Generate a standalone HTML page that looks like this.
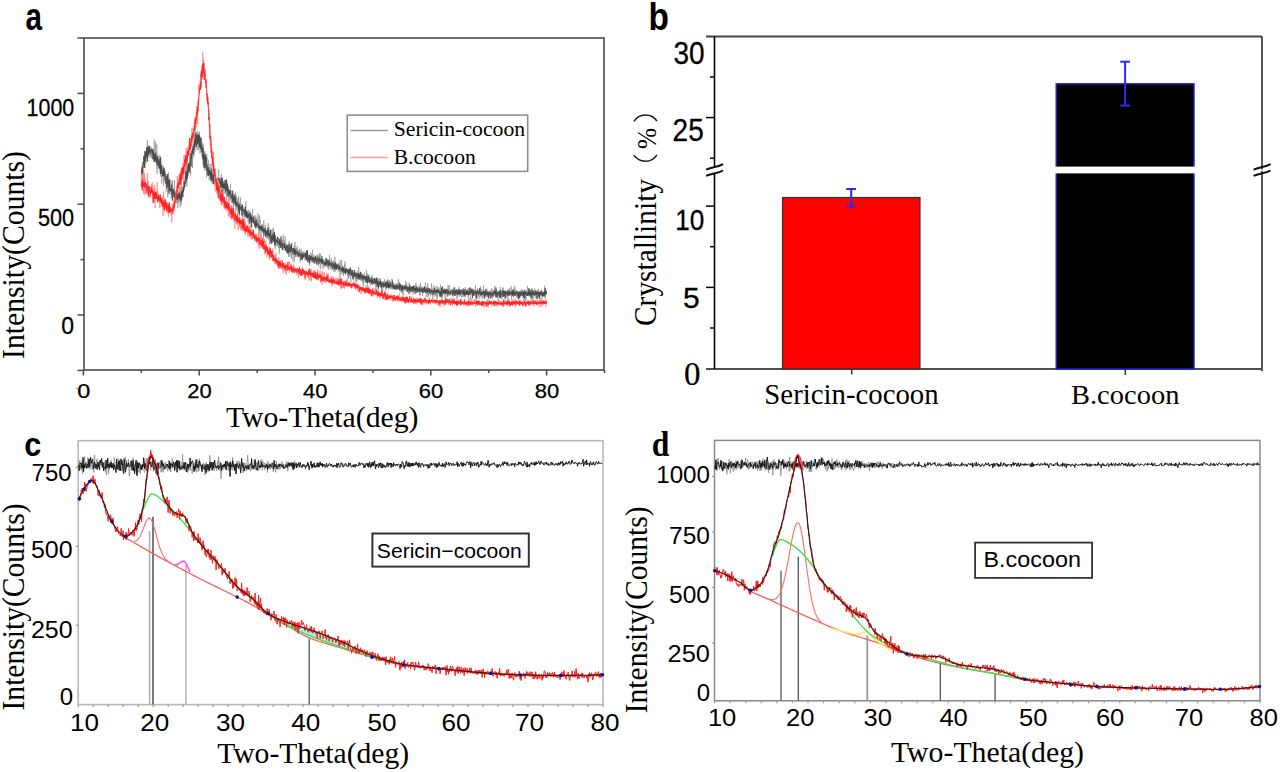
<!DOCTYPE html>
<html><head><meta charset="utf-8"><style>
html,body{margin:0;padding:0;background:#fff;}
svg{display:block;}
</style></head><body>
<svg width="1280" height="772" viewBox="0 0 1280 772">
<rect width="1280" height="772" fill="#fff"/>
<rect x="84" y="38" width="520" height="332" fill="none" stroke="#4a4a4a" stroke-width="1.6"/>
<line x1="77.5" y1="38" x2="84" y2="38" stroke="#4a4a4a" stroke-width="1.5" />
<line x1="77.5" y1="93.4" x2="84" y2="93.4" stroke="#4a4a4a" stroke-width="1.5" />
<line x1="80.5" y1="148.8" x2="84" y2="148.8" stroke="#4a4a4a" stroke-width="1.5" />
<line x1="77.5" y1="204.2" x2="84" y2="204.2" stroke="#4a4a4a" stroke-width="1.5" />
<line x1="80.5" y1="259.6" x2="84" y2="259.6" stroke="#4a4a4a" stroke-width="1.5" />
<line x1="77.5" y1="315" x2="84" y2="315" stroke="#4a4a4a" stroke-width="1.5" />
<line x1="77.5" y1="370.4" x2="84" y2="370.4" stroke="#4a4a4a" stroke-width="1.5" />
<line x1="83.4" y1="370" x2="83.4" y2="375.5" stroke="#4a4a4a" stroke-width="1.5" />
<line x1="141.3" y1="370" x2="141.3" y2="373" stroke="#4a4a4a" stroke-width="1.5" />
<line x1="199.2" y1="370" x2="199.2" y2="375.5" stroke="#4a4a4a" stroke-width="1.5" />
<line x1="257.1" y1="370" x2="257.1" y2="373" stroke="#4a4a4a" stroke-width="1.5" />
<line x1="315" y1="370" x2="315" y2="375.5" stroke="#4a4a4a" stroke-width="1.5" />
<line x1="372.9" y1="370" x2="372.9" y2="373" stroke="#4a4a4a" stroke-width="1.5" />
<line x1="430.8" y1="370" x2="430.8" y2="375.5" stroke="#4a4a4a" stroke-width="1.5" />
<line x1="488.7" y1="370" x2="488.7" y2="373" stroke="#4a4a4a" stroke-width="1.5" />
<line x1="546.6" y1="370" x2="546.6" y2="375.5" stroke="#4a4a4a" stroke-width="1.5" />
<line x1="604.5" y1="370" x2="604.5" y2="373" stroke="#4a4a4a" stroke-width="1.5" />
<text x="74.2" y="116.1" font-family='"Liberation Sans", sans-serif' font-size="24" font-weight="normal" fill="#000" text-anchor="end" textLength="47.6" lengthAdjust="spacingAndGlyphs" stroke="#000" stroke-width="0.3">1000</text>
<text x="74" y="226" font-family='"Liberation Sans", sans-serif' font-size="23" font-weight="normal" fill="#000" text-anchor="end" textLength="36.1" lengthAdjust="spacingAndGlyphs" stroke="#000" stroke-width="0.3">500</text>
<text x="74" y="333.8" font-family='"Liberation Sans", sans-serif' font-size="23" font-weight="normal" fill="#000" text-anchor="end" stroke="#000" stroke-width="0.3">0</text>
<text transform="translate(83.8,398) scale(1.2,1)" font-family='"Liberation Sans", sans-serif' font-size="19.5" text-anchor="middle" stroke="#000" stroke-width="0.25">0</text>
<text x="199.5" y="398" font-family='"Liberation Sans", sans-serif' font-size="19.5" font-weight="normal" fill="#000" text-anchor="middle" textLength="24.5" lengthAdjust="spacingAndGlyphs" stroke="#000" stroke-width="0.25">20</text>
<text x="315.3" y="398" font-family='"Liberation Sans", sans-serif' font-size="19.5" font-weight="normal" fill="#000" text-anchor="middle" textLength="24.5" lengthAdjust="spacingAndGlyphs" stroke="#000" stroke-width="0.25">40</text>
<text x="431.1" y="398" font-family='"Liberation Sans", sans-serif' font-size="19.5" font-weight="normal" fill="#000" text-anchor="middle" textLength="24.5" lengthAdjust="spacingAndGlyphs" stroke="#000" stroke-width="0.25">60</text>
<text x="546.9" y="398" font-family='"Liberation Sans", sans-serif' font-size="19.5" font-weight="normal" fill="#000" text-anchor="middle" textLength="24.5" lengthAdjust="spacingAndGlyphs" stroke="#000" stroke-width="0.25">80</text>
<text x="322.2" y="426.7" font-family='"Liberation Serif", serif' font-size="29" font-weight="normal" fill="#000" text-anchor="middle" textLength="192.5" lengthAdjust="spacingAndGlyphs" >Two-Theta(deg)</text>
<text x="24" y="255" font-family='"Liberation Serif", serif' font-size="31" font-weight="normal" fill="#000" text-anchor="middle" textLength="208" lengthAdjust="spacingAndGlyphs" transform="rotate(-90 24.0 255)">Intensity(Counts)</text>
<text transform="translate(25.6,29.8) scale(0.78,1)" font-family='"Liberation Sans", sans-serif' font-size="38" font-weight="bold">a</text>
<polyline fill="none" stroke="#9a9a9a" stroke-width="0.7" stroke-opacity="1" stroke-linejoin="round" points="141.3,172.1 141.4,176.6 141.5,173.7 141.6,170 141.8,173.8 141.9,167.5 142,172.9 142.1,169.5 142.2,183.7 142.3,169.2 142.5,167.2 142.6,167.3 142.7,162.4 142.8,164.6 142.9,167.7 143,164.7 143.2,165.6 143.3,161.4 143.4,164.5 143.5,158.5 143.6,163.4 143.7,168.2 143.8,163.2 144,167.5 144.1,162.4 144.2,159.4 144.3,166.6 144.4,156.4 144.5,163.1 144.7,161.6 144.8,156.9 144.9,158.6 145,168.1 145.1,163 145.2,153.1 145.4,152 145.5,160.4 145.6,159 145.7,152 145.8,158.1 145.9,153.2 146,163.8 146.2,161.8 146.3,158.7 146.4,151.2 146.5,154.7 146.6,157.6 146.7,156.2 146.9,153 147,153.4 147.1,156.3 147.2,158.7 147.3,140.3 147.4,161.2 147.6,152.8 147.7,148.7 147.8,149.9 147.9,151.2 148,149.7 148.1,148.6 148.2,149.7 148.4,157.1 148.5,156.8 148.6,145.9 148.7,149.6 148.8,149.2 148.9,145.1 149.1,147.6 149.2,153.1 149.3,150.8 149.4,151 149.5,155.9 149.6,151.2 149.8,145.9 149.9,153.4 150,146.2 150.1,148.5 150.2,157.9 150.3,155 150.4,155.1 150.6,148.5 150.7,155.5 150.8,151.9 150.9,150.9 151,147.1 151.1,150.6 151.3,154.2 151.4,155.7 151.5,151.2 151.6,156.7 151.7,156.6 151.8,154.4 152,158.5 152.1,154.4 152.2,155.9 152.3,157.9 152.4,155.7 152.5,149.7 152.6,156 152.8,155.1 152.9,149.1 153,153.1 153.1,154 153.2,155.1 153.3,158.5 153.5,160.9 153.6,148.5 153.7,159.6 153.8,161.8 153.9,157.1 154,155.6 154.2,153 154.3,139.6 154.4,160.2 154.5,158.4 154.6,156.1 154.7,152.8 154.8,153.7 155,158.2 155.1,154.3 155.2,151.7 155.3,157.5 155.4,162.4 155.5,141.8 155.7,148.2 155.8,156.8 155.9,156.4 156,158.8 156.1,159.9 156.2,155.9 156.4,156 156.5,161.4 156.6,158.4 156.7,167.3 156.8,144.2 156.9,156.9 157,173.6 157.2,166.7 157.3,157.6 157.4,157.6 157.5,161.3 157.6,160.2 157.7,164.4 157.9,154.6 158,161.6 158.1,160.2 158.2,168.8 158.3,160 158.4,161.5 158.6,161.4 158.7,164.9 158.8,167.5 158.9,156.5 159,157.1 159.1,161.1 159.2,164.8 159.4,164.6 159.5,165.4 159.6,163.1 159.7,162.6 159.8,164.4 159.9,155.1 160.1,160.9 160.2,171.4 160.3,165.8 160.4,160.8 160.5,167.2 160.6,176.5 160.8,161.3 160.9,165.8 161,169.9 161.1,172.2 161.2,167.9 161.3,165.7 161.4,165.8 161.6,169.3 161.7,183.6 161.8,171.8 161.9,174.4 162,166.6 162.1,164.6 162.3,171 162.4,175.3 162.5,177 162.6,176.1 162.7,168.7 162.8,170.7 163,169 163.1,171.8 163.2,165.8 163.3,172 163.4,169.6 163.5,185.6 163.6,172.7 163.8,169.6 163.9,169.3 164,178.6 164.1,176.3 164.2,182.1 164.3,170.7 164.5,178.3 164.6,174.3 164.7,176.1 164.8,177.4 164.9,176.4 165,172.9 165.2,174.5 165.3,173.8 165.4,180.5 165.5,171.3 165.6,178.9 165.7,179.7 165.8,180.7 166,178.4 166.1,179 166.2,191.8 166.3,181.2 166.4,183.5 166.5,182.1 166.7,181.8 166.8,183.2 166.9,188.7 167,174.2 167.1,181.7 167.2,178.8 167.4,177.2 167.5,185.3 167.6,177 167.7,186.5 167.8,197.6 167.9,181.8 168,180.5 168.2,191.8 168.3,186.9 168.4,187.3 168.5,172.3 168.6,179.1 168.7,184.1 168.9,185.1 169,177.6 169.1,189.9 169.2,188.7 169.3,183.6 169.4,186.4 169.6,190.4 169.7,190.3 169.8,187.8 169.9,190.3 170,183 170.1,190 170.2,183.7 170.4,189.4 170.5,187.8 170.6,190.1 170.7,191.2 170.8,179.5 170.9,186.4 171.1,195.1 171.2,193.5 171.3,198.7 171.4,190.8 171.5,196.8 171.6,190.5 171.8,191.4 171.9,181.8 172,195.4 172.1,193.7 172.2,196.2 172.3,190.7 172.5,180.5 172.6,193.2 172.7,192.8 172.8,194.6 172.9,189.2 173,188 173.1,189.5 173.3,191.5 173.4,188.6 173.5,191.6 173.6,192.5 173.7,193.5 173.8,189.9 174,193.5 174.1,191.7 174.2,195.3 174.3,191.1 174.4,180.2 174.5,192.6 174.7,196.2 174.8,190.9 174.9,200.4 175,194.9 175.1,194.1 175.2,196 175.3,195.9 175.5,191.4 175.6,194.1 175.7,196.9 175.8,195.5 175.9,202.4 176,198.8 176.2,203.5 176.3,196.8 176.4,189.3 176.5,197.2 176.6,197 176.7,196.5 176.9,202.7 177,197.6 177.1,200.3 177.2,199.6 177.3,202.9 177.4,191.7 177.5,198 177.7,195.3 177.8,195.3 177.9,208.3 178,199.5 178.1,198 178.2,194.1 178.4,195.5 178.5,202.5 178.6,199.3 178.7,194.3 178.8,195.8 178.9,196.6 179.1,195.2 179.2,194.4 179.3,200.2 179.4,195.7 179.5,199.5 179.6,198.2 179.7,197.2 179.9,195.9 180,198.4 180.1,192.6 180.2,207.3 180.3,198.1 180.4,187.1 180.6,194.9 180.7,196.3 180.8,192 180.9,188 181,194.1 181.1,197.8 181.3,204.7 181.4,194.3 181.5,198.3 181.6,201.5 181.7,194 181.8,195.8 181.9,190.5 182.1,199.2 182.2,187.4 182.3,195.8 182.4,192.7 182.5,191.9 182.6,193.2 182.8,197.6 182.9,193.8 183,192.1 183.1,191.4 183.2,193.2 183.3,196.5 183.5,190.1 183.6,189.8 183.7,188.5 183.8,180.5 183.9,186.1 184,187.5 184.1,188.5 184.3,180.8 184.4,182.6 184.5,186.4 184.6,181.6 184.7,187.3 184.8,182.5 185,176.6 185.1,180 185.2,179 185.3,182.2 185.4,171.4 185.5,177 185.7,164.7 185.8,183.6 185.9,181.5 186,176 186.1,179 186.2,179.6 186.3,183.3 186.5,170.1 186.6,169.7 186.7,160.2 186.8,186.4 186.9,166.7 187,176.4 187.2,173.9 187.3,168.2 187.4,174.7 187.5,174.6 187.6,175.5 187.7,172.7 187.9,173.9 188,169.6 188.1,167.9 188.2,167.5 188.3,167.3 188.4,170.9 188.5,166.7 188.7,171.5 188.8,172.2 188.9,168.9 189,169.7 189.1,165.9 189.2,165.4 189.4,169 189.5,162.2 189.6,162.7 189.7,155.7 189.8,157.2 189.9,165 190.1,156.9 190.2,160.8 190.3,161 190.4,156.7 190.5,167.5 190.6,175.4 190.7,156.1 190.9,157.2 191,155.2 191.1,155.2 191.2,153.6 191.3,154.3 191.4,157.1 191.6,155.9 191.7,151.1 191.8,158.5 191.9,155.1 192,152.5 192.1,165.3 192.3,150.9 192.4,147.5 192.5,166.9 192.6,168 192.7,146.2 192.8,149.8 192.9,151.1 193.1,144.8 193.2,157.7 193.3,142.6 193.4,146.1 193.5,147.9 193.6,143.6 193.8,144.9 193.9,149.3 194,155.9 194.1,143.2 194.2,153.7 194.3,139 194.5,146.8 194.6,139.8 194.7,135.3 194.8,151.5 194.9,151.8 195,130.9 195.1,141.9 195.3,133.2 195.4,142.4 195.5,145.2 195.6,140.2 195.7,138.9 195.8,145.3 196,139.9 196.1,132.1 196.2,147.8 196.3,143.5 196.4,137.6 196.5,140.3 196.7,138 196.8,142 196.9,136.1 197,145.4 197.1,150.1 197.2,134.5 197.3,130.6 197.5,135.2 197.6,144.8 197.7,137.6 197.8,145.1 197.9,140.9 198,143.7 198.2,132.4 198.3,138.3 198.4,135.4 198.5,147.3 198.6,149.9 198.7,142.7 198.9,137.5 199,135.2 199.1,146.6 199.2,132.9 199.3,141.7 199.4,131.4 199.5,136.6 199.7,134.7 199.8,144.4 199.9,145.2 200,153.6 200.1,150.8 200.2,137.6 200.4,146.6 200.5,145 200.6,137.5 200.7,147.5 200.8,147 200.9,144.7 201.1,151.6 201.2,149.6 201.3,152.6 201.4,137 201.5,150.8 201.6,147.9 201.7,143.1 201.9,142.1 202,157.3 202.1,151.4 202.2,148.4 202.3,143.3 202.4,154.1 202.6,155.5 202.7,156.1 202.8,154.5 202.9,155.2 203,164.8 203.1,151.3 203.3,152.7 203.4,152.2 203.5,143.9 203.6,156 203.7,152.4 203.8,158.6 203.9,160.2 204.1,155.7 204.2,151.2 204.3,161.8 204.4,159.4 204.5,163.2 204.6,156.7 204.8,151.3 204.9,171.2 205,161.6 205.1,159 205.2,161.6 205.3,160.5 205.5,169 205.6,164.4 205.7,161.7 205.8,167.6 205.9,162.1 206,153.7 206.1,162.7 206.3,167.5 206.4,162.2 206.5,177.7 206.6,163.1 206.7,174.1 206.8,154.3 207,163.2 207.1,174 207.2,167 207.3,168.3 207.4,163.9 207.5,169.7 207.7,169 207.8,175.5 207.9,170 208,172.9 208.1,174.3 208.2,166.1 208.3,159.7 208.5,174 208.6,171.1 208.7,169.8 208.8,173.9 208.9,172.4 209,172.1 209.2,180 209.3,175.1 209.4,164 209.5,166.2 209.6,166.7 209.7,170.6 209.9,167.2 210,174.1 210.1,174.3 210.2,180.5 210.3,177.6 210.4,171.8 210.5,174.5 210.7,176.1 210.8,178.4 210.9,176.9 211,163.8 211.1,173.7 211.2,170.8 211.4,173.7 211.5,180.4 211.6,177.2 211.7,182 211.8,176.9 211.9,177.3 212.1,178 212.2,184.2 212.3,176.2 212.4,175.6 212.5,179.5 212.6,180.7 212.7,173.7 212.9,181.5 213,175.7 213.1,181.9 213.2,178.3 213.3,174.3 213.4,182 213.6,177.1 213.7,176.6 213.8,178.6 213.9,176.4 214,180.6 214.1,182.8 214.3,183.4 214.4,184 214.5,178.1 214.6,182.9 214.7,180.2 214.8,182.6 214.9,173 215.1,176.8 215.2,182.2 215.3,174.9 215.4,181 215.5,180.2 215.6,172.1 215.8,177.6 215.9,187.1 216,181.6 216.1,183.9 216.2,182.1 216.3,180.5 216.5,182.1 216.6,181.4 216.7,181.7 216.8,184.4 216.9,183.2 217,186.1 217.1,176.9 217.3,181.6 217.4,178.4 217.5,182.9 217.6,179.1 217.7,184.9 217.8,184.2 218,178.8 218.1,183.9 218.2,181.4 218.3,183.3 218.4,183 218.5,190.5 218.7,169.3 218.8,177.6 218.9,184.4 219,183 219.1,182.9 219.2,189 219.3,182.4 219.5,185 219.6,181.7 219.7,185.9 219.8,188.7 219.9,184.5 220,181.1 220.2,180.2 220.3,177 220.4,182.4 220.5,186.5 220.6,177.4 220.7,184 220.9,183.6 221,193 221.1,188.6 221.2,186 221.3,178 221.4,179.5 221.5,187 221.7,174 221.8,183.1 221.9,187 222,183.4 222.1,181.8 222.2,183.4 222.4,192.2 222.5,177.6 222.6,185.3 222.7,190.5 222.8,183.7 222.9,181.5 223.1,185.1 223.2,188.3 223.3,195.9 223.4,188.2 223.5,189.6 223.6,188.3 223.7,184.1 223.9,185.4 224,182.1 224.1,187.4 224.2,182.5 224.3,183.5 224.4,181.5 224.6,189.3 224.7,185.1 224.8,194 224.9,187.4 225,187.3 225.1,185.2 225.3,185.8 225.4,193.4 225.5,183.4 225.6,191 225.7,186.3 225.8,189.9 225.9,181.3 226.1,185.2 226.2,193.5 226.3,183.3 226.4,202.2 226.5,202.3 226.6,184.2 226.8,185.2 226.9,186.7 227,185.1 227.1,196.4 227.2,189.3 227.3,184.7 227.5,193.7 227.6,191.5 227.7,187 227.8,190.3 227.9,194.9 228,191.3 228.1,189.1 228.3,190.5 228.4,191.2 228.5,186.3 228.6,192.6 228.7,201.2 228.8,191.8 229,197.8 229.1,190.8 229.2,189.6 229.3,191.8 229.4,194.6 229.5,192.5 229.7,189.8 229.8,197.7 229.9,199.1 230,193.5 230.1,197.2 230.2,196.2 230.4,197.1 230.5,184.1 230.6,198.2 230.7,194.6 230.8,199.8 230.9,193.2 231,194.4 231.2,202.5 231.3,196.6 231.4,198.3 231.5,196.5 231.6,199.6 231.7,196.1 231.9,199.5 232,202.8 232.1,198 232.2,194.9 232.3,193.2 232.4,193.8 232.6,200.2 232.7,196.5 232.8,201.4 232.9,197.1 233,201.5 233.1,199 233.2,197.9 233.4,201.8 233.5,213.1 233.6,200.1 233.7,203 233.8,203.2 233.9,196.4 234.1,198.5 234.2,198.2 234.3,199.1 234.4,195.7 234.5,204.1 234.6,205.1 234.8,202.2 234.9,194.8 235,200 235.1,196.1 235.2,205.5 235.3,204.8 235.4,201 235.6,191.8 235.7,199 235.8,204.6 235.9,210.9 236,199.4 236.1,201.7 236.3,199.9 236.4,204.7 236.5,195.5 236.6,198.8 236.7,208.9 236.8,205.1 237,198.2 237.1,200.2 237.2,204.9 237.3,203.2 237.4,202.7 237.5,205.5 237.6,203.5 237.8,212.6 237.9,204.8 238,201.5 238.1,205.6 238.2,201 238.3,200.9 238.5,198.1 238.6,205.3 238.7,196.2 238.8,200.8 238.9,204.3 239,207.7 239.2,203.9 239.3,205.1 239.4,207.2 239.5,202.7 239.6,204.4 239.7,208.6 239.8,204.8 240,205 240.1,205.8 240.2,207.4 240.3,205.8 240.4,203.1 240.5,197.5 240.7,208.1 240.8,204.3 240.9,205.1 241,207.8 241.1,208.5 241.2,209.4 241.4,215.1 241.5,203.8 241.6,205.8 241.7,211.7 241.8,214.6 241.9,211.1 242,210.1 242.2,208.2 242.3,211.1 242.4,207 242.5,208.1 242.6,205.4 242.7,209.6 242.9,209.1 243,210.7 243.1,215.6 243.2,213.6 243.3,209.3 243.4,208.9 243.6,217 243.7,211.4 243.8,213.7 243.9,208.5 244,206.7 244.1,214 244.2,209.5 244.4,212.8 244.5,212.2 244.6,216.6 244.7,215.2 244.8,210.8 244.9,208.8 245.1,213.4 245.2,215.6 245.3,215.4 245.4,213.2 245.5,214.7 245.6,217.3 245.8,201.3 245.9,209 246,217.7 246.1,211.7 246.2,212.1 246.3,211.3 246.4,216.2 246.6,216.5 246.7,214.5 246.8,215.3 246.9,212.1 247,212 247.1,214.8 247.3,217.9 247.4,212.7 247.5,216.9 247.6,214.5 247.7,214.1 247.8,218.1 248,213.3 248.1,209.8 248.2,221.7 248.3,218.6 248.4,217.6 248.5,218.3 248.6,212.8 248.8,212.8 248.9,224.5 249,210 249.1,220.2 249.2,216.7 249.3,212.6 249.5,216.4 249.6,212.6 249.7,217 249.8,221.7 249.9,218.1 250,220.5 250.2,216.1 250.3,216.3 250.4,219.8 250.5,213.1 250.6,218 250.7,211.5 250.8,220 251,223.1 251.1,217.7 251.2,215.4 251.3,216.7 251.4,218.2 251.5,222 251.7,217.2 251.8,220.9 251.9,221.7 252,215.3 252.1,215.8 252.2,222.1 252.4,219.3 252.5,218.6 252.6,209.1 252.7,218.7 252.8,218.5 252.9,223.1 253,221.4 253.2,223.1 253.3,216.8 253.4,217.2 253.5,222.4 253.6,216.2 253.7,216.2 253.9,223.6 254,219.4 254.1,216.8 254.2,223.4 254.3,226.6 254.4,225.5 254.6,222 254.7,219.9 254.8,226.5 254.9,215 255,225.1 255.1,217.1 255.2,223.6 255.4,228.8 255.5,228.9 255.6,225.9 255.7,221 255.8,223.6 255.9,216.8 256.1,222.9 256.2,223.2 256.3,221.9 256.4,225.2 256.5,219.6 256.6,228.3 256.8,219.6 256.9,226.1 257,220.5 257.1,226.9 257.2,223 257.3,224 257.4,226.2 257.6,225.2 257.7,228 257.8,213.1 257.9,227.2 258,226.4 258.1,223.7 258.3,224.9 258.4,222.2 258.5,227.2 258.6,228.5 258.7,235.2 258.8,229.9 259,216.8 259.1,227.4 259.2,230.5 259.3,231.2 259.4,226.1 259.5,222.4 259.6,214.9 259.8,225.4 259.9,221.1 260,222.6 260.1,220 260.2,232.1 260.3,229.1 260.5,228.9 260.6,226.4 260.7,230.9 260.8,228.5 260.9,226.4 261,235 261.2,230.5 261.3,230.8 261.4,225.9 261.5,228.5 261.6,229.3 261.7,229.4 261.8,225.6 262,230 262.1,224.2 262.2,228.5 262.3,228.5 262.4,230.5 262.5,231.4 262.7,227.2 262.8,231.6 262.9,230.2 263,232.5 263.1,224.8 263.2,230.1 263.4,229 263.5,239.3 263.6,236.8 263.7,232.6 263.8,220.3 263.9,236.3 264,228.6 264.2,233 264.3,228.6 264.4,228.5 264.5,231.9 264.6,232.4 264.7,231.4 264.9,229.6 265,230.9 265.1,232 265.2,230.3 265.3,232.8 265.4,224.9 265.6,232.1 265.7,231.5 265.8,234.4 265.9,232.5 266,231.7 266.1,235.9 266.2,233.5 266.4,230.7 266.5,234.9 266.6,230.8 266.7,230.1 266.8,239.1 266.9,233.3 267.1,237.3 267.2,230.9 267.3,236.7 267.4,233.1 267.5,237.9 267.6,231.7 267.8,233.9 267.9,236.5 268,232.5 268.1,235.1 268.2,223 268.3,237.5 268.4,239.8 268.6,236.3 268.7,236.3 268.8,226.3 268.9,235.2 269,233.3 269.1,230.9 269.3,234.4 269.4,244.3 269.5,239.5 269.6,237.4 269.7,235.1 269.8,232 270,238.2 270.1,233 270.2,235.9 270.3,234.7 270.4,235.1 270.5,237.6 270.6,229.4 270.8,233.9 270.9,236 271,242.6 271.1,234.7 271.2,236.9 271.3,230 271.5,239.5 271.6,238.3 271.7,243.3 271.8,234.5 271.9,241 272,237 272.2,239.9 272.3,229.3 272.4,236 272.5,236 272.6,241.2 272.7,237.7 272.8,242 273,236.3 273.1,240.4 273.2,235.8 273.3,227.5 273.4,237.2 273.5,241.1 273.7,238.7 273.8,237.7 273.9,239.2 274,231.9 274.1,242.6 274.2,237 274.4,237.9 274.5,239.7 274.6,245.6 274.7,244.5 274.8,237.4 274.9,240.4 275,245.9 275.2,249.1 275.3,238 275.4,239.4 275.5,239.4 275.6,245.3 275.7,241.9 275.9,239.8 276,242 276.1,242.6 276.2,241.7 276.3,244.1 276.4,244.3 276.6,241.6 276.7,243.3 276.8,240.8 276.9,246 277,238.1 277.1,239.2 277.2,243.7 277.4,245.4 277.5,240.1 277.6,243.1 277.7,242.4 277.8,243 277.9,240.3 278.1,246.5 278.2,242.7 278.3,243.7 278.4,237.2 278.5,243.2 278.6,248 278.8,242.3 278.9,243.5 279,242.1 279.1,243.7 279.2,244.7 279.3,253.6 279.4,244.4 279.6,242 279.7,245.4 279.8,240.8 279.9,248 280,243.1 280.1,244.6 280.3,244.2 280.4,246.3 280.5,243.7 280.6,245.9 280.7,243.5 280.8,244.8 281,239.4 281.1,243.3 281.2,240.6 281.3,244.5 281.4,243.9 281.5,243.1 281.6,245.4 281.8,248.6 281.9,243.1 282,246.4 282.1,245.6 282.2,242.1 282.3,239.9 282.5,244.5 282.6,247.1 282.7,240.7 282.8,247.6 282.9,240.6 283,250.3 283.2,234.7 283.3,241 283.4,246.7 283.5,245.5 283.6,243.9 283.7,245.7 283.8,244.8 284,247.3 284.1,245.7 284.2,245.8 284.3,247.9 284.4,239.9 284.5,246.4 284.7,248.3 284.8,249.4 284.9,245.6 285,248 285.1,236.1 285.2,250.3 285.4,243.6 285.5,249.9 285.6,250.7 285.7,245.5 285.8,245.4 285.9,245.6 286,247.2 286.2,245.8 286.3,247.9 286.4,243.4 286.5,252.4 286.6,246.4 286.7,247.2 286.9,246.1 287,249.4 287.1,253.9 287.2,244.8 287.3,253.3 287.4,245.9 287.6,249.2 287.7,252.8 287.8,246.7 287.9,248.9 288,246.6 288.1,249.7 288.3,246.7 288.4,249.1 288.5,243.7 288.6,257 288.7,249.9 288.8,246.3 288.9,249.7 289.1,241 289.2,246.2 289.3,245 289.4,247.9 289.5,244.2 289.6,245.9 289.8,249.4 289.9,254.5 290,256.4 290.1,256.7 290.2,243.6 290.3,251.5 290.5,254.7 290.6,250.4 290.7,247.1 290.8,251.3 290.9,250.9 291,247.3 291.1,250.5 291.3,244.2 291.4,258.6 291.5,250.1 291.6,245.5 291.7,251.7 291.8,251.2 292,248.9 292.1,251.1 292.2,252.8 292.3,250 292.4,248 292.5,252.1 292.7,255 292.8,248.3 292.9,261.4 293,251.4 293.1,248 293.2,252.1 293.3,253 293.5,254.1 293.6,253.3 293.7,252.5 293.8,253.3 293.9,251.8 294,252 294.2,245.7 294.3,253.5 294.4,262.2 294.5,259.3 294.6,253.5 294.7,250.9 294.9,255.8 295,242 295.1,253.2 295.2,248.1 295.3,256.7 295.4,257.3 295.5,249.7 295.7,253.7 295.8,254.6 295.9,252.3 296,251.9 296.1,248.9 296.2,250.4 296.4,247.8 296.5,253.8 296.6,256.1 296.7,256.4 296.8,247.9 296.9,255.9 297.1,257.2 297.2,254.1 297.3,245.8 297.4,252 297.5,251.6 297.6,253.6 297.7,252.6 297.9,254.3 298,253.1 298.1,253.4 298.2,257.2 298.3,255.7 298.4,250.4 298.6,254.5 298.7,256.8 298.8,254.4 298.9,254.7 299,251.6 299.1,256.2 299.3,256.1 299.4,248.7 299.5,252.1 299.6,249.6 299.7,254.3 299.8,255 299.9,256.1 300.1,254.7 300.2,262.3 300.3,254.6 300.4,259.9 300.5,255.4 300.6,251 300.8,260.6 300.9,250.6 301,252.4 301.1,256.6 301.2,248.6 301.3,253.7 301.5,255.6 301.6,252.2 301.7,255.6 301.8,254.2 301.9,256.7 302,259.3 302.1,256.2 302.3,256.7 302.4,255.2 302.5,255.4 302.6,252.1 302.7,256.4 302.8,253.8 303,256.2 303.1,254.9 303.2,256.1 303.3,254.6 303.4,254.9 303.5,251.3 303.7,254 303.8,257.5 303.9,258.3 304,251.1 304.1,252.9 304.2,254.6 304.3,253.4 304.5,255.8 304.6,256.8 304.7,255.9 304.8,257 304.9,260.2 305,260.8 305.2,260.5 305.3,255.1 305.4,256.5 305.5,254.5 305.6,258.6 305.7,253.8 305.9,258 306,254.9 306.1,256.5 306.2,254.7 306.3,260.5 306.4,253.5 306.5,256.4 306.7,255.6 306.8,259.5 306.9,258.4 307,257.5 307.1,258.3 307.2,261.3 307.4,260 307.5,256.5 307.6,258.4 307.7,256.6 307.8,255.5 307.9,254.2 308.1,259.7 308.2,260.2 308.3,257.7 308.4,257 308.5,258.7 308.6,255 308.7,257.4 308.9,255.6 309,260 309.1,255.1 309.2,255.6 309.3,264 309.4,258 309.6,255.1 309.7,265.7 309.8,258.4 309.9,261.4 310,254.7 310.1,255.6 310.3,256.7 310.4,258.4 310.5,257.5 310.6,256.5 310.7,254.8 310.8,256.7 310.9,252.6 311.1,260.2 311.2,257.8 311.3,254.5 311.4,254.9 311.5,258.7 311.6,259.9 311.8,262.6 311.9,255.9 312,259.3 312.1,261.8 312.2,260.2 312.3,253.7 312.5,250 312.6,260.4 312.7,260.9 312.8,256.7 312.9,257.1 313,258 313.1,258.3 313.3,260.2 313.4,257.5 313.5,256.7 313.6,258.5 313.7,260.7 313.8,257.1 314,254.7 314.1,264 314.2,262.9 314.3,258.6 314.4,257.5 314.5,263.6 314.7,257 314.8,257.9 314.9,261.8 315,258.3 315.1,259.3 315.2,261.5 315.3,260.2 315.5,259.8 315.6,262.6 315.7,256.9 315.8,261.3 315.9,263.4 316,263.7 316.2,260.1 316.3,261.2 316.4,261.8 316.5,255.5 316.6,255 316.7,255.6 316.9,263.5 317,255.8 317.1,260.1 317.2,262.2 317.3,260.6 317.4,255.9 317.5,259.5 317.7,255.4 317.8,264.9 317.9,260.2 318,256.9 318.1,259.1 318.2,262.7 318.4,255.4 318.5,266.2 318.6,263 318.7,258.7 318.8,264.5 318.9,261.6 319.1,255.8 319.2,260.9 319.3,253.1 319.4,262 319.5,257.3 319.6,259.6 319.7,262.2 319.9,260.8 320,260.7 320.1,258.8 320.2,264.5 320.3,267.2 320.4,268.8 320.6,261.3 320.7,253.7 320.8,266.3 320.9,261.6 321,264 321.1,261.2 321.3,260.2 321.4,261.2 321.5,259.8 321.6,260 321.7,262.6 321.8,260.2 321.9,260.1 322.1,262.2 322.2,263.1 322.3,259.3 322.4,259.1 322.5,259.8 322.6,264.4 322.8,262.4 322.9,262.7 323,258.9 323.1,269.1 323.2,264.2 323.3,261.4 323.5,266 323.6,262.7 323.7,262.6 323.8,263.3 323.9,260.7 324,261.1 324.1,263.2 324.3,262.3 324.4,266.5 324.5,265.3 324.6,263.6 324.7,266.2 324.8,260.2 325,262.9 325.1,264.3 325.2,265.2 325.3,262.3 325.4,258.4 325.5,265.3 325.7,265.9 325.8,262.3 325.9,266.2 326,263.3 326.1,257.7 326.2,258.9 326.3,263.1 326.5,264 326.6,263.2 326.7,261.8 326.8,260.6 326.9,262.4 327,262.9 327.2,266.7 327.3,264 327.4,268.1 327.5,263.6 327.6,264.9 327.7,267.2 327.9,263.3 328,263.4 328.1,264.9 328.2,266.4 328.3,265.3 328.4,264.6 328.5,269.9 328.7,262.4 328.8,264.9 328.9,268.9 329,259.8 329.1,262.9 329.2,260.5 329.4,264.2 329.5,264.2 329.6,254.9 329.7,265.1 329.8,262.8 329.9,260.4 330.1,266.5 330.2,266.4 330.3,265.8 330.4,267.5 330.5,263.8 330.6,267.9 330.7,264.2 330.9,265.6 331,261.7 331.1,264.5 331.2,266.8 331.3,270.4 331.4,258.4 331.6,267.3 331.7,260.6 331.8,266.2 331.9,267.4 332,263.3 332.1,267.4 332.3,264.6 332.4,267.3 332.5,267.3 332.6,268.4 332.7,264.4 332.8,268.3 332.9,266.6 333.1,268.4 333.2,270.2 333.3,260.8 333.4,262.4 333.5,267.9 333.6,260.7 333.8,271.6 333.9,265.7 334,267.9 334.1,264.6 334.2,264.4 334.3,269.8 334.5,261.3 334.6,270.8 334.7,267.9 334.8,262.3 334.9,272 335,257 335.1,265.4 335.3,266 335.4,264.5 335.5,268.1 335.6,267.3 335.7,269.5 335.8,265.1 336,266.8 336.1,267.5 336.2,263.7 336.3,267.2 336.4,264.1 336.5,269.6 336.7,263.1 336.8,266.1 336.9,264.7 337,264.8 337.1,267.3 337.2,269.9 337.3,268.9 337.5,268.3 337.6,266.9 337.7,265.7 337.8,266.9 337.9,268.1 338,264.8 338.2,265.9 338.3,265.8 338.4,269.8 338.5,270.3 338.6,270.6 338.7,271.1 338.9,262.5 339,268.9 339.1,270 339.2,271.9 339.3,268 339.4,266.1 339.5,268.7 339.7,269.9 339.8,267.6 339.9,266 340,277.4 340.1,269.3 340.2,260.3 340.4,268 340.5,269.1 340.6,275 340.7,268.5 340.8,265.4 340.9,265.7 341.1,273.4 341.2,272.2 341.3,269.4 341.4,268.8 341.5,266.8 341.6,259.8 341.7,264.3 341.9,271 342,268.6 342.1,270.3 342.2,269.2 342.3,266.1 342.4,265.5 342.6,266.2 342.7,271.9 342.8,267 342.9,268.2 343,275 343.1,270.6 343.3,266.6 343.4,270.7 343.5,269 343.6,275.8 343.7,270 343.8,270.3 343.9,271.5 344.1,270.8 344.2,267.4 344.3,268.9 344.4,271.6 344.5,270.9 344.6,264.4 344.8,270.7 344.9,269.1 345,261.3 345.1,267.5 345.2,267.2 345.3,268.8 345.5,271.7 345.6,272.8 345.7,268.9 345.8,272.7 345.9,271.9 346,268 346.2,269.9 346.3,272.9 346.4,272.4 346.5,268 346.6,272.4 346.7,270.7 346.8,272.8 347,271.7 347.1,271.6 347.2,271.2 347.3,271.5 347.4,276 347.5,273.5 347.7,270.4 347.8,277.4 347.9,275.1 348,270.3 348.1,269.9 348.2,272.6 348.4,270.6 348.5,278.8 348.6,274.7 348.7,268.8 348.8,272.1 348.9,273.2 349,271.5 349.2,268.9 349.3,272.7 349.4,274.2 349.5,277.4 349.6,272.3 349.7,271.2 349.9,269.9 350,270.5 350.1,271.2 350.2,274.7 350.3,274.3 350.4,272.3 350.6,273 350.7,270.1 350.8,281.7 350.9,269.1 351,272.8 351.1,275.4 351.2,275.3 351.4,272.7 351.5,273.1 351.6,272.4 351.7,273.4 351.8,272.4 351.9,270.1 352.1,270.7 352.2,270.4 352.3,274.5 352.4,275.5 352.5,270 352.6,275 352.8,275.1 352.9,271.9 353,274.8 353.1,277.4 353.2,271.6 353.3,273.7 353.4,273.3 353.6,280.6 353.7,276.4 353.8,275.1 353.9,272.4 354,276.5 354.1,273.5 354.3,274.7 354.4,276.3 354.5,275.2 354.6,275.3 354.7,273.2 354.8,272.5 355,273.7 355.1,274.6 355.2,278.5 355.3,274.6 355.4,273.2 355.5,273.1 355.6,273 355.8,281.8 355.9,275.5 356,273.7 356.1,274.6 356.2,278 356.3,272.5 356.5,275.5 356.6,282.7 356.7,276.8 356.8,274 356.9,278.2 357,272.8 357.2,273 357.3,270.9 357.4,275.3 357.5,274.7 357.6,274.9 357.7,275.2 357.8,274.5 358,274.9 358.1,280.5 358.2,278.6 358.3,277.4 358.4,277.2 358.5,274.5 358.7,267.1 358.8,276.1 358.9,274.8 359,275.6 359.1,276.5 359.2,272.6 359.4,273.2 359.5,277.7 359.6,278.4 359.7,277.3 359.8,276.7 359.9,276.3 360,275.3 360.2,277.1 360.3,276.6 360.4,280.6 360.5,273.7 360.6,271.7 360.7,274.8 360.9,277.9 361,275.6 361.1,276.6 361.2,277.9 361.3,276.5 361.4,272.9 361.6,275.1 361.7,281 361.8,277 361.9,275.2 362,277.9 362.1,274.8 362.2,276.2 362.4,282.1 362.5,275.6 362.6,281.2 362.7,277.6 362.8,282.9 362.9,283.5 363.1,280.6 363.2,275.8 363.3,276.7 363.4,286.3 363.5,274.5 363.6,277.3 363.8,276.4 363.9,275.8 364,278.9 364.1,275.7 364.2,279.3 364.3,278.9 364.4,275.3 364.6,272.6 364.7,276.4 364.8,276.6 364.9,279.3 365,281.3 365.1,283 365.3,278.3 365.4,276.7 365.5,279.4 365.6,277.8 365.7,278.4 365.8,277.6 366,277.6 366.1,278.8 366.2,277.9 366.3,279.5 366.4,280 366.5,270.4 366.6,275 366.8,280.5 366.9,275.9 367,276.5 367.1,283.9 367.2,287.5 367.3,279.4 367.5,273.6 367.6,278.8 367.7,280.7 367.8,278.5 367.9,280.8 368,282.4 368.2,276.6 368.3,278.9 368.4,279 368.5,276.7 368.6,281.4 368.7,279.3 368.8,281.5 369,274.4 369.1,278.5 369.2,282.1 369.3,281.7 369.4,278.4 369.5,278.9 369.7,277.9 369.8,278.7 369.9,282.3 370,280.5 370.1,279.5 370.2,283.4 370.4,285.6 370.5,282.6 370.6,278.1 370.7,282.7 370.8,279.3 370.9,280 371,278.6 371.2,281.9 371.3,280.8 371.4,278.5 371.5,282.4 371.6,277.1 371.7,281.6 371.9,280.5 372,279.6 372.1,274.8 372.2,280 372.3,279.7 372.4,281.7 372.6,282.4 372.7,279.4 372.8,279.7 372.9,282.5 373,282.9 373.1,278.9 373.2,283.1 373.4,282.7 373.5,282.5 373.6,284.5 373.7,278.1 373.8,280.9 373.9,281.8 374.1,283 374.2,283.5 374.3,281.5 374.4,281.3 374.5,280.2 374.6,281.7 374.8,281.3 374.9,281.5 375,280.1 375.1,280.3 375.2,285.1 375.3,281.8 375.4,283.1 375.6,278.3 375.7,280.9 375.8,280.8 375.9,290.6 376,278.5 376.1,282.9 376.3,283.7 376.4,287.2 376.5,284.4 376.6,282.8 376.7,277.8 376.8,283.6 377,281.1 377.1,279.9 377.2,282.7 377.3,283.8 377.4,282.5 377.5,279.6 377.6,282.1 377.8,281.5 377.9,284.3 378,282.2 378.1,282 378.2,278.7 378.3,286.1 378.5,282.3 378.6,288.1 378.7,279.5 378.8,285.3 378.9,282.9 379,281 379.2,281.6 379.3,284.3 379.4,287 379.5,282.9 379.6,284.6 379.7,283.7 379.8,282 380,277.9 380.1,283 380.2,282.6 380.3,278.5 380.4,281.9 380.5,282.5 380.7,281.8 380.8,287.2 380.9,284.9 381,281.6 381.1,286.1 381.2,282.1 381.4,282 381.5,292.1 381.6,282.4 381.7,284.8 381.8,283.3 381.9,287.2 382,285.7 382.2,282.3 382.3,281.6 382.4,287.8 382.5,286.2 382.6,292.4 382.7,283.7 382.9,285.7 383,285.2 383.1,285.8 383.2,281.1 383.3,286.8 383.4,287.9 383.6,287.1 383.7,286.2 383.8,282.1 383.9,281.5 384,282.7 384.1,286.6 384.2,283.6 384.4,280.8 384.5,282 384.6,279.1 384.7,287 384.8,286.6 384.9,284.4 385.1,285.8 385.2,287.2 385.3,284.7 385.4,281.5 385.5,285.9 385.6,290.5 385.8,288.4 385.9,285.6 386,289.5 386.1,288.7 386.2,288 386.3,285.4 386.4,282.9 386.6,285.7 386.7,284.4 386.8,284.6 386.9,282.4 387,284.7 387.1,286.5 387.3,284.5 387.4,284.3 387.5,283.4 387.6,284.9 387.7,279.3 387.8,282.6 388,286.4 388.1,280.3 388.2,283.9 388.3,288.7 388.4,282.2 388.5,289.4 388.6,284.7 388.8,286.6 388.9,284.1 389,287.9 389.1,281.9 389.2,285.3 389.3,285 389.5,279.8 389.6,285 389.7,280.2 389.8,286 389.9,284.8 390,287.5 390.2,286.7 390.3,289.1 390.4,282.7 390.5,284.2 390.6,284.8 390.7,282.4 390.8,288.1 391,286.1 391.1,285 391.2,286.3 391.3,289.2 391.4,286.3 391.5,284.3 391.7,281.8 391.8,284.5 391.9,287.8 392,278.2 392.1,287.5 392.2,286.3 392.4,286.1 392.5,287 392.6,285.9 392.7,287.8 392.8,285.5 392.9,289.4 393,287.6 393.2,289.2 393.3,286.7 393.4,285.8 393.5,285.5 393.6,286.1 393.7,283.3 393.9,287.7 394,286.8 394.1,283 394.2,284.5 394.3,286.4 394.4,288.3 394.6,285.8 394.7,289.6 394.8,289.8 394.9,290 395,287.6 395.1,286.3 395.2,286.2 395.4,285.6 395.5,285.9 395.6,288.1 395.7,287.8 395.8,284.2 395.9,289.2 396.1,283.3 396.2,283.4 396.3,283.4 396.4,289.2 396.5,283.8 396.6,288.1 396.8,287.6 396.9,288.2 397,285.6 397.1,285.6 397.2,287.2 397.3,285.4 397.4,286.8 397.6,283.1 397.7,288.9 397.8,288.9 397.9,288 398,283.9 398.1,284.4 398.3,284.7 398.4,279.1 398.5,285.6 398.6,287.6 398.7,287.8 398.8,288.8 399,284.2 399.1,283.6 399.2,285.6 399.3,286.5 399.4,285.2 399.5,285.4 399.6,281.6 399.8,285.6 399.9,283.9 400,288.9 400.1,284.1 400.2,291.9 400.3,285.3 400.5,289.6 400.6,285.9 400.7,285.8 400.8,287.9 400.9,287.8 401,290.9 401.2,289.6 401.3,288 401.4,286.6 401.5,289 401.6,284.8 401.7,288.7 401.8,289.2 402,289.6 402.1,293.7 402.2,287.5 402.3,289.1 402.4,291.3 402.5,287.1 402.7,288.3 402.8,286.7 402.9,285.3 403,287.4 403.1,289.5 403.2,295.7 403.4,288.4 403.5,287.2 403.6,289.4 403.7,289 403.8,286 403.9,286.3 404.1,290.7 404.2,289.3 404.3,285.2 404.4,289.6 404.5,287.3 404.6,286.9 404.7,287.5 404.9,291 405,286.4 405.1,284.5 405.2,286.3 405.3,287.4 405.4,289.2 405.6,287.3 405.7,285.8 405.8,280.9 405.9,284.7 406,288.4 406.1,285.9 406.3,285.4 406.4,289 406.5,291.8 406.6,285.1 406.7,282.9 406.8,289.9 406.9,286.8 407.1,287.3 407.2,287.6 407.3,292.1 407.4,290.9 407.5,286.1 407.6,291.6 407.8,288 407.9,287.6 408,286.9 408.1,288.5 408.2,289.1 408.3,289 408.5,288.3 408.6,288.4 408.7,287.4 408.8,291.4 408.9,289.5 409,285.7 409.1,282.7 409.3,288.2 409.4,291.4 409.5,285.7 409.6,289.4 409.7,290.8 409.8,284.6 410,289.7 410.1,285.9 410.2,287.4 410.3,289.8 410.4,290.1 410.5,285.8 410.7,290.2 410.8,288 410.9,288 411,286.4 411.1,288.8 411.2,291.4 411.3,290.1 411.5,288.3 411.6,287.9 411.7,287.6 411.8,289 411.9,288.6 412,289.5 412.2,289.9 412.3,287.4 412.4,289.9 412.5,289.7 412.6,289.6 412.7,291.7 412.9,287.6 413,290.4 413.1,294.6 413.2,287.7 413.3,288.5 413.4,290.1 413.5,288.3 413.7,291.2 413.8,287 413.9,285.3 414,289.1 414.1,288 414.2,289 414.4,290.5 414.5,291 414.6,293.7 414.7,288.9 414.8,289.2 414.9,287.6 415.1,287.5 415.2,288.7 415.3,286.5 415.4,285.4 415.5,294.2 415.6,294.2 415.7,287.5 415.9,282.9 416,288.3 416.1,287 416.2,286.3 416.3,285.6 416.4,286.7 416.6,290.3 416.7,289.6 416.8,293.1 416.9,291.5 417,291.2 417.1,287.9 417.3,291.9 417.4,288 417.5,288.9 417.6,288.9 417.7,289.7 417.8,290.8 417.9,285.7 418.1,286.1 418.2,292.5 418.3,290.3 418.4,288.6 418.5,288 418.6,290.9 418.8,287 418.9,289.8 419,288.2 419.1,290.9 419.2,288.6 419.3,291.1 419.5,295.2 419.6,290.4 419.7,287.8 419.8,284.9 419.9,286.6 420,292.1 420.1,288.6 420.3,287.7 420.4,292.3 420.5,282.9 420.6,295.3 420.7,288.5 420.8,292.2 421,289.2 421.1,291.3 421.2,291.7 421.3,287 421.4,291.7 421.5,288.7 421.7,289.8 421.8,292.1 421.9,290.1 422,286.6 422.1,290.4 422.2,292 422.3,287.4 422.5,289.6 422.6,287.9 422.7,295.9 422.8,288.8 422.9,293.3 423,292.9 423.2,287.6 423.3,292.8 423.4,288.6 423.5,290.8 423.6,287.6 423.7,290.4 423.9,291.7 424,288.7 424.1,292.6 424.2,292 424.3,290.3 424.4,286.1 424.5,290.5 424.7,290.8 424.8,291.9 424.9,290.4 425,292.2 425.1,291.8 425.2,291.6 425.4,282.6 425.5,290.6 425.6,289.7 425.7,291.6 425.8,288.1 425.9,290.4 426.1,293 426.2,291.2 426.3,292.3 426.4,296.7 426.5,291.6 426.6,292.3 426.7,292.3 426.9,289.6 427,289.8 427.1,291.4 427.2,290 427.3,290.7 427.4,290.5 427.6,291 427.7,294.9 427.8,283.4 427.9,290 428,297 428.1,290 428.3,291 428.4,290.3 428.5,296.4 428.6,291.3 428.7,288 428.8,288.7 428.9,289.3 429.1,289.9 429.2,291.9 429.3,288.8 429.4,293.6 429.5,290.5 429.6,290.4 429.8,290 429.9,291.9 430,291.4 430.1,288.6 430.2,290.5 430.3,296.4 430.5,291.7 430.6,289.4 430.7,289.6 430.8,289.6 430.9,290.7 431,290.9 431.1,289.6 431.3,289.3 431.4,294.5 431.5,294.5 431.6,283.3 431.7,294.3 431.8,291.8 432,287.5 432.1,293.7 432.2,290.4 432.3,294.8 432.4,291.2 432.5,297.3 432.7,294 432.8,291.3 432.9,290.2 433,290.9 433.1,291.1 433.2,290.2 433.3,292.9 433.5,293.7 433.6,290.8 433.7,292.3 433.8,290.9 433.9,285.3 434,292.8 434.2,294.2 434.3,296.8 434.4,289 434.5,291.5 434.6,294.6 434.7,289.5 434.9,294.2 435,291.3 435.1,292.3 435.2,290.6 435.3,293.6 435.4,295.5 435.5,293.7 435.7,295 435.8,286.9 435.9,288.7 436,291 436.1,292.9 436.2,290.6 436.4,290.9 436.5,290.4 436.6,297.6 436.7,291 436.8,289.5 436.9,286.1 437.1,285.9 437.2,290.9 437.3,298.9 437.4,293 437.5,289.7 437.6,296.5 437.7,290 437.9,294.1 438,288.8 438.1,291.7 438.2,289.3 438.3,288.1 438.4,288.2 438.6,291.3 438.7,292.9 438.8,292.3 438.9,290.4 439,287.3 439.1,291 439.3,291.1 439.4,295.9 439.5,291.2 439.6,292.9 439.7,296.3 439.8,293.1 439.9,289.7 440.1,290.6 440.2,292 440.3,290.9 440.4,293.2 440.5,284.6 440.6,297.2 440.8,293 440.9,289.6 441,296.9 441.1,292.5 441.2,292.2 441.3,290.6 441.5,291 441.6,290.7 441.7,290.1 441.8,289.2 441.9,299.5 442,290.8 442.1,293.9 442.3,295.9 442.4,289.4 442.5,292.8 442.6,289.8 442.7,291.4 442.8,290.6 443,289.8 443.1,292.2 443.2,293 443.3,290.2 443.4,294.3 443.5,292.3 443.7,290.8 443.8,291.4 443.9,289 444,292.5 444.1,290.1 444.2,291.3 444.3,291.6 444.5,293 444.6,288.7 444.7,290.2 444.8,294.2 444.9,295.3 445,290.6 445.2,298.5 445.3,293.4 445.4,293 445.5,292.2 445.6,292.4 445.7,294.3 445.9,290.2 446,292.7 446.1,290.6 446.2,291.8 446.3,291.3 446.4,289.7 446.5,293.9 446.7,289.8 446.8,291.9 446.9,293.1 447,291.6 447.1,290.3 447.2,297.1 447.4,291.9 447.5,291.1 447.6,291.6 447.7,294.2 447.8,292.8 447.9,288.2 448.1,284.9 448.2,295.1 448.3,295.4 448.4,293.8 448.5,293.1 448.6,291.2 448.7,287.2 448.9,292.4 449,293.8 449.1,294.4 449.2,292.4 449.3,285.1 449.4,292.5 449.6,291.5 449.7,295.8 449.8,289.3 449.9,291.8 450,289.9 450.1,290.4 450.3,292.3 450.4,290 450.5,291.1 450.6,293.7 450.7,291.9 450.8,291 450.9,291.4 451.1,290.2 451.2,293.6 451.3,293.6 451.4,288.9 451.5,294.7 451.6,294.4 451.8,293 451.9,292 452,290.8 452.1,292.9 452.2,294.6 452.3,293.6 452.5,293 452.6,291.6 452.7,293.7 452.8,294.7 452.9,292.3 453,290 453.1,293.2 453.3,292.8 453.4,293.5 453.5,292.5 453.6,292.2 453.7,292.7 453.8,290.1 454,290.3 454.1,290.5 454.2,291 454.3,292.9 454.4,290.7 454.5,290.3 454.7,295.3 454.8,287.1 454.9,290.3 455,291.6 455.1,291.3 455.2,293.3 455.3,291.1 455.5,291.2 455.6,295.3 455.7,293.4 455.8,294.9 455.9,293.4 456,290.3 456.2,290.4 456.3,288.8 456.4,293.8 456.5,290 456.6,291.5 456.7,293.9 456.9,299 457,291.5 457.1,294.2 457.2,293.1 457.3,292.9 457.4,293.5 457.5,296.6 457.7,291.6 457.8,291.2 457.9,290 458,292.2 458.1,290.2 458.2,293.2 458.4,293.7 458.5,294.5 458.6,288.3 458.7,293.7 458.8,292.4 458.9,291.9 459.1,293.9 459.2,296.8 459.3,286.8 459.4,292.1 459.5,290.4 459.6,291.7 459.7,295 459.9,294.9 460,291.5 460.1,290.6 460.2,294.7 460.3,291.2 460.4,293.3 460.6,295.7 460.7,293.8 460.8,290 460.9,291.6 461,290.1 461.1,289.3 461.3,289.5 461.4,292.9 461.5,293.7 461.6,297.9 461.7,293.2 461.8,289.8 462,297.2 462.1,293.2 462.2,292.1 462.3,294.4 462.4,292.7 462.5,293 462.6,294.1 462.8,293.6 462.9,291.2 463,291.2 463.1,289.6 463.2,297.1 463.3,293.5 463.5,293.1 463.6,290.9 463.7,290.2 463.8,293.6 463.9,294.5 464,293.8 464.2,294.1 464.3,293.3 464.4,290.8 464.5,294.7 464.6,292.2 464.7,295.3 464.8,297.1 465,294.2 465.1,291 465.2,293.3 465.3,287 465.4,297.1 465.5,292.4 465.7,294 465.8,294.3 465.9,291.6 466,291.5 466.1,290.9 466.2,295 466.4,292.5 466.5,289.8 466.6,291.8 466.7,293 466.8,292.5 466.9,294 467,289.9 467.2,289.4 467.3,293.2 467.4,291.5 467.5,292.2 467.6,292.5 467.7,294.2 467.9,295 468,293.6 468.1,292.5 468.2,292.7 468.3,298.5 468.4,296 468.6,294.7 468.7,287.8 468.8,293.8 468.9,292.2 469,293.8 469.1,294.7 469.2,294.5 469.4,292.6 469.5,290.4 469.6,290.7 469.7,288.3 469.8,291.6 469.9,292.6 470.1,290.5 470.2,289.2 470.3,291.2 470.4,292.3 470.5,291.6 470.6,299.7 470.8,287.7 470.9,292.9 471,292.5 471.1,294.7 471.2,291.6 471.3,294.7 471.4,291.8 471.6,294 471.7,292.3 471.8,289.8 471.9,292.1 472,292.5 472.1,295.2 472.3,289.7 472.4,291.9 472.5,295 472.6,291.6 472.7,293 472.8,294.6 473,290.6 473.1,288.8 473.2,294.2 473.3,293.3 473.4,290.7 473.5,292.1 473.6,295.6 473.8,292 473.9,291 474,294.4 474.1,289.9 474.2,290.1 474.3,289.2 474.5,291.9 474.6,291.7 474.7,291.7 474.8,293.4 474.9,294.8 475,289.2 475.2,296.1 475.3,292.7 475.4,289 475.5,285.4 475.6,294.2 475.7,291.6 475.8,294.2 476,292.1 476.1,294.4 476.2,299.4 476.3,299.9 476.4,290 476.5,298.7 476.7,293.8 476.8,293.1 476.9,294.3 477,291.4 477.1,292.1 477.2,291.7 477.4,288 477.5,295.4 477.6,290.3 477.7,291.7 477.8,298.7 477.9,292.6 478,292.4 478.2,290.3 478.3,294.2 478.4,293.5 478.5,293.6 478.6,296.7 478.7,295.2 478.9,293.7 479,293.1 479.1,288.8 479.2,293 479.3,293.9 479.4,293.3 479.6,293.6 479.7,298.7 479.8,293.3 479.9,289.9 480,295 480.1,290.4 480.2,293.4 480.4,294.1 480.5,294 480.6,286.4 480.7,292.1 480.8,293.8 480.9,290 481.1,297 481.2,290.6 481.3,293 481.4,290.7 481.5,291.7 481.6,293.2 481.8,293 481.9,293.4 482,289.5 482.1,291.3 482.2,299 482.3,294.9 482.4,292.9 482.6,290.5 482.7,295.5 482.8,293.8 482.9,294.2 483,293.1 483.1,292.5 483.3,295.2 483.4,291.9 483.5,294 483.6,285.5 483.7,294.5 483.8,294.4 484,292.7 484.1,295.5 484.2,294.6 484.3,292.9 484.4,293.6 484.5,290.6 484.6,296.3 484.8,298.4 484.9,293.8 485,296.6 485.1,292.3 485.2,290.9 485.3,292.7 485.5,291.9 485.6,291.3 485.7,292.2 485.8,295.2 485.9,296.1 486,293.7 486.2,290.2 486.3,293.7 486.4,291.3 486.5,292.8 486.6,297.5 486.7,288.5 486.8,294 487,293 487.1,293.3 487.2,291.4 487.3,294 487.4,293.7 487.5,290.7 487.7,294 487.8,291.3 487.9,293.4 488,295.6 488.1,290.5 488.2,293.7 488.4,293.2 488.5,299 488.6,293.2 488.7,292.1 488.8,295.5 488.9,294.9 489,292.2 489.2,291.3 489.3,291.8 489.4,293.7 489.5,294.3 489.6,294.9 489.7,295.3 489.9,294.4 490,296.1 490.1,291.3 490.2,295.8 490.3,290.1 490.4,289.9 490.6,292.5 490.7,291.2 490.8,293.7 490.9,293.9 491,291.1 491.1,297.3 491.2,295.2 491.4,293.6 491.5,291.5 491.6,297.8 491.7,292.5 491.8,288.2 491.9,291.5 492.1,290.3 492.2,298.9 492.3,295.7 492.4,293 492.5,295.5 492.6,290.1 492.8,293 492.9,291.2 493,292.9 493.1,291.2 493.2,291.6 493.3,293.4 493.4,291.5 493.6,295.9 493.7,293.2 493.8,290.2 493.9,294.9 494,293.8 494.1,296.1 494.3,291.6 494.4,290.3 494.5,293.2 494.6,292.9 494.7,285.7 494.8,294.1 495,293.7 495.1,287.8 495.2,294.7 495.3,291.4 495.4,295.2 495.5,293 495.6,293.5 495.8,295.4 495.9,292.4 496,287 496.1,294.6 496.2,293 496.3,293.8 496.5,291.2 496.6,298.1 496.7,294.4 496.8,296.7 496.9,295.9 497,294.2 497.2,292.1 497.3,296.1 497.4,293.9 497.5,294 497.6,295.3 497.7,291.3 497.8,294.2 498,293.9 498.1,300.9 498.2,292.2 498.3,290.8 498.4,295 498.5,292 498.7,294 498.8,293.7 498.9,293.6 499,294.9 499.1,293.5 499.2,291.3 499.4,297.8 499.5,294.4 499.6,295.8 499.7,293.3 499.8,297.3 499.9,296.1 500,293.5 500.2,293.4 500.3,287.2 500.4,297.2 500.5,292.9 500.6,292.2 500.7,292.9 500.9,292.7 501,296.3 501.1,297 501.2,290 501.3,297.5 501.4,294.3 501.6,292.4 501.7,297.1 501.8,291.1 501.9,299.3 502,297.5 502.1,292.6 502.2,294.8 502.4,294.2 502.5,293.6 502.6,287.6 502.7,293.8 502.8,296.2 502.9,293.9 503.1,293 503.2,287.6 503.3,292.1 503.4,296.1 503.5,291 503.6,295.2 503.8,295.4 503.9,290.1 504,295.6 504.1,292.3 504.2,291.2 504.3,292.9 504.4,293.1 504.6,294.2 504.7,291.8 504.8,292.1 504.9,293.2 505,295.9 505.1,293.2 505.3,292.8 505.4,295.9 505.5,294.8 505.6,295.7 505.7,293.9 505.8,291.5 506,295.2 506.1,291.5 506.2,290.5 506.3,293.7 506.4,297.7 506.5,293.7 506.6,292.7 506.8,291.9 506.9,290.6 507,295.6 507.1,293.9 507.2,293.9 507.3,291.7 507.5,290.1 507.6,292.9 507.7,293.4 507.8,301 507.9,296.8 508,289.7 508.2,292.8 508.3,293.2 508.4,293.6 508.5,295.6 508.6,293.3 508.7,296.1 508.8,292.2 509,293.8 509.1,295.7 509.2,290.7 509.3,288.1 509.4,293.5 509.5,292.5 509.7,293.8 509.8,291.1 509.9,294.8 510,291.3 510.1,292.6 510.2,294.2 510.4,292.1 510.5,294.4 510.6,291.6 510.7,293.6 510.8,296.1 510.9,294.2 511,293.4 511.2,285.9 511.3,292.7 511.4,289 511.5,299.7 511.6,295.9 511.7,293.3 511.9,292.9 512,294.6 512.1,295.3 512.2,294.4 512.3,293.5 512.4,292.1 512.6,292.6 512.7,291.1 512.8,294.6 512.9,294.6 513,293.5 513.1,292.8 513.2,297 513.4,293.5 513.5,297.7 513.6,288.8 513.7,294.5 513.8,293.3 513.9,291.7 514.1,292.3 514.2,287.6 514.3,296.1 514.4,293.3 514.5,294.1 514.6,294.4 514.8,285.9 514.9,293.5 515,292.8 515.1,296.1 515.2,289.4 515.3,293.9 515.4,295.4 515.6,292.8 515.7,292.3 515.8,295.5 515.9,296.3 516,295.6 516.1,296.3 516.3,289.9 516.4,295.3 516.5,292.9 516.6,291.6 516.7,293.8 516.8,297.6 517,296.3 517.1,292.8 517.2,296.9 517.3,295 517.4,291.4 517.5,292.1 517.6,292.7 517.8,292.8 517.9,291.2 518,293.3 518.1,292.2 518.2,299.5 518.3,292.8 518.5,294.1 518.6,294.5 518.7,295.8 518.8,293.2 518.9,290.9 519,293.3 519.2,292.5 519.3,296.9 519.4,297.8 519.5,292.4 519.6,295.2 519.7,299 519.9,292.9 520,297 520.1,295.3 520.2,291 520.3,291.6 520.4,294.3 520.5,290.3 520.7,294.5 520.8,293.2 520.9,294.5 521,294.9 521.1,289.9 521.2,293.3 521.4,291.8 521.5,292.6 521.6,290.9 521.7,295.2 521.8,294.9 521.9,290.8 522.1,294.1 522.2,295.2 522.3,289.3 522.4,294.4 522.5,293.5 522.6,292.2 522.7,293.5 522.9,296.1 523,296 523.1,290.9 523.2,293.9 523.3,294.2 523.4,295 523.6,292.9 523.7,291 523.8,292.6 523.9,293.3 524,296.4 524.1,293.3 524.3,290.9 524.4,294.7 524.5,292.7 524.6,292.7 524.7,294.5 524.8,291.1 524.9,289.5 525.1,296.9 525.2,301.1 525.3,293.8 525.4,294.9 525.5,293.7 525.6,290.8 525.8,293.8 525.9,291.5 526,292.4 526.1,294.8 526.2,299.9 526.3,290.5 526.5,293 526.6,292.7 526.7,291.1 526.8,295.7 526.9,291.9 527,295.1 527.1,294.8 527.3,292.7 527.4,285.9 527.5,291.7 527.6,293.3 527.7,296 527.8,290.3 528,294.1 528.1,293.6 528.2,293.6 528.3,293.5 528.4,292.2 528.5,292.2 528.7,289.7 528.8,294.2 528.9,292.5 529,290.9 529.1,294.4 529.2,292.1 529.3,294.7 529.5,289.1 529.6,295 529.7,296.2 529.8,289 529.9,292.4 530,293.6 530.2,294.2 530.3,294.2 530.4,291.4 530.5,298.8 530.6,291 530.7,293.8 530.9,297.2 531,292.7 531.1,297.2 531.2,296.2 531.3,293.4 531.4,292.8 531.5,292 531.7,293.2 531.8,292.6 531.9,293.4 532,288.3 532.1,295.1 532.2,294.3 532.4,289 532.5,292.9 532.6,293.7 532.7,294.7 532.8,291.9 532.9,295.9 533.1,293.6 533.2,291.3 533.3,299.4 533.4,294.9 533.5,291.9 533.6,290.1 533.7,294 533.9,296.2 534,292.5 534.1,292.7 534.2,294 534.3,292.8 534.4,293.2 534.6,288.6 534.7,291.2 534.8,290 534.9,295.9 535,294.6 535.1,291.9 535.3,293.6 535.4,293.1 535.5,294.8 535.6,294 535.7,292.6 535.8,298.4 535.9,294.3 536.1,292.8 536.2,292.2 536.3,294.7 536.4,292.9 536.5,293.8 536.6,292.9 536.8,294.3 536.9,291.3 537,293.2 537.1,294.1 537.2,292.1 537.3,298.9 537.5,292.5 537.6,290.6 537.7,289.8 537.8,289.5 537.9,294.3 538,295.4 538.1,297.5 538.3,297 538.4,294.5 538.5,288.9 538.6,292.1 538.7,290.4 538.8,291.2 539,294.9 539.1,294.4 539.2,294.6 539.3,298.4 539.4,291.9 539.5,297.5 539.7,293.6 539.8,296.3 539.9,292.7 540,291.5 540.1,292 540.2,293.2 540.3,296.6 540.5,293 540.6,296.4 540.7,293.9 540.8,292.2 540.9,295.2 541,293.5 541.2,289.4 541.3,294.3 541.4,292.4 541.5,293.3 541.6,295.9 541.7,290.6 541.9,294.7 542,292.7 542.1,293.8 542.2,293.6 542.3,298.6 542.4,291.3 542.5,294.4 542.7,292.4 542.8,294.8 542.9,295.3 543,295.6 543.1,291.1 543.2,294.8 543.4,296.3 543.5,294.4 543.6,293.7 543.7,295.8 543.8,292.5 543.9,293.3 544.1,293.5 544.2,292.6 544.3,297 544.4,293.6 544.5,291.3 544.6,291.3 544.7,285.7 544.9,297 545,293.6 545.1,294.1 545.2,293.4 545.3,296.7 545.4,298.6 545.6,290.7 545.7,292.6 545.8,291.7 545.9,294.2 546,294 546.1,290.9 546.3,292.3 546.4,294.2 546.5,294.9 546.6,290.1"/>
<polyline fill="none" stroke="#484848" stroke-width="0.8" stroke-opacity="1" stroke-linejoin="round" points="141.3,171.5 141.5,172.5 141.6,170.1 141.8,168.9 142,171.4 142.2,166 142.3,167.6 142.5,168.9 142.7,175.2 142.9,166.7 143,163.4 143.2,163.8 143.4,163.7 143.6,162.1 143.7,162.8 143.9,156 144.1,160.1 144.3,156.9 144.4,167.7 144.6,156.9 144.8,155.8 144.9,151.1 145.1,162.2 145.3,159.3 145.5,157.6 145.6,153.6 145.8,156.2 146,155.8 146.2,157.8 146.3,150.6 146.5,152.2 146.7,147.3 146.9,155.5 147,151.3 147.2,152.5 147.4,157.9 147.6,161.6 147.7,156.7 147.9,146.5 148.1,153.7 148.2,149 148.4,148.5 148.6,154.8 148.8,148.8 148.9,147.5 149.1,151.3 149.3,146.7 149.5,149.3 149.6,152.3 149.8,150.3 150,153.1 150.2,151.5 150.3,151.2 150.5,150.2 150.7,149.8 150.9,149.8 151,150.6 151.2,149.9 151.4,151.1 151.5,151.1 151.7,148.9 151.9,148.9 152.1,154.3 152.2,152.9 152.4,149 152.6,150.4 152.8,153.6 152.9,151.8 153.1,159.4 153.3,151.6 153.5,151.2 153.6,158.9 153.8,156.1 154,154.1 154.2,155.7 154.3,161.9 154.5,155 154.7,160.8 154.8,154.2 155,154 155.2,160.2 155.4,154.5 155.5,155 155.7,152.7 155.9,156.8 156.1,160.8 156.2,160.4 156.4,159.1 156.6,164.1 156.8,156.9 156.9,158.8 157.1,161.7 157.3,156 157.5,162 157.6,162.1 157.8,158 158,161.8 158.1,165.9 158.3,162 158.5,161 158.7,164.9 158.8,161.7 159,162.7 159.2,168.5 159.4,166.7 159.5,166.1 159.7,159.2 159.9,168.4 160.1,166.4 160.2,169.2 160.4,173.1 160.6,157.2 160.8,166 160.9,174 161.1,167.2 161.3,165.3 161.4,169.3 161.6,166.6 161.8,169.5 162,172.8 162.1,173.7 162.3,171.7 162.5,170.6 162.7,176.3 162.8,172.1 163,175.8 163.2,170.9 163.4,173.2 163.5,175.3 163.7,167.7 163.9,167.7 164.1,175.9 164.2,171.6 164.4,168.9 164.6,174.7 164.7,174.5 164.9,173.8 165.1,179.4 165.3,179.7 165.4,178.7 165.6,177.9 165.8,183.7 166,179.7 166.1,175.8 166.3,178.7 166.5,178.4 166.7,183.4 166.8,187.7 167,183.8 167.2,180.7 167.4,184.3 167.5,176.8 167.7,174.3 167.9,180.4 168,180.5 168.2,187.2 168.4,183.2 168.6,180.3 168.7,183.7 168.9,189.6 169.1,193.6 169.3,187.2 169.4,179.5 169.6,186 169.8,190.6 170,189.3 170.1,190.7 170.3,188.8 170.5,190.7 170.7,188.6 170.8,190.5 171,190.9 171.2,191.6 171.4,189.7 171.5,188.6 171.7,184.7 171.9,193.6 172,194.1 172.2,190.4 172.4,200.7 172.6,190.5 172.7,191.4 172.9,191.4 173.1,189.9 173.3,189 173.4,193.7 173.6,192.5 173.8,194.2 174,197.2 174.1,193.8 174.3,191.5 174.5,203.5 174.7,195 174.8,197.3 175,196.3 175.2,199 175.3,196.7 175.5,198.8 175.7,192.4 175.9,194.9 176,193.8 176.2,198.9 176.4,197 176.6,196.9 176.7,195.5 176.9,198.1 177.1,197.2 177.3,200.2 177.4,188.5 177.6,197.3 177.8,196 178,194.3 178.1,197 178.3,197.6 178.5,197.2 178.6,198.6 178.8,195.4 179,191.8 179.2,196.7 179.3,193.1 179.5,198.8 179.7,197.4 179.9,195.9 180,198.4 180.2,199.6 180.4,201.6 180.6,197.3 180.7,195.4 180.9,194.9 181.1,196.1 181.3,192.4 181.4,200.1 181.6,191.7 181.8,195.4 181.9,193.1 182.1,190.3 182.3,196.8 182.5,191.9 182.6,190.7 182.8,190.6 183,192.3 183.2,186.7 183.3,191.9 183.5,187.3 183.7,187.6 183.9,189.8 184,189.7 184.2,181.5 184.4,185.7 184.6,185.8 184.7,187.2 184.9,182.5 185.1,182.6 185.2,183.5 185.4,179.8 185.6,176.6 185.8,171.8 185.9,176.9 186.1,175 186.3,180.2 186.5,181.4 186.6,179.8 186.8,171 187,171.9 187.2,176.6 187.3,172.2 187.5,178.8 187.7,169.1 187.9,175.8 188,164.4 188.2,170.9 188.4,171.6 188.5,162.9 188.7,164.9 188.9,167.5 189.1,163.4 189.2,167.7 189.4,166.6 189.6,169.6 189.8,172.5 189.9,167.5 190.1,162.2 190.3,160.6 190.5,152.9 190.6,159.5 190.8,157.3 191,166.7 191.2,154.8 191.3,158.8 191.5,158.4 191.7,153.8 191.8,154.2 192,150.6 192.2,152.7 192.4,154 192.5,152.8 192.7,148.8 192.9,148.3 193.1,153.6 193.2,150.4 193.4,147.4 193.6,148.5 193.8,149.8 193.9,144.8 194.1,148.7 194.3,144.1 194.5,140.3 194.6,143.4 194.8,144.8 195,138.8 195.1,140.5 195.3,144.5 195.5,141.7 195.7,133.3 195.8,142.5 196,139.3 196.2,147.1 196.4,139.2 196.5,138 196.7,134.6 196.9,141.2 197.1,138.4 197.2,135.7 197.4,135.1 197.6,141.3 197.8,144.2 197.9,135.1 198.1,141.5 198.3,139.9 198.4,142.4 198.6,134.8 198.8,137.8 199,138.8 199.1,136.9 199.3,147 199.5,135.6 199.7,142.1 199.8,139.8 200,137.6 200.2,147.7 200.4,145.1 200.5,148.2 200.7,148.6 200.9,138.7 201.1,143.8 201.2,148.7 201.4,148 201.6,145.7 201.7,146.4 201.9,151.8 202.1,150.5 202.3,147.3 202.4,152.4 202.6,153.3 202.8,158.3 203,148.4 203.1,155.3 203.3,159.8 203.5,154 203.7,153.8 203.8,167.4 204,155 204.2,158 204.4,158 204.5,158.2 204.7,155.1 204.9,168.2 205,160 205.2,154.8 205.4,166.2 205.6,164.5 205.7,164.5 205.9,157.6 206.1,165.1 206.3,157.3 206.4,166.3 206.6,166.2 206.8,164.9 207,166.6 207.1,170.9 207.3,166.4 207.5,168.5 207.7,168.1 207.8,170.1 208,175.6 208.2,167.3 208.3,171.9 208.5,175.9 208.7,171.1 208.9,171.4 209,174.3 209.2,169.6 209.4,174.7 209.6,171.2 209.7,170.3 209.9,172.8 210.1,174.9 210.3,171.2 210.4,177.3 210.6,178.7 210.8,174.4 211,176.8 211.1,171.7 211.3,181.1 211.5,177.5 211.6,174.7 211.8,168.6 212,173.7 212.2,176.7 212.3,176.8 212.5,179.1 212.7,177 212.9,180.9 213,176.4 213.2,173.2 213.4,183.8 213.6,181.3 213.7,171.1 213.9,180.4 214.1,182.7 214.3,182.3 214.4,184.1 214.6,177.7 214.8,179.9 214.9,178.6 215.1,179.8 215.3,180.6 215.5,183.1 215.6,177.9 215.8,178.5 216,180.9 216.2,181.9 216.3,182 216.5,183.7 216.7,183.4 216.9,179.9 217,181.9 217.2,185.7 217.4,181.7 217.6,179.4 217.7,184.9 217.9,182.4 218.1,181 218.2,182.2 218.4,180.8 218.6,178.5 218.8,183 218.9,181 219.1,182 219.3,181.8 219.5,178.6 219.6,181.4 219.8,180.9 220,181.1 220.2,181.5 220.3,183.9 220.5,181.5 220.7,183.8 220.9,187.3 221,184.3 221.2,180.3 221.4,178.4 221.5,185.5 221.7,183 221.9,187.6 222.1,181.2 222.2,178.3 222.4,183.6 222.6,188 222.8,180.9 222.9,186.8 223.1,184.2 223.3,185.6 223.5,186.3 223.6,185.8 223.8,188.2 224,183.7 224.2,188.7 224.3,186.9 224.5,183.8 224.7,185.6 224.8,187.6 225,181.2 225.2,179.8 225.4,184.8 225.5,191 225.7,187.1 225.9,189.8 226.1,191.1 226.2,187.7 226.4,185.1 226.6,179.7 226.8,183.7 226.9,184.4 227.1,189.5 227.3,183.7 227.5,190.9 227.6,186.1 227.8,190.1 228,196.6 228.1,190 228.3,191.6 228.5,192.6 228.7,191.6 228.8,189.7 229,193.2 229.2,192.4 229.4,195.5 229.5,191.9 229.7,193 229.9,190.3 230.1,193.9 230.2,194.6 230.4,194.8 230.6,193.9 230.8,190.7 230.9,196.9 231.1,198.3 231.3,196 231.5,196.4 231.6,196.5 231.8,195.6 232,197.1 232.1,196.1 232.3,193.4 232.5,199.4 232.7,190.5 232.8,198.4 233,203.5 233.2,199.1 233.4,201.6 233.5,197.3 233.7,198.4 233.9,200.9 234.1,194.3 234.2,197.6 234.4,201.3 234.6,203 234.8,196.9 234.9,201.4 235.1,198.1 235.3,204.3 235.4,198.3 235.6,202.2 235.8,202.1 236,205.1 236.1,203.6 236.3,206.1 236.5,203.1 236.7,205.5 236.8,202.5 237,202.8 237.2,201.8 237.4,205.9 237.5,205.6 237.7,205 237.9,204.8 238.1,206.9 238.2,207.6 238.4,206.4 238.6,207.5 238.7,210.1 238.9,203.8 239.1,213.9 239.3,205.1 239.4,215.4 239.6,206.3 239.8,206 240,207 240.1,209.4 240.3,208.4 240.5,207.1 240.7,210.4 240.8,210.3 241,208.4 241.2,208.8 241.4,208.5 241.5,206.5 241.7,206.8 241.9,210.9 242,211.6 242.2,215.9 242.4,204.7 242.6,207.3 242.7,209.4 242.9,209.4 243.1,211.2 243.3,210.7 243.4,209.3 243.6,210.8 243.8,209.8 244,211.1 244.1,209 244.3,213 244.5,214.4 244.7,213.4 244.8,212.6 245,210.4 245.2,210.6 245.3,216.3 245.5,206.9 245.7,214.8 245.9,212.7 246,213 246.2,211.8 246.4,217.5 246.6,210.8 246.7,216.5 246.9,215.6 247.1,212.2 247.3,212.2 247.4,218.3 247.6,216.7 247.8,215.8 248,213.9 248.1,217.7 248.3,216 248.5,215.7 248.6,216.4 248.8,216.1 249,213.4 249.2,213.7 249.3,215.2 249.5,216.9 249.7,218.6 249.9,223.5 250,213.4 250.2,214.5 250.4,215.3 250.6,220.2 250.7,215.7 250.9,219.5 251.1,216 251.3,217.7 251.4,215.7 251.6,227.4 251.8,218.8 251.9,221 252.1,221.8 252.3,220.6 252.5,219.2 252.6,219 252.8,218.3 253,218.3 253.2,216.9 253.3,219.2 253.5,218.2 253.7,223 253.9,220.9 254,220.2 254.2,223.2 254.4,221.8 254.6,222.2 254.7,221.8 254.9,225.3 255.1,222 255.2,223.7 255.4,227.3 255.6,227 255.8,221.7 255.9,221.8 256.1,219.4 256.3,221.4 256.5,226.6 256.6,224.8 256.8,222.5 257,225 257.2,223.2 257.3,224.7 257.5,225.1 257.7,224 257.9,224.7 258,225.9 258.2,225.2 258.4,225.4 258.5,226.9 258.7,225.9 258.9,227.6 259.1,228.4 259.2,225.7 259.4,229.3 259.6,227 259.8,227.7 259.9,229.1 260.1,228 260.3,226.5 260.5,226.4 260.6,229.1 260.8,229.8 261,226.3 261.2,228.3 261.3,226.6 261.5,226.3 261.7,228.9 261.8,231 262,225.7 262.2,231 262.4,228 262.5,229.7 262.7,229.6 262.9,230.9 263.1,231.6 263.2,231.6 263.4,228.2 263.6,231.3 263.8,234 263.9,229.4 264.1,229.2 264.3,230.2 264.5,229.8 264.6,231.3 264.8,231.5 265,227.9 265.1,233.6 265.3,235.1 265.5,231.2 265.7,236.8 265.8,232.9 266,235 266.2,230.7 266.4,233.3 266.5,233.9 266.7,230.4 266.9,235 267.1,234.8 267.2,233.1 267.4,235.2 267.6,234.2 267.8,232.1 267.9,227.8 268.1,236.5 268.3,230.1 268.4,233.5 268.6,235.4 268.8,235.5 269,235.8 269.1,234.2 269.3,236 269.5,233.2 269.7,236.1 269.8,236 270,233 270.2,239 270.4,229.8 270.5,235.5 270.7,234.3 270.9,236.7 271.1,243.6 271.2,238.9 271.4,241.7 271.6,236 271.7,238.2 271.9,243.4 272.1,239.1 272.3,236.8 272.4,238.3 272.6,239.8 272.8,239.3 273,233.5 273.1,239.6 273.3,238.2 273.5,234.6 273.7,241.3 273.8,240.4 274,238.1 274.2,240 274.4,241.3 274.5,231.8 274.7,244 274.9,239.1 275,245.4 275.2,235.4 275.4,241.7 275.6,238.1 275.7,240.9 275.9,240.4 276.1,241.2 276.3,240.3 276.4,239.7 276.6,241.7 276.8,241.7 277,240.5 277.1,242.4 277.3,240.1 277.5,236.8 277.7,242.8 277.8,242 278,242.7 278.2,242.4 278.3,242.4 278.5,241.4 278.7,243 278.9,244.3 279,242.9 279.2,242.6 279.4,238.9 279.6,244.8 279.7,245.3 279.9,243.4 280.1,242.4 280.3,245.7 280.4,247.9 280.6,244.6 280.8,244 281,236.6 281.1,244.8 281.3,244 281.5,244.8 281.6,243.8 281.8,242.6 282,243.9 282.2,248.6 282.3,244.1 282.5,250 282.7,243.6 282.9,245.3 283,245.9 283.2,245.8 283.4,245.4 283.6,245.8 283.7,246.4 283.9,247.1 284.1,247.1 284.3,243.1 284.4,247.8 284.6,243.9 284.8,244.4 284.9,247.7 285.1,246.1 285.3,249.3 285.5,246.4 285.6,250.4 285.8,248.5 286,250.2 286.2,251.4 286.3,250 286.5,247.6 286.7,246.5 286.9,245.3 287,248.6 287.2,248.7 287.4,247.8 287.6,245.2 287.7,252.9 287.9,248.7 288.1,248.4 288.3,253.5 288.4,249.8 288.6,250.3 288.8,249.5 288.9,244.4 289.1,248.2 289.3,248.2 289.5,249.2 289.6,251.8 289.8,249 290,249.2 290.2,246.1 290.3,246.7 290.5,252.3 290.7,250.5 290.9,250.4 291,250.6 291.2,246.6 291.4,248.1 291.6,243.4 291.7,250.1 291.9,249.4 292.1,250 292.2,250.6 292.4,251.9 292.6,251.2 292.8,251.6 292.9,252.6 293.1,248 293.3,251.1 293.5,251.5 293.6,249.3 293.8,248.8 294,253.8 294.2,254.6 294.3,248.5 294.5,250.1 294.7,253.3 294.9,252.5 295,253.8 295.2,250.6 295.4,254.6 295.5,251.3 295.7,249.7 295.9,254 296.1,253.4 296.2,251.5 296.4,252.6 296.6,253.7 296.8,253.5 296.9,253.5 297.1,253 297.3,251.7 297.5,251.8 297.6,251.1 297.8,254.8 298,253 298.2,253.8 298.3,253.2 298.5,256 298.7,253.9 298.8,256.7 299,252.4 299.2,254.2 299.4,254.9 299.5,254.4 299.7,254.9 299.9,255.4 300.1,253.4 300.2,254.7 300.4,254.1 300.6,255.1 300.8,255.4 300.9,257.3 301.1,259.5 301.3,256.1 301.5,256 301.6,255.6 301.8,257.5 302,253.7 302.1,257.4 302.3,259.7 302.5,254 302.7,253.3 302.8,257.2 303,254.7 303.2,256.8 303.4,257.1 303.5,257.3 303.7,254.9 303.9,256.6 304.1,257 304.2,256.3 304.4,255.8 304.6,255 304.8,256.1 304.9,255.4 305.1,253.7 305.3,254.5 305.4,252.7 305.6,256.5 305.8,253.9 306,258.6 306.1,255.8 306.3,259.8 306.5,259.8 306.7,250.3 306.8,255.6 307,252.4 307.2,257 307.4,258.3 307.5,250.5 307.7,259 307.9,262.3 308.1,259.8 308.2,257.6 308.4,258.3 308.6,258.5 308.7,259.1 308.9,257.5 309.1,260.2 309.3,257.3 309.4,263.1 309.6,255.2 309.8,260.6 310,257.7 310.1,261 310.3,256.6 310.5,259.2 310.7,259.8 310.8,257.3 311,256.2 311.2,257.8 311.4,258.9 311.5,259.2 311.7,259.9 311.9,259.1 312,257 312.2,260 312.4,257.8 312.6,258.9 312.7,259.9 312.9,258.8 313.1,262.3 313.3,259.2 313.4,257.7 313.6,259.7 313.8,259.7 314,259.4 314.1,259.1 314.3,258.1 314.5,262.4 314.7,261.5 314.8,260.4 315,257.4 315.2,258.4 315.3,256.3 315.5,259.5 315.7,259 315.9,258.3 316,260.1 316.2,259.9 316.4,262 316.6,264.4 316.7,261.7 316.9,260.6 317.1,258.2 317.3,260.1 317.4,257.8 317.6,259 317.8,261.5 318,260.1 318.1,258.7 318.3,260.3 318.5,260.5 318.6,262.6 318.8,263.4 319,263.6 319.2,263.4 319.3,261.8 319.5,257.6 319.7,259.7 319.9,261.4 320,259.5 320.2,260.6 320.4,261.3 320.6,259.5 320.7,259.9 320.9,261.6 321.1,259.9 321.3,261.2 321.4,259.8 321.6,260.4 321.8,263.4 321.9,256.2 322.1,262.4 322.3,263.6 322.5,258.8 322.6,263.1 322.8,260.4 323,260 323.2,261.6 323.3,262 323.5,262.5 323.7,262.6 323.9,262.3 324,264.6 324.2,264.7 324.4,262.2 324.6,263.4 324.7,262.7 324.9,262.7 325.1,262.5 325.2,262.6 325.4,265.4 325.6,265.9 325.8,261.9 325.9,263.5 326.1,258.5 326.3,261.6 326.5,263.5 326.6,264 326.8,264.6 327,263.2 327.2,263.6 327.3,261 327.5,263.3 327.7,259.5 327.9,260.4 328,264.9 328.2,263.2 328.4,265.9 328.5,261.8 328.7,264.5 328.9,263.8 329.1,264.2 329.2,260.2 329.4,261.8 329.6,264.7 329.8,265.5 329.9,263.8 330.1,264.5 330.3,263 330.5,263.9 330.6,263.7 330.8,264.7 331,264.9 331.2,265.3 331.3,266.3 331.5,264.2 331.7,263.9 331.8,263.8 332,262 332.2,264.2 332.4,265.1 332.5,266.4 332.7,268.6 332.9,268 333.1,266.5 333.2,263.4 333.4,267.1 333.6,267 333.8,264.3 333.9,263.6 334.1,265.2 334.3,265.1 334.5,268.6 334.6,265.2 334.8,268.6 335,265.1 335.1,265.6 335.3,262.4 335.5,264.6 335.7,266.8 335.8,267.8 336,269.8 336.2,265 336.4,266.5 336.5,269 336.7,266.8 336.9,264.3 337.1,267.7 337.2,268.3 337.4,267.4 337.6,266.7 337.8,266.7 337.9,265.9 338.1,264.5 338.3,267 338.4,267.2 338.6,268.8 338.8,268.2 339,269.9 339.1,265.7 339.3,267.3 339.5,268.8 339.7,266.6 339.8,266.5 340,268.1 340.2,268.3 340.4,268.1 340.5,268.9 340.7,268.5 340.9,269.4 341.1,269.1 341.2,268.3 341.4,270.4 341.6,269.5 341.7,268.7 341.9,270.5 342.1,269.8 342.3,271.7 342.4,269.5 342.6,270.5 342.8,267 343,270 343.1,267.8 343.3,273 343.5,268.2 343.7,269.8 343.8,271 344,270.3 344.2,269.1 344.4,269.4 344.5,272.5 344.7,268.6 344.9,270.5 345.1,273 345.2,270 345.4,274.5 345.6,270.8 345.7,272.5 345.9,270.7 346.1,270 346.3,268.6 346.4,271.6 346.6,271.8 346.8,271.1 347,270.2 347.1,272.3 347.3,270.6 347.5,269 347.7,270 347.8,273.1 348,271.2 348.2,272 348.4,271.2 348.5,274.3 348.7,271.1 348.9,269.5 349,271.6 349.2,272.8 349.4,274.9 349.6,272.7 349.7,269 349.9,272.7 350.1,273 350.3,267.4 350.4,272.9 350.6,272.6 350.8,273.8 351,272.3 351.1,273.7 351.3,274.7 351.5,273.8 351.7,276 351.8,274.4 352,270.1 352.2,272.4 352.3,275.1 352.5,273.3 352.7,274.3 352.9,279.2 353,275.5 353.2,275.5 353.4,277.5 353.6,275.9 353.7,273.7 353.9,272.7 354.1,273.9 354.3,270 354.4,273.8 354.6,275.3 354.8,276.4 355,275.2 355.1,273.6 355.3,275.7 355.5,272.8 355.6,273.1 355.8,277 356,276.2 356.2,276.4 356.3,275.2 356.5,273 356.7,273.5 356.9,275.8 357,276.4 357.2,279.1 357.4,274.8 357.6,276.6 357.7,275.3 357.9,275.5 358.1,273.6 358.3,275.8 358.4,273.3 358.6,278.7 358.8,274.7 358.9,275.3 359.1,277.3 359.3,276.1 359.5,273.9 359.6,275.6 359.8,279.7 360,276.1 360.2,278.5 360.3,277.1 360.5,272.2 360.7,275 360.9,273.1 361,276.9 361.2,277.3 361.4,278 361.6,276.4 361.7,275.5 361.9,276.4 362.1,277.6 362.2,279.5 362.4,274.7 362.6,278.4 362.8,277.2 362.9,279.8 363.1,278.8 363.3,275.8 363.5,275.8 363.6,276.6 363.8,278 364,276 364.2,278.4 364.3,276.4 364.5,278.8 364.7,276.7 364.9,276 365,278.2 365.2,279.7 365.4,281.5 365.5,278.5 365.7,279.9 365.9,275.9 366.1,280.1 366.2,275.9 366.4,277.7 366.6,281.2 366.8,279.2 366.9,282.6 367.1,278.1 367.3,280.4 367.5,283 367.6,279.5 367.8,278.3 368,275.9 368.2,280.8 368.3,281 368.5,275.9 368.7,279 368.8,276.9 369,278.7 369.2,283 369.4,279.8 369.5,279.4 369.7,280.9 369.9,280.1 370.1,280.4 370.2,281.9 370.4,281.2 370.6,280.3 370.8,282 370.9,280.7 371.1,280.6 371.3,277.4 371.5,281.8 371.6,283.5 371.8,279.3 372,283.3 372.1,284.5 372.3,280 372.5,279.5 372.7,281.4 372.8,279.1 373,280.6 373.2,283.6 373.4,281.5 373.5,282 373.7,282.7 373.9,282.2 374.1,282.2 374.2,282 374.4,278.1 374.6,281.9 374.8,281.1 374.9,282.9 375.1,281.8 375.3,281.5 375.4,284 375.6,282.8 375.8,282.6 376,278.9 376.1,282.7 376.3,281.4 376.5,282.5 376.7,283.5 376.8,277.7 377,280.1 377.2,286.7 377.4,286.3 377.5,283.8 377.7,281.2 377.9,283.7 378.1,284.6 378.2,282.7 378.4,288.8 378.6,282.2 378.7,281.9 378.9,282.1 379.1,283.1 379.3,281.7 379.4,281.8 379.6,285 379.8,284.8 380,283.1 380.1,282.1 380.3,283.2 380.5,280.5 380.7,286.2 380.8,284.3 381,281.7 381.2,283.4 381.4,288.3 381.5,283.2 381.7,284.6 381.9,284.5 382,285 382.2,285.4 382.4,285.4 382.6,283.6 382.7,282.8 382.9,283.6 383.1,283.6 383.3,287 383.4,283.8 383.6,283.3 383.8,286.8 384,286.2 384.1,285.6 384.3,286.4 384.5,285.7 384.7,283.1 384.8,283.7 385,284.1 385.2,286 385.3,286.2 385.5,282.2 385.7,284 385.9,285.9 386,285.1 386.2,285.3 386.4,287.9 386.6,285.2 386.7,285.6 386.9,280.8 387.1,284.7 387.3,283.1 387.4,287.3 387.6,285 387.8,283.9 388,285.4 388.1,283.4 388.3,287.8 388.5,282.6 388.6,284.7 388.8,284.8 389,287.9 389.2,284.5 389.3,285.5 389.5,287.2 389.7,283.9 389.9,285.1 390,285.1 390.2,285.2 390.4,282.3 390.6,286.7 390.7,286.8 390.9,286.1 391.1,285.9 391.3,284.8 391.4,285.6 391.6,286.3 391.8,285.2 391.9,284.8 392.1,285.8 392.3,286 392.5,284.6 392.6,280.6 392.8,285.6 393,287.3 393.2,285.4 393.3,288.7 393.5,285.2 393.7,288.3 393.9,286.3 394,287.4 394.2,284.9 394.4,285.6 394.6,285.9 394.7,286.8 394.9,288.7 395.1,289.1 395.2,286.7 395.4,286.7 395.6,285.6 395.8,288.7 395.9,287.4 396.1,289.6 396.3,286.3 396.5,287.7 396.6,285.3 396.8,285.5 397,287.2 397.2,285.8 397.3,287.6 397.5,287.2 397.7,288.3 397.9,289.5 398,286.8 398.2,285.3 398.4,287.3 398.5,287.8 398.7,286.7 398.9,287.9 399.1,289.4 399.2,285.7 399.4,286.1 399.6,283.7 399.8,290.1 399.9,285.9 400.1,288.2 400.3,286.6 400.5,284.4 400.6,284.8 400.8,286.6 401,286.3 401.2,287.9 401.3,286.7 401.5,287.6 401.7,291.4 401.8,287.2 402,289.3 402.2,284.9 402.4,287 402.5,288.1 402.7,289.9 402.9,287.7 403.1,287.9 403.2,286.7 403.4,286.5 403.6,286.7 403.8,288.7 403.9,287.5 404.1,289.2 404.3,286.4 404.5,287.8 404.6,288.6 404.8,289.1 405,288.4 405.2,285.5 405.3,288.1 405.5,287.7 405.7,287.9 405.8,289.5 406,288.1 406.2,286.5 406.4,288.7 406.5,289.1 406.7,289.3 406.9,286.4 407.1,289.1 407.2,288.3 407.4,289.1 407.6,291.7 407.8,288.1 407.9,287.9 408.1,287.7 408.3,287.1 408.5,288.4 408.6,289.3 408.8,287.6 409,288.9 409.1,293.9 409.3,289.1 409.5,285.7 409.7,288.6 409.8,289.8 410,289 410.2,290.4 410.4,288.6 410.5,288 410.7,287.2 410.9,286.6 411.1,292.2 411.2,290.2 411.4,288.1 411.6,288 411.8,287.2 411.9,288 412.1,289.1 412.3,289.4 412.4,290.8 412.6,286.3 412.8,289.2 413,288.7 413.1,291.4 413.3,289.4 413.5,285.9 413.7,288.7 413.8,287.4 414,286.2 414.2,288.7 414.4,289.7 414.5,290.1 414.7,287.9 414.9,288.6 415.1,291.6 415.2,289.4 415.4,288.5 415.6,290 415.7,288.1 415.9,288.5 416.1,292.9 416.3,288.9 416.4,286.9 416.6,287.2 416.8,289.5 417,287.9 417.1,287.7 417.3,289.3 417.5,288.7 417.7,291.3 417.8,289.4 418,289.4 418.2,289 418.4,291.7 418.5,289.8 418.7,290.4 418.9,290 419,288.7 419.2,291.7 419.4,288.8 419.6,290.4 419.7,287.4 419.9,290.7 420.1,289.9 420.3,290.5 420.4,291.5 420.6,289.8 420.8,288.7 421,288.8 421.1,290.9 421.3,289.3 421.5,291.3 421.7,290.7 421.8,290.9 422,290.6 422.2,288.6 422.3,291.2 422.5,292.5 422.7,290.9 422.9,289.9 423,289.2 423.2,287.9 423.4,290 423.6,291.8 423.7,292.3 423.9,289.3 424.1,290.4 424.3,291.5 424.4,291 424.6,286.7 424.8,291.8 425,290.2 425.1,291.4 425.3,289.2 425.5,289.2 425.6,291.2 425.8,292.7 426,289.4 426.2,290.5 426.3,291 426.5,289.5 426.7,291.6 426.9,287.4 427,292.9 427.2,292.8 427.4,290.5 427.6,289.6 427.7,289.9 427.9,290.7 428.1,291.5 428.3,291.1 428.4,290.8 428.6,291.4 428.8,290.4 428.9,287.9 429.1,291.2 429.3,293.2 429.5,291.9 429.6,291.6 429.8,289.1 430,291.5 430.2,290.6 430.3,290.3 430.5,290.2 430.7,292.8 430.9,293.4 431,292.5 431.2,291.3 431.4,291.2 431.6,290.5 431.7,291.3 431.9,291.2 432.1,289.7 432.2,291.1 432.4,291.5 432.6,291.7 432.8,290.9 432.9,292.9 433.1,294.9 433.3,290.8 433.5,292.7 433.6,293 433.8,292.5 434,291.1 434.2,291.7 434.3,288.1 434.5,290.8 434.7,290.7 434.9,291.9 435,292.9 435.2,290.3 435.4,293.1 435.5,291.3 435.7,291.2 435.9,290.6 436.1,293.3 436.2,289.7 436.4,290.5 436.6,290.7 436.8,292.1 436.9,291.7 437.1,290.6 437.3,290.8 437.5,290.6 437.6,289.9 437.8,292.8 438,291.2 438.2,289.5 438.3,292.3 438.5,290.6 438.7,289.9 438.8,292.2 439,291.8 439.2,291.2 439.4,293.8 439.5,291.9 439.7,291 439.9,292.2 440.1,296.7 440.2,292.5 440.4,291.8 440.6,295.2 440.8,292.6 440.9,292.7 441.1,291 441.3,291.4 441.5,293.1 441.6,287.6 441.8,296.7 442,293.7 442.1,293.6 442.3,291.7 442.5,286.5 442.7,287.6 442.8,290.4 443,290.5 443.2,291.5 443.4,293.3 443.5,292.5 443.7,290.1 443.9,292.8 444.1,291.5 444.2,290.4 444.4,293.4 444.6,291.9 444.8,291.1 444.9,289.1 445.1,293.5 445.3,290.2 445.4,292.6 445.6,290.6 445.8,293.1 446,293.1 446.1,288.8 446.3,291.3 446.5,290.5 446.7,292.7 446.8,291.7 447,289.4 447.2,289.8 447.4,292 447.5,293.2 447.7,295.2 447.9,291.5 448.1,291.4 448.2,293.4 448.4,291.8 448.6,290.7 448.7,293.4 448.9,293.6 449.1,293.4 449.3,292.5 449.4,291.8 449.6,293.1 449.8,292.9 450,292.6 450.1,292.3 450.3,294.9 450.5,291.5 450.7,291.5 450.8,291.3 451,292 451.2,291.2 451.4,291.3 451.5,291.3 451.7,291 451.9,291.8 452,292.3 452.2,293.3 452.4,289.6 452.6,291 452.7,292.3 452.9,296.4 453.1,291.8 453.3,294 453.4,292.6 453.6,292.7 453.8,292.9 454,287.5 454.1,292.2 454.3,292.7 454.5,291.5 454.7,292.5 454.8,291.3 455,296 455.2,292.2 455.3,291.6 455.5,293.4 455.7,290 455.9,291.9 456,291.8 456.2,292.3 456.4,291.5 456.6,291.8 456.7,292.2 456.9,294.6 457.1,289.6 457.3,294 457.4,290.6 457.6,292.4 457.8,292.6 458,294.6 458.1,292.4 458.3,292.9 458.5,290.2 458.6,289.7 458.8,291.3 459,294 459.2,293.9 459.3,291.7 459.5,290.5 459.7,294.3 459.9,290.8 460,293.3 460.2,294 460.4,295 460.6,292.6 460.7,292.1 460.9,289.5 461.1,292.4 461.3,291.5 461.4,292.6 461.6,292.6 461.8,292 462,292.8 462.1,291.1 462.3,292.4 462.5,292.6 462.6,293.7 462.8,292 463,290.5 463.2,292.9 463.3,288.5 463.5,295.1 463.7,294.6 463.9,293 464,291.9 464.2,292.5 464.4,295.4 464.6,295.9 464.7,289.4 464.9,292.8 465.1,294 465.3,293.4 465.4,293.7 465.6,292.6 465.8,294.4 465.9,294.8 466.1,291.8 466.3,291.1 466.5,294.2 466.6,292.2 466.8,292.2 467,290.9 467.2,295.1 467.3,293.2 467.5,289.7 467.7,293.5 467.9,293 468,291.5 468.2,292.6 468.4,292.9 468.6,295.2 468.7,295.3 468.9,292.7 469.1,294.5 469.2,291.7 469.4,293.7 469.6,293.1 469.8,294.2 469.9,287.5 470.1,293.3 470.3,293 470.5,292.2 470.6,292.2 470.8,290.3 471,293.1 471.2,291.7 471.3,291.7 471.5,291.7 471.7,289.6 471.9,291.9 472,288.8 472.2,292.2 472.4,292.6 472.5,298.2 472.7,291.4 472.9,289.9 473.1,293.8 473.2,295.3 473.4,291.4 473.6,293.3 473.8,295.6 473.9,294.2 474.1,292.1 474.3,292.7 474.5,292.9 474.6,293.5 474.8,291.7 475,291.6 475.2,290.9 475.3,292.8 475.5,291.4 475.7,291.2 475.8,291.7 476,293.6 476.2,298.2 476.4,292.5 476.5,294.5 476.7,293.3 476.9,290.8 477.1,292.7 477.2,291.4 477.4,292.7 477.6,290.9 477.8,294.1 477.9,290.9 478.1,292 478.3,292.2 478.5,294.1 478.6,293.2 478.8,292.3 479,291.7 479.1,294.4 479.3,293.7 479.5,292.9 479.7,292.7 479.8,287.9 480,292.8 480.2,292.6 480.4,295.3 480.5,294 480.7,292.6 480.9,294.9 481.1,292 481.2,295.3 481.4,293.3 481.6,293.9 481.8,292.2 481.9,292.2 482.1,293.1 482.3,294.6 482.4,291.8 482.6,292.9 482.8,293.4 483,293.6 483.1,292.6 483.3,294.4 483.5,292.8 483.7,291 483.8,293.6 484,291.7 484.2,298.4 484.4,294.6 484.5,297.5 484.7,295.1 484.9,291.8 485.1,294.8 485.2,296 485.4,292.6 485.6,289.2 485.7,293 485.9,292.5 486.1,294.7 486.3,292.2 486.4,293.7 486.6,293.3 486.8,292.1 487,295.2 487.1,292.9 487.3,291.6 487.5,294.4 487.7,293.6 487.8,294 488,296.7 488.2,293.5 488.4,297.8 488.5,295.1 488.7,292 488.9,293.7 489,293 489.2,294.7 489.4,293.6 489.6,293.9 489.7,293.1 489.9,292.6 490.1,294 490.3,298.5 490.4,292.3 490.6,292 490.8,294.3 491,294.5 491.1,294.2 491.3,294.5 491.5,293.1 491.7,293 491.8,294.1 492,295.5 492.2,293 492.3,295.1 492.5,293.5 492.7,294 492.9,296.8 493,293.4 493.2,292.3 493.4,292.7 493.6,293.9 493.7,293.2 493.9,291.5 494.1,293.5 494.3,292.6 494.4,293.6 494.6,290.8 494.8,292.7 495,291.2 495.1,293.7 495.3,293.4 495.5,293.5 495.6,291.8 495.8,297.3 496,288.7 496.2,291.4 496.3,293.6 496.5,292.6 496.7,295.1 496.9,294.2 497,292.6 497.2,297.2 497.4,293 497.6,293.4 497.7,293.9 497.9,294.5 498.1,295.3 498.3,294.3 498.4,292.6 498.6,293.5 498.8,293.4 498.9,292.1 499.1,293.8 499.3,290.9 499.5,293.8 499.6,294.5 499.8,297.2 500,293 500.2,293.6 500.3,290 500.5,298.1 500.7,294.1 500.9,294.1 501,294.2 501.2,294.8 501.4,293.6 501.6,293.6 501.7,294.2 501.9,293.4 502.1,293.4 502.2,291.1 502.4,290.8 502.6,293.4 502.8,292.7 502.9,296.6 503.1,292.7 503.3,290.8 503.5,291.8 503.6,294.1 503.8,296.9 504,294.6 504.2,294.5 504.3,294.4 504.5,295.3 504.7,291.5 504.9,292.4 505,290.8 505.2,298.7 505.4,293.1 505.5,291.3 505.7,291.6 505.9,292.9 506.1,292.2 506.2,293.8 506.4,292.1 506.6,292.5 506.8,294.4 506.9,294 507.1,293.5 507.3,293.2 507.5,291.5 507.6,293.8 507.8,295.7 508,295.3 508.2,293.4 508.3,292.1 508.5,292.1 508.7,294.4 508.8,293.8 509,290.2 509.2,294.6 509.4,295.3 509.5,293.1 509.7,292.6 509.9,294.4 510.1,292.7 510.2,293.6 510.4,291.5 510.6,293 510.8,293.2 510.9,292.4 511.1,293.9 511.3,294 511.5,292.4 511.6,291.8 511.8,291.9 512,294.9 512.1,293.3 512.3,295.6 512.5,293.7 512.7,289.8 512.8,295.7 513,292.2 513.2,294.4 513.4,290.1 513.5,294.6 513.7,292.9 513.9,294.6 514.1,291.8 514.2,295 514.4,292.3 514.6,295.4 514.8,293.5 514.9,293.9 515.1,295.6 515.3,292.5 515.4,292.1 515.6,291.7 515.8,294 516,292.9 516.1,293.9 516.3,294 516.5,292.4 516.7,292.5 516.8,292.1 517,291.3 517.2,292.2 517.4,292.5 517.5,294.5 517.7,294.8 517.9,296.3 518.1,295.1 518.2,292.6 518.4,298.8 518.6,294.8 518.8,293.3 518.9,293.9 519.1,291.6 519.3,297.9 519.4,294.6 519.6,292.4 519.8,293.5 520,294.4 520.1,293.3 520.3,294 520.5,292.8 520.7,296.2 520.8,292.5 521,294.5 521.2,292.8 521.4,291.6 521.5,293.4 521.7,293.5 521.9,293.3 522.1,295.7 522.2,295 522.4,295.3 522.6,292.1 522.7,293.4 522.9,292.9 523.1,293.7 523.3,298 523.4,293.1 523.6,292 523.8,295.5 524,294.3 524.1,293.1 524.3,290.5 524.5,298.6 524.7,298.8 524.8,291.5 525,294.1 525.2,294.6 525.4,293.1 525.5,292 525.7,294 525.9,294.1 526,292.8 526.2,293.7 526.4,292.4 526.6,293.5 526.7,294.8 526.9,295.8 527.1,295.1 527.3,295.5 527.4,294 527.6,292.6 527.8,295.8 528,294.7 528.1,295.2 528.3,293.8 528.5,295.1 528.7,291.1 528.8,288.2 529,294.6 529.2,291 529.3,291.9 529.5,294.3 529.7,291.3 529.9,296.2 530,296.4 530.2,292.8 530.4,294.9 530.6,292.4 530.7,294.6 530.9,294.2 531.1,289.6 531.3,291.7 531.4,293.2 531.6,295.3 531.8,294.2 532,298.7 532.1,296 532.3,292.4 532.5,292.2 532.6,291.9 532.8,294.1 533,293.2 533.2,290.7 533.3,291.9 533.5,294.9 533.7,292.1 533.9,293.3 534,293.5 534.2,294.7 534.4,293.7 534.6,292.6 534.7,294.8 534.9,293.4 535.1,295.5 535.3,293.1 535.4,291.1 535.6,292.9 535.8,293.7 535.9,290.4 536.1,293.1 536.3,292.6 536.5,294.6 536.6,293.6 536.8,292.7 537,298.7 537.2,293.3 537.3,293.6 537.5,291.9 537.7,293.3 537.9,294 538,293.5 538.2,291.9 538.4,291.8 538.6,295.3 538.7,292.9 538.9,292.4 539.1,296.4 539.2,293.2 539.4,298.6 539.6,294.7 539.8,292.1 539.9,294.2 540.1,292.3 540.3,293.2 540.5,293.2 540.6,292.8 540.8,293.6 541,295.1 541.2,291.2 541.3,290.7 541.5,293.4 541.7,292.8 541.9,294.4 542,294.8 542.2,294 542.4,295.7 542.5,293 542.7,292.7 542.9,292.8 543.1,296.3 543.2,294.3 543.4,295.9 543.6,295 543.8,293.4 543.9,292.1 544.1,292.1 544.3,296.2 544.5,291.6 544.6,292.4 544.8,292.6 545,294.6 545.2,288 545.3,294.1 545.5,291.5 545.7,293.6 545.8,293.9 546,291.6 546.2,292.5 546.4,293.5 546.5,293.2"/>
<polyline fill="none" stroke="#ff8080" stroke-width="0.7" stroke-opacity="1" stroke-linejoin="round" points="141.3,174.1 141.4,186.2 141.5,185.3 141.6,185.1 141.8,188.3 141.9,183.9 142,182.9 142.1,185 142.2,173.9 142.3,176.7 142.5,179.4 142.6,178.3 142.7,181.2 142.8,186.5 142.9,177.5 143,177.2 143.2,180.1 143.3,185 143.4,179.7 143.5,181.8 143.6,194 143.7,169.4 143.8,180.8 144,186.9 144.1,177 144.2,187.2 144.3,180.9 144.4,186.7 144.5,173.2 144.7,184.8 144.8,194.4 144.9,180.1 145,185.3 145.1,179.9 145.2,184.9 145.4,178.2 145.5,194.3 145.6,183.7 145.7,190.7 145.8,184.2 145.9,182.9 146,184.1 146.2,187.3 146.3,183.5 146.4,184.1 146.5,185.8 146.6,190.5 146.7,185.5 146.9,186 147,194.6 147.1,191.3 147.2,188.7 147.3,188.3 147.4,173.2 147.6,189.9 147.7,185.1 147.8,181.3 147.9,184.6 148,186.3 148.1,190.1 148.2,190.8 148.4,180.8 148.5,192.6 148.6,193.6 148.7,188.7 148.8,188.3 148.9,194.4 149.1,187 149.2,190 149.3,192.1 149.4,190.4 149.5,191.9 149.6,193.4 149.8,197.4 149.9,193.7 150,197.9 150.1,189.8 150.2,186 150.3,191 150.4,189.5 150.6,190.9 150.7,190.5 150.8,190.4 150.9,187.3 151,191.7 151.1,193.7 151.3,189.4 151.4,191.4 151.5,191.9 151.6,190.6 151.7,183.8 151.8,192.2 152,190.9 152.1,187.2 152.2,190.6 152.3,182.3 152.4,192.5 152.5,203 152.6,200.1 152.8,197.7 152.9,188.7 153,186.9 153.1,197.9 153.2,192 153.3,191.6 153.5,202.7 153.6,199.3 153.7,193.5 153.8,195.3 153.9,195.3 154,202.7 154.2,186.4 154.3,184.7 154.4,188.5 154.5,193.6 154.6,192.1 154.7,195.9 154.8,195.6 155,188.6 155.1,208 155.2,197.8 155.3,192.5 155.4,192.3 155.5,196.2 155.7,195.4 155.8,191.4 155.9,193.6 156,195.7 156.1,192.4 156.2,196.6 156.4,197.8 156.5,198.8 156.6,191 156.7,192.2 156.8,193.8 156.9,195.5 157,198 157.2,182.2 157.3,192.2 157.4,194.1 157.5,197 157.6,196.3 157.7,190.9 157.9,196.2 158,196.8 158.1,200.6 158.2,202.8 158.3,201.3 158.4,201 158.6,197.8 158.7,200.9 158.8,194.7 158.9,198.2 159,199.3 159.1,200.9 159.2,195.2 159.4,198.4 159.5,198.7 159.6,205 159.7,202.5 159.8,208.2 159.9,199.4 160.1,199.8 160.2,198.6 160.3,197.8 160.4,195.5 160.5,199.7 160.6,198.3 160.8,199.4 160.9,201.8 161,199.8 161.1,200.4 161.2,206.3 161.3,198.8 161.4,203.6 161.6,200 161.7,205.1 161.8,200.3 161.9,199 162,200.3 162.1,205.1 162.3,197.5 162.4,202.4 162.5,203.8 162.6,198.4 162.7,196.4 162.8,198 163,216.1 163.1,204.7 163.2,206 163.3,201.6 163.4,201.1 163.5,191.2 163.6,204.9 163.8,198.4 163.9,196.8 164,204.5 164.1,201.9 164.2,203.1 164.3,199.4 164.5,211.5 164.6,205.4 164.7,200.9 164.8,209.1 164.9,209.3 165,204 165.2,199 165.3,205.8 165.4,202 165.5,205.8 165.6,208 165.7,206.4 165.8,207 166,201.6 166.1,212 166.2,205.5 166.3,203.4 166.4,207.1 166.5,206.7 166.7,202.2 166.8,206.8 166.9,207.7 167,202.1 167.1,209.1 167.2,205.4 167.4,207.9 167.5,209.1 167.6,207.8 167.7,210.9 167.8,205.1 167.9,210.2 168,208 168.2,207.9 168.3,203.7 168.4,209 168.5,217 168.6,206.8 168.7,204.7 168.9,206.9 169,212.4 169.1,211.1 169.2,210.8 169.3,207.3 169.4,210.9 169.6,205.7 169.7,209.2 169.8,212.4 169.9,212.8 170,212.3 170.1,210.9 170.2,208.4 170.4,210.4 170.5,209.1 170.6,210.5 170.7,212.9 170.8,209.9 170.9,213.9 171.1,215.2 171.2,208.7 171.3,213.6 171.4,214.6 171.5,207.9 171.6,209.1 171.8,222.5 171.9,214.9 172,208.7 172.1,204.5 172.2,207.4 172.3,211.4 172.5,213.5 172.6,212.5 172.7,207 172.8,204.2 172.9,208.1 173,209.2 173.1,214.2 173.3,203.7 173.4,214.1 173.5,207.7 173.6,208.5 173.7,201.3 173.8,208.4 174,201.5 174.1,205.3 174.2,206.6 174.3,207.2 174.4,199.6 174.5,211 174.7,202.3 174.8,206.2 174.9,197.4 175,203 175.1,203.4 175.2,199.9 175.3,202 175.5,201.5 175.6,198.7 175.7,194.1 175.8,196.6 175.9,190.6 176,193.2 176.2,197.8 176.3,198.6 176.4,196.4 176.5,190 176.6,188.5 176.7,192.2 176.9,185.2 177,194.7 177.1,192.6 177.2,189.3 177.3,175.8 177.4,188.3 177.5,186.8 177.7,184.8 177.8,187.3 177.9,187.7 178,192.8 178.1,186.8 178.2,181.9 178.4,181.6 178.5,178.8 178.6,182.3 178.7,186.2 178.8,182.8 178.9,183.2 179.1,179.9 179.2,174.8 179.3,183 179.4,184.6 179.5,179.3 179.6,179.2 179.7,192.4 179.9,176.2 180,179.4 180.1,177.6 180.2,178 180.3,182 180.4,178.9 180.6,180.8 180.7,171.4 180.8,185 180.9,178.8 181,177.7 181.1,171 181.3,176 181.4,174.9 181.5,188.4 181.6,169.8 181.7,178.4 181.8,177.1 181.9,167.6 182.1,170.2 182.2,174 182.3,176.7 182.4,166.8 182.5,174.3 182.6,179.4 182.8,173.8 182.9,169.5 183,167.8 183.1,162.8 183.2,164.7 183.3,163.9 183.5,164.8 183.6,171.1 183.7,182 183.8,170.2 183.9,163 184,154.9 184.1,162.2 184.3,171.9 184.4,162 184.5,160 184.6,163.3 184.7,171.2 184.8,162.3 185,161.6 185.1,165.5 185.2,161.1 185.3,168.3 185.4,162.7 185.5,162.2 185.7,168.6 185.8,154.7 185.9,161.5 186,163.9 186.1,154.1 186.2,147.3 186.3,154.7 186.5,156.6 186.6,158.6 186.7,160.4 186.8,153.8 186.9,155.3 187,162.3 187.2,155.4 187.3,150.3 187.4,150.1 187.5,153.6 187.6,150.4 187.7,154.9 187.9,147.5 188,148.7 188.1,149.5 188.2,153.8 188.3,154.6 188.4,154.8 188.5,153.6 188.7,156.2 188.8,145.1 188.9,150.1 189,149.4 189.1,150.9 189.2,149.9 189.4,141.5 189.5,138.2 189.6,145.1 189.7,145.1 189.8,159.3 189.9,151.3 190.1,140.6 190.2,145.9 190.3,144.5 190.4,143 190.5,149.7 190.6,148.6 190.7,144.4 190.9,146.3 191,138.2 191.1,142.5 191.2,139.2 191.3,139.5 191.4,140.8 191.6,137.6 191.7,142.9 191.8,134.9 191.9,132.8 192,127.6 192.1,143.2 192.3,138.3 192.4,137 192.5,132.9 192.6,134.2 192.7,136.2 192.8,134.5 192.9,134.8 193.1,137.4 193.2,131.9 193.3,140.1 193.4,131.1 193.5,130.8 193.6,127.9 193.8,128.9 193.9,133.4 194,131.2 194.1,128.4 194.2,123 194.3,124.7 194.5,122.9 194.6,117.7 194.7,123.4 194.8,123.8 194.9,123.4 195,123.7 195.1,133.2 195.3,123.4 195.4,123.5 195.5,115.8 195.6,122.4 195.7,121.4 195.8,123.9 196,116.3 196.1,117.2 196.2,115.9 196.3,126.1 196.4,127.3 196.5,126.7 196.7,112.4 196.8,116.2 196.9,106.1 197,118 197.1,117.4 197.2,110.3 197.3,115.6 197.5,105.9 197.6,113.4 197.7,124 197.8,109.6 197.9,111.4 198,108.3 198.2,99 198.3,100.9 198.4,102.1 198.5,98.5 198.6,99.6 198.7,101.7 198.9,99 199,83.7 199.1,92.8 199.2,85.5 199.3,92.6 199.4,87.7 199.5,94 199.7,89.7 199.8,90.1 199.9,89.4 200,82.2 200.1,80.3 200.2,80.7 200.4,82.3 200.5,81.1 200.6,85.3 200.7,73.2 200.8,86.2 200.9,72.9 201.1,78.3 201.2,71.8 201.3,72.7 201.4,72.4 201.5,77.8 201.6,79.6 201.7,66 201.9,78.7 202,78.7 202.1,73.3 202.2,71.3 202.3,72.7 202.4,68.6 202.6,64.7 202.7,76 202.8,52.4 202.9,69.8 203,67.2 203.1,76.9 203.3,59.7 203.4,64 203.5,69.8 203.6,60.3 203.7,68 203.8,66.9 203.9,64.3 204.1,62.8 204.2,70.5 204.3,74.8 204.4,68.5 204.5,77.4 204.6,72.6 204.8,74.8 204.9,72.4 205,73.2 205.1,70.1 205.2,74.9 205.3,68.6 205.5,80.2 205.6,85.2 205.7,82.7 205.8,84.3 205.9,85.6 206,87.4 206.1,84.2 206.3,79 206.4,82 206.5,84.9 206.6,79.1 206.7,83.9 206.8,100.1 207,96.9 207.1,96.3 207.2,96.6 207.3,94.1 207.4,98.9 207.5,96.8 207.7,94.6 207.8,99.8 207.9,101.7 208,101.4 208.1,105.2 208.2,104.5 208.3,110.1 208.5,115.5 208.6,113.3 208.7,117.5 208.8,119.4 208.9,114.6 209,109.2 209.2,121 209.3,122.2 209.4,122.9 209.5,124.4 209.6,131.9 209.7,138.3 209.9,123.6 210,130.1 210.1,139.5 210.2,136.3 210.3,146.6 210.4,138.8 210.5,139 210.7,152.8 210.8,142.2 210.9,139.8 211,136.8 211.1,141.4 211.2,148 211.4,146.4 211.5,149.9 211.6,154.6 211.7,152.3 211.8,148.7 211.9,149.6 212.1,156.2 212.2,157.2 212.3,165.5 212.4,157 212.5,162.2 212.6,162.3 212.7,166.5 212.9,156.4 213,168 213.1,165 213.2,169 213.3,156.4 213.4,171.2 213.6,151.6 213.7,166.1 213.8,174.7 213.9,167.9 214,173.1 214.1,165.3 214.3,168 214.4,173.9 214.5,172.7 214.6,180.3 214.7,186.1 214.8,179.7 214.9,167.9 215.1,174.8 215.2,191.6 215.3,187.9 215.4,180.6 215.5,181.4 215.6,178.9 215.8,182.6 215.9,181.8 216,178 216.1,181.8 216.2,180.1 216.3,185.7 216.5,183.9 216.6,190.5 216.7,193.5 216.8,185.1 216.9,179.3 217,179.9 217.1,184.4 217.3,187.1 217.4,184.5 217.5,185.6 217.6,189.9 217.7,186.4 217.8,179.6 218,188.1 218.1,192.2 218.2,193.3 218.3,193.5 218.4,179.9 218.5,190.6 218.7,190.8 218.8,199.1 218.9,190.9 219,186.8 219.1,189.1 219.2,191.4 219.3,192 219.5,190.8 219.6,192.8 219.7,190.8 219.8,190.4 219.9,192.8 220,192.8 220.2,197.9 220.3,194.1 220.4,194.9 220.5,199.7 220.6,194.8 220.7,195.8 220.9,191.5 221,198.6 221.1,197.3 221.2,205 221.3,196.8 221.4,195.8 221.5,193.1 221.7,194.9 221.8,201.3 221.9,196.8 222,196.9 222.1,205.7 222.2,203.5 222.4,202.6 222.5,203 222.6,198.9 222.7,195.2 222.8,201.3 222.9,199.4 223.1,201.3 223.2,198.9 223.3,201.5 223.4,201.8 223.5,201.5 223.6,196.6 223.7,199.9 223.9,199.3 224,208.6 224.1,197.9 224.2,200.4 224.3,203.1 224.4,197.1 224.6,204.1 224.7,203.3 224.8,199.2 224.9,206.1 225,209.7 225.1,207.1 225.3,201 225.4,205.9 225.5,203.7 225.6,201.9 225.7,208.9 225.8,203.7 225.9,203.4 226.1,203.2 226.2,199.5 226.3,211 226.4,205.8 226.5,206.8 226.6,204.6 226.8,206.2 226.9,208.3 227,207.2 227.1,202.8 227.2,209.2 227.3,202 227.5,207.9 227.6,201.4 227.7,203.2 227.8,209.7 227.9,204.4 228,205.3 228.1,207.8 228.3,216.2 228.4,211.6 228.5,206.9 228.6,203.2 228.7,211.1 228.8,208.3 229,196.2 229.1,205.5 229.2,213.7 229.3,207.9 229.4,203.2 229.5,212.3 229.7,211.4 229.8,210.2 229.9,213.1 230,217.7 230.1,212.2 230.2,216.7 230.4,211.5 230.5,213.9 230.6,213.1 230.7,208.8 230.8,213.1 230.9,205.1 231,210.1 231.2,208.5 231.3,209 231.4,211.3 231.5,212.8 231.6,213.8 231.7,219.2 231.9,218.8 232,205.4 232.1,213.9 232.2,214 232.3,214.8 232.4,208.9 232.6,217.6 232.7,208.1 232.8,212 232.9,211.3 233,212.2 233.1,214.2 233.2,218.7 233.4,213.7 233.5,218.8 233.6,213.4 233.7,211.2 233.8,212.8 233.9,221.3 234.1,221.1 234.2,214.5 234.3,211.9 234.4,213.6 234.5,216.2 234.6,216.3 234.8,218.9 234.9,228.5 235,215.8 235.1,210 235.2,218.4 235.3,213.7 235.4,219.2 235.6,217.8 235.7,222.6 235.8,218.3 235.9,219.3 236,215.1 236.1,217.7 236.3,217.2 236.4,217.8 236.5,217.3 236.6,216.2 236.7,219.1 236.8,224.2 237,221.1 237.1,219.6 237.2,223.5 237.3,216.5 237.4,217.4 237.5,224.7 237.6,216.1 237.8,222.9 237.9,217 238,222.7 238.1,220.4 238.2,230.1 238.3,225.6 238.5,224 238.6,218.5 238.7,219.8 238.8,218.2 238.9,223.2 239,218.4 239.2,221.2 239.3,221.1 239.4,219.3 239.5,214.1 239.6,220.8 239.7,217.3 239.8,227.7 240,222.5 240.1,223.5 240.2,224.2 240.3,226.5 240.4,224.1 240.5,227.1 240.7,225.5 240.8,230.5 240.9,220.5 241,228.3 241.1,226.7 241.2,220 241.4,223.7 241.5,224.4 241.6,220.4 241.7,223 241.8,222 241.9,223.9 242,225.6 242.2,223.6 242.3,231.2 242.4,225.1 242.5,224.3 242.6,215.5 242.7,226.2 242.9,227.7 243,222.3 243.1,223.5 243.2,227.1 243.3,229 243.4,220.2 243.6,218.4 243.7,223.9 243.8,228.1 243.9,225.7 244,229.6 244.1,227.2 244.2,224.7 244.4,228.4 244.5,224.6 244.6,232.8 244.7,217.6 244.8,227.9 244.9,225.2 245.1,221.6 245.2,224.7 245.3,234 245.4,235.3 245.5,232.8 245.6,223.6 245.8,231 245.9,226.8 246,232.8 246.1,228.5 246.2,226.6 246.3,231.1 246.4,227.1 246.6,228 246.7,225.4 246.8,231.3 246.9,231 247,226.3 247.1,231.4 247.3,225.1 247.4,233.5 247.5,228.8 247.6,229.3 247.7,228.9 247.8,236.5 248,231.5 248.1,229.5 248.2,225.6 248.3,227.4 248.4,231.7 248.5,229.3 248.6,231.8 248.8,230 248.9,235.7 249,234.9 249.1,236.7 249.2,226.2 249.3,225.7 249.5,234.1 249.6,235.6 249.7,233.1 249.8,235.4 249.9,236.6 250,232.6 250.2,224.5 250.3,228.3 250.4,229.4 250.5,230 250.6,236.9 250.7,237 250.8,230 251,239.1 251.1,231.7 251.2,233.8 251.3,231.5 251.4,232.9 251.5,231.5 251.7,236.5 251.8,238.6 251.9,228.7 252,239.5 252.1,234.8 252.2,229.3 252.4,233.6 252.5,238.2 252.6,237.8 252.7,233.5 252.8,236.6 252.9,231.2 253,237.5 253.2,238.6 253.3,236.5 253.4,231.4 253.5,234.3 253.6,235.6 253.7,232.2 253.9,236.6 254,234.3 254.1,236.7 254.2,234.1 254.3,237.8 254.4,234.8 254.6,241 254.7,233.7 254.8,235.2 254.9,237.3 255,238.9 255.1,241.2 255.2,234.1 255.4,239.9 255.5,239.7 255.6,235.2 255.7,236.5 255.8,238.2 255.9,237.9 256.1,234.6 256.2,237.6 256.3,234.2 256.4,240.6 256.5,243.1 256.6,237.3 256.8,234 256.9,236.6 257,238.8 257.1,241.3 257.2,240.4 257.3,241 257.4,239.8 257.6,240.5 257.7,237.6 257.8,243.3 257.9,244.2 258,241.6 258.1,235 258.3,241.7 258.4,245.4 258.5,237.7 258.6,240.2 258.7,236.1 258.8,240.7 259,248.8 259.1,246.2 259.2,236 259.3,244.9 259.4,240.3 259.5,241 259.6,243.7 259.8,239.9 259.9,231.7 260,245 260.1,244.5 260.2,239.6 260.3,244.4 260.5,238.2 260.6,243 260.7,243.6 260.8,247.5 260.9,244.1 261,234.7 261.2,247.4 261.3,235 261.4,240.1 261.5,240.3 261.6,245.2 261.7,245 261.8,245.4 262,244.9 262.1,245.8 262.2,241.1 262.3,244.3 262.4,243.7 262.5,248.4 262.7,245 262.8,245.9 262.9,242.9 263,247.5 263.1,243.4 263.2,248.4 263.4,245 263.5,240.8 263.6,246.3 263.7,244.1 263.8,244.9 263.9,246.1 264,245.6 264.2,246 264.3,238.8 264.4,247.4 264.5,246.3 264.6,245.2 264.7,248.3 264.9,254.8 265,250.3 265.1,249.8 265.2,249.8 265.3,249.6 265.4,248.6 265.6,251.1 265.7,240.4 265.8,247.9 265.9,248.3 266,246.2 266.1,252.1 266.2,249.8 266.4,249.8 266.5,248.1 266.6,249.7 266.7,252.1 266.8,252.5 266.9,257.1 267.1,248.9 267.2,247 267.3,252.4 267.4,253 267.5,247.2 267.6,250.7 267.8,253.6 267.9,250.3 268,252.8 268.1,254.3 268.2,250.5 268.3,250.9 268.4,250.8 268.6,251.1 268.7,253 268.8,253 268.9,251.5 269,258.1 269.1,257.5 269.3,257.7 269.4,246.6 269.5,259.8 269.6,253 269.7,253.9 269.8,251.2 270,251.1 270.1,254 270.2,257.6 270.3,253.2 270.4,252.9 270.5,255.5 270.6,253.7 270.8,254 270.9,254.6 271,253.4 271.1,256.2 271.2,254.7 271.3,254 271.5,250.3 271.6,256 271.7,257.7 271.8,253 271.9,252.6 272,256.2 272.2,249.8 272.3,254.9 272.4,260.8 272.5,254.1 272.6,260.3 272.7,257.8 272.8,248.4 273,255.2 273.1,260.5 273.2,255.4 273.3,259.1 273.4,260.4 273.5,259.7 273.7,258.2 273.8,257.2 273.9,259.1 274,255.8 274.1,257.4 274.2,260 274.4,256.4 274.5,259.3 274.6,260.4 274.7,258.3 274.8,264.2 274.9,254.5 275,259 275.2,257.2 275.3,260.1 275.4,263.8 275.5,259.5 275.6,263.5 275.7,255.9 275.9,259.5 276,253.4 276.1,259 276.2,263.8 276.3,261.7 276.4,260.3 276.6,259.1 276.7,259.2 276.8,261.5 276.9,258.9 277,260.5 277.1,262.3 277.2,262.2 277.4,265.9 277.5,259.8 277.6,261.8 277.7,259.6 277.8,259 277.9,259 278.1,258.2 278.2,267.4 278.3,261.8 278.4,264.8 278.5,259.8 278.6,262.1 278.8,257.2 278.9,262.1 279,262.9 279.1,267.1 279.2,262.3 279.3,266 279.4,262.3 279.6,264 279.7,262 279.8,261.3 279.9,261.7 280,265 280.1,268.1 280.3,261.5 280.4,266.2 280.5,259.8 280.6,264.4 280.7,265.2 280.8,264 281,262.8 281.1,265.1 281.2,262.8 281.3,267 281.4,264 281.5,267.6 281.6,264.9 281.8,269.2 281.9,263.8 282,266 282.1,265.8 282.2,269.1 282.3,265.8 282.5,266.8 282.6,263.6 282.7,269.2 282.8,266.3 282.9,265.6 283,273.1 283.2,264 283.3,265.7 283.4,265 283.5,266.8 283.6,268.4 283.7,266.1 283.8,266.6 284,263 284.1,265.4 284.2,266.6 284.3,267.1 284.4,269.6 284.5,267.2 284.7,268.2 284.8,269.6 284.9,264.1 285,271.9 285.1,269.6 285.2,265.7 285.4,265.4 285.5,265.3 285.6,269.7 285.7,263.4 285.8,266.4 285.9,273.2 286,269.3 286.2,274.4 286.3,272.7 286.4,269.9 286.5,268.2 286.6,264.4 286.7,266.9 286.9,267.9 287,268.6 287.1,265.5 287.2,265.5 287.3,267.6 287.4,266.5 287.6,268 287.7,266.7 287.8,270.9 287.9,267.8 288,270.3 288.1,266.8 288.3,266.2 288.4,267.7 288.5,266.6 288.6,266.9 288.7,269.5 288.8,268.1 288.9,265.7 289.1,266.6 289.2,266 289.3,261.5 289.4,273 289.5,267.4 289.6,271.7 289.8,267.7 289.9,266.2 290,268.4 290.1,266.9 290.2,267.9 290.3,269.2 290.5,267.1 290.6,263.6 290.7,269.4 290.8,270.1 290.9,266.1 291,270.6 291.1,266.7 291.3,266.2 291.4,270 291.5,270.5 291.6,264.8 291.7,267.6 291.8,269.1 292,265.7 292.1,267.7 292.2,268.7 292.3,270.7 292.4,266.8 292.5,269.8 292.7,269.1 292.8,268 292.9,269.1 293,273.4 293.1,270.1 293.2,267.2 293.3,267.5 293.5,272.1 293.6,269.2 293.7,269.7 293.8,263.6 293.9,269.6 294,271.8 294.2,269.2 294.3,267.2 294.4,270.7 294.5,267.7 294.6,269.9 294.7,269.3 294.9,269.5 295,268.7 295.1,267.1 295.2,270.1 295.3,270.4 295.4,269.2 295.5,269.5 295.7,272.2 295.8,271.4 295.9,269.1 296,270.4 296.1,273.3 296.2,273 296.4,272.6 296.5,269.3 296.6,272.4 296.7,268.7 296.8,272.1 296.9,270.6 297.1,268.8 297.2,269.1 297.3,275.4 297.4,269.8 297.5,270.9 297.6,267.7 297.7,270.9 297.9,273.8 298,273.4 298.1,269.5 298.2,269.1 298.3,271 298.4,272 298.6,278.3 298.7,268.1 298.8,270.6 298.9,270.9 299,272.1 299.1,269.3 299.3,270.2 299.4,271.8 299.5,274.2 299.6,273 299.7,271.1 299.8,270.2 299.9,272.9 300.1,271.2 300.2,270.6 300.3,272.5 300.4,271.2 300.5,273.5 300.6,274.3 300.8,273.1 300.9,270.6 301,275.9 301.1,270.6 301.2,272.9 301.3,273 301.5,271.9 301.6,274.4 301.7,272.6 301.8,272.9 301.9,273.5 302,272.3 302.1,272.2 302.3,267.1 302.4,271 302.5,272.8 302.6,271 302.7,270.3 302.8,274 303,268.8 303.1,272.5 303.2,270.9 303.3,271.7 303.4,272.8 303.5,273.4 303.7,274.5 303.8,271.1 303.9,273.1 304,275 304.1,273.1 304.2,275.1 304.3,274.1 304.5,270.8 304.6,271.4 304.7,273.4 304.8,272.3 304.9,271 305,271.1 305.2,280.1 305.3,276.4 305.4,273.4 305.5,273 305.6,271.6 305.7,272.8 305.9,272.7 306,273 306.1,270.7 306.2,273.4 306.3,274.7 306.4,271.2 306.5,272.2 306.7,274.8 306.8,274.6 306.9,273.4 307,273 307.1,273.7 307.2,274.4 307.4,274.6 307.5,274.6 307.6,275.7 307.7,272 307.8,277.8 307.9,273 308.1,277.5 308.2,274.5 308.3,271.5 308.4,277.3 308.5,273.8 308.6,276.4 308.7,274 308.9,274.5 309,274 309.1,271.9 309.2,281.1 309.3,277.1 309.4,268.1 309.6,273.4 309.7,269.4 309.8,275.4 309.9,272.2 310,277.2 310.1,273.3 310.3,275.8 310.4,270.8 310.5,272.8 310.6,277.5 310.7,279.7 310.8,273.7 310.9,272.4 311.1,268.7 311.2,276.4 311.3,279.6 311.4,271.4 311.5,281.7 311.6,273.9 311.8,275.8 311.9,274.1 312,276.5 312.1,273.1 312.2,274.4 312.3,273.9 312.5,274.7 312.6,275.3 312.7,273.2 312.8,272.7 312.9,276.1 313,273.6 313.1,276.8 313.3,271.1 313.4,278 313.5,277.5 313.6,276.2 313.7,274.5 313.8,274.9 314,276.2 314.1,275 314.2,278 314.3,269.6 314.4,276.3 314.5,275 314.7,271.4 314.8,277 314.9,275.7 315,278.5 315.1,276.3 315.2,273.8 315.3,276.7 315.5,274.1 315.6,274.8 315.7,276.2 315.8,276.9 315.9,277.7 316,277.3 316.2,276.1 316.3,274.4 316.4,276.5 316.5,274.2 316.6,274.4 316.7,276.2 316.9,278.7 317,274 317.1,277.6 317.2,273.8 317.3,274.9 317.4,272.4 317.5,279.3 317.7,269.4 317.8,274.2 317.9,277.7 318,275.3 318.1,278 318.2,278.9 318.4,277.6 318.5,280.6 318.6,273.5 318.7,280.1 318.8,274.5 318.9,277.9 319.1,276 319.2,276.2 319.3,277.7 319.4,274.6 319.5,278.1 319.6,276 319.7,277.6 319.9,277 320,270.2 320.1,276.2 320.2,277 320.3,278.1 320.4,277.5 320.6,280.8 320.7,282.4 320.8,277.2 320.9,276.9 321,280.1 321.1,273.9 321.3,276.8 321.4,277.4 321.5,277 321.6,275.3 321.7,278.4 321.8,275.6 321.9,280.6 322.1,284.7 322.2,271.1 322.3,277.5 322.4,279.8 322.5,279 322.6,278.2 322.8,271.9 322.9,276.9 323,277.6 323.1,278.4 323.2,276.9 323.3,276.6 323.5,282 323.6,279.2 323.7,279.8 323.8,278.1 323.9,278.9 324,282.4 324.1,275 324.3,272 324.4,277.5 324.5,278.2 324.6,277.3 324.7,276.7 324.8,277.2 325,281.9 325.1,276.7 325.2,279.7 325.3,279.7 325.4,279.5 325.5,282.9 325.7,279.7 325.8,279.8 325.9,281.6 326,281 326.1,279.3 326.2,281.7 326.3,280.9 326.5,278.7 326.6,273.8 326.7,281.3 326.8,277.1 326.9,273.1 327,277.5 327.2,279.8 327.3,279.8 327.4,280.8 327.5,277.6 327.6,279 327.7,278.2 327.9,278.2 328,281.1 328.1,281.3 328.2,273.6 328.3,281.3 328.4,279.8 328.5,279.8 328.7,282 328.8,280 328.9,280.7 329,281 329.1,282.1 329.2,277.7 329.4,280.9 329.5,279.2 329.6,279.8 329.7,281.6 329.8,280.6 329.9,281.9 330.1,282.8 330.2,281.9 330.3,281.7 330.4,281.2 330.5,281.2 330.6,278.2 330.7,278.6 330.9,282.6 331,280.9 331.1,279.7 331.2,279 331.3,281.4 331.4,283.3 331.6,282.3 331.7,278.9 331.8,275.9 331.9,286.4 332,282.6 332.1,283.2 332.3,279.3 332.4,282.3 332.5,283 332.6,282.4 332.7,283.2 332.8,282.8 332.9,282.8 333.1,281.9 333.2,281.9 333.3,284.4 333.4,283.4 333.5,279.2 333.6,276.8 333.8,281 333.9,280.8 334,282.3 334.1,282.9 334.2,279.9 334.3,281.5 334.5,279.4 334.6,282.4 334.7,280.7 334.8,283.3 334.9,280.9 335,281.9 335.1,281.9 335.3,281.8 335.4,278.1 335.5,280.8 335.6,280.5 335.7,279.9 335.8,281.6 336,280.8 336.1,284 336.2,284.4 336.3,283.2 336.4,280.3 336.5,284.1 336.7,282.3 336.8,283.1 336.9,277.8 337,283.5 337.1,279.5 337.2,284.2 337.3,283.9 337.5,281.8 337.6,280.7 337.7,285 337.8,278.7 337.9,283.8 338,282.1 338.2,284.5 338.3,279.7 338.4,280.4 338.5,283.1 338.6,284.5 338.7,282.1 338.9,282.7 339,282.5 339.1,283.4 339.2,282.2 339.3,283.5 339.4,276.7 339.5,280.1 339.7,285.7 339.8,282 339.9,283.3 340,283.8 340.1,281.2 340.2,283.4 340.4,283 340.5,287.8 340.6,280.5 340.7,282.1 340.8,289.1 340.9,282.2 341.1,283.2 341.2,281.2 341.3,284.7 341.4,279.1 341.5,283.7 341.6,288.2 341.7,282.8 341.9,282.9 342,287.8 342.1,282.6 342.2,283 342.3,281.4 342.4,282.8 342.6,288.3 342.7,284.7 342.8,284.5 342.9,283.5 343,285.5 343.1,283.5 343.3,284.2 343.4,283.9 343.5,287.8 343.6,286.6 343.7,283.1 343.8,284.6 343.9,280.7 344.1,287.1 344.2,287.3 344.3,280.7 344.4,281.1 344.5,282.9 344.6,288.7 344.8,284.7 344.9,283 345,283.7 345.1,283.9 345.2,283.7 345.3,284.2 345.5,284.4 345.6,283.6 345.7,284 345.8,281.9 345.9,284.8 346,280.2 346.2,283.3 346.3,283.8 346.4,283.4 346.5,282.7 346.6,284 346.7,284.5 346.8,281.7 347,283.1 347.1,284.3 347.2,282.5 347.3,278.3 347.4,282.5 347.5,283.6 347.7,286.4 347.8,283.5 347.9,284.4 348,285.7 348.1,287 348.2,284.3 348.4,286.1 348.5,286 348.6,284.7 348.7,282.2 348.8,283.8 348.9,286.4 349,284.4 349.2,282 349.3,285.3 349.4,283.6 349.5,282.9 349.6,284.6 349.7,286.6 349.9,286.3 350,284.1 350.1,285.7 350.2,282.6 350.3,285.4 350.4,284 350.6,285.4 350.7,283.8 350.8,288 350.9,282.5 351,285 351.1,284.1 351.2,285.4 351.4,284.3 351.5,288.4 351.6,287.9 351.7,286.4 351.8,285.7 351.9,283.2 352.1,284.8 352.2,285.4 352.3,284.1 352.4,286.7 352.5,286 352.6,283.5 352.8,284.5 352.9,283.6 353,282 353.1,285 353.2,286 353.3,285.1 353.4,283.4 353.6,285.5 353.7,285.5 353.8,281.6 353.9,285 354,285.4 354.1,284 354.3,285.7 354.4,284.6 354.5,284.9 354.6,285.1 354.7,284.8 354.8,286.6 355,285.5 355.1,285.4 355.2,285.4 355.3,287.2 355.4,284.8 355.5,286.5 355.6,287.6 355.8,289.3 355.9,287.7 356,283.5 356.1,286.4 356.2,288.4 356.3,284.4 356.5,285.8 356.6,284.2 356.7,287.7 356.8,285.7 356.9,287.5 357,284.1 357.2,286.3 357.3,285.2 357.4,288.7 357.5,284.1 357.6,291.4 357.7,284.3 357.8,287.2 358,286.5 358.1,287.1 358.2,287.5 358.3,284.9 358.4,288.1 358.5,288.7 358.7,285.5 358.8,290.4 358.9,288.4 359,284.9 359.1,288.3 359.2,288.8 359.4,286.9 359.5,287.4 359.6,286.3 359.7,288.2 359.8,287.4 359.9,287.9 360,288.4 360.2,288.8 360.3,291 360.4,287.4 360.5,286.9 360.6,286.6 360.7,289.4 360.9,291.1 361,294.4 361.1,291.9 361.2,288.6 361.3,288.6 361.4,288.5 361.6,290.4 361.7,288.7 361.8,291.9 361.9,290.5 362,290 362.1,288.3 362.2,287.6 362.4,288.8 362.5,288.6 362.6,290.6 362.7,288.1 362.8,290.4 362.9,289.1 363.1,291.1 363.2,288.2 363.3,289.3 363.4,290.1 363.5,287.2 363.6,286.9 363.8,290 363.9,290.4 364,290.3 364.1,288.8 364.2,288.9 364.3,289 364.4,289 364.6,289.2 364.7,290.3 364.8,291.9 364.9,290 365,292.2 365.1,286.7 365.3,285.7 365.4,293 365.5,289.7 365.6,289 365.7,288.6 365.8,289 366,290.6 366.1,292 366.2,292 366.3,290 366.4,291.7 366.5,291.6 366.6,291 366.8,286.9 366.9,291.5 367,290.2 367.1,290.7 367.2,293.2 367.3,291 367.5,287.3 367.6,290.5 367.7,289.7 367.8,290.5 367.9,289.2 368,291.6 368.2,287.9 368.3,286.1 368.4,291 368.5,292.5 368.6,291.9 368.7,290.6 368.8,291.6 369,289.9 369.1,290.9 369.2,293.4 369.3,290.8 369.4,287.3 369.5,292.1 369.7,293.4 369.8,294.1 369.9,290.5 370,289.1 370.1,290.6 370.2,289.8 370.4,289.3 370.5,291.8 370.6,290.8 370.7,289.2 370.8,291.2 370.9,296.3 371,294.1 371.2,294.4 371.3,292.2 371.4,290.4 371.5,289.9 371.6,292.4 371.7,292.5 371.9,293.9 372,291.9 372.1,292.5 372.2,294.9 372.3,293.8 372.4,294.2 372.6,290.7 372.7,292.7 372.8,291.3 372.9,296.6 373,293.2 373.1,292.8 373.2,292.1 373.4,296.2 373.5,291 373.6,293.4 373.7,294.3 373.8,290.6 373.9,291.7 374.1,293.6 374.2,292.1 374.3,293.9 374.4,292.5 374.5,294.4 374.6,290.6 374.8,290.7 374.9,294 375,292.3 375.1,294.7 375.2,288.6 375.3,292.6 375.4,293 375.6,293.3 375.7,293.7 375.8,295.2 375.9,291.3 376,289.2 376.1,293.8 376.3,293.1 376.4,290.7 376.5,293.9 376.6,294.6 376.7,294.6 376.8,293.9 377,291.8 377.1,295.3 377.2,289.1 377.3,298 377.4,292.9 377.5,294.4 377.6,295.2 377.8,293.8 377.9,293.5 378,295.2 378.1,292.5 378.2,294.4 378.3,294.8 378.5,294.6 378.6,290.5 378.7,289.6 378.8,293.8 378.9,293.9 379,295.2 379.2,296.9 379.3,296.3 379.4,294.9 379.5,297.1 379.6,295.6 379.7,293.3 379.8,294.1 380,292.4 380.1,295.4 380.2,297.8 380.3,298.9 380.4,295.3 380.5,293.8 380.7,294.6 380.8,293 380.9,297.3 381,295.5 381.1,293.7 381.2,294.3 381.4,295.4 381.5,290.7 381.6,295.1 381.7,291.2 381.8,293.8 381.9,292.1 382,292.3 382.2,294.4 382.3,292.6 382.4,294.8 382.5,294.2 382.6,295 382.7,295.8 382.9,295.3 383,295.1 383.1,293.4 383.2,295.8 383.3,294.1 383.4,299.4 383.6,296.9 383.7,293.8 383.8,298.9 383.9,295.6 384,294.7 384.1,296.2 384.2,298.5 384.4,296.2 384.5,296.4 384.6,295.4 384.7,295.6 384.8,296.3 384.9,299.8 385.1,296.7 385.2,297.5 385.3,296.5 385.4,291.8 385.5,297.9 385.6,296.2 385.8,296.8 385.9,297 386,294.1 386.1,295.7 386.2,297.5 386.3,296.5 386.4,297 386.6,295.5 386.7,296.8 386.8,296.2 386.9,295.4 387,297.8 387.1,293.1 387.3,297 387.4,295.6 387.5,294.5 387.6,296 387.7,296.1 387.8,294.8 388,295.8 388.1,298.2 388.2,295 388.3,296.5 388.4,297 388.5,298.2 388.6,296.9 388.8,296.9 388.9,294.7 389,298 389.1,295.7 389.2,295.2 389.3,297 389.5,295.4 389.6,299.8 389.7,296.3 389.8,296.2 389.9,298.7 390,297 390.2,299.3 390.3,297.6 390.4,297 390.5,298 390.6,294.8 390.7,298.2 390.8,295.9 391,298.2 391.1,296.1 391.2,297 391.3,294.5 391.4,296.9 391.5,297.9 391.7,296.1 391.8,298.1 391.9,298.2 392,297.9 392.1,295 392.2,301 392.4,295.9 392.5,297.5 392.6,296 392.7,297.2 392.8,298 392.9,296.9 393,301.6 393.2,297.4 393.3,297 393.4,297.8 393.5,295.9 393.6,295.2 393.7,298.6 393.9,296 394,296.3 394.1,300.3 394.2,297.3 394.3,295.1 394.4,295.4 394.6,296.2 394.7,297.7 394.8,298.6 394.9,297.4 395,297.9 395.1,299.6 395.2,297.5 395.4,297.6 395.5,299.4 395.6,299.4 395.7,297.6 395.8,298.4 395.9,299.1 396.1,298.4 396.2,296.7 396.3,296.7 396.4,297.3 396.5,298 396.6,298.5 396.8,296.4 396.9,295.8 397,297.5 397.1,301.5 397.2,298.7 397.3,299.2 397.4,294.9 397.6,298.8 397.7,299.2 397.8,298.3 397.9,296.3 398,297.7 398.1,298 398.3,299.6 398.4,299.4 398.5,300.3 398.6,298 398.7,298.5 398.8,299.9 399,296.4 399.1,298.8 399.2,301.5 399.3,298.4 399.4,293.5 399.5,298.8 399.6,298.7 399.8,297.9 399.9,297 400,299.3 400.1,299.3 400.2,299.6 400.3,301.8 400.5,299.1 400.6,300.4 400.7,299.5 400.8,300.6 400.9,301.4 401,300.9 401.2,300 401.3,298.2 401.4,299.4 401.5,300.8 401.6,300.3 401.7,297.4 401.8,298.9 402,298.7 402.1,300.7 402.2,295.9 402.3,297.5 402.4,298 402.5,301.9 402.7,297.4 402.8,299 402.9,299.5 403,298.7 403.1,299.2 403.2,298.2 403.4,298.9 403.5,299.8 403.6,297.9 403.7,298.2 403.8,298.2 403.9,300.7 404.1,297.9 404.2,299.1 404.3,299.3 404.4,299 404.5,300.1 404.6,299.8 404.7,298.9 404.9,300.2 405,300.8 405.1,298.8 405.2,299.4 405.3,299.7 405.4,299.9 405.6,299 405.7,298.8 405.8,300.1 405.9,299.9 406,300 406.1,301.2 406.3,295.8 406.4,300.1 406.5,296.6 406.6,299.8 406.7,299.3 406.8,299.7 406.9,300.6 407.1,298.4 407.2,299.3 407.3,300.1 407.4,302.2 407.5,297.6 407.6,299.4 407.8,299.2 407.9,299.2 408,300.6 408.1,299.6 408.2,299.5 408.3,299.8 408.5,299.6 408.6,300.3 408.7,299.9 408.8,299.5 408.9,299 409,299.5 409.1,303.2 409.3,300.8 409.4,300.8 409.5,299.1 409.6,299.9 409.7,298.5 409.8,298.7 410,299.3 410.1,301.6 410.2,301.5 410.3,301.3 410.4,301.6 410.5,300.3 410.7,300.6 410.8,301 410.9,299.7 411,301.9 411.1,300.9 411.2,300.3 411.3,296.5 411.5,300.7 411.6,298.2 411.7,300.5 411.8,300.2 411.9,302.5 412,300.8 412.2,299.6 412.3,302.8 412.4,299 412.5,300.4 412.6,299.8 412.7,299.1 412.9,298.9 413,296.9 413.1,302 413.2,299.8 413.3,301.4 413.4,299.8 413.5,301.8 413.7,304.1 413.8,299.5 413.9,299.5 414,299.4 414.1,300 414.2,299.6 414.4,300.2 414.5,300.9 414.6,302.5 414.7,304.2 414.8,302.3 414.9,300.9 415.1,303.1 415.2,300.2 415.3,299.8 415.4,302.6 415.5,302.1 415.6,303.3 415.7,299 415.9,304 416,303.2 416.1,299.9 416.2,297.7 416.3,300.7 416.4,299.6 416.6,301.4 416.7,299.8 416.8,301 416.9,300 417,299.7 417.1,302 417.3,302.9 417.4,300.5 417.5,302.7 417.6,300.8 417.7,298.7 417.8,301.9 417.9,302.3 418.1,301 418.2,301.2 418.3,301.8 418.4,300.5 418.5,299.4 418.6,301 418.8,301.2 418.9,301.4 419,300.5 419.1,298 419.2,301.3 419.3,301.9 419.5,299.2 419.6,301.5 419.7,301.9 419.8,299.7 419.9,298.1 420,300.9 420.1,300.1 420.3,298.2 420.4,298.8 420.5,300.5 420.6,304.7 420.7,300.5 420.8,301.5 421,302.2 421.1,301.6 421.2,302.8 421.3,300.2 421.4,300.1 421.5,301.6 421.7,298.7 421.8,298.2 421.9,301.3 422,301.1 422.1,300.7 422.2,300.3 422.3,300.2 422.5,303.1 422.6,302 422.7,305.6 422.8,303.9 422.9,301.9 423,300.8 423.2,301.2 423.3,300.4 423.4,299.9 423.5,303.1 423.6,300.4 423.7,303.3 423.9,303.1 424,301.4 424.1,299.6 424.2,302.6 424.3,300 424.4,302.5 424.5,298.6 424.7,298.1 424.8,303.1 424.9,301.8 425,299.6 425.1,301.8 425.2,299.4 425.4,304.4 425.5,302.3 425.6,303 425.7,301 425.8,299.1 425.9,300.4 426.1,301.8 426.2,304 426.3,301.4 426.4,303 426.5,299.4 426.6,302 426.7,300.6 426.9,301.5 427,300.2 427.1,302.1 427.2,301.4 427.3,302.3 427.4,301.3 427.6,301.5 427.7,302.8 427.8,301.6 427.9,300.6 428,301.3 428.1,299.9 428.3,301.1 428.4,303.5 428.5,303.2 428.6,302.5 428.7,301.6 428.8,303.2 428.9,302.3 429.1,302.8 429.2,302 429.3,297.6 429.4,301.3 429.5,301.3 429.6,301 429.8,301.6 429.9,301.8 430,301.3 430.1,301.2 430.2,302.3 430.3,301.9 430.5,304.5 430.6,300.6 430.7,301.7 430.8,300.3 430.9,300.1 431,301.9 431.1,301.2 431.3,300.3 431.4,300.6 431.5,300.5 431.6,300.7 431.7,301.9 431.8,300.5 432,298.9 432.1,300.5 432.2,300.9 432.3,302.6 432.4,302.2 432.5,296.6 432.7,301.7 432.8,302.2 432.9,298.3 433,300.3 433.1,301.4 433.2,301.3 433.3,302.2 433.5,301.5 433.6,302.8 433.7,303.9 433.8,301.4 433.9,299.9 434,301.4 434.2,300.4 434.3,302.4 434.4,299.8 434.5,302.4 434.6,303.3 434.7,300.1 434.9,300.1 435,301.7 435.1,304 435.2,303.6 435.3,302.2 435.4,301 435.5,300.8 435.7,301.2 435.8,300.2 435.9,301.1 436,301.3 436.1,301.6 436.2,302.1 436.4,303.2 436.5,300.1 436.6,300.3 436.7,301.7 436.8,300.1 436.9,304.8 437.1,303.3 437.2,300.5 437.3,301.8 437.4,300.5 437.5,301.4 437.6,301.5 437.7,303 437.9,301.3 438,300.7 438.1,302.1 438.2,301.8 438.3,302.5 438.4,300.9 438.6,301.4 438.7,302.4 438.8,303.4 438.9,300.6 439,302.4 439.1,306.4 439.3,300.1 439.4,302.3 439.5,301.2 439.6,303.4 439.7,301.2 439.8,301 439.9,301.6 440.1,301.8 440.2,306.4 440.3,299.9 440.4,301.5 440.5,302.1 440.6,303.1 440.8,302.6 440.9,302.9 441,299.4 441.1,301.9 441.2,302.4 441.3,301.6 441.5,301.8 441.6,302.1 441.7,301.9 441.8,302.3 441.9,304.5 442,301.4 442.1,303.5 442.3,301.7 442.4,302.2 442.5,299.8 442.6,300.3 442.7,300.4 442.8,301.5 443,300.3 443.1,301.6 443.2,301.4 443.3,300.8 443.4,299.9 443.5,302.7 443.7,304 443.8,302.9 443.9,306.2 444,303.2 444.1,301.6 444.2,302.2 444.3,301.3 444.5,302 444.6,301.4 444.7,301.4 444.8,303.3 444.9,300.9 445,301.4 445.2,303.5 445.3,302.6 445.4,300.7 445.5,302.9 445.6,300.4 445.7,302.4 445.9,303.2 446,304.4 446.1,304.1 446.2,303 446.3,302.7 446.4,301.7 446.5,302.6 446.7,303.2 446.8,301.3 446.9,301.3 447,301.8 447.1,300.5 447.2,303 447.4,301.7 447.5,300.8 447.6,302.2 447.7,299.7 447.8,300.8 447.9,300.8 448.1,300.9 448.2,301 448.3,304.2 448.4,303.8 448.5,302.3 448.6,300.8 448.7,300.1 448.9,301.7 449,304.7 449.1,299 449.2,304 449.3,301.1 449.4,301.7 449.6,302.3 449.7,304.6 449.8,302.3 449.9,301.2 450,301.5 450.1,301.6 450.3,303.2 450.4,304 450.5,302.1 450.6,305.4 450.7,302.3 450.8,303.4 450.9,298 451.1,302.1 451.2,301.7 451.3,301.9 451.4,302.4 451.5,303.7 451.6,302.3 451.8,302.5 451.9,301.8 452,303.1 452.1,298.2 452.2,302.8 452.3,303 452.5,301.9 452.6,306.1 452.7,301.9 452.8,301.6 452.9,301.9 453,301.9 453.1,302.2 453.3,301.5 453.4,301.2 453.5,301.9 453.6,302.3 453.7,303.7 453.8,300.3 454,299.7 454.1,303.6 454.2,297.7 454.3,299.8 454.4,300 454.5,301.3 454.7,302 454.8,304.8 454.9,302.1 455,302.2 455.1,302.3 455.2,301.5 455.3,302.9 455.5,304.7 455.6,301.9 455.7,302 455.8,301.7 455.9,301.7 456,302.2 456.2,301.1 456.3,302.6 456.4,300.1 456.5,300.1 456.6,302 456.7,301.6 456.9,302.8 457,304.9 457.1,301.1 457.2,302.3 457.3,303.3 457.4,301 457.5,303.8 457.7,302.6 457.8,303.2 457.9,303.8 458,305 458.1,299.3 458.2,300.7 458.4,302.2 458.5,302 458.6,301.5 458.7,300.3 458.8,301.7 458.9,303.7 459.1,303.5 459.2,303.5 459.3,303 459.4,300.9 459.5,304.2 459.6,303 459.7,301 459.9,301.7 460,303 460.1,304.5 460.2,300.6 460.3,304.4 460.4,301.8 460.6,301.5 460.7,302.4 460.8,302.9 460.9,302.6 461,301.7 461.1,302.2 461.3,304.3 461.4,299.5 461.5,302.6 461.6,300.8 461.7,303.1 461.8,302.8 462,302.4 462.1,301.5 462.2,302.8 462.3,302.3 462.4,302.7 462.5,302.2 462.6,303.3 462.8,302.6 462.9,304 463,304.5 463.1,302.4 463.2,305.5 463.3,304.5 463.5,303.4 463.6,302.7 463.7,303 463.8,303.7 463.9,302.6 464,302.5 464.2,302.4 464.3,305.6 464.4,304.1 464.5,302 464.6,303.8 464.7,302.1 464.8,300.9 465,301.7 465.1,303.4 465.2,304.6 465.3,301.8 465.4,303.9 465.5,303.1 465.7,302.1 465.8,302.4 465.9,302.2 466,304.2 466.1,301.8 466.2,302.1 466.4,303.3 466.5,304.7 466.6,302.8 466.7,301.3 466.8,301.4 466.9,303.9 467,301.6 467.2,306.4 467.3,303.1 467.4,301.8 467.5,302.7 467.6,301.7 467.7,303 467.9,303.8 468,302.1 468.1,302.4 468.2,302.7 468.3,301.4 468.4,304.6 468.6,302.9 468.7,302.4 468.8,303 468.9,303.1 469,303.4 469.1,298.3 469.2,302.1 469.4,302.9 469.5,303 469.6,301.7 469.7,302.8 469.8,302.9 469.9,303.5 470.1,305.7 470.2,301 470.3,302.7 470.4,301.1 470.5,303.7 470.6,302.4 470.8,303.1 470.9,302.4 471,300.3 471.1,298.3 471.2,304.8 471.3,304.2 471.4,303.6 471.6,301 471.7,302 471.8,303.4 471.9,303.5 472,302.8 472.1,302.7 472.3,300.5 472.4,303 472.5,303.7 472.6,303.5 472.7,303.8 472.8,301.7 473,303 473.1,305.6 473.2,302.6 473.3,302.8 473.4,302.9 473.5,304.4 473.6,305.3 473.8,303.1 473.9,303.3 474,304 474.1,299.2 474.2,301.4 474.3,301.4 474.5,303.8 474.6,300.9 474.7,301.6 474.8,299 474.9,302.3 475,301.1 475.2,303.3 475.3,303.5 475.4,301.6 475.5,300.8 475.6,303.7 475.7,303.7 475.8,306.9 476,302.6 476.1,301.5 476.2,300.4 476.3,304.7 476.4,299 476.5,303.3 476.7,305.2 476.8,301.8 476.9,305.9 477,303.3 477.1,301.9 477.2,301.6 477.4,302.4 477.5,302.6 477.6,303.1 477.7,300.5 477.8,305.4 477.9,301.4 478,303.3 478.2,301.6 478.3,304.9 478.4,303.5 478.5,303.8 478.6,303.9 478.7,302.5 478.9,302.6 479,303 479.1,305.4 479.2,304.2 479.3,301.2 479.4,304.7 479.6,300.6 479.7,302.6 479.8,304 479.9,304.6 480,302.8 480.1,303.9 480.2,302.6 480.4,303 480.5,302.4 480.6,302.8 480.7,304.8 480.8,302.7 480.9,302.8 481.1,302.4 481.2,302.5 481.3,301.8 481.4,304.8 481.5,301.7 481.6,303.5 481.8,305.3 481.9,301.3 482,303.3 482.1,303 482.2,301.9 482.3,306.3 482.4,303.3 482.6,302.4 482.7,303.3 482.8,301.7 482.9,304.1 483,306.2 483.1,301 483.3,303.4 483.4,303.9 483.5,306 483.6,303 483.7,305 483.8,303.8 484,302.4 484.1,303.3 484.2,307.6 484.3,302.2 484.4,302.5 484.5,304.2 484.6,302.3 484.8,302.7 484.9,302.2 485,302.5 485.1,305.4 485.2,302.7 485.3,305.5 485.5,303.7 485.6,301.9 485.7,303.8 485.8,304.3 485.9,304 486,303 486.2,302.8 486.3,300.1 486.4,301.7 486.5,305.5 486.6,303.1 486.7,302.5 486.8,305.6 487,304.1 487.1,303.6 487.2,301.9 487.3,301.9 487.4,300.4 487.5,302.4 487.7,303.3 487.8,301.4 487.9,298.4 488,303.4 488.1,303.4 488.2,307.4 488.4,303 488.5,302 488.6,304 488.7,303.5 488.8,303 488.9,302.7 489,303.8 489.2,302.4 489.3,301.5 489.4,303.2 489.5,304.4 489.6,302.9 489.7,302.5 489.9,303.4 490,302.1 490.1,302 490.2,302.6 490.3,302.3 490.4,303.1 490.6,303.5 490.7,302.2 490.8,303.8 490.9,303.3 491,303.8 491.1,305 491.2,301.1 491.4,304 491.5,301.8 491.6,303.6 491.7,304.7 491.8,300.9 491.9,303 492.1,303 492.2,303.4 492.3,303.4 492.4,304.1 492.5,302.2 492.6,302.3 492.8,306.4 492.9,304.6 493,304.4 493.1,303.4 493.2,304.6 493.3,301.8 493.4,303.8 493.6,303.9 493.7,302.4 493.8,305.2 493.9,302 494,299.9 494.1,302.8 494.3,302.2 494.4,301.2 494.5,301.9 494.6,300.5 494.7,303.3 494.8,302 495,302.9 495.1,302.8 495.2,304 495.3,303.5 495.4,303.4 495.5,304.2 495.6,304.5 495.8,303.3 495.9,302.8 496,302.9 496.1,302.3 496.2,303.6 496.3,301.2 496.5,301.5 496.6,304 496.7,302.2 496.8,302.9 496.9,303.8 497,306.7 497.2,303.3 497.3,304.2 497.4,302.4 497.5,303.2 497.6,303 497.7,304.2 497.8,300.1 498,305.9 498.1,304.1 498.2,300.7 498.3,302.8 498.4,302.6 498.5,302.3 498.7,302.5 498.8,302.3 498.9,301.8 499,302.8 499.1,304.5 499.2,300 499.4,305.1 499.5,302.3 499.6,303.4 499.7,302.7 499.8,305.3 499.9,303.6 500,303.4 500.2,304 500.3,303.6 500.4,302.3 500.5,304.3 500.6,301.7 500.7,304.7 500.9,303.8 501,303.4 501.1,301.8 501.2,301.1 501.3,302.4 501.4,302.8 501.6,304 501.7,302.3 501.8,304.9 501.9,303.4 502,303.9 502.1,302.9 502.2,304.5 502.4,303.8 502.5,304.8 502.6,301.4 502.7,303.2 502.8,301.7 502.9,303.2 503.1,303.1 503.2,302.1 503.3,303.3 503.4,302.6 503.5,302 503.6,306 503.8,306.7 503.9,298.6 504,302.6 504.1,302.6 504.2,300.4 504.3,303 504.4,303.1 504.6,303.4 504.7,300.3 504.8,303.1 504.9,303 505,300.3 505.1,303.1 505.3,301.4 505.4,302.2 505.5,304.1 505.6,302.1 505.7,304.6 505.8,302.4 506,302.6 506.1,303.8 506.2,303 506.3,300.9 506.4,301.6 506.5,302.5 506.6,302.6 506.8,305.4 506.9,303.8 507,302.6 507.1,302.2 507.2,303.3 507.3,305.4 507.5,303.8 507.6,304.8 507.7,300.9 507.8,301.9 507.9,304.9 508,302.8 508.2,303.2 508.3,304.6 508.4,301.3 508.5,301.5 508.6,301.2 508.7,301.8 508.8,298.9 509,306.8 509.1,303.8 509.2,304.4 509.3,301.8 509.4,303.8 509.5,302.3 509.7,302.3 509.8,302.5 509.9,302 510,305.9 510.1,302.8 510.2,303.3 510.4,302.3 510.5,302.1 510.6,302.5 510.7,305.4 510.8,302.8 510.9,304.5 511,304 511.2,303.4 511.3,302.1 511.4,301.1 511.5,301.6 511.6,303.3 511.7,301.5 511.9,302.7 512,303.7 512.1,303.2 512.2,301.3 512.3,301.5 512.4,305.8 512.6,306.4 512.7,304.9 512.8,302.3 512.9,303 513,298.7 513.1,302.6 513.2,303.6 513.4,303.1 513.5,303.8 513.6,301.8 513.7,304.1 513.8,304.2 513.9,302.2 514.1,304.3 514.2,303.5 514.3,302.5 514.4,302.7 514.5,301.8 514.6,304.9 514.8,303.3 514.9,303.9 515,303.2 515.1,298.4 515.2,304.9 515.3,300.8 515.4,307.6 515.6,303.5 515.7,301.9 515.8,300.2 515.9,302.6 516,303.7 516.1,305.5 516.3,303.1 516.4,304.4 516.5,301.7 516.6,303.6 516.7,303.8 516.8,302.5 517,302.5 517.1,302.4 517.2,304.3 517.3,304.8 517.4,300.1 517.5,304 517.6,302.6 517.8,302.2 517.9,303.3 518,300.6 518.1,300.5 518.2,303.7 518.3,303.1 518.5,302.1 518.6,302.5 518.7,303.6 518.8,302.5 518.9,302.3 519,302.7 519.2,305.3 519.3,302.8 519.4,302.4 519.5,304.2 519.6,301 519.7,303.3 519.9,301.9 520,302.4 520.1,302.9 520.2,302.4 520.3,303.2 520.4,304.3 520.5,303.4 520.7,303.2 520.8,301.7 520.9,305.1 521,304.3 521.1,303.8 521.2,302.4 521.4,303.2 521.5,304 521.6,304.3 521.7,302.7 521.8,303.8 521.9,303.3 522.1,304.3 522.2,300.8 522.3,303.1 522.4,305.4 522.5,302.3 522.6,302 522.7,303.8 522.9,302.4 523,306 523.1,304.6 523.2,305.7 523.3,305.2 523.4,306.5 523.6,302 523.7,299.3 523.8,303.3 523.9,303.5 524,302.5 524.1,304 524.3,302.8 524.4,300.3 524.5,302.8 524.6,303 524.7,302.5 524.8,304.2 524.9,300.5 525.1,304 525.2,302.6 525.3,303.5 525.4,303.3 525.5,301.8 525.6,303 525.8,307 525.9,302.5 526,303.7 526.1,302.5 526.2,304 526.3,301.7 526.5,303.8 526.6,302.6 526.7,304.3 526.8,305.3 526.9,303.4 527,302.4 527.1,303.9 527.3,302.9 527.4,303.1 527.5,303.3 527.6,303.9 527.7,300.1 527.8,303.3 528,302.8 528.1,300.9 528.2,303 528.3,300.9 528.4,303.8 528.5,301 528.7,301.2 528.8,304.9 528.9,303.7 529,301.8 529.1,302.5 529.2,301 529.3,302.4 529.5,302.6 529.6,303.4 529.7,302.7 529.8,304.8 529.9,303.9 530,304.2 530.2,302.6 530.3,302.9 530.4,301.7 530.5,300.2 530.6,303.5 530.7,303.2 530.9,302.3 531,305.8 531.1,304.9 531.2,303.2 531.3,301.2 531.4,300.5 531.5,301.4 531.7,303.8 531.8,298.7 531.9,302.8 532,303.1 532.1,304 532.2,301.5 532.4,300 532.5,303.6 532.6,303 532.7,302.3 532.8,302.1 532.9,303.5 533.1,305.2 533.2,302.6 533.3,303.1 533.4,303.7 533.5,303.6 533.6,302.9 533.7,301.1 533.9,302.4 534,304.2 534.1,306.2 534.2,303.7 534.3,303.9 534.4,302.6 534.6,303 534.7,302.9 534.8,300.2 534.9,304 535,300.4 535.1,302.6 535.3,304 535.4,303.2 535.5,301.8 535.6,302.2 535.7,301.7 535.8,301.4 535.9,303.2 536.1,304.3 536.2,299.7 536.3,303.2 536.4,301.5 536.5,302 536.6,302.8 536.8,302.7 536.9,302.7 537,303.7 537.1,301.4 537.2,305.3 537.3,303.9 537.5,300.2 537.6,302 537.7,302.6 537.8,301.5 537.9,302.9 538,301.7 538.1,304.9 538.3,303.4 538.4,303.3 538.5,302.8 538.6,303.1 538.7,302.2 538.8,303.4 539,300.2 539.1,302.5 539.2,306.7 539.3,301.2 539.4,300.8 539.5,302 539.7,301.6 539.8,302.5 539.9,303.5 540,301 540.1,297.8 540.2,301.9 540.3,302 540.5,299.8 540.6,303.6 540.7,303.7 540.8,303 540.9,307.1 541,302 541.2,304.1 541.3,297.7 541.4,304.1 541.5,304.3 541.6,300.8 541.7,304.5 541.9,300.6 542,303.6 542.1,303.3 542.2,301.8 542.3,301.8 542.4,302.3 542.5,305.7 542.7,303.1 542.8,302 542.9,301.8 543,301.5 543.1,303.3 543.2,303.1 543.4,302 543.5,304 543.6,301.6 543.7,304.2 543.8,302.5 543.9,304.1 544.1,302.1 544.2,301.8 544.3,300.8 544.4,300.8 544.5,301.8 544.6,300.1 544.7,301 544.9,300.3 545,302.8 545.1,302.6 545.2,301.2 545.3,302.8 545.4,301.7 545.6,302.5 545.7,304.2 545.8,301.3 545.9,306.9 546,300.7 546.1,299.5 546.3,302.4 546.4,301.7 546.5,302.1 546.6,302"/>
<polyline fill="none" stroke="#ff2020" stroke-width="0.8" stroke-opacity="1" stroke-linejoin="round" points="141.3,184.3 141.5,186.5 141.6,183.5 141.8,184.6 142,182.6 142.2,179.7 142.3,190.6 142.5,183.3 142.7,181.7 142.9,183.5 143,186.7 143.2,183.6 143.4,182.2 143.6,182.5 143.7,185.4 143.9,185.5 144.1,183.7 144.3,185.9 144.4,183.6 144.6,182.4 144.8,183.2 144.9,187.8 145.1,182.8 145.3,186.3 145.5,186.2 145.6,183.4 145.8,186 146,186.6 146.2,187 146.3,187.3 146.5,186.9 146.7,184.5 146.9,190.2 147,193.1 147.2,187.5 147.4,189.3 147.6,188.5 147.7,186.3 147.9,188.3 148.1,190.2 148.2,188.5 148.4,196.6 148.6,193.1 148.8,186.7 148.9,188.8 149.1,186 149.3,190.3 149.5,191.2 149.6,192.6 149.8,190.5 150,192.2 150.2,190.5 150.3,195.2 150.5,193.2 150.7,192.1 150.9,191.7 151,189.4 151.2,192.9 151.4,192 151.5,187.7 151.7,191.8 151.9,190.2 152.1,192 152.2,191 152.4,190.6 152.6,191.4 152.8,189.9 152.9,195 153.1,191.6 153.3,198.6 153.5,195.5 153.6,202.2 153.8,193.2 154,197.4 154.2,198.3 154.3,193.9 154.5,196.2 154.7,193.4 154.8,193.7 155,192.1 155.2,198.6 155.4,194.8 155.5,192 155.7,198.9 155.9,197 156.1,195 156.2,192.8 156.4,195.6 156.6,194.5 156.8,194.3 156.9,199.2 157.1,198.1 157.3,197.2 157.5,202.2 157.6,196.4 157.8,197.1 158,197 158.1,197.9 158.3,195.9 158.5,198.2 158.7,194.8 158.8,199.7 159,197 159.2,201 159.4,199.5 159.5,198.2 159.7,200.4 159.9,198.3 160.1,197.6 160.2,199.5 160.4,194.6 160.6,202.1 160.8,201.9 160.9,198.7 161.1,199.8 161.3,203.1 161.4,198.4 161.6,203.5 161.8,201.8 162,202.3 162.1,201.9 162.3,200.6 162.5,200.1 162.7,200.8 162.8,207 163,202 163.2,205.8 163.4,203.8 163.5,205.2 163.7,200.7 163.9,204.1 164.1,209.3 164.2,204.5 164.4,209.6 164.6,203.5 164.7,203.9 164.9,203.3 165.1,202.6 165.3,206.2 165.4,199.4 165.6,207 165.8,206.4 166,203.8 166.1,207.4 166.3,207.9 166.5,210.2 166.7,202.8 166.8,208.8 167,207.6 167.2,206 167.4,205.7 167.5,207.4 167.7,207.3 167.9,207.7 168,212.9 168.2,207.6 168.4,211 168.6,206.8 168.7,206.4 168.9,211.7 169.1,203.8 169.3,208.6 169.4,202.3 169.6,212.6 169.8,206.3 170,209.5 170.1,207.3 170.3,211.8 170.5,210.7 170.7,210.6 170.8,210.3 171,209.9 171.2,209.7 171.4,210.1 171.5,211.4 171.7,211.6 171.9,209.2 172,212 172.2,209.2 172.4,209.3 172.6,211 172.7,208.7 172.9,210 173.1,209.6 173.3,207.4 173.4,208.3 173.6,206 173.8,205.2 174,204.5 174.1,207.9 174.3,202.2 174.5,201.3 174.7,201.2 174.8,203 175,200.8 175.2,200.6 175.3,200.9 175.5,198.4 175.7,197.8 175.9,194.6 176,194.7 176.2,193.6 176.4,198.7 176.6,199.3 176.7,190.4 176.9,191.4 177.1,190.8 177.3,186.7 177.4,188.2 177.6,188 177.8,187.6 178,183 178.1,188.2 178.3,183.5 178.5,186.3 178.6,186.4 178.8,181.5 179,182.8 179.2,183.8 179.3,179.6 179.5,180.4 179.7,179.6 179.9,180.2 180,173.7 180.2,174.1 180.4,177.4 180.6,184.8 180.7,178.6 180.9,174.2 181.1,178 181.3,171.9 181.4,175.3 181.6,179.9 181.8,168.3 181.9,171.6 182.1,172.7 182.3,169.4 182.5,167.3 182.6,174.7 182.8,169 183,173.2 183.2,169.9 183.3,172.4 183.5,166 183.7,173.7 183.9,167.8 184,164.3 184.2,165.8 184.4,166.6 184.6,164.3 184.7,161 184.9,159.3 185.1,163.3 185.2,162.3 185.4,155.3 185.6,159.7 185.8,160.7 185.9,159.5 186.1,158.9 186.3,165.1 186.5,156.6 186.6,160.7 186.8,158.4 187,162.5 187.2,157.3 187.3,150.8 187.5,157.5 187.7,152.7 187.9,153.9 188,153.2 188.2,150.8 188.4,150.9 188.5,155.3 188.7,149.8 188.9,149.7 189.1,150.3 189.2,148.6 189.4,150.3 189.6,138 189.8,148.8 189.9,147.8 190.1,148.9 190.3,149.6 190.5,145.7 190.6,142.2 190.8,145.2 191,146.8 191.2,141.6 191.3,138.3 191.5,135.5 191.7,140.1 191.8,141.9 192,138.5 192.2,137.2 192.4,135.8 192.5,135.7 192.7,138.1 192.9,132.6 193.1,134.9 193.2,136.4 193.4,135.4 193.6,134.5 193.8,129.5 193.9,130.8 194.1,129.3 194.3,125.9 194.5,127.2 194.6,125.1 194.8,129.8 195,123.6 195.1,121.2 195.3,123.8 195.5,118.6 195.7,118.2 195.8,121.4 196,120.7 196.2,120.2 196.4,119.3 196.5,116.5 196.7,112.8 196.9,111.9 197.1,115 197.2,109.1 197.4,112.8 197.6,107.3 197.8,106.1 197.9,111.1 198.1,102 198.3,101.7 198.4,105.6 198.6,100.1 198.8,95.4 199,95.4 199.1,95.5 199.3,94.9 199.5,90 199.7,88.9 199.8,88 200,89.1 200.2,85.6 200.4,89.6 200.5,82 200.7,82.5 200.9,87.5 201.1,80.8 201.2,74.9 201.4,77.3 201.6,70.8 201.7,75.9 201.9,70.3 202.1,77.1 202.3,71.6 202.4,72.9 202.6,64 202.8,68.8 203,68.9 203.1,68.8 203.3,72.5 203.5,68.9 203.7,63.1 203.8,64.5 204,69.8 204.2,79.9 204.4,71.8 204.5,72.8 204.7,73.7 204.9,74.1 205,74.4 205.2,74.7 205.4,78.5 205.6,83 205.7,82.9 205.9,80.5 206.1,87.4 206.3,86 206.4,86.1 206.6,89.3 206.8,92.6 207,94.7 207.1,93.7 207.3,102.1 207.5,103.2 207.7,96.9 207.8,97.5 208,104.5 208.2,102.3 208.3,105.7 208.5,109.7 208.7,112 208.9,119.8 209,117.2 209.2,121.1 209.4,123.8 209.6,127.3 209.7,125.1 209.9,136.7 210.1,138.2 210.3,135.5 210.4,136.6 210.6,139.5 210.8,140.8 211,144.5 211.1,143.7 211.3,148 211.5,148.9 211.6,157.8 211.8,151.4 212,155.3 212.2,156.6 212.3,158.1 212.5,163.1 212.7,157.3 212.9,160.7 213,165.3 213.2,163.5 213.4,163.9 213.6,171.4 213.7,169.3 213.9,171.4 214.1,170.6 214.3,169.2 214.4,175.1 214.6,170.8 214.8,169.3 214.9,176 215.1,175.1 215.3,178.2 215.5,178.6 215.6,181.6 215.8,181.4 216,179.1 216.2,183.9 216.3,180.3 216.5,180.4 216.7,190 216.9,186.7 217,182.7 217.2,186.9 217.4,188.3 217.6,191.3 217.7,187.7 217.9,184.8 218.1,190.2 218.2,197.9 218.4,186.5 218.6,192.7 218.8,190.9 218.9,190.3 219.1,189.3 219.3,187 219.5,192.2 219.6,191.9 219.8,193.3 220,197.5 220.2,200.7 220.3,194.1 220.5,196.3 220.7,195.9 220.9,200.5 221,194.9 221.2,195.5 221.4,195.6 221.5,197.8 221.7,203.1 221.9,189.1 222.1,200.1 222.2,196.3 222.4,196.9 222.6,193.8 222.8,200.8 222.9,196.1 223.1,201.2 223.3,200 223.5,200.7 223.6,201 223.8,201.8 224,202.6 224.2,196.8 224.3,205.3 224.5,200.6 224.7,203.9 224.8,201.2 225,201.5 225.2,208 225.4,204.2 225.5,202.2 225.7,206 225.9,202.4 226.1,207 226.2,208.2 226.4,207.6 226.6,205.2 226.8,204.9 226.9,206.1 227.1,205.1 227.3,202.4 227.5,207.1 227.6,208.5 227.8,205.6 228,207 228.1,203.4 228.3,208.7 228.5,203.7 228.7,209.7 228.8,209.8 229,206.1 229.2,208.2 229.4,208.8 229.5,208.3 229.7,208.9 229.9,209 230.1,212 230.2,208.9 230.4,208.9 230.6,211.4 230.8,214.4 230.9,214.6 231.1,212 231.3,211.9 231.5,213.2 231.6,207.6 231.8,215 232,218.7 232.1,213.8 232.3,214.9 232.5,210.5 232.7,213.9 232.8,214 233,214.9 233.2,208.1 233.4,213.3 233.5,216.2 233.7,217.2 233.9,214.6 234.1,215.4 234.2,216.2 234.4,217.6 234.6,220.5 234.8,218.1 234.9,216.5 235.1,214.3 235.3,213.1 235.4,214.3 235.6,216.8 235.8,220 236,220.1 236.1,219.6 236.3,219.4 236.5,217.2 236.7,221 236.8,216 237,215.8 237.2,221.8 237.4,213.8 237.5,220.5 237.7,219.2 237.9,216.9 238.1,222.9 238.2,221.3 238.4,221.1 238.6,220.7 238.7,222.3 238.9,221.7 239.1,221 239.3,218.7 239.4,218.3 239.6,224.5 239.8,222.6 240,220 240.1,223.3 240.3,224.2 240.5,220.7 240.7,224.1 240.8,219.7 241,222.4 241.2,221.1 241.4,220.7 241.5,223.1 241.7,224.1 241.9,222.7 242,228.6 242.2,225.7 242.4,222.7 242.6,227.5 242.7,222.5 242.9,218.8 243.1,225.9 243.3,220.9 243.4,223.8 243.6,222.5 243.8,230.8 244,226.8 244.1,227.2 244.3,224.9 244.5,223.4 244.7,224.9 244.8,228 245,227 245.2,230 245.3,226.9 245.5,229.1 245.7,231 245.9,229.1 246,230.8 246.2,231.9 246.4,230.2 246.6,230.5 246.7,228.5 246.9,229.7 247.1,226.4 247.3,226.1 247.4,225.8 247.6,228.8 247.8,231.1 248,231.7 248.1,231.3 248.3,229.5 248.5,231.1 248.6,232.8 248.8,230.9 249,227.8 249.2,229.5 249.3,231.5 249.5,230.5 249.7,231.4 249.9,232.6 250,235.2 250.2,232.5 250.4,233.4 250.6,233 250.7,230.2 250.9,232.2 251.1,232.1 251.3,233.3 251.4,232.5 251.6,235.3 251.8,232.5 251.9,232.3 252.1,234.3 252.3,234 252.5,233.5 252.6,234.7 252.8,235.4 253,234.1 253.2,234.5 253.3,234.9 253.5,230 253.7,236.7 253.9,235.8 254,238.2 254.2,235.8 254.4,237.7 254.6,235.8 254.7,236.8 254.9,238.6 255.1,235.6 255.2,236.3 255.4,236.2 255.6,236.1 255.8,238.5 255.9,239.9 256.1,239.6 256.3,241.8 256.5,239.5 256.6,236.7 256.8,239.4 257,240.7 257.2,238.3 257.3,240 257.5,238.8 257.7,238.9 257.9,239.2 258,240.3 258.2,241.1 258.4,241.6 258.5,237.9 258.7,238.9 258.9,241.9 259.1,239.8 259.2,239.8 259.4,238.3 259.6,241.2 259.8,240.3 259.9,243.7 260.1,245 260.3,242.4 260.5,243.4 260.6,243.5 260.8,243 261,241.4 261.2,240.2 261.3,244.8 261.5,243.7 261.7,244.5 261.8,245.6 262,246.7 262.2,245.6 262.4,238.5 262.5,243.1 262.7,243.4 262.9,245.1 263.1,240.6 263.2,246.3 263.4,249.3 263.6,241.7 263.8,245 263.9,244.4 264.1,245.9 264.3,248.9 264.5,248.2 264.6,246.9 264.8,246.3 265,245.1 265.1,249.4 265.3,248.1 265.5,252.5 265.7,247.1 265.8,248.1 266,247.7 266.2,244.9 266.4,247.3 266.5,250.5 266.7,246.1 266.9,248.7 267.1,247.6 267.2,249.4 267.4,247.8 267.6,254.1 267.8,251.6 267.9,248.7 268.1,252.7 268.3,252.2 268.4,254.1 268.6,251.6 268.8,253 269,254.4 269.1,252.3 269.3,249.7 269.5,253.9 269.7,256.3 269.8,252.9 270,252.1 270.2,254.2 270.4,247.9 270.5,253.5 270.7,253.1 270.9,251.8 271.1,252.1 271.2,257.4 271.4,256 271.6,256 271.7,255.5 271.9,251.1 272.1,257 272.3,255.7 272.4,254.2 272.6,254.6 272.8,256.2 273,255 273.1,257.2 273.3,261.2 273.5,255.3 273.7,258.8 273.8,260.7 274,259.1 274.2,258.9 274.4,259.2 274.5,260.1 274.7,258.4 274.9,260 275,260.3 275.2,259.2 275.4,258 275.6,260.8 275.7,261.6 275.9,260.1 276.1,262.5 276.3,259.1 276.4,261.2 276.6,262.3 276.8,261.2 277,261.2 277.1,260.3 277.3,262.4 277.5,262.1 277.7,261 277.8,261.6 278,265.9 278.2,261.7 278.3,264.9 278.5,261.6 278.7,261.1 278.9,268.5 279,261.8 279.2,262.8 279.4,265.1 279.6,261.6 279.7,265.1 279.9,263.4 280.1,264.1 280.3,264.2 280.4,262.5 280.6,265 280.8,265.3 281,267.6 281.1,266.1 281.3,264.6 281.5,263.8 281.6,263.6 281.8,266.1 282,265.2 282.2,260.6 282.3,262.8 282.5,265.6 282.7,266.2 282.9,265.1 283,267.3 283.2,262.9 283.4,264.1 283.6,263.8 283.7,265.3 283.9,268.6 284.1,268.6 284.3,267.7 284.4,265.7 284.6,267.2 284.8,265.5 284.9,267.3 285.1,266.4 285.3,265.4 285.5,270 285.6,266.3 285.8,266.5 286,265.3 286.2,266.1 286.3,266.4 286.5,265.6 286.7,265.6 286.9,266.9 287,267.4 287.2,265.6 287.4,267.4 287.6,270.3 287.7,268.9 287.9,261.9 288.1,267.8 288.3,267.6 288.4,268.2 288.6,269 288.8,268.4 288.9,270 289.1,267.7 289.3,267.2 289.5,267.4 289.6,267.3 289.8,267.8 290,268.3 290.2,266.9 290.3,268.7 290.5,269.5 290.7,268.6 290.9,268.6 291,268 291.2,265.3 291.4,266.4 291.6,271.8 291.7,267.8 291.9,268.8 292.1,269.2 292.2,270.6 292.4,269.9 292.6,272.4 292.8,271 292.9,267.6 293.1,269 293.3,270.4 293.5,268.6 293.6,269.2 293.8,269.2 294,269.1 294.2,268.5 294.3,269 294.5,272.8 294.7,269.3 294.9,270.7 295,270.8 295.2,269 295.4,269.6 295.5,271.2 295.7,269.3 295.9,270.7 296.1,269.5 296.2,269.6 296.4,269.8 296.6,270.4 296.8,268.6 296.9,272.7 297.1,270.8 297.3,271.2 297.5,272.1 297.6,271.7 297.8,271.1 298,272.4 298.2,269.7 298.3,269.1 298.5,269.1 298.7,269.7 298.8,270 299,269.1 299.2,272.1 299.4,272 299.5,267 299.7,274.2 299.9,269.7 300.1,272.4 300.2,269.6 300.4,270.6 300.6,275.7 300.8,272.3 300.9,269.2 301.1,270.1 301.3,273.4 301.5,272.5 301.6,271.2 301.8,275.7 302,273.7 302.1,274.7 302.3,271.9 302.5,272.6 302.7,268.8 302.8,271 303,269.6 303.2,272.6 303.4,272.6 303.5,273.6 303.7,270.2 303.9,272.1 304.1,272.3 304.2,273.3 304.4,273.4 304.6,270.9 304.8,271 304.9,272.1 305.1,278 305.3,273.1 305.4,273.9 305.6,273.1 305.8,271.5 306,274.3 306.1,273.9 306.3,275.1 306.5,273.4 306.7,273.9 306.8,273.4 307,272.7 307.2,272.2 307.4,274.2 307.5,273.9 307.7,273 307.9,273.3 308.1,272.2 308.2,275.6 308.4,269.9 308.6,275.5 308.7,273.6 308.9,273.5 309.1,273 309.3,274.1 309.4,273.4 309.6,272 309.8,269.1 310,273.6 310.1,274.5 310.3,272.6 310.5,272.2 310.7,274 310.8,273.5 311,275.8 311.2,275.2 311.4,273.2 311.5,275.5 311.7,274 311.9,273.1 312,274.2 312.2,273 312.4,273.2 312.6,273 312.7,276.4 312.9,277 313.1,274 313.3,277.4 313.4,274.7 313.6,272.8 313.8,275 314,272.7 314.1,274.8 314.3,278 314.5,274.8 314.7,276.5 314.8,277.5 315,275.8 315.2,278.7 315.3,277.7 315.5,276.3 315.7,271.7 315.9,275.5 316,276.9 316.2,277.8 316.4,275.2 316.6,274.8 316.7,279.7 316.9,278.2 317.1,276.9 317.3,278.8 317.4,276.2 317.6,272.4 317.8,276.6 318,275.4 318.1,277.6 318.3,276.8 318.5,276.9 318.6,277.5 318.8,276.4 319,276.7 319.2,276.7 319.3,277.9 319.5,274.6 319.7,276.5 319.9,276.5 320,275.7 320.2,277.9 320.4,278 320.6,276.9 320.7,274.6 320.9,276.3 321.1,281.4 321.3,277 321.4,278.7 321.6,276.6 321.8,277.7 321.9,276.9 322.1,281 322.3,277.1 322.5,278 322.6,278.6 322.8,279.5 323,278.7 323.2,277.2 323.3,279 323.5,278.2 323.7,278.6 323.9,281.2 324,278.2 324.2,277.5 324.4,279.4 324.6,277.7 324.7,279.7 324.9,278.1 325.1,279 325.2,277.5 325.4,278.9 325.6,277.7 325.8,279.7 325.9,280.2 326.1,277.7 326.3,280 326.5,280.4 326.6,277.9 326.8,279.4 327,278.2 327.2,276.4 327.3,281.5 327.5,279.9 327.7,275.5 327.9,279.4 328,280.2 328.2,279.9 328.4,279.8 328.5,279.7 328.7,281.1 328.9,279.6 329.1,282.1 329.2,281.4 329.4,283.1 329.6,280.5 329.8,280.4 329.9,282.1 330.1,280.8 330.3,280.1 330.5,281.6 330.6,281.5 330.8,279.5 331,279.9 331.2,283 331.3,281.4 331.5,282.1 331.7,279.8 331.8,282.1 332,278.1 332.2,282.1 332.4,280 332.5,283.5 332.7,280.7 332.9,283.2 333.1,280.2 333.2,282.7 333.4,281.8 333.6,279.2 333.8,282.4 333.9,281.4 334.1,282.3 334.3,280.7 334.5,282.2 334.6,281 334.8,282.4 335,283.6 335.1,283.6 335.3,283.8 335.5,282.6 335.7,282.9 335.8,282.6 336,282.7 336.2,283.7 336.4,282.5 336.5,282.6 336.7,281.6 336.9,284.2 337.1,283.2 337.2,281.7 337.4,282.3 337.6,282.3 337.8,282.6 337.9,283.6 338.1,281.5 338.3,283.9 338.4,282.7 338.6,285.3 338.8,279.4 339,284.3 339.1,282.9 339.3,283.4 339.5,281.8 339.7,283.6 339.8,282.7 340,283.8 340.2,284.4 340.4,278.6 340.5,281.9 340.7,282.9 340.9,284.7 341.1,284.5 341.2,283.5 341.4,283.9 341.6,278.7 341.7,280.8 341.9,283.4 342.1,284.1 342.3,282.8 342.4,283.5 342.6,284.3 342.8,282.9 343,283.1 343.1,283.6 343.3,282.8 343.5,285.6 343.7,281.9 343.8,284.1 344,284.8 344.2,284.7 344.4,283.1 344.5,284 344.7,284.9 344.9,284 345.1,284.2 345.2,284.9 345.4,286.2 345.6,284.8 345.7,282 345.9,281.4 346.1,284.1 346.3,283.1 346.4,282.7 346.6,286.2 346.8,283.3 347,285.3 347.1,284.9 347.3,283.5 347.5,284.3 347.7,284.7 347.8,284.1 348,284.8 348.2,285.8 348.4,283.9 348.5,282.8 348.7,284.6 348.9,283.4 349,285.7 349.2,283.5 349.4,284 349.6,285.1 349.7,284.5 349.9,285.7 350.1,284.5 350.3,284.6 350.4,285.2 350.6,284.1 350.8,286 351,285.2 351.1,285.5 351.3,284.6 351.5,285.7 351.7,288.2 351.8,285.2 352,284.6 352.2,284.1 352.3,285.9 352.5,285.3 352.7,284.1 352.9,285.8 353,284.3 353.2,284.7 353.4,284.1 353.6,285.9 353.7,284.9 353.9,286.2 354.1,283 354.3,284.8 354.4,283.6 354.6,286.6 354.8,285.2 355,284.9 355.1,286.4 355.3,288.9 355.5,283.6 355.6,285 355.8,287.7 356,287.7 356.2,285.8 356.3,287.2 356.5,288.1 356.7,287.4 356.9,286 357,285.4 357.2,286.3 357.4,284.4 357.6,285.8 357.7,288 357.9,286 358.1,288.1 358.3,287.6 358.4,287.3 358.6,287.1 358.8,286.6 358.9,287.6 359.1,289.1 359.3,292.2 359.5,288.3 359.6,288.6 359.8,287.6 360,287.6 360.2,287.2 360.3,288.8 360.5,289.4 360.7,287.8 360.9,288.2 361,288.9 361.2,287.7 361.4,289.4 361.6,290.3 361.7,288.4 361.9,287.4 362.1,289.9 362.2,287.2 362.4,287.4 362.6,289.1 362.8,290.6 362.9,289.6 363.1,290.2 363.3,288.8 363.5,291 363.6,288.8 363.8,289.4 364,289.8 364.2,288.5 364.3,291.8 364.5,288.1 364.7,289.8 364.9,289 365,292.5 365.2,293.4 365.4,290.3 365.5,288.4 365.7,289.8 365.9,292.5 366.1,289.5 366.2,289.7 366.4,288.8 366.6,290.1 366.8,288.5 366.9,290.3 367.1,289 367.3,291.6 367.5,290.2 367.6,288.1 367.8,290.1 368,292.6 368.2,287.9 368.3,292.6 368.5,289.9 368.7,292.1 368.8,293.7 369,292.8 369.2,292.1 369.4,290.3 369.5,291.8 369.7,289.1 369.9,293.6 370.1,289.3 370.2,292.2 370.4,291.7 370.6,291.8 370.8,291.8 370.9,291.4 371.1,291.9 371.3,292.2 371.5,295.6 371.6,293.5 371.8,290.8 372,292.6 372.1,292.4 372.3,291.5 372.5,292 372.7,291.6 372.8,288.3 373,291.3 373.2,293.8 373.4,291.1 373.5,293.8 373.7,292.6 373.9,293.5 374.1,294 374.2,293.5 374.4,293.1 374.6,293 374.8,294.1 374.9,292.6 375.1,293.4 375.3,292.5 375.4,293.3 375.6,293.8 375.8,293.3 376,293.2 376.1,294.3 376.3,293 376.5,290.2 376.7,293.1 376.8,292.1 377,293 377.2,293.9 377.4,292.9 377.5,295.4 377.7,292.2 377.9,293.5 378.1,294.4 378.2,296 378.4,296 378.6,291.9 378.7,292.3 378.9,294.2 379.1,293.9 379.3,293.6 379.4,296.6 379.6,294.9 379.8,293.2 380,294.8 380.1,295.5 380.3,294.4 380.5,295.4 380.7,293.7 380.8,294.3 381,295.7 381.2,293.4 381.4,293 381.5,296.1 381.7,295 381.9,290.8 382,295.5 382.2,294.4 382.4,293.8 382.6,296.5 382.7,295.5 382.9,298.7 383.1,295.2 383.3,294.3 383.4,296 383.6,295.4 383.8,296.2 384,293.5 384.1,295.2 384.3,296.1 384.5,293.9 384.7,291.6 384.8,296.2 385,293.3 385.2,297.1 385.3,295 385.5,294.5 385.7,295.1 385.9,294.8 386,299.9 386.2,296.6 386.4,295.9 386.6,296.2 386.7,298.7 386.9,296.5 387.1,296.4 387.3,300.1 387.4,300.1 387.6,294.4 387.8,295.5 388,299.1 388.1,297.2 388.3,298.1 388.5,296.6 388.6,298 388.8,297.3 389,297.1 389.2,297.5 389.3,296.2 389.5,296.5 389.7,298.1 389.9,295.8 390,297.8 390.2,297.3 390.4,297.5 390.6,295.9 390.7,298 390.9,297.5 391.1,296.7 391.3,296.8 391.4,297.1 391.6,297.4 391.8,296 391.9,297.2 392.1,297.4 392.3,297.3 392.5,297.3 392.6,296.6 392.8,296.7 393,297.9 393.2,297.1 393.3,300 393.5,298.1 393.7,298 393.9,300.3 394,294.9 394.2,296 394.4,298.3 394.6,297.6 394.7,297.3 394.9,297.1 395.1,297.4 395.2,299.2 395.4,300.6 395.6,298.9 395.8,296.9 395.9,297.2 396.1,298.6 396.3,297.2 396.5,296.4 396.6,299.2 396.8,296.8 397,298.2 397.2,297.6 397.3,298.4 397.5,296.1 397.7,298.9 397.9,297.4 398,300.6 398.2,298.5 398.4,298.3 398.5,296.6 398.7,297.9 398.9,298.6 399.1,298.6 399.2,298.9 399.4,299.4 399.6,298.1 399.8,298 399.9,299 400.1,299.7 400.3,300.2 400.5,299.3 400.6,298.6 400.8,297.3 401,299.8 401.2,298.8 401.3,300.2 401.5,300.3 401.7,298.7 401.8,298.7 402,300.7 402.2,300.3 402.4,298.6 402.5,299.1 402.7,297.6 402.9,300 403.1,300 403.2,301.3 403.4,296.8 403.6,300 403.8,298.1 403.9,298.9 404.1,297.5 404.3,301 404.5,299.9 404.6,298.4 404.8,299.7 405,303.1 405.2,299.1 405.3,301.8 405.5,298.5 405.7,297.2 405.8,303.3 406,299.5 406.2,299.8 406.4,300.1 406.5,299.1 406.7,297.2 406.9,302.1 407.1,299.7 407.2,296.9 407.4,299.3 407.6,299 407.8,299.7 407.9,302 408.1,300.2 408.3,302.6 408.5,300.6 408.6,298.8 408.8,301.3 409,299.5 409.1,300 409.3,300.2 409.5,299.4 409.7,296.2 409.8,297.9 410,298.8 410.2,298.8 410.4,300.2 410.5,300.6 410.7,300.1 410.9,302.5 411.1,298.9 411.2,298.6 411.4,300.4 411.6,300.4 411.8,300.2 411.9,300.3 412.1,300.1 412.3,302.6 412.4,301 412.6,301 412.8,301.5 413,299.9 413.1,299.6 413.3,299.2 413.5,300.5 413.7,302.1 413.8,298.6 414,300.5 414.2,300.5 414.4,299.3 414.5,302.3 414.7,302.2 414.9,300 415.1,301.3 415.2,302 415.4,299.4 415.6,300.9 415.7,301.8 415.9,299.7 416.1,301.9 416.3,301.8 416.4,301.7 416.6,302.2 416.8,301 417,300.4 417.1,301.2 417.3,302.7 417.5,301.8 417.7,300.7 417.8,299.2 418,300.8 418.2,301.7 418.4,300.6 418.5,302 418.7,301.4 418.9,300.6 419,299.1 419.2,300.4 419.4,299.6 419.6,300.2 419.7,302.9 419.9,302.1 420.1,298.7 420.3,299.8 420.4,300.4 420.6,301.9 420.8,300.7 421,303.6 421.1,300.4 421.3,298.9 421.5,301.3 421.7,304.4 421.8,301.1 422,301.1 422.2,301.1 422.3,300.3 422.5,301.5 422.7,301.3 422.9,300.7 423,299.4 423.2,300.9 423.4,300.3 423.6,300.7 423.7,302.4 423.9,301.4 424.1,301.2 424.3,300.3 424.4,301.2 424.6,301.4 424.8,300 425,301.1 425.1,297.8 425.3,300.1 425.5,301.2 425.6,300.2 425.8,300.4 426,302.3 426.2,300.9 426.3,301.2 426.5,301.6 426.7,300.7 426.9,300.2 427,300.3 427.2,300.8 427.4,301.6 427.6,302 427.7,301.2 427.9,301.1 428.1,299.9 428.3,304.1 428.4,301.4 428.6,302.2 428.8,301.8 428.9,300 429.1,302.7 429.3,299.6 429.5,302.4 429.6,301.3 429.8,303.1 430,301.4 430.2,300.1 430.3,300.6 430.5,300.3 430.7,300.6 430.9,301.5 431,301.2 431.2,301.8 431.4,301.9 431.6,300.6 431.7,300.2 431.9,300.8 432.1,301.9 432.2,300.9 432.4,301.3 432.6,302.4 432.8,301.7 432.9,300.7 433.1,301.3 433.3,301.9 433.5,301.6 433.6,301.2 433.8,302 434,300.1 434.2,300.9 434.3,300.8 434.5,300.8 434.7,300.6 434.9,302.1 435,300.3 435.2,301.7 435.4,301.6 435.5,300.8 435.7,302.8 435.9,301.2 436.1,300.3 436.2,301.9 436.4,302.6 436.6,299.6 436.8,301.4 436.9,301.8 437.1,301.8 437.3,300.3 437.5,301.1 437.6,301.2 437.8,301.5 438,301.3 438.2,302.7 438.3,302.6 438.5,301.1 438.7,301.3 438.8,303 439,304.8 439.2,300.8 439.4,302.2 439.5,300.7 439.7,300.3 439.9,303.8 440.1,303.4 440.2,300.7 440.4,301.7 440.6,301.1 440.8,301.8 440.9,302.1 441.1,302.4 441.3,302.5 441.5,303 441.6,300.7 441.8,301.1 442,300.4 442.1,302.6 442.3,301.5 442.5,300.6 442.7,302.3 442.8,302.4 443,303.8 443.2,301.6 443.4,301.1 443.5,302.1 443.7,300.4 443.9,302.6 444.1,301.5 444.2,301.1 444.4,301.8 444.6,300.7 444.8,301 444.9,302.3 445.1,301.9 445.3,304.7 445.4,301.7 445.6,299.1 445.8,302.1 446,301.9 446.1,298.2 446.3,303 446.5,302.1 446.7,302.8 446.8,302.3 447,302.3 447.2,299.4 447.4,301 447.5,301.8 447.7,301.3 447.9,301.9 448.1,301.9 448.2,301.4 448.4,300.7 448.6,302.1 448.7,303 448.9,300.9 449.1,300.1 449.3,299.3 449.4,301.8 449.6,301.6 449.8,300 450,302.6 450.1,302 450.3,302.6 450.5,302.7 450.7,305 450.8,303.5 451,301.3 451.2,302.5 451.4,301.4 451.5,301.9 451.7,301.7 451.9,303 452,302.4 452.2,300.5 452.4,303 452.6,301.3 452.7,303.4 452.9,299.2 453.1,302.5 453.3,301.9 453.4,303.4 453.6,301.4 453.8,302.3 454,303.6 454.1,303.9 454.3,300.3 454.5,303.1 454.7,302.8 454.8,303.8 455,302.8 455.2,301.4 455.3,302.9 455.5,304 455.7,301.5 455.9,302.9 456,302.9 456.2,303 456.4,301.8 456.6,301.5 456.7,305.9 456.9,302 457.1,300.8 457.3,303.3 457.4,303 457.6,305.2 457.8,303 458,301.9 458.1,303.9 458.3,301.9 458.5,302.8 458.6,303.4 458.8,301.3 459,303.6 459.2,302.6 459.3,302.5 459.5,302 459.7,303.2 459.9,302.6 460,302.9 460.2,303.1 460.4,299.1 460.6,301.1 460.7,301.3 460.9,305.3 461.1,302.9 461.3,302.9 461.4,303 461.6,301.9 461.8,302.7 462,301.7 462.1,302.5 462.3,302.7 462.5,303.9 462.6,302.2 462.8,303.1 463,302.7 463.2,303.2 463.3,302.4 463.5,302.4 463.7,302.2 463.9,303.7 464,301.3 464.2,301.8 464.4,299.5 464.6,299.3 464.7,302.8 464.9,302.2 465.1,303.5 465.3,304.5 465.4,302.8 465.6,303.1 465.8,302.1 465.9,303.9 466.1,302.6 466.3,303.9 466.5,303.9 466.6,302.1 466.8,305 467,305.4 467.2,303.5 467.3,302.1 467.5,302.9 467.7,303.3 467.9,301.9 468,302.5 468.2,302.5 468.4,300.5 468.6,303.2 468.7,305.6 468.9,304.3 469.1,302.2 469.2,303.8 469.4,302.8 469.6,302.9 469.8,302.8 469.9,304.6 470.1,302.8 470.3,301 470.5,302.8 470.6,302.9 470.8,302.9 471,303.3 471.2,304.8 471.3,302.9 471.5,302.6 471.7,303.4 471.9,303.1 472,303.2 472.2,302.3 472.4,302.8 472.5,303.7 472.7,304.3 472.9,303.3 473.1,302.7 473.2,302.3 473.4,302.7 473.6,303.2 473.8,302.5 473.9,303.6 474.1,302.6 474.3,302.3 474.5,302 474.6,303.5 474.8,302.4 475,302.3 475.2,303.3 475.3,303.2 475.5,303.4 475.7,303 475.8,302.1 476,304 476.2,302.7 476.4,302.1 476.5,301.1 476.7,302.4 476.9,303.7 477.1,303 477.2,303.3 477.4,304.8 477.6,301.5 477.8,302.5 477.9,303 478.1,301.7 478.3,303.5 478.5,300.5 478.6,303.2 478.8,302.9 479,304.2 479.1,301.7 479.3,303.5 479.5,304.6 479.7,303.1 479.8,302 480,303.2 480.2,305.1 480.4,303.7 480.5,303.9 480.7,304.9 480.9,304 481.1,302.9 481.2,302.3 481.4,303.7 481.6,303.5 481.8,303.4 481.9,301.8 482.1,305.7 482.3,301.1 482.4,302.3 482.6,303.4 482.8,301.9 483,304.2 483.1,301.9 483.3,302.9 483.5,304.4 483.7,303.4 483.8,301.7 484,303.9 484.2,302.9 484.4,302.4 484.5,302.4 484.7,302 484.9,304 485.1,301.9 485.2,302 485.4,302.9 485.6,302.5 485.7,302.9 485.9,303.1 486.1,303 486.3,302.2 486.4,304 486.6,303.9 486.8,306.7 487,303.7 487.1,302.6 487.3,303.4 487.5,302.3 487.7,304.1 487.8,304 488,303.5 488.2,303.6 488.4,304.7 488.5,303.7 488.7,301.7 488.9,302.9 489,304.1 489.2,304.2 489.4,303.1 489.6,302.1 489.7,300.4 489.9,302.9 490.1,301.9 490.3,302.8 490.4,302 490.6,303.4 490.8,304 491,301.4 491.1,302.9 491.3,303.3 491.5,302.2 491.7,303.3 491.8,302 492,301.8 492.2,302.3 492.3,303.3 492.5,303.5 492.7,302.9 492.9,302.8 493,302.9 493.2,303.1 493.4,303.9 493.6,303.8 493.7,303.9 493.9,301.3 494.1,303.7 494.3,301.4 494.4,303.8 494.6,303.9 494.8,306.1 495,301.9 495.1,302.3 495.3,303.2 495.5,301.1 495.6,302.4 495.8,302.5 496,301.9 496.2,303.2 496.3,304.7 496.5,302.8 496.7,302.8 496.9,303.1 497,302 497.2,303.7 497.4,303.4 497.6,303.7 497.7,303.2 497.9,303.5 498.1,303.3 498.3,304.3 498.4,302.7 498.6,303.6 498.8,302.8 498.9,303 499.1,302.5 499.3,303.9 499.5,302.8 499.6,302.9 499.8,303.1 500,304 500.2,302.7 500.3,304.3 500.5,302.6 500.7,302.7 500.9,303.5 501,304.7 501.2,302.8 501.4,303.7 501.6,303.5 501.7,303.9 501.9,302.6 502.1,304.3 502.2,302.9 502.4,303.5 502.6,306.1 502.8,306.4 502.9,304.7 503.1,302.9 503.3,303.5 503.5,304.4 503.6,300.3 503.8,302.9 504,302.9 504.2,302.9 504.3,303.4 504.5,304.5 504.7,302.8 504.9,303.3 505,302.9 505.2,302.2 505.4,303.8 505.5,303.6 505.7,303.4 505.9,302 506.1,304.1 506.2,303.6 506.4,303.9 506.6,302.9 506.8,304.9 506.9,303.7 507.1,300.7 507.3,303.2 507.5,302.8 507.6,303.8 507.8,303.5 508,302.5 508.2,304 508.3,302.9 508.5,303 508.7,300.7 508.8,301.8 509,301.3 509.2,303.4 509.4,302.6 509.5,304.4 509.7,303.5 509.9,302.5 510.1,306 510.2,301.8 510.4,302.2 510.6,302.6 510.8,302.1 510.9,304.3 511.1,302.4 511.3,303.6 511.5,304 511.6,305 511.8,302.5 512,304.9 512.1,301.4 512.3,302.8 512.5,303.8 512.7,304.4 512.8,302.8 513,303.9 513.2,304.3 513.4,301.3 513.5,303.4 513.7,303.4 513.9,303.4 514.1,301.9 514.2,302.9 514.4,303 514.6,304.1 514.8,301.7 514.9,301.2 515.1,303.8 515.3,304.1 515.4,302 515.6,302.1 515.8,302.3 516,302.8 516.1,302.9 516.3,303.6 516.5,301.2 516.7,302.3 516.8,302.6 517,302.4 517.2,302.2 517.4,303.3 517.5,302.2 517.7,302.9 517.9,303.3 518.1,304 518.2,302.8 518.4,303.3 518.6,302.7 518.8,304 518.9,300.9 519.1,301.6 519.3,305.5 519.4,302.9 519.6,302.2 519.8,304 520,300.3 520.1,303.5 520.3,303.6 520.5,301.8 520.7,304.1 520.8,302.7 521,302.7 521.2,303.3 521.4,302.6 521.5,302 521.7,303.6 521.9,303.8 522.1,302.8 522.2,303.3 522.4,305.3 522.6,302.1 522.7,302.1 522.9,303.2 523.1,303.5 523.3,303 523.4,304.9 523.6,304 523.8,303 524,302.7 524.1,302.9 524.3,302.2 524.5,301.4 524.7,301.5 524.8,303.1 525,302 525.2,306 525.4,302 525.5,301.9 525.7,303.2 525.9,305.2 526,302.3 526.2,302.2 526.4,301.9 526.6,303.4 526.7,303.9 526.9,303.4 527.1,303.2 527.3,302.8 527.4,302.3 527.6,303.1 527.8,301.6 528,304.1 528.1,302.6 528.3,303.1 528.5,301 528.7,302.8 528.8,305.6 529,303.2 529.2,304.4 529.3,301.6 529.5,302.5 529.7,302.7 529.9,303.6 530,303.8 530.2,302.9 530.4,302.5 530.6,302.2 530.7,303.7 530.9,303.7 531.1,302.8 531.3,302.8 531.4,304.1 531.6,303.9 531.8,302.8 532,302.1 532.1,302.2 532.3,302.6 532.5,302.9 532.6,303.2 532.8,302 533,304 533.2,303.9 533.3,301.9 533.5,300.4 533.7,302.9 533.9,301 534,301.9 534.2,302.2 534.4,302.5 534.6,303.4 534.7,304 534.9,302.6 535.1,302.2 535.3,303.6 535.4,302.7 535.6,301.5 535.8,303.7 535.9,303 536.1,303.7 536.3,303.3 536.5,304.7 536.6,302.3 536.8,302.9 537,303.7 537.2,303.3 537.3,303.4 537.5,302.1 537.7,303.5 537.9,302.2 538,303.4 538.2,302 538.4,302.1 538.6,302.5 538.7,302 538.9,303.3 539.1,302 539.2,302.2 539.4,302.4 539.6,303.7 539.8,302.8 539.9,302.3 540.1,303.5 540.3,303 540.5,302.1 540.6,302.6 540.8,301.7 541,302.7 541.2,302.6 541.3,303.6 541.5,303.2 541.7,302.9 541.9,301.4 542,303.9 542.2,302.8 542.4,300.8 542.5,302.5 542.7,301.9 542.9,302.5 543.1,303.5 543.2,301.6 543.4,300.7 543.6,303.4 543.8,303.7 543.9,303.3 544.1,302.1 544.3,304 544.5,302 544.6,303.1 544.8,301.7 545,301.6 545.2,302.3 545.3,302.9 545.5,303.3 545.7,302.6 545.8,302.2 546,302 546.2,301.4 546.4,301.1 546.5,304"/>
<rect x="347.2" y="115.1" width="180.5" height="56.3" fill="#fff" stroke="#8a8a8a" stroke-width="1.5"/>
<line x1="350.5" y1="130.4" x2="387.8" y2="130.4" stroke="#9a9a9a" stroke-width="1.5" />
<line x1="350.5" y1="157.4" x2="387.8" y2="157.4" stroke="#ff9a9a" stroke-width="1.5" />
<text x="393.7" y="136.4" font-family='"Liberation Serif", serif' font-size="21.8" font-weight="normal" fill="#000" text-anchor="start" textLength="131.5" lengthAdjust="spacingAndGlyphs" >Sericin-cocoon</text>
<text x="393.7" y="163.7" font-family='"Liberation Serif", serif' font-size="21.8" font-weight="normal" fill="#000" text-anchor="start" textLength="82" lengthAdjust="spacingAndGlyphs" >B.cocoon</text>
<line x1="706" y1="36.5" x2="1262" y2="36.5" stroke="#454545" stroke-width="1.8" />
<line x1="1262" y1="36.5" x2="1262" y2="371" stroke="#454545" stroke-width="1.8" />
<line x1="706" y1="369" x2="1262" y2="369" stroke="#505050" stroke-width="2" />
<line x1="714.5" y1="36.5" x2="714.5" y2="167.2" stroke="#000" stroke-width="1.6" />
<line x1="714.5" y1="173" x2="714.5" y2="369" stroke="#000" stroke-width="1.6" />
<line x1="706" y1="117.6" x2="714.5" y2="117.6" stroke="#000" stroke-width="1.5" />
<line x1="710" y1="77" x2="714.5" y2="77" stroke="#000" stroke-width="1.5" />
<line x1="710" y1="158.2" x2="714.5" y2="158.2" stroke="#000" stroke-width="1.5" />
<line x1="706" y1="206.1" x2="714.5" y2="206.1" stroke="#000" stroke-width="1.5" />
<line x1="710" y1="246.7" x2="714.5" y2="246.7" stroke="#000" stroke-width="1.5" />
<line x1="706" y1="287.4" x2="714.5" y2="287.4" stroke="#000" stroke-width="1.5" />
<line x1="710" y1="328" x2="714.5" y2="328" stroke="#000" stroke-width="1.5" />
<path d="M706.1,169.7 C711.5,167 717.5,167.5 723.1,164.2" fill="none" stroke="#111" stroke-width="2"/>
<path d="M706.1,175.9 C711.5,173.2 717.5,173.7 723.1,170.5" fill="none" stroke="#111" stroke-width="2"/>
<rect x="712.5" y="169.6" width="4" height="1.5" fill="#fff"/>
<path d="M1253.6,169.7 C1259,167 1265,167.5 1270.6,164.2" fill="none" stroke="#111" stroke-width="2"/>
<path d="M1253.6,175.9 C1259,173.2 1265,173.7 1270.6,170.5" fill="none" stroke="#111" stroke-width="2"/>
<rect x="1260" y="169.6" width="4" height="1.5" fill="#fff"/>
<rect x="782.5" y="197.5" width="137.5" height="171.5" fill="#ff0000" stroke="#333" stroke-width="1.2"/>
<rect x="1056.2" y="83.8" width="137.8" height="285.2" fill="#000" stroke="#2222dd" stroke-width="1.4"/>
<rect x="1054" y="166.6" width="142" height="6.8" fill="#fff"/>
<line x1="851.7" y1="369" x2="851.7" y2="374.5" stroke="#333" stroke-width="1.5" />
<line x1="1125.3" y1="369" x2="1125.3" y2="375" stroke="#333" stroke-width="1.5" />
<line x1="851.2" y1="189" x2="851.2" y2="206.6" stroke="#2a2af0" stroke-width="2" />
<line x1="846.2" y1="189" x2="856" y2="189" stroke="#2a2af0" stroke-width="2" />
<line x1="846.2" y1="206.6" x2="856" y2="206.6" stroke="#2a2af0" stroke-width="2" />
<line x1="1125.1" y1="61.7" x2="1125.1" y2="105.6" stroke="#2a2af0" stroke-width="2" />
<line x1="1120.2" y1="61.7" x2="1130" y2="61.7" stroke="#2a2af0" stroke-width="2" />
<line x1="1120.2" y1="105.6" x2="1130" y2="105.6" stroke="#2a2af0" stroke-width="2" />
<text x="704.5" y="64.1" font-family='"Liberation Sans", sans-serif' font-size="31" font-weight="normal" fill="#000" text-anchor="end" textLength="31.1" lengthAdjust="spacingAndGlyphs" stroke="#000" stroke-width="0.3">30</text>
<text x="703.7" y="140.7" font-family='"Liberation Sans", sans-serif' font-size="31" font-weight="normal" fill="#000" text-anchor="end" textLength="31.1" lengthAdjust="spacingAndGlyphs" stroke="#000" stroke-width="0.3">25</text>
<text x="704.3" y="229.8" font-family='"Liberation Sans", sans-serif' font-size="30" font-weight="normal" fill="#000" text-anchor="end" textLength="29" lengthAdjust="spacingAndGlyphs" stroke="#000" stroke-width="0.3">10</text>
<text x="699.7" y="307.9" font-family='"Liberation Sans", sans-serif' font-size="30" font-weight="normal" fill="#000" text-anchor="end" stroke="#000" stroke-width="0.3">5</text>
<text x="700.6" y="385.4" font-family='"Liberation Serif", serif' font-size="33" font-weight="normal" fill="#000" text-anchor="end" stroke="#000" stroke-width="0.2">0</text>
<text x="851.5" y="403.8" font-family='"Liberation Serif", serif' font-size="28.4" font-weight="normal" fill="#000" text-anchor="middle" textLength="174.3" lengthAdjust="spacingAndGlyphs" >Sericin-cocoon</text>
<text x="1125.2" y="404.2" font-family='"Liberation Serif", serif' font-size="27" font-weight="normal" fill="#000" text-anchor="middle" textLength="108.4" lengthAdjust="spacingAndGlyphs" >B.cocoon</text>
<text x="656.3" y="326" font-family='"Liberation Serif", serif' font-size="31" font-weight="normal" fill="#000" text-anchor="start" textLength="147" lengthAdjust="spacingAndGlyphs" transform="rotate(-90 656.3 326)">Crystallinity</text>
<path d="M633.9,155.2 A13.7,13.7 0 0 0 656.9,154.8" fill="none" stroke="#1a1a1a" stroke-width="1.5"/>
<path d="M633.9,121.4 A13.7,13.7 0 0 1 656.9,121.0" fill="none" stroke="#1a1a1a" stroke-width="1.5"/>
<text x="656.3" y="149" font-family='"Liberation Serif", serif' font-size="28" font-weight="normal" fill="#000" text-anchor="start" textLength="21" lengthAdjust="spacingAndGlyphs" transform="rotate(-90 656.3 149)">%</text>
<text transform="translate(648.6,29.8) scale(0.88,1)" font-family='"Liberation Sans", sans-serif' font-size="38" font-weight="bold">b</text>
<rect x="78.2" y="440.7" width="524.8" height="263.90000000000003" fill="none" stroke="#b8b8b8" stroke-width="1.6"/>
<polygon fill="#7ff5e8" fill-opacity="0.8" stroke="none" points="268.4,613.8 270.4,615 272.4,616.1 274.4,617.1 276.4,618.1 278.4,618.9 280.4,619.8 282.4,620.6 284.4,621.3 286.4,622.1 288.4,622.8 290.4,623.6 292.4,624.2 294.4,624.9 296.4,625.5 298.4,626.1 300.4,626.7 302.4,627.3 304.4,628 306.4,628.6 308.4,629.3 310.4,629.9 312.4,630.6 314.4,631.4 316.4,632.1 318.4,632.8 320.4,633.5 322.4,634.3 324.4,635 326.4,635.7 328.4,636.5 330.4,637.3 332.4,638.1 334.4,638.8 336.4,639.6 338.4,640.4 340.4,641.3 342.4,642.1 344.4,643 346.4,643.9 348.4,644.9 350.4,645.8 352.4,646.8 354.4,647.8 356.4,648.8 358.4,649.7 360.4,650.7 362.4,651.6 364.4,652.5 366.4,653.4 368.4,654.2 370.4,655 372.4,655.7 374.4,656.4 376.4,657 378.4,657.7 380.4,658.4 382.4,659 384.4,659.7 386.4,660.3 388.4,660.9 390.4,661.4 392.4,662 394.4,662.5 396.4,663 398.4,663.4 400.4,663.8 402.4,664.2 402.4,664.6 400.4,664.1 398.4,663.7 396.4,663.2 394.4,662.7 392.4,662.2 390.4,661.6 388.4,661.1 386.4,660.6 384.4,660.1 382.4,659.5 380.4,659 378.4,658.4 376.4,657.9 374.4,657.3 372.4,656.7 370.4,656.2 368.4,655.6 366.4,655 364.4,654.4 362.4,653.8 360.4,653.2 358.4,652.6 356.4,651.9 354.4,651.3 352.4,650.7 350.4,650 348.4,649.4 346.4,648.7 344.4,648.1 342.4,647.4 340.4,646.7 338.4,646.1 336.4,645.4 334.4,644.7 332.4,644.1 330.4,643.4 328.4,642.7 326.4,642 324.4,641.3 322.4,640.6 320.4,639.9 318.4,639.2 316.4,638.4 314.4,637.6 312.4,636.8 310.4,636 308.4,635.2 306.4,634.3 304.4,633.5 302.4,632.6 300.4,631.8 298.4,630.9 296.4,630 294.4,629.1 292.4,628.2 290.4,627.3 288.4,626.3 286.4,625.3 284.4,624.3 282.4,623.2 280.4,622.1 278.4,620.9 276.4,619.7 274.4,618.5 272.4,617.2 270.4,615.9 268.4,614.5"/>
<line x1="149.6" y1="531.2" x2="149.6" y2="704.6" stroke="#b0b0b0" stroke-width="1.6" />
<line x1="153" y1="516.7" x2="153" y2="704.6" stroke="#444" stroke-width="1.4" />
<line x1="185.9" y1="564.8" x2="185.9" y2="704.6" stroke="#b8b8b8" stroke-width="1.6" />
<line x1="309.2" y1="638.4" x2="309.2" y2="704.6" stroke="#555" stroke-width="1.3" />
<polyline fill="none" stroke="#8c8c8c" stroke-width="0.8" stroke-linejoin="round" points="78.6,463 79,466.3 79.4,468 79.8,460.2 80.2,468.8 80.6,466.3 81,468.9 81.4,466.4 81.8,470.8 82.2,460.4 82.6,473.9 83,471 83.4,462.1 83.8,468.3 84.2,467.3 84.6,456.5 85,468 85.4,462.2 85.8,463.9 86.2,462.1 86.6,463 87,465.5 87.4,465.6 87.8,457.5 88.2,463.8 88.6,458.5 89,458.9 89.4,463.5 89.8,469.4 90.2,468.3 90.6,462.2 91,461.7 91.4,461.1 91.8,465.9 92.2,469.8 92.6,465.3 93,468.6 93.4,466.8 93.8,472.5 94.2,455.5 94.6,454.9 95,464.3 95.4,468.3 95.8,463.3 96.2,467.3 96.6,459.6 97,459.2 97.4,461.8 97.8,469.3 98.2,468.6 98.6,461.8 99,466.2 99.4,462.2 99.8,465.4 100.2,459.9 100.6,465.1 101,461.8 101.4,465.1 101.8,462.2 102.2,461.4 102.6,465.9 103,463.7 103.4,465.5 103.8,463.3 104.2,468.3 104.6,461.5 105,469 105.4,471.7 105.8,464.1 106.2,473.7 106.6,475.1 107,467.5 107.4,458.9 107.8,457.7 108.2,464.6 108.6,473.9 109,468.1 109.4,469 109.8,464.2 110.2,461.9 110.6,467.2 111,460.2 111.4,464.5 111.8,467.9 112.2,465.6 112.6,467.9 113,463.4 113.4,468.3 113.8,467.4 114.2,457.7 114.6,460.6 115,462.1 115.4,468.6 115.8,466.9 116.2,466.8 116.6,466.3 117,468.5 117.4,469.9 117.8,462.9 118.2,458.1 118.6,468.6 119,464.6 119.4,465.8 119.8,464.7 120.2,460.4 120.6,458.5 121,470 121.4,470.6 121.8,469.9 122.2,466.5 122.6,466.8 123,463.6 123.4,465.9 123.8,463.7 124.2,463.1 124.6,466.5 125,473.4 125.4,456.9 125.8,468.4 126.2,468.7 126.6,460 127,467.1 127.4,466.1 127.8,463.5 128.2,463.4 128.6,459.2 129,473.5 129.4,476.4 129.8,472.9 130.2,464.3 130.6,467 131,467.4 131.4,462 131.8,464.5 132.2,468.1 132.6,463.8 133,457.7 133.4,459.9 133.8,466.8 134.2,464.2 134.6,464.3 135,471.8 135.4,466.1 135.8,462.5 136.2,465.4 136.6,475.5 137,460.6 137.4,473.8 137.8,472.2 138.2,465 138.6,464.2 139,472.1 139.4,466.8 139.8,463.4 140.2,473.9 140.6,466.5 141,467.2 141.4,465.9 141.8,464.4 142.2,466.3 142.6,464.1 143,468 143.4,470.5 143.8,470.6 144.2,471.1 144.6,472.4 145,469.2 145.4,463.1 145.8,470.1 146.2,458.5 146.6,462.6 147,467.1 147.4,458.3 147.8,472.3 148.2,461.3 148.6,459.2 149,462.4 149.4,462.4 149.8,465.7 150.2,465.1 150.6,470.4 151,465.1 151.4,466.6 151.8,461.5 152.2,468 152.6,462.4 153,457.3 153.4,471.6 153.8,461.2 154.2,461.1 154.6,462 155,468.7 155.4,459.2 155.8,464.1 156.2,468.4 156.6,474.1 157,464.6 157.4,466.1 157.8,462.1 158.2,474.5 158.6,465.3 159,465.6 159.4,466.5 159.8,461.9 160.2,465.8 160.6,460.4 161,472.3 161.4,465.2 161.8,465.2 162.2,470.9 162.6,460.7 163,471.9 163.4,472.4 163.8,462.6 164.2,468.9 164.6,465.5 165,469.7 165.4,466.1 165.8,462.1 166.2,468.6 166.6,465 167,466.7 167.4,470.1 167.8,471.1 168.2,468.6 168.6,459.9 169,468.9 169.4,464.7 169.8,470.5 170.2,465.1 170.6,472 171,468.1 171.4,465.9 171.8,467.2 172.2,458.5 172.6,468.4 173,466.4 173.4,461.3 173.8,467.7 174.2,467.3 174.6,467.5 175,465.5 175.4,469.3 175.8,469.3 176.2,466.4 176.6,465.7 177,464.1 177.4,463.5 177.8,468.5 178.2,463.7 178.6,460.1 179,467 179.4,470.6 179.8,464.8 180.2,469.6 180.6,468 181,461.8 181.4,467.3 181.8,465.5 182.2,468.8 182.6,454.4 183,469.4 183.4,469 183.8,462.2 184.2,470.4 184.6,465.4 185,466.7 185.4,469.6 185.8,471.5 186.2,466.7 186.6,468.8 187,467.8 187.4,463 187.8,472.7 188.2,469.2 188.6,466.6 189,470.4 189.4,468.3 189.8,463.8 190.2,470.1 190.6,466.3 191,468.6 191.4,470 191.8,469.9 192.2,473.7 192.6,466.9 193,465.4 193.4,463.1 193.8,463.6 194.2,468.8 194.6,467.8 195,462.6 195.4,463.6 195.8,464.4 196.2,472.4 196.6,462.4 197,467.6 197.4,459.6 197.8,465.2 198.2,471.7 198.6,461.1 199,470.8 199.4,458.6 199.8,466.4 200.2,461.8 200.6,466.1 201,465.2 201.4,469.4 201.8,467.2 202.2,466.8 202.6,464 203,467.9 203.4,463 203.8,463.6 204.2,463.7 204.6,468.4 205,475 205.4,465.9 205.8,473.6 206.2,462.2 206.6,463.8 207,468.2 207.4,468.5 207.8,469.1 208.2,472.2 208.6,465.4 209,470.3 209.4,467.1 209.8,455.4 210.2,462.4 210.6,464.2 211,466.6 211.4,468.2 211.8,465.1 212.2,471.1 212.6,462.5 213,466.1 213.4,469.6 213.8,462 214.2,470.8 214.6,469.7 215,465.6 215.4,466.2 215.8,465.8 216.2,466.2 216.6,470.7 217,468 217.4,461.1 217.8,460.5 218.2,468.3 218.6,456.6 219,460.4 219.4,463.9 219.8,466 220.2,471 220.6,466.7 221,478.7 221.4,466.9 221.8,469.2 222.2,469.7 222.6,465.7 223,469.5 223.4,468.2 223.8,466.9 224.2,463.9 224.6,464.6 225,468.9 225.4,466 225.8,467.5 226.2,467.5 226.6,467 227,466.1 227.4,468.1 227.8,468.9 228.2,470.8 228.6,467.8 229,464.2 229.4,463.8 229.8,468.2 230.2,460.9 230.6,464.3 231,469.6 231.4,465 231.8,463.9 232.2,470.2 232.6,457.2 233,465.8 233.4,464.5 233.8,464.4 234.2,469.1 234.6,471 235,469.8 235.4,468.1 235.8,467.1 236.2,465.3 236.6,466.1 237,460.8 237.4,464.4 237.8,468 238.2,465.7 238.6,468.7 239,461 239.4,464.2 239.8,462.8 240.2,469.4 240.6,465.2 241,465.1 241.4,462.2 241.8,464.4 242.2,462.9 242.6,464.2 243,472.8 243.4,462.4 243.8,465.2 244.2,463.2 244.6,470 245,463 245.4,463.3 245.8,467.1 246.2,471.1 246.6,466.7 247,464.2 247.4,458.2 247.8,455 248.2,465.7 248.6,466 249,469.5 249.4,467.4 249.8,465.2 250.2,469.8 250.6,471.1 251,464 251.4,468.7 251.8,469.5 252.2,463.7 252.6,467.6 253,465.8 253.4,469.4 253.8,469.2 254.2,459.7 254.6,465.3 255,469.9 255.4,467.4 255.8,462.9 256.2,464.5 256.6,462.8 257,466.8 257.4,462.2 257.8,469.4 258.2,468.3 258.6,470.6 259,468.9 259.4,468.8 259.8,468.5 260.2,467.5 260.6,460.5 261,467.5 261.4,463.7 261.8,459.3 262.2,470.2 262.6,465.9 263,461.5 263.4,466.7 263.8,467.1 264.2,466.4 264.6,469.9 265,462.9 265.4,468.3 265.8,463.3 266.2,467.1 266.6,467.6 267,464.6 267.4,472.6 267.8,461.1 268.2,462 268.6,464.6 269,463.5 269.4,468.8 269.8,464.3 270.2,469.3 270.6,464.7 271,467.9 271.4,467.9 271.8,466.1 272.2,467.7 272.6,466.7 273,471.2 273.4,471.8 273.8,465 274.2,467.1 274.6,468.7 275,467.2 275.4,470.7 275.8,472.4 276.2,460.9 276.6,464.5 277,469.1 277.4,467.1 277.8,464.1 278.2,465.2 278.6,466.1 279,469.8 279.4,463.5 279.8,466.3 280.2,469.3 280.6,468.3 281,465.5 281.4,465.1 281.8,461.5 282.2,461.7 282.6,463.7 283,467.7 283.4,467.7 283.8,468.8 284.2,467.9 284.6,467.5 285,466.1 285.4,463.9 285.8,468.5 286.2,464.9 286.6,461.6 287,466.7 287.4,465.9 287.8,471.2 288.2,465.1 288.6,466.5 289,463.1 289.4,467.2 289.8,466.2 290.2,463.9 290.6,466.2 291,462.8 291.4,466.9 291.8,464.6 292.2,466.4 292.6,463.6 293,463.9 293.4,465.2 293.8,467.4 294.2,465.9 294.6,460.6 295,467 295.4,465.3 295.8,466.9 296.2,468 296.6,467.3 297,464 297.4,464.8 297.8,466.6 298.2,467.6 298.6,464 299,464.2 299.4,463.5 299.8,466.3"/>
<polyline fill="none" stroke="#1a1a1a" stroke-width="1.0" stroke-linejoin="round" points="78.6,465.1 79.1,470.7 79.6,470.1 80.1,462.9 80.6,463.8 81.1,462.8 81.6,467.4 82.1,464.8 82.6,468.2 83.1,457.4 83.6,471.6 84.1,464.7 84.6,467.9 85.1,464.5 85.6,463.5 86.1,467 86.6,468.5 87.1,464.3 87.6,464.5 88.1,468 88.6,461.6 89.1,458.9 89.6,466.8 90.1,462.4 90.6,457.3 91.1,461.8 91.6,463.3 92.1,460.3 92.6,459.1 93.1,465.4 93.6,468.9 94.1,464.3 94.6,462.2 95.1,466.8 95.6,468.2 96.1,464 96.6,467.5 97.1,469.5 97.6,464.4 98.1,462 98.6,466.7 99.1,466.3 99.6,469.8 100.1,460.1 100.6,462.6 101.1,461.9 101.6,458.3 102.1,465.8 102.6,467.5 103.1,462.4 103.6,470.9 104.1,468.7 104.6,467.9 105.1,467 105.6,469.2 106.1,460 106.6,467.9 107.1,467.8 107.6,458.3 108.1,466.8 108.6,464.4 109.1,468.5 109.6,463.7 110.1,465.4 110.6,466.8 111.1,462 111.6,467.8 112.1,465 112.6,467.4 113.1,463.4 113.6,469.8 114.1,467.9 114.6,464.8 115.1,468 115.6,470.5 116.1,472.6 116.6,459.3 117.1,469 117.6,467.4 118.1,465.2 118.6,461.6 119.1,470.5 119.6,460.6 120.1,467.8 120.6,470.7 121.1,459.3 121.6,464.4 122.1,460.5 122.6,466.5 123.1,471.5 123.6,473.5 124.1,458.7 124.6,463.4 125.1,468.3 125.6,471.7 126.1,467.2 126.6,462.7 127.1,466.8 127.6,465.6 128.1,464.8 128.6,462.8 129.1,467.1 129.6,466.8 130.1,465.3 130.6,464.8 131.1,460.7 131.6,463.8 132.1,470.3 132.6,464.9 133.1,460.2 133.6,470.8 134.1,467.7 134.6,473.8 135.1,465.9 135.6,463.9 136.1,460.2 136.6,470.8 137.1,475.5 137.6,462.6 138.1,463.3 138.6,468 139.1,462.6 139.6,464.7 140.1,464.4 140.6,466.5 141.1,469.9 141.6,465.8 142.1,469.2 142.6,464.2 143.1,467 143.6,457.7 144.1,460.3 144.6,468.8 145.1,463.6 145.6,468 146.1,467.8 146.6,470.8 147.1,468.8 147.6,469.6 148.1,465.4 148.6,463.2 149.1,463.1 149.6,464 150.1,461.6 150.6,463.8 151.1,465.5 151.6,466.8 152.1,464.6 152.6,458.7 153.1,465.6 153.6,466.7 154.1,469.9 154.6,468 155.1,463.5 155.6,463.2 156.1,473.3 156.6,468.7 157.1,472.6 157.6,473.7 158.1,462.9 158.6,467.3 159.1,467.6 159.6,467.9 160.1,467.9 160.6,466.6 161.1,466.5 161.6,460.4 162.1,465.3 162.6,463.2 163.1,466.4 163.6,464.2 164.1,468.2 164.6,468.9 165.1,467 165.6,467.1 166.1,466.3 166.6,464.3 167.1,465.3 167.6,464.1 168.1,467.3 168.6,466 169.1,468 169.6,461.1 170.1,469.1 170.6,463.2 171.1,463.3 171.6,465.2 172.1,463.9 172.6,467 173.1,463.9 173.6,462.1 174.1,462.9 174.6,470.6 175.1,466.1 175.6,461.8 176.1,466 176.6,460.4 177.1,472.3 177.6,460.6 178.1,467.7 178.6,467.9 179.1,460.8 179.6,467 180.1,469.5 180.6,467.6 181.1,466.9 181.6,469.3 182.1,466.5 182.6,467.2 183.1,465.5 183.6,468.2 184.1,462.7 184.6,468.8 185.1,464.2 185.6,462.2 186.1,467.3 186.6,471.9 187.1,469.3 187.6,464.2 188.1,468.4 188.6,464.4 189.1,465.6 189.6,466.3 190.1,458 190.6,466.7 191.1,462.4 191.6,463.6 192.1,460.9 192.6,460.8 193.1,462.7 193.6,468.8 194.1,471.7 194.6,465.9 195.1,469.7 195.6,465.1 196.1,459.4 196.6,466.5 197.1,467.5 197.6,464.5 198.1,467 198.6,468 199.1,463.1 199.6,461 200.1,465.2 200.6,465.3 201.1,464.8 201.6,469.3 202.1,471.8 202.6,464.6 203.1,468.3 203.6,469.1 204.1,468.4 204.6,469.5 205.1,464.7 205.6,468.4 206.1,472.7 206.6,468.6 207.1,464 207.6,468 208.1,470.1 208.6,467.2 209.1,464.2 209.6,471 210.1,461.9 210.6,467.6 211.1,465.9 211.6,462.2 212.1,469.9 212.6,467.1 213.1,462.3 213.6,467.9 214.1,464.6 214.6,460 215.1,463.8 215.6,466.8 216.1,468 216.6,466.5 217.1,466.1 217.6,467.4 218.1,465.3 218.6,469.6 219.1,466.4 219.6,466.9 220.1,467.6 220.6,462.7 221.1,463.8 221.6,470.6 222.1,467 222.6,465.1 223.1,467 223.6,464.5 224.1,466.8 224.6,463.9 225.1,466.8 225.6,461.2 226.1,469.9 226.6,464.4 227.1,461.2 227.6,465.3 228.1,464.8 228.6,466.4 229.1,462.6 229.6,467.1 230.1,476.5 230.6,462.2 231.1,466.9 231.6,465 232.1,466.5 232.6,460.7 233.1,462.6 233.6,467.2 234.1,465.8 234.6,470.6 235.1,463.9 235.6,466.4 236.1,474.1 236.6,463.7 237.1,463.4 237.6,465.8 238.1,465.8 238.6,468.2 239.1,466.2 239.6,463.8 240.1,466.5 240.6,473.1 241.1,469.4 241.6,458.3 242.1,465.5 242.6,463.5 243.1,467.5 243.6,465.4 244.1,471.1 244.6,468.4 245.1,468.2 245.6,466.3 246.1,465.7 246.6,466.7 247.1,469.3 247.6,467.2 248.1,464.9 248.6,469.2 249.1,466.3 249.6,465.6 250.1,463.8 250.6,464.4 251.1,464.2 251.6,458.6 252.1,468.4 252.6,467.3 253.1,465.3 253.6,468.5 254.1,466.9 254.6,466.7 255.1,459.6 255.6,465.2 256.1,467.1 256.6,469.8 257.1,470.4 257.6,469.3 258.1,462.9 258.6,460.4 259.1,467.2 259.6,465.8 260.1,468.1 260.6,465.4 261.1,466.3 261.6,462.1 262.1,466.8 262.6,464.7 263.1,466.6 263.6,466.8 264.1,465.5 264.6,466.5 265.1,465.7 265.6,467.5 266.1,466.9 266.6,464.4 267.1,464.3 267.6,469.7 268.1,465.5 268.6,468 269.1,466.6 269.6,464.4 270.1,464 270.6,466 271.1,466.3 271.6,467.1 272.1,462.8 272.6,464.3 273.1,465.5 273.6,469.2 274.1,460.4 274.6,466.6 275.1,464.5 275.6,466.6 276.1,464.6 276.6,466.4 277.1,469 277.6,466.4 278.1,466.6 278.6,466.4 279.1,464 279.6,466.8 280.1,465.2 280.6,463.9 281.1,465.5 281.6,465.1 282.1,467.2 282.6,465.5 283.1,464.5 283.6,468.6 284.1,467.6 284.6,468.2 285.1,466.8 285.6,465.4 286.1,464.7 286.6,465 287.1,467.5 287.6,465.8 288.1,462.6 288.6,465.5 289.1,462.8 289.6,465.9 290.1,463.2 290.6,463.1 291.1,465.8 291.6,465.4 292.1,462.3 292.6,467 293.1,469.7 293.6,462.7 294.1,469 294.6,464.2 295.1,464.6 295.6,465.2 296.1,462.8 296.6,467.9 297.1,466.4 297.6,464.1 298.1,465 298.6,462.7 299.1,464.9 299.6,467.2 300.1,462.4 300.6,464.7 301.1,465.8 301.6,467.4 302.1,467.9 302.6,464.7 303.1,464.2 303.6,466.3 304.1,464.8 304.6,464.9 305.1,467.4 305.6,468.5 306.1,465.9 306.6,465.1 307.1,466.5 307.6,462.1 308.1,465.4 308.6,463.6 309.1,469.7 309.6,466.7 310.1,465.7 310.6,465.1 311.1,461 311.6,466.7 312.1,468.3 312.6,464.1 313.1,466.6 313.6,466.7 314.1,462.7 314.6,467.1 315.1,467.8 315.6,465.8 316.1,465.3 316.6,466.8 317.1,462.7 317.6,465.6 318.1,467.3 318.6,463.2 319.1,467.1 319.6,464.6 320.1,461.7 320.6,465.2 321.1,463.7 321.6,465.9 322.1,463.3 322.6,467.2 323.1,464.1 323.6,466 324.1,464.3 324.6,464.8 325.1,467.4 325.6,465.7 326.1,464.7 326.6,463.2 327.1,467.4 327.6,466.6 328.1,464.8 328.6,465.8 329.1,463.5 329.6,463.6 330.1,463.9 330.6,465.9 331.1,465.8 331.6,464 332.1,466.6 332.6,466.7 333.1,465.6 333.6,467.1 334.1,464.8 334.6,465.1 335.1,466.1 335.6,465.2 336.1,466.7 336.6,463.1 337.1,467.7 337.6,463.9 338.1,465 338.6,462.9 339.1,466.3 339.6,467.5 340.1,467.1 340.6,466.7 341.1,462.6 341.6,463.9 342.1,464.5 342.6,463.6 343.1,467.2 343.6,465.6 344.1,465.2 344.6,466.1 345.1,463.6 345.6,463.7 346.1,463.7 346.6,466.1 347.1,465.8 347.6,466.2 348.1,467 348.6,462.9 349.1,464.2 349.6,465.5 350.1,462.9 350.6,464.3 351.1,466.9 351.6,467.1 352.1,467 352.6,465.3 353.1,464.8 353.6,467 354.1,464.5 354.6,465.7 355.1,467.4 355.6,464.5 356.1,464.1 356.6,465.1 357.1,466.2 357.6,466 358.1,465.4 358.6,466.1 359.1,462.4 359.6,463.7 360.1,465.4 360.6,463.6 361.1,462.9 361.6,463.1 362.1,463.6 362.6,464.8 363.1,463.4 363.6,465.5 364.1,467.9 364.6,464.9 365.1,467.2 365.6,465.6 366.1,463.2 366.6,464.7 367.1,463.5 367.6,466.4 368.1,463.2 368.6,467.3 369.1,466 369.6,461.7 370.1,466.4 370.6,467.6 371.1,463.7 371.6,466.7 372.1,462.1 372.6,465.5 373.1,462.3 373.6,465.8 374.1,462.1 374.6,460.7 375.1,465.7 375.6,468.8 376.1,464 376.6,466.4 377.1,465.2 377.6,464.5 378.1,466 378.6,467.7 379.1,463 379.6,465.9 380.1,465.6 380.6,462.7 381.1,467.6 381.6,468.2 382.1,463.4 382.6,467.8 383.1,465.1 383.6,464.7 384.1,467.4 384.6,465.3 385.1,465.5 385.6,467.4 386.1,467.1 386.6,466.4 387.1,462.7 387.6,462.4 388.1,466.8 388.6,463.4 389.1,465.2 389.6,463.2 390.1,464.6 390.6,462.9 391.1,467.6 391.6,463.3 392.1,464.7 392.6,464.6 393.1,466.9 393.6,462.6 394.1,464.8 394.6,464.6 395.1,465.8 395.6,465.7 396.1,464.1 396.6,465.3 397.1,464.3 397.6,465.6 398.1,464.7 398.6,463.8 399.1,464.8 399.6,465.4 400.1,468.5 400.6,464.1 401.1,465.3 401.6,467.2 402.1,461.5 402.6,462.1 403.1,462.9 403.6,464.7 404.1,468.7 404.6,465.5 405.1,466.7 405.6,464.5 406.1,460.9 406.6,461.1 407.1,466.4 407.6,465.1 408.1,462.7 408.6,466.6 409.1,462.4 409.6,466.6 410.1,467.1 410.6,463.6 411.1,463 411.6,466.1 412.1,463 412.6,466.1 413.1,462.9 413.6,466 414.1,464.9 414.6,464.1 415.1,463.3 415.6,465.1 416.1,461.8 416.6,464.3 417.1,464.1 417.6,465.8 418.1,462.8 418.6,467.4 419.1,464.2 419.6,462.9 420.1,466.9 420.6,467.3 421.1,464.4 421.6,463.3 422.1,464.7 422.6,463.6 423.1,464.2 423.6,467.1 424.1,465.3 424.6,464.9 425.1,465.2 425.6,464.6 426.1,466 426.6,466 427.1,464.1 427.6,464.8 428.1,468.4 428.6,465.3 429.1,464.4 429.6,467.8 430.1,464.7 430.6,463 431.1,465.7 431.6,463.3 432.1,463.9 432.6,465.1 433.1,464.4 433.6,463.4 434.1,463.8 434.6,463.7 435.1,466.4 435.6,463.5 436.1,463.7 436.6,467.7 437.1,463.7 437.6,466.9 438.1,466.6 438.6,464.4 439.1,462.4 439.6,465.3 440.1,465.6 440.6,466 441.1,464.7 441.6,466.4 442.1,466.7 442.6,463 443.1,466.7 443.6,464.8 444.1,463.7 444.6,464.1 445.1,467.4 445.6,466 446.1,461.8 446.6,464.7 447.1,464.3 447.6,464.3 448.1,463.7 448.6,462.3 449.1,465.8 449.6,463.1 450.1,463.9 450.6,463.6 451.1,463.4 451.6,465.6 452.1,465.1 452.6,463.5 453.1,463.1 453.6,463.8 454.1,465.9 454.6,464.7 455.1,464.8 455.6,464 456.1,464.1 456.6,464.8 457.1,461.7 457.6,466.8 458.1,463.3 458.6,463.6 459.1,466.4 459.6,464.8 460.1,464.5 460.6,463.6 461.1,462.1 461.6,464.7 462.1,466.2 462.6,463.1 463.1,466.4 463.6,462.7 464.1,463.3 464.6,465.1 465.1,464.4 465.6,465.4 466.1,463.3 466.6,462.9 467.1,461.6 467.6,462.6 468.1,462.8 468.6,462.3 469.1,464.8 469.6,463.4 470.1,461.4 470.6,468 471.1,463.1 471.6,462.5 472.1,466.1 472.6,466 473.1,462.6 473.6,462.2 474.1,462.9 474.6,466 475.1,463.9 475.6,463.1 476.1,464.3 476.6,466 477.1,462.3 477.6,463.7 478.1,462.3 478.6,467.4 479.1,466.9 479.6,465.6 480.1,464.1 480.6,465.2 481.1,461.2 481.6,464.7 482.1,462.3 482.6,462.3 483.1,463.2 483.6,463.7 484.1,465.1 484.6,465.2 485.1,464.6 485.6,462.9 486.1,465.2 486.6,464 487.1,465.9 487.6,462.9 488.1,460.3 488.6,463.5 489.1,467.3 489.6,464.9 490.1,463.9 490.6,465.4 491.1,464.9 491.6,464.8 492.1,463.4 492.6,464.3 493.1,464.4 493.6,463.3 494.1,462.6 494.6,464.3 495.1,465.5 495.6,465.1 496.1,464.8 496.6,464.8 497.1,467.8 497.6,464.5 498.1,465.6 498.6,466.9 499.1,464.2 499.6,464.5 500.1,465.6 500.6,466.5 501.1,464.5 501.6,464.6 502.1,464.2 502.6,462.4 503.1,465.6 503.6,463.7 504.1,461.7 504.6,463.9 505.1,461.7 505.6,462.7 506.1,464.1 506.6,462.8 507.1,465.5 507.6,462 508.1,464.4 508.6,464.8 509.1,466.1 509.6,465.3 510.1,464.4 510.6,464.1 511.1,463.9 511.6,465.6 512.1,463.1 512.6,464.7 513.1,463.9 513.6,464.3 514.1,463.6 514.6,466.9 515.1,463.1 515.6,464.3 516.1,464.4 516.6,464.8 517.1,464.6 517.6,464.6 518.1,465.3 518.6,461.9 519.1,464 519.6,462.3 520.1,464.3 520.6,462.3 521.1,462.6 521.6,463.9 522.1,465.8 522.6,464.7 523.1,464.3 523.6,465.8 524.1,462.6 524.6,461.1 525.1,463.3 525.6,463.5 526.1,465.6 526.6,466.8 527.1,462.1 527.6,467.2 528.1,466 528.6,465 529.1,464.4 529.6,467.1 530.1,464 530.6,463.2 531.1,464.1 531.6,462 532.1,464.5 532.6,463.7 533.1,464.3 533.6,464.3 534.1,462.4 534.6,465.6 535.1,462.5 535.6,465 536.1,461.7 536.6,464.3 537.1,462.7 537.6,463.9 538.1,462.9 538.6,460.9 539.1,462.3 539.6,463.9 540.1,464.6 540.6,461.8 541.1,461 541.6,462.6 542.1,463.5 542.6,462.9 543.1,462.7 543.6,464.9 544.1,465 544.6,464.7 545.1,462.5 545.6,463.8 546.1,463.5 546.6,461.9 547.1,464.9 547.6,463.8 548.1,463.1 548.6,465.6 549.1,464.7 549.6,464.8 550.1,465.3 550.6,464.6 551.1,462 551.6,463.2 552.1,465 552.6,462.7 553.1,463.7 553.6,464.2 554.1,465.5 554.6,465.3 555.1,464.8 555.6,463.4 556.1,464.8 556.6,464.3 557.1,463.4 557.6,465.4 558.1,464.3 558.6,462.6 559.1,465.2 559.6,463.3 560.1,464.4 560.6,461.6 561.1,463.6 561.6,462.4 562.1,462.3 562.6,461.1 563.1,466.3 563.6,463.4 564.1,463.9 564.6,465 565.1,463.4 565.6,464.2 566.1,461.8 566.6,463.8 567.1,463 567.6,464.2 568.1,463.8 568.6,461.8 569.1,461.2 569.6,462.2 570.1,464.4 570.6,464 571.1,464 571.6,461 572.1,460.1 572.6,462.7 573.1,463.1 573.6,462.7 574.1,463.9 574.6,463.3 575.1,462 575.6,462.4 576.1,463.6 576.6,463.5 577.1,463.3 577.6,466.3 578.1,463.1 578.6,463.6 579.1,462.2 579.6,463 580.1,464.1 580.6,464.1 581.1,463.2 581.6,463.9 582.1,463.5 582.6,461.1 583.1,459.3 583.6,466.2 584.1,464.4 584.6,463.3 585.1,461.2 585.6,461.8 586.1,465 586.6,459.9 587.1,462.9 587.6,464.4 588.1,463.5 588.6,464.3 589.1,463.2 589.6,466.3 590.1,462.1 590.6,461.6 591.1,463.6 591.6,465 592.1,463.2 592.6,464.6 593.1,462.6 593.6,461.8 594.1,465 594.6,465.2 595.1,465.1 595.6,462.7 596.1,461.9 596.6,461.8 597.1,463 597.6,464 598.1,463.9 598.6,461.5 599.1,463.5 599.6,463.2 600.1,463.3 600.6,463.2 601.1,463 601.6,463.9 602.1,463.4"/>
<path d="M146,470 L149,458 L151,455 L153,458 L156,470" fill="none" stroke="#f44" stroke-width="2"/>
<polyline fill="none" stroke="#ff5050" stroke-width="1.2" stroke-linejoin="round"  points="125.4,537.6 126.4,538.2 127.4,538.8 128.4,539.4 129.4,540 130.4,540.5 131.4,541.1 132.4,541.7 133.4,542.3 134.4,542.9 135.4,543.5 136.4,544 137.4,544.6 138.4,545.2 139.4,545.8 140.4,546.4 141.4,546.9 142.4,547.5 143.4,548.1 144.4,548.6 145.4,549.2 146.4,549.8 147.4,550.4 148.4,550.9 149.4,551.5 150.4,552 151.4,552.6 152.4,553.2 153.4,553.7 154.4,554.3 155.4,554.9 156.4,555.4 157.4,556 158.4,556.5 159.4,557.1 160.4,557.6 161.4,558.2 162.4,558.7 163.4,559.3 164.4,559.8 165.4,560.4 166.4,560.9 167.4,561.5 168.4,562 169.4,562.6 170.4,563.1 171.4,563.7 172.4,564.2 173.4,564.7 174.4,565.3 175.4,565.8 176.4,566.4 177.4,566.9 178.4,567.4 179.4,568 180.4,568.5 181.4,569 182.4,569.6 183.4,570.1 184.4,570.6 185.4,571.2 186.4,571.7 187.4,572.2 188.4,572.7 189.4,573.3 190.4,573.8 191.4,574.3 192.4,574.8 193.4,575.4 194.4,575.9 195.4,576.4 196.4,576.9 197.4,577.5 198.4,578 199.4,578.5 200.4,579 201.4,579.5 202.4,580 203.4,580.5 204.4,581 205.4,581.5 206.4,582 207.4,582.5 208.4,583 209.4,583.5 210.4,584 211.4,584.5 212.4,585 213.4,585.5 214.4,585.9 215.4,586.4 216.4,586.9 217.4,587.4 218.4,587.9 219.4,588.4 220.4,588.8 221.4,589.3 222.4,589.8 223.4,590.3 224.4,590.8 225.4,591.2 226.4,591.7 227.4,592.2 228.4,592.7 229.4,593.2 230.4,593.7 231.4,594.2 232.4,594.7 233.4,595.2 234.4,595.7 235.4,596.2 236.4,596.7 237.4,597.2 238.4,597.7 239.4,598.2 240.4,598.7 241.4,599.3 242.4,599.8 243.4,600.3 244.4,600.8 245.4,601.4 246.4,601.9 247.4,602.4 248.4,602.9 249.4,603.5 250.4,604 251.4,604.5 252.4,605.1 253.4,605.6 254.4,606.1 255.4,606.7 256.4,607.2 257.4,607.8 258.4,608.3 259.4,608.8 260.4,609.4 261.4,609.9 262.4,610.5 263.4,611 264.4,611.6 265.4,612.1 266.4,612.7 267.4,613.2 268.4,613.8 269.4,614.4 270.4,614.9 271.4,615.5 272.4,616.1 273.4,616.7 274.4,617.3 275.4,617.9 276.4,618.6 277.4,619.2 278.4,619.8 279.4,620.5 280.4,621.1 281.4,621.7 282.4,622.4 283.4,623 284.4,623.7 285.4,624.3 286.4,625 287.4,625.6 288.4,626.2 289.4,626.9 290.4,627.5 291.4,628.1 292.4,628.8 293.4,629.4 294.4,630 295.4,630.6 296.4,631.2 297.4,631.8 298.4,632.3 299.4,632.9 300.4,633.4 301.4,634 302.4,634.5 303.4,635 304.4,635.5 305.4,636 306.4,636.5 307.4,636.9 308.4,637.4 309.4,637.8 310.4,638.2 311.4,638.6 312.4,639 313.4,639.4 314.4,639.7 315.4,640.1 316.4,640.4 317.4,640.8 318.4,641.1 319.4,641.5 320.4,641.8 321.4,642.1 322.4,642.4 323.4,642.7 324.4,643 325.4,643.3 326.4,643.6 327.4,643.9 328.4,644.2 329.4,644.5 330.4,644.8 331.4,645.1 332.4,645.4 333.4,645.7 334.4,646 335.4,646.3 336.4,646.6 337.4,646.9 338.4,647.2 339.4,647.5 340.4,647.8 341.4,648.1 342.4,648.4 343.4,648.8 344.4,649.1 345.4,649.4 346.4,649.7 347.4,650 348.4,650.3 349.4,650.6 350.4,650.9 351.4,651.2 352.4,651.5 353.4,651.8 354.4,652.1 355.4,652.4 356.4,652.7 357.4,653 358.4,653.3 359.4,653.6 360.4,653.9 361.4,654.2 362.4,654.5 363.4,654.8 364.4,655.1 365.4,655.4 366.4,655.7 367.4,656 368.4,656.2 369.4,656.5 370.4,656.8 371.4,657.1 372.4,657.3 373.4,657.6 374.4,657.9 375.4,658.2 376.4,658.4 377.4,658.7 378.4,659 379.4,659.3 380.4,659.6 381.4,659.9 382.4,660.1 383.4,660.4 384.4,660.7 385.4,661 386.4,661.3 387.4,661.5 388.4,661.8 389.4,662.1 390.4,662.3 391.4,662.6 392.4,662.8 393.4,663.1 394.4,663.3 395.4,663.5 396.4,663.8 397.4,664 398.4,664.2 399.4,664.4 400.4,664.6 401.4,664.8 402.4,664.9 403.4,665.1 404.4,665.3 405.4,665.4 406.4,665.6 407.4,665.7 408.4,665.8 409.4,666 410.4,666.1 411.4,666.2 412.4,666.3 413.4,666.5 414.4,666.6 415.4,666.7 416.4,666.8 417.4,666.9 418.4,667 419.4,667.1 420.4,667.2 421.4,667.3 422.4,667.4 423.4,667.5 424.4,667.6 425.4,667.7 426.4,667.8 427.4,667.9 428.4,668 429.4,668.1 430.4,668.2 431.4,668.3 432.4,668.4 433.4,668.5 434.4,668.6 435.4,668.6 436.4,668.7 437.4,668.8 438.4,668.9 439.4,669 440.4,669.1 441.4,669.2 442.4,669.3 443.4,669.4 444.4,669.6 445.4,669.7 446.4,669.8 447.4,669.9 448.4,670 449.4,670.1 450.4,670.2 451.4,670.3 452.4,670.4 453.4,670.5 454.4,670.6 455.4,670.7 456.4,670.8 457.4,670.9 458.4,671 459.4,671.1 460.4,671.2 461.4,671.3 462.4,671.4 463.4,671.5 464.4,671.6 465.4,671.7 466.4,671.8 467.4,671.9 468.4,672 469.4,672.1 470.4,672.2 471.4,672.3 472.4,672.4 473.4,672.5 474.4,672.6 475.4,672.6 476.4,672.7 477.4,672.8 478.4,672.9 479.4,673 480.4,673.1 481.4,673.1 482.4,673.2 483.4,673.3 484.4,673.4 485.4,673.4 486.4,673.5 487.4,673.6 488.4,673.6 489.4,673.7 490.4,673.8 491.4,673.8 492.4,673.9 493.4,674 494.4,674 495.4,674.1 496.4,674.1 497.4,674.2 498.4,674.2 499.4,674.3 500.4,674.4 501.4,674.4 502.4,674.5 503.4,674.5 504.4,674.6 505.4,674.6 506.4,674.7 507.4,674.7 508.4,674.8 509.4,674.8 510.4,674.9 511.4,674.9 512.4,674.9 513.4,675 514.4,675 515.4,675.1 516.4,675.1 517.4,675.1 518.4,675.1 519.4,675.2 520.4,675.2 521.4,675.2 522.4,675.2 523.4,675.3 524.4,675.3 525.4,675.3 526.4,675.3 527.4,675.4 528.4,675.4 529.4,675.4 530.4,675.4 531.4,675.4 532.4,675.5 533.4,675.5 534.4,675.5 535.4,675.5 536.4,675.5 537.4,675.6 538.4,675.6 539.4,675.6 540.4,675.6 541.4,675.6 542.4,675.6 543.4,675.7 544.4,675.7 545.4,675.7 546.4,675.7 547.4,675.7 548.4,675.7 549.4,675.7 550.4,675.7 551.4,675.8 552.4,675.8 553.4,675.8 554.4,675.8 555.4,675.8 556.4,675.8 557.4,675.8 558.4,675.8 559.4,675.8 560.4,675.8 561.4,675.8 562.4,675.8 563.4,675.8 564.4,675.8 565.4,675.8 566.4,675.8 567.4,675.8 568.4,675.8 569.4,675.8 570.4,675.8 571.4,675.8 572.4,675.8 573.4,675.7 574.4,675.7 575.4,675.7 576.4,675.7 577.4,675.7 578.4,675.7 579.4,675.7 580.4,675.7 581.4,675.7 582.4,675.6 583.4,675.6 584.4,675.6 585.4,675.6 586.4,675.6 587.4,675.6 588.4,675.5 589.4,675.5 590.4,675.5 591.4,675.5 592.4,675.5 593.4,675.4 594.4,675.4 595.4,675.4 596.4,675.4 597.4,675.3 598.4,675.3 599.4,675.3 600.4,675.3 601.4,675.2 602.4,675.2 602.5,675.2"/>
<polyline fill="none" stroke="#ff6a6a" stroke-width="1.1" points="134,541.3 134.5,541.3 135,541.2 135.5,541.1 136,540.9 136.5,540.6 137,540.3 137.5,539.9 138,539.3 138.5,538.7 139,538 139.5,537.3 140,536.4 140.5,535.4 141,534.3 141.5,533.2 142,532 142.5,530.8 143,529.5 143.5,528.1 144,526.8 144.5,525.5 145,524.2 145.5,523 146,521.9 146.5,520.9 147,520 147.5,519.3 148,518.7 148.5,518.3 149,518.1 149.5,518.1 150,518.3 150.5,518.8 151,519.4 151.5,520.2 152,521.3 152.5,522.5 153,523.8 153.5,525.3 154,527 154.5,528.7 155,530.5 155.5,532.3 156,534.2 156.5,536.1 157,538 157.5,539.8 158,541.6 158.5,543.4 159,545.1 159.5,546.6 160,548.1 160.5,549.6 161,550.9 161.5,552.1 162,553.2 162.5,554.3 163,555.2 163.5,556.1 164,556.9 164.5,557.6 165,558.3 165.5,558.9 166,559.4 166.5,559.9 167,560.4 167.5,560.9 168,561.3 168.5,561.7 169,562 169.5,562.4 170,562.7 170.5,563 171,563.3 171.5,563.6"/>
<polyline fill="none" stroke="#40e040" stroke-width="1.4" stroke-linejoin="round"  points="139,521.2 140,518.1 141,515.1 142,512.2 143,509.6 144,507.2 145,505 146,502.9 147,500.6 148,498.5 149,496.6 150,495.1 151,494.2 152,494 153,494.1 154,494.4 155,494.8 156,495.3 157,496 158,496.7 159,497.5 160,498.3 161,499.2 162,500.1 163,501.1 164,502 165,502.9 166,503.7 167,504.6 168,505.5 169,506.4 170,507.3 171,508.3 172,509.3 173,510.4 174,511.4 175,512.5 176,513.6 177,514.8 178,515.9 179,517.1 180,518.3 181,519.5 182,520.7 183,521.9 184,523.1 185,524.3 186,525.5 187,526.7 188,527.9 189,529.1 190,530.3 191,531.6 192,532.8 193,534.1 194,535.4 195,536.7 196,538 197,539.3 198,540.7 199,542 200,543.3 201,544.6 202,545.9 203,547.2 204,548.4 205,549.6 206,550.8 207,552 208,553.1 209,554.2 210,555.3 211,556.4 212,557.4 213,558.5 214,559.6 215,560.6 216,561.7 217,562.8 218,564 219,565.1 220,566.3 221,567.5 222,568.8 223,570 224,571.3 225,572.6 226,573.9 227,575.2 228,576.4 229,577.7 230,579 231,580.2 232,581.4 233,582.6 234,583.7 235,584.9 236,585.9 237,586.9 238,587.9 239,588.8 240,589.7 241,590.5 242,591.3 243,592.1 244,592.8 245,593.5 246,594.3 247,595 248,595.7 249,596.4 250,597.2 251,598 252,598.7 253,599.6 254,600.4 255,601.3 256,602.3 257,603.3 258,604.3 259,605.4 260,606.4 261,607.5 262,608.6 263,609.6 264,610.7 265,611.6 266,612.6 267,613.4 268,614.2 269,614.9 270,615.6 271,616.3 272,617 273,617.6 274,618.3 275,618.9 276,619.5 277,620.1 278,620.7 279,621.3 280,621.9 281,622.4 282,623 283,623.5 284,624 285,624.6 286,625.1 287,625.6 288,626.1 289,626.6 290,627.1 291,627.6 292,628 293,628.5 294,629 295,629.4 296,629.9 297,630.3 298,630.7 299,631.2 300,631.6 301,632 302,632.5 303,632.9 304,633.3 305,633.8 306,634.2 307,634.6 308,635 309,635.4 310,635.9 311,636.3 312,636.7 313,637.1 314,637.5 315,637.9 316,638.2 317,638.6 318,639 319,639.4 320,639.7 321,640.1 322,640.5 323,640.8 324,641.2 325,641.5 326,641.9 327,642.2 328,642.6 329,642.9 330,643.2 331,643.6 332,643.9 333,644.3 334,644.6 335,644.9 336,645.3 337,645.6 338,645.9 339,646.3 340,646.6 341,646.9 342,647.3 343,647.6 344,647.9 345,648.3 346,648.6 347,648.9 348,649.2 349,649.6 350,649.9 351,650.2 352,650.5 353,650.9 354,651.2 355,651.5 356,651.8 357,652.1 358,652.4 359,652.8 360,653.1 361,653.4 362,653.7 363,654 364,654.3 365,654.6 366,654.9 367,655.2 368,655.5 369,655.8 370,656.1 371,656.3 372,656.6 373,656.9 374,657.2 375,657.5 376,657.8 377,658 378,658.3 379,658.6 380,658.9 381,659.1 382,659.4 383,659.7 384,660 385,660.2 386,660.5 387,660.7 388,661 389,661.3 390,661.5 391,661.8 392,662 393,662.3 394,662.6 395,662.8 396,663.1 397,663.3 398,663.6 399,663.8 400,664 401,664.3 402,664.5 403,664.8 404,665"/>
<polyline fill="none" stroke="#ff40ff" stroke-width="1.4" points="173.5,565.7 178,564 182,561.5 184.4,561.2 187,565 189.9,572"/>
<polyline fill="none" stroke="#ff1a1a" stroke-width="1.0" stroke-linejoin="round" points="78.6,498.7 79.1,501.1 79.6,499.2 80.1,498.2 80.6,500.1 81.1,490.2 81.6,491.2 82.1,488.1 82.6,491.1 83.1,493.9 83.6,489.8 84.1,490.7 84.6,482.2 85.1,488 85.6,483.8 86.1,491.6 86.6,488 87.1,487.4 87.6,483.5 88.1,485 88.6,484.6 89.1,480.9 89.6,480 90.1,480.9 90.6,479 91.1,478.7 91.6,479.5 92.1,478.1 92.6,483 93.1,475.7 93.6,483.9 94.1,479.9 94.6,480.9 95.1,479.2 95.6,484 96.1,484.7 96.6,487.1 97.1,485.9 97.6,489.1 98.1,495.7 98.6,492.3 99.1,490.3 99.6,496.2 100.1,493.8 100.6,497.1 101.1,498.3 101.6,496.2 102.1,492.4 102.6,498.7 103.1,502.8 103.6,501.1 104.1,505 104.6,508.1 105.1,504.5 105.6,511.5 106.1,514.1 106.6,513.6 107.1,515.2 107.6,516.3 108.1,521.2 108.6,515.8 109.1,516.4 109.6,519.4 110.1,515.7 110.6,514.6 111.1,517.8 111.6,522.7 112.1,523.9 112.6,518.3 113.1,518 113.6,523.8 114.1,525.1 114.6,526.3 115.1,529.4 115.6,531.9 116.1,529.4 116.6,531.3 117.1,526.4 117.6,526.8 118.1,531.9 118.6,533.8 119.1,534.4 119.6,534.5 120.1,535.5 120.6,536.1 121.1,528.3 121.6,532 122.1,536.3 122.6,537.1 123.1,530.7 123.6,539.7 124.1,534.8 124.6,535.7 125.1,537.5 125.6,539.1 126.1,532.1 126.6,539.8 127.1,536.7 127.6,533.8 128.1,535.1 128.6,528.6 129.1,533.2 129.6,535.4 130.1,532 130.6,532.7 131.1,532.7 131.6,532.8 132.1,535.3 132.6,531.4 133.1,530 133.6,532 134.1,536.4 134.6,528 135.1,530 135.6,522.6 136.1,531.2 136.6,528.1 137.1,529.4 137.6,524 138.1,519.8 138.6,524.9 139.1,523.4 139.6,517 140.1,513.7 140.6,518.4 141.1,514.9 141.6,522 142.1,509.8 142.6,508 143.1,507 143.6,499.6 144.1,498.8 144.6,502.6 145.1,492.1 145.6,485.7 146.1,478.9 146.6,480.7 147.1,476.6 147.6,471 148.1,465.1 148.6,464.1 149.1,462.2 149.6,457 150.1,459.7 150.6,450.1 151.1,452.7 151.6,456.2 152.1,457.4 152.6,454.8 153.1,460.5 153.6,463.9 154.1,463.2 154.6,463.7 155.1,466.9 155.6,466.8 156.1,463.5 156.6,468.4 157.1,475.3 157.6,469.7 158.1,475.8 158.6,476.6 159.1,477 159.6,478.8 160.1,484.5 160.6,487.3 161.1,489.4 161.6,485.8 162.1,491.4 162.6,495 163.1,498.4 163.6,498.9 164.1,500.7 164.6,502.8 165.1,503.1 165.6,498.9 166.1,502.8 166.6,501.3 167.1,496.8 167.6,499.8 168.1,512.6 168.6,503 169.1,500.1 169.6,506.1 170.1,513.4 170.6,509 171.1,511 171.6,509.4 172.1,510.5 172.6,515.3 173.1,514.2 173.6,511.8 174.1,515.3 174.6,516.2 175.1,512.4 175.6,514.2 176.1,514.4 176.6,511.6 177.1,517.6 177.6,513.5 178.1,512.2 178.6,508.9 179.1,510.3 179.6,519.3 180.1,510.9 180.6,516 181.1,513.6 181.6,516.6 182.1,517 182.6,512.8 183.1,514.5 183.6,516 184.1,516.3 184.6,516.3 185.1,516.1 185.6,520 186.1,523.1 186.6,521.6 187.1,518.4 187.6,523 188.1,523 188.6,525.5 189.1,531.1 189.6,525.8 190.1,527.6 190.6,526.1 191.1,529.1 191.6,529.3 192.1,537.3 192.6,534 193.1,532 193.6,540.9 194.1,531.2 194.6,539 195.1,540.2 195.6,539.5 196.1,537.5 196.6,538.6 197.1,538.6 197.6,542.9 198.1,533.6 198.6,540 199.1,542.7 199.6,541 200.1,537.6 200.6,543.3 201.1,542.2 201.6,547.8 202.1,550.2 202.6,546.6 203.1,540.7 203.6,546.9 204.1,545.1 204.6,550.9 205.1,554.7 205.6,550.9 206.1,557 206.6,555.9 207.1,553.8 207.6,549.4 208.1,553.4 208.6,549 209.1,557.5 209.6,555.1 210.1,559.7 210.6,556.8 211.1,550.2 211.6,559 212.1,560.5 212.6,563.4 213.1,555.5 213.6,556.2 214.1,559.9 214.6,556.8 215.1,556.3 215.6,557.7 216.1,570.1 216.6,560.3 217.1,559.6 217.6,561.9 218.1,563.9 218.6,568.6 219.1,568.1 219.6,568.2 220.1,566.4 220.6,567.4 221.1,565.4 221.6,563.3 222.1,575.2 222.6,567.9 223.1,573.2 223.6,569.6 224.1,570.9 224.6,571.4 225.1,568.1 225.6,572.9 226.1,575 226.6,577.1 227.1,576.7 227.6,579 228.1,577.3 228.6,577 229.1,571.3 229.6,576.5 230.1,583.8 230.6,579.9 231.1,582.6 231.6,580 232.1,579.2 232.6,588.5 233.1,583.6 233.6,587.8 234.1,585.3 234.6,583.2 235.1,577.5 235.6,585.6 236.1,580.8 236.6,579.2 237.1,590.8 237.6,589.6 238.1,589.8 238.6,588.3 239.1,588.5 239.6,590.4 240.1,590 240.6,590.1 241.1,592.7 241.6,582.9 242.1,594 242.6,589.5 243.1,594.6 243.6,596 244.1,589.9 244.6,595.5 245.1,595.8 245.6,591.4 246.1,592.3 246.6,594.7 247.1,587.5 247.6,593.6 248.1,596 248.6,594.3 249.1,591 249.6,595.2 250.1,601.7 250.6,601.4 251.1,597.2 251.6,595.4 252.1,598.3 252.6,598.8 253.1,597 253.6,598.5 254.1,602 254.6,603.5 255.1,593.1 255.6,604.5 256.1,602.3 256.6,606.1 257.1,602.8 257.6,604.8 258.1,609.2 258.6,595 259.1,610.1 259.6,606.2 260.1,600.3 260.6,598.1 261.1,608.2 261.6,604.4 262.1,611.5 262.6,609.5 263.1,608.9 263.6,613 264.1,610.9 264.6,613.1 265.1,613.9 265.6,612.7 266.1,614.6 266.6,615 267.1,608.5 267.6,612.4 268.1,613.2 268.6,612.7 269.1,609.2 269.6,612.7 270.1,615.9 270.6,615.7 271.1,620.3 271.6,613.7 272.1,614.6 272.6,614.4 273.1,615.5 273.6,614.8 274.1,611 274.6,618.3 275.1,620.6 275.6,621.3 276.1,614.4 276.6,617.5 277.1,624.3 277.6,618.3 278.1,619.9 278.6,618.5 279.1,622.5 279.6,622.5 280.1,627.1 280.6,621.4 281.1,621.5 281.6,616.4 282.1,619.1 282.6,618.4 283.1,619.8 283.6,616.8 284.1,625.1 284.6,618 285.1,622.5 285.6,617.7 286.1,623.1 286.6,627.5 287.1,619.7 287.6,623.7 288.1,622.5 288.6,623.8 289.1,624.4 289.6,621.2 290.1,622.9 290.6,621.7 291.1,621.2 291.6,620 292.1,627.2 292.6,621.9 293.1,626.6 293.6,626.4 294.1,621.6 294.6,628.3 295.1,622.4 295.6,627.3 296.1,630.1 296.6,623.3 297.1,622.8 297.6,622.9 298.1,633.4 298.6,625 299.1,622.3 299.6,629.1 300.1,626.1 300.6,626.7 301.1,623.7 301.6,620 302.1,624.9 302.6,624 303.1,622.3 303.6,624.2 304.1,624.8 304.6,630.6 305.1,630.4 305.6,630 306.1,626.8 306.6,624.6 307.1,629.7 307.6,630.4 308.1,632.3 308.6,629.2 309.1,629 309.6,630.6 310.1,626.8 310.6,627.4 311.1,632.2 311.6,626.3 312.1,630.3 312.6,633.2 313.1,631.6 313.6,632.4 314.1,627.7 314.6,631 315.1,630.7 315.6,633.7 316.1,633.3 316.6,632.2 317.1,638.4 317.6,634.3 318.1,631.8 318.6,630.9 319.1,633 319.6,631.4 320.1,638.7 320.6,635.5 321.1,632.8 321.6,631.9 322.1,630.8 322.6,633.5 323.1,638.8 323.6,637.5 324.1,634.8 324.6,635.6 325.1,629.4 325.6,638 326.1,635 326.6,640.3 327.1,635.5 327.6,634.8 328.1,637.2 328.6,634.7 329.1,641.2 329.6,638 330.1,638.1 330.6,638.3 331.1,636.8 331.6,639 332.1,638.5 332.6,642.5 333.1,638.6 333.6,639.5 334.1,637.8 334.6,638.2 335.1,638.5 335.6,642.6 336.1,639.9 336.6,642.2 337.1,639.5 337.6,639.4 338.1,635.9 338.6,642.7 339.1,645.9 339.6,640.6 340.1,644.8 340.6,643.6 341.1,640.1 341.6,643.8 342.1,640.1 342.6,641.7 343.1,645.6 343.6,643.3 344.1,640.3 344.6,646.7 345.1,640.9 345.6,643.4 346.1,643.2 346.6,643.9 347.1,642.5 347.6,640.8 348.1,649.4 348.6,642.9 349.1,643.3 349.6,639.8 350.1,646.1 350.6,649.3 351.1,649.8 351.6,653.3 352.1,650.5 352.6,648.1 353.1,647.5 353.6,651.1 354.1,647.8 354.6,648.6 355.1,646.1 355.6,648.9 356.1,653.6 356.6,649 357.1,650.3 357.6,643.8 358.1,653.1 358.6,651 359.1,653.7 359.6,651.1 360.1,648.7 360.6,647.7 361.1,652.4 361.6,651.4 362.1,649.3 362.6,651.7 363.1,650.6 363.6,654 364.1,651.5 364.6,649.8 365.1,652.7 365.6,651.8 366.1,656.8 366.6,652.4 367.1,650.5 367.6,653.7 368.1,653.5 368.6,654.9 369.1,655 369.6,652.1 370.1,654.7 370.6,654.7 371.1,652.3 371.6,653.9 372.1,656 372.6,651.8 373.1,653.2 373.6,654.8 374.1,655.9 374.6,657.5 375.1,653.2 375.6,657.3 376.1,658.2 376.6,660.6 377.1,656.1 377.6,655.1 378.1,653.7 378.6,658.9 379.1,660.8 379.6,656.3 380.1,659.2 380.6,660.3 381.1,660.7 381.6,657.7 382.1,660.4 382.6,658.9 383.1,656.9 383.6,660 384.1,660.4 384.6,657.4 385.1,660.9 385.6,664.8 386.1,656.6 386.6,662 387.1,662.7 387.6,660.8 388.1,661.6 388.6,660.3 389.1,664.4 389.6,659 390.1,661 390.6,656.8 391.1,662.4 391.6,662.6 392.1,657.9 392.6,659.9 393.1,663.3 393.6,661.1 394.1,659.4 394.6,656.5 395.1,663.4 395.6,667.3 396.1,661.7 396.6,664 397.1,664 397.6,662.9 398.1,663.5 398.6,663.6 399.1,661.4 399.6,669.5 400.1,670.2 400.6,664.5 401.1,668.1 401.6,662 402.1,663.5 402.6,666.9 403.1,661.5 403.6,661.2 404.1,665.2 404.6,659.7 405.1,668.7 405.6,666.5 406.1,665.3 406.6,666.4 407.1,662.7 407.6,662.7 408.1,667.1 408.6,667.4 409.1,665.6 409.6,665.2 410.1,664.1 410.6,668.8 411.1,662 411.6,663.5 412.1,664.4 412.6,662.1 413.1,662.6 413.6,663.4 414.1,668.4 414.6,670.3 415.1,666.9 415.6,662.2 416.1,664.7 416.6,665.9 417.1,665.6 417.6,665.4 418.1,667.6 418.6,661.8 419.1,665.1 419.6,667.1 420.1,668.3 420.6,667.4 421.1,666.8 421.6,666.5 422.1,665.3 422.6,667.1 423.1,666.5 423.6,665.3 424.1,670 424.6,670 425.1,666.3 425.6,668.7 426.1,670.2 426.6,668 427.1,667.7 427.6,668.7 428.1,663.6 428.6,664.1 429.1,668.9 429.6,668.3 430.1,671 430.6,666.6 431.1,670.5 431.6,670.4 432.1,672.7 432.6,666.1 433.1,667.2 433.6,668.7 434.1,668.8 434.6,665.8 435.1,666.9 435.6,665.2 436.1,673.9 436.6,668.2 437.1,668.4 437.6,667 438.1,668.6 438.6,670.5 439.1,667.8 439.6,668.6 440.1,673.9 440.6,671 441.1,669.4 441.6,667.9 442.1,668.9 442.6,667.2 443.1,669.7 443.6,667.5 444.1,667.4 444.6,668.2 445.1,666.7 445.6,669.7 446.1,675.3 446.6,667.9 447.1,665.4 447.6,671.7 448.1,669.2 448.6,674.3 449.1,670.5 449.6,671.8 450.1,667.8 450.6,665.9 451.1,669.3 451.6,671.4 452.1,667.7 452.6,666 453.1,668.5 453.6,668.9 454.1,669.2 454.6,669.9 455.1,675.8 455.6,670.2 456.1,669 456.6,667.6 457.1,672.2 457.6,666.5 458.1,673.8 458.6,670.4 459.1,666.8 459.6,670.9 460.1,670.2 460.6,673.5 461.1,667 461.6,671.1 462.1,670.7 462.6,673 463.1,668.1 463.6,669 464.1,675.6 464.6,672.3 465.1,667.5 465.6,671.8 466.1,669.2 466.6,669.5 467.1,668.3 467.6,673.6 468.1,670 468.6,671.8 469.1,671.6 469.6,667.8 470.1,669.7 470.6,673.3 471.1,667.8 471.6,672.2 472.1,671.4 472.6,673.2 473.1,673.4 473.6,673.8 474.1,672 474.6,672.5 475.1,670.2 475.6,670.7 476.1,674.2 476.6,670.6 477.1,674.6 477.6,674.5 478.1,670.3 478.6,673.6 479.1,670.3 479.6,673.1 480.1,670.5 480.6,673.2 481.1,672.9 481.6,670 482.1,677.4 482.6,674.9 483.1,668.8 483.6,673.5 484.1,671.7 484.6,677.7 485.1,672.6 485.6,673.8 486.1,672.4 486.6,674.4 487.1,671.7 487.6,670.8 488.1,671.8 488.6,672 489.1,674.6 489.6,673.3 490.1,672.1 490.6,672.2 491.1,671 491.6,673.6 492.1,668.4 492.6,672.8 493.1,676.2 493.6,672.5 494.1,671.9 494.6,673.6 495.1,671.3 495.6,671.7 496.1,675.2 496.6,672.1 497.1,678.3 497.6,674.9 498.1,673.4 498.6,672.2 499.1,673.1 499.6,668.3 500.1,674.4 500.6,676 501.1,675.2 501.6,672.9 502.1,675.4 502.6,675.5 503.1,673.7 503.6,674.8 504.1,676.5 504.6,675.2 505.1,673.2 505.6,674.1 506.1,674.5 506.6,670.3 507.1,674.5 507.6,673.9 508.1,669.1 508.6,670.2 509.1,678.6 509.6,674.6 510.1,677.6 510.6,673.5 511.1,678.1 511.6,675.8 512.1,672.8 512.6,675.1 513.1,678.3 513.6,680.3 514.1,675.8 514.6,673.5 515.1,672.5 515.6,676.3 516.1,677.3 516.6,675 517.1,674.4 517.6,676.7 518.1,675.9 518.6,675.7 519.1,671.1 519.6,674 520.1,679.3 520.6,674.8 521.1,680.6 521.6,675.8 522.1,674.2 522.6,675.5 523.1,676.3 523.6,673.1 524.1,675.5 524.6,673.9 525.1,678.4 525.6,673.8 526.1,675.2 526.6,671.3 527.1,671.7 527.6,674.7 528.1,672.8 528.6,674.3 529.1,675.6 529.6,676.4 530.1,671.6 530.6,674.6 531.1,676.6 531.6,673.4 532.1,671.9 532.6,673.4 533.1,679 533.6,675.1 534.1,678.8 534.6,674.4 535.1,678 535.6,671.7 536.1,674.5 536.6,675.4 537.1,679.4 537.6,676.3 538.1,677.9 538.6,674.2 539.1,674.2 539.6,678.3 540.1,678.6 540.6,678.2 541.1,678.1 541.6,674 542.1,680.4 542.6,675.7 543.1,678.3 543.6,677.1 544.1,671.1 544.6,670.6 545.1,671.5 545.6,675.2 546.1,678 546.6,674.7 547.1,677.4 547.6,672.4 548.1,673.8 548.6,673.2 549.1,675.4 549.6,672.6 550.1,675.1 550.6,676.8 551.1,674.3 551.6,673.2 552.1,674.3 552.6,672.4 553.1,672.9 553.6,677.3 554.1,676.2 554.6,671.9 555.1,674.7 555.6,676.5 556.1,677.3 556.6,676.9 557.1,677.8 557.6,675.3 558.1,675.4 558.6,674.8 559.1,678.1 559.6,677.5 560.1,679.7 560.6,678.1 561.1,673.5 561.6,671.9 562.1,672.1 562.6,673.3 563.1,676.9 563.6,672 564.1,670.5 564.6,675 565.1,677.3 565.6,677.3 566.1,679.4 566.6,675.3 567.1,674 567.6,674.6 568.1,672.1 568.6,673.7 569.1,678.4 569.6,680.4 570.1,678.4 570.6,676 571.1,674.7 571.6,675.9 572.1,670.8 572.6,676.7 573.1,677.2 573.6,675 574.1,675.3 574.6,671.2 575.1,677.2 575.6,677.2 576.1,668.6 576.6,673.8 577.1,676.1 577.6,679.2 578.1,673.1 578.6,675.1 579.1,678.8 579.6,676.4 580.1,674.7 580.6,674.1 581.1,675.3 581.6,673.3 582.1,677.6 582.6,673.1 583.1,676.6 583.6,677.4 584.1,678.1 584.6,675.5 585.1,675.3 585.6,676.1 586.1,675.5 586.6,678 587.1,675.1 587.6,680 588.1,682.1 588.6,673.8 589.1,676.3 589.6,672.5 590.1,677.1 590.6,676.3 591.1,674.7 591.6,672.7 592.1,675.3 592.6,680.1 593.1,679.1 593.6,676.1 594.1,673.7 594.6,675.1 595.1,673.2 595.6,671.9 596.1,672.8 596.6,676.5 597.1,675.8 597.6,675.5 598.1,672.4 598.6,671.6 599.1,677.4 599.6,674.1 600.1,677.8 600.6,673.1 601.1,677.3 601.6,675.5 602.1,673.8"/>
<polyline fill="none" stroke="#301818" stroke-width="1.1" stroke-linejoin="round"  points="78.6,498.7 79.6,496.8 80.6,495 81.6,493.2 82.6,491.5 83.6,489.9 84.6,488.3 85.6,486.7 86.6,485.1 87.6,483.7 88.6,482.5 89.6,481.6 90.6,480.9 91.6,480.5 92.6,480.5 93.6,481.3 94.6,482.7 95.6,484.4 96.6,486.5 97.6,488.8 98.6,491 99.6,493.2 100.6,495.2 101.6,497.4 102.6,499.8 103.6,502.3 104.6,504.9 105.6,507.6 106.6,510.2 107.6,512.7 108.6,515.2 109.6,517.5 110.6,519.6 111.6,521.5 112.6,523.2 113.6,524.9 114.6,526.4 115.6,527.9 116.6,529.3 117.6,530.5 118.6,531.6 119.6,532.6 120.6,533.5 121.6,534.4 122.6,535.2 123.6,535.9 124.6,536.4 125.6,536.7 126.6,536.6 127.6,536.3 128.6,535.6 129.6,534.8 130.6,533.8 131.6,532.6 132.6,531.5 133.6,530.3 134.6,529.1 135.6,527.6 136.6,526 137.6,524.2 138.6,522.1 139.6,519.8 140.6,517 141.6,513.7 142.6,509.7 143.6,504.9 144.6,497.4 145.6,487.6 146.6,478.8 147.6,470.2 148.6,463.1 149.6,459.2 150.6,456.9 151.6,457.2 152.6,458.5 153.6,460.5 154.6,463 155.6,465.5 156.6,469 157.6,473.4 158.6,477.8 159.6,482 160.6,486.3 161.6,490.5 162.6,493.9 163.6,496.7 164.6,499.3 165.6,501.5 166.6,503.5 167.6,505.2 168.6,506.6 169.6,507.9 170.6,509.2 171.6,510.3 172.6,511.3 173.6,512.1 174.6,512.8 175.6,513.3 176.6,513.7 177.6,514 178.6,514.3 179.6,514.5 180.6,514.7 181.6,514.9 182.6,515.2 183.6,515.7 184.6,516.4 185.6,517.9 186.6,519.9 187.6,521.8 188.6,524 189.6,526.4 190.6,528.9 191.6,531.2 192.6,533 193.6,534.7 194.6,536.2 195.6,537.7 196.6,539.1 197.6,540.4 198.6,541.6 199.6,542.9 200.6,544 201.6,545.2 202.6,546.4 203.6,547.5 204.6,548.7 205.6,549.9 206.6,551 207.6,552.2 208.6,553.3 209.6,554.4 210.6,555.4 211.6,556.5 212.6,557.6 213.6,558.6 214.6,559.7 215.6,560.8 216.6,561.9 217.6,563 218.6,564.1 219.6,565.3 220.6,566.5 221.6,567.8 222.6,569 223.6,570.3 224.6,571.6 225.6,572.8 226.6,574.1 227.6,575.4 228.6,576.7 229.6,578 230.6,579.2 231.6,580.4 232.6,581.6 233.6,582.8 234.6,583.9 235.6,585 236.6,586 237.6,587 238.6,587.9 239.6,588.8 240.6,589.7 241.6,590.5 242.6,591.3 243.6,592 244.6,592.8 245.6,593.5 246.6,594.2 247.6,594.9 248.6,595.7 249.6,596.4 250.6,597.2 251.6,597.9 252.6,598.7 253.6,599.6 254.6,600.4 255.6,601.4 256.6,602.4 257.6,603.4 258.6,604.5 259.6,605.5 260.6,606.6 261.6,607.7 262.6,608.8 263.6,609.8 264.6,610.7 265.6,611.7 266.6,612.5 267.6,613.3 268.6,613.9 269.6,614.5 270.6,615.1 271.6,615.7 272.6,616.2 273.6,616.7 274.6,617.2 275.6,617.7 276.6,618.2 277.6,618.6 278.6,619 279.6,619.4 280.6,619.8 281.6,620.2 282.6,620.6 283.6,621 284.6,621.4 285.6,621.8 286.6,622.2 287.6,622.5 288.6,622.9 289.6,623.3 290.6,623.6 291.6,624 292.6,624.3 293.6,624.6 294.6,624.9 295.6,625.3 296.6,625.6 297.6,625.9 298.6,626.2 299.6,626.5 300.6,626.8 301.6,627.1 302.6,627.4 303.6,627.7 304.6,628 305.6,628.3 306.6,628.7 307.6,629 308.6,629.3 309.6,629.7 310.6,630 311.6,630.4 312.6,630.7 313.6,631.1 314.6,631.4 315.6,631.8 316.6,632.1 317.6,632.5 318.6,632.9 319.6,633.2 320.6,633.6 321.6,634 322.6,634.3 323.6,634.7 324.6,635.1 325.6,635.4 326.6,635.8 327.6,636.2 328.6,636.6 329.6,637 330.6,637.4 331.6,637.7 332.6,638.1 333.6,638.5 334.6,638.9 335.6,639.3 336.6,639.7 337.6,640.1 338.6,640.5 339.6,640.9 340.6,641.3 341.6,641.8 342.6,642.2 343.6,642.6 344.6,643.1 345.6,643.6 346.6,644 347.6,644.5 348.6,645 349.6,645.5 350.6,645.9 351.6,646.4 352.6,646.9 353.6,647.4 354.6,647.9 355.6,648.4 356.6,648.9 357.6,649.4 358.6,649.8 359.6,650.3 360.6,650.8 361.6,651.3 362.6,651.7 363.6,652.2 364.6,652.6 365.6,653 366.6,653.5 367.6,653.9 368.6,654.3 369.6,654.7 370.6,655 371.6,655.4 372.6,655.7 373.6,656.1 374.6,656.4 375.6,656.8 376.6,657.1 377.6,657.4 378.6,657.8 379.6,658.1 380.6,658.4 381.6,658.8 382.6,659.1 383.6,659.4 384.6,659.7 385.6,660 386.6,660.3 387.6,660.6 388.6,660.9 389.6,661.2 390.6,661.5 391.6,661.8 392.6,662 393.6,662.3 394.6,662.5 395.6,662.8 396.6,663 397.6,663.3 398.6,663.5 399.6,663.7 400.6,663.9 401.6,664.1 402.6,664.3 403.6,664.4 404.6,664.6 405.6,664.8 406.6,664.9 407.6,665.1 408.6,665.2 409.6,665.3 410.6,665.5 411.6,665.6 412.6,665.7 413.6,665.9 414.6,666 415.6,666.1 416.6,666.2 417.6,666.3 418.6,666.5 419.6,666.6 420.6,666.7 421.6,666.8 422.6,666.9 423.6,667 424.6,667.1 425.6,667.2 426.6,667.3 427.6,667.4 428.6,667.5 429.6,667.6 430.6,667.7 431.6,667.8 432.6,667.9 433.6,668 434.6,668.1 435.6,668.2 436.6,668.3 437.6,668.4 438.6,668.5 439.6,668.6 440.6,668.7 441.6,668.8 442.6,668.9 443.6,669 444.6,669.1 445.6,669.2 446.6,669.3 447.6,669.4 448.6,669.5 449.6,669.6 450.6,669.7 451.6,669.8 452.6,669.9 453.6,670 454.6,670.1 455.6,670.2 456.6,670.3 457.6,670.4 458.6,670.5 459.6,670.6 460.6,670.7 461.6,670.8 462.6,670.9 463.6,671 464.6,671.1 465.6,671.2 466.6,671.3 467.6,671.4 468.6,671.5 469.6,671.6 470.6,671.7 471.6,671.8 472.6,671.9 473.6,672 474.6,672.1 475.6,672.1 476.6,672.2 477.6,672.3 478.6,672.4 479.6,672.5 480.6,672.6 481.6,672.6 482.6,672.7 483.6,672.8 484.6,672.9 485.6,672.9 486.6,673 487.6,673.1 488.6,673.2 489.6,673.2 490.6,673.3 491.6,673.4 492.6,673.4 493.6,673.5 494.6,673.5 495.6,673.6 496.6,673.7 497.6,673.7 498.6,673.8 499.6,673.9 500.6,673.9 501.6,674 502.6,674 503.6,674.1 504.6,674.1 505.6,674.2 506.6,674.2 507.6,674.3 508.6,674.4 509.6,674.4 510.6,674.4 511.6,674.5 512.6,674.5 513.6,674.6 514.6,674.6 515.6,674.7 516.6,674.7 517.6,674.7 518.6,674.8 519.6,674.8 520.6,674.8 521.6,674.8 522.6,674.8 523.6,674.9 524.6,674.9 525.6,674.9 526.6,674.9 527.6,675 528.6,675 529.6,675 530.6,675 531.6,675 532.6,675.1 533.6,675.1 534.6,675.1 535.6,675.1 536.6,675.1 537.6,675.2 538.6,675.2 539.6,675.2 540.6,675.2 541.6,675.2 542.6,675.3 543.6,675.3 544.6,675.3 545.6,675.3 546.6,675.3 547.6,675.3 548.6,675.3 549.6,675.3 550.6,675.4 551.6,675.4 552.6,675.4 553.6,675.4 554.6,675.4 555.6,675.4 556.6,675.4 557.6,675.4 558.6,675.4 559.6,675.4 560.6,675.4 561.6,675.4 562.6,675.4 563.6,675.4 564.6,675.4 565.6,675.4 566.6,675.4 567.6,675.4 568.6,675.4 569.6,675.4 570.6,675.4 571.6,675.4 572.6,675.4 573.6,675.3 574.6,675.3 575.6,675.3 576.6,675.3 577.6,675.3 578.6,675.3 579.6,675.3 580.6,675.3 581.6,675.3 582.6,675.2 583.6,675.2 584.6,675.2 585.6,675.2 586.6,675.2 587.6,675.2 588.6,675.1 589.6,675.1 590.6,675.1 591.6,675.1 592.6,675.1 593.6,675 594.6,675 595.6,675 596.6,675 597.6,674.9 598.6,674.9 599.6,674.9 600.6,674.9 601.6,674.8 602.5,674.8"/>
<circle cx="79.3" cy="498.7" r="1.8" fill="#0c1890"/>
<circle cx="84.1" cy="489.1" r="1.8" fill="#0c1890"/>
<circle cx="89.7" cy="481.5" r="1.8" fill="#0c1890"/>
<circle cx="111.5" cy="521.3" r="1.8" fill="#0c1890"/>
<circle cx="125.6" cy="536.4" r="1.8" fill="#0c1890"/>
<circle cx="237.2" cy="597.1" r="1.8" fill="#0c1890"/>
<circle cx="268.4" cy="613.8" r="1.8" fill="#0c1890"/>
<circle cx="371.9" cy="657.2" r="1.8" fill="#0c1890"/>
<circle cx="404" cy="665" r="1.8" fill="#0c1890"/>
<circle cx="439" cy="668.5" r="1.8" fill="#0c1890"/>
<circle cx="490.8" cy="673.5" r="1.8" fill="#0c1890"/>
<circle cx="520.5" cy="675" r="1.8" fill="#0c1890"/>
<circle cx="560.7" cy="675.4" r="1.8" fill="#0c1890"/>
<circle cx="602.5" cy="674.8" r="1.8" fill="#0c1890"/>
<line x1="78.2" y1="704.6" x2="78.2" y2="707.1" stroke="#999" stroke-width="1.2" />
<line x1="93.2" y1="704.6" x2="93.2" y2="707.1" stroke="#999" stroke-width="1.2" />
<line x1="108.2" y1="704.6" x2="108.2" y2="707.1" stroke="#999" stroke-width="1.2" />
<line x1="123.2" y1="704.6" x2="123.2" y2="707.1" stroke="#999" stroke-width="1.2" />
<line x1="138.2" y1="704.6" x2="138.2" y2="707.1" stroke="#999" stroke-width="1.2" />
<line x1="153.2" y1="704.6" x2="153.2" y2="707.1" stroke="#999" stroke-width="1.2" />
<line x1="168.2" y1="704.6" x2="168.2" y2="707.1" stroke="#999" stroke-width="1.2" />
<line x1="183.2" y1="704.6" x2="183.2" y2="707.1" stroke="#999" stroke-width="1.2" />
<line x1="198.2" y1="704.6" x2="198.2" y2="707.1" stroke="#999" stroke-width="1.2" />
<line x1="213.1" y1="704.6" x2="213.1" y2="707.1" stroke="#999" stroke-width="1.2" />
<line x1="228.1" y1="704.6" x2="228.1" y2="707.1" stroke="#999" stroke-width="1.2" />
<line x1="243.1" y1="704.6" x2="243.1" y2="707.1" stroke="#999" stroke-width="1.2" />
<line x1="258.1" y1="704.6" x2="258.1" y2="707.1" stroke="#999" stroke-width="1.2" />
<line x1="273.1" y1="704.6" x2="273.1" y2="707.1" stroke="#999" stroke-width="1.2" />
<line x1="288.1" y1="704.6" x2="288.1" y2="707.1" stroke="#999" stroke-width="1.2" />
<line x1="303.1" y1="704.6" x2="303.1" y2="707.1" stroke="#999" stroke-width="1.2" />
<line x1="318.1" y1="704.6" x2="318.1" y2="707.1" stroke="#999" stroke-width="1.2" />
<line x1="333.1" y1="704.6" x2="333.1" y2="707.1" stroke="#999" stroke-width="1.2" />
<line x1="348.1" y1="704.6" x2="348.1" y2="707.1" stroke="#999" stroke-width="1.2" />
<line x1="363.1" y1="704.6" x2="363.1" y2="707.1" stroke="#999" stroke-width="1.2" />
<line x1="378.1" y1="704.6" x2="378.1" y2="707.1" stroke="#999" stroke-width="1.2" />
<line x1="393.1" y1="704.6" x2="393.1" y2="707.1" stroke="#999" stroke-width="1.2" />
<line x1="408.1" y1="704.6" x2="408.1" y2="707.1" stroke="#999" stroke-width="1.2" />
<line x1="423.1" y1="704.6" x2="423.1" y2="707.1" stroke="#999" stroke-width="1.2" />
<line x1="438.1" y1="704.6" x2="438.1" y2="707.1" stroke="#999" stroke-width="1.2" />
<line x1="453.1" y1="704.6" x2="453.1" y2="707.1" stroke="#999" stroke-width="1.2" />
<line x1="468" y1="704.6" x2="468" y2="707.1" stroke="#999" stroke-width="1.2" />
<line x1="483" y1="704.6" x2="483" y2="707.1" stroke="#999" stroke-width="1.2" />
<line x1="498" y1="704.6" x2="498" y2="707.1" stroke="#999" stroke-width="1.2" />
<line x1="513" y1="704.6" x2="513" y2="707.1" stroke="#999" stroke-width="1.2" />
<line x1="528" y1="704.6" x2="528" y2="707.1" stroke="#999" stroke-width="1.2" />
<line x1="543" y1="704.6" x2="543" y2="707.1" stroke="#999" stroke-width="1.2" />
<line x1="558" y1="704.6" x2="558" y2="707.1" stroke="#999" stroke-width="1.2" />
<line x1="573" y1="704.6" x2="573" y2="707.1" stroke="#999" stroke-width="1.2" />
<line x1="588" y1="704.6" x2="588" y2="707.1" stroke="#999" stroke-width="1.2" />
<line x1="603" y1="704.6" x2="603" y2="707.1" stroke="#999" stroke-width="1.2" />
<line x1="75.7" y1="625.2" x2="78.2" y2="625.2" stroke="#999" stroke-width="1.2" />
<line x1="75.7" y1="546.3" x2="78.2" y2="546.3" stroke="#999" stroke-width="1.2" />
<line x1="75.7" y1="467.4" x2="78.2" y2="467.4" stroke="#999" stroke-width="1.2" />
<line x1="75.7" y1="388.5" x2="78.2" y2="388.5" stroke="#999" stroke-width="1.2" />
<text x="71.5" y="480.9" font-family='"Liberation Sans", sans-serif' font-size="24" font-weight="normal" fill="#000" text-anchor="end" textLength="39.9" lengthAdjust="spacingAndGlyphs" >750</text>
<text x="72.6" y="558.4" font-family='"Liberation Sans", sans-serif' font-size="24" font-weight="normal" fill="#000" text-anchor="end" textLength="41.7" lengthAdjust="spacingAndGlyphs" >500</text>
<text x="72.6" y="637.9" font-family='"Liberation Sans", sans-serif' font-size="24" font-weight="normal" fill="#000" text-anchor="end" textLength="41.7" lengthAdjust="spacingAndGlyphs" >250</text>
<text x="73" y="704.8" font-family='"Liberation Sans", sans-serif' font-size="24" font-weight="normal" fill="#000" text-anchor="end" >0</text>
<text x="69.9" y="730.7" font-family='"Liberation Sans", sans-serif' font-size="23.5" font-weight="normal" fill="#000" text-anchor="start" textLength="29" lengthAdjust="spacingAndGlyphs" >10</text>
<text x="140.2" y="730.7" font-family='"Liberation Sans", sans-serif' font-size="23.5" font-weight="normal" fill="#000" text-anchor="start" textLength="29" lengthAdjust="spacingAndGlyphs" >20</text>
<text x="216.1" y="730.7" font-family='"Liberation Sans", sans-serif' font-size="23.5" font-weight="normal" fill="#000" text-anchor="start" textLength="29" lengthAdjust="spacingAndGlyphs" >30</text>
<text x="291.2" y="730.7" font-family='"Liberation Sans", sans-serif' font-size="23.5" font-weight="normal" fill="#000" text-anchor="start" textLength="29" lengthAdjust="spacingAndGlyphs" >40</text>
<text x="367.4" y="730.7" font-family='"Liberation Sans", sans-serif' font-size="23.5" font-weight="normal" fill="#000" text-anchor="start" textLength="29" lengthAdjust="spacingAndGlyphs" >50</text>
<text x="441.6" y="730.7" font-family='"Liberation Sans", sans-serif' font-size="23.5" font-weight="normal" fill="#000" text-anchor="start" textLength="29" lengthAdjust="spacingAndGlyphs" >60</text>
<text x="514.9" y="730.7" font-family='"Liberation Sans", sans-serif' font-size="23.5" font-weight="normal" fill="#000" text-anchor="start" textLength="29" lengthAdjust="spacingAndGlyphs" >70</text>
<text x="590.4" y="730.7" font-family='"Liberation Sans", sans-serif' font-size="23.5" font-weight="normal" fill="#000" text-anchor="start" textLength="29" lengthAdjust="spacingAndGlyphs" >80</text>
<text x="313.2" y="763" font-family='"Liberation Serif", serif' font-size="29" font-weight="normal" fill="#000" text-anchor="middle" textLength="192" lengthAdjust="spacingAndGlyphs" >Two-Theta(deg)</text>
<text x="23.6" y="607" font-family='"Liberation Serif", serif' font-size="31" font-weight="normal" fill="#000" text-anchor="middle" textLength="207" lengthAdjust="spacingAndGlyphs" transform="rotate(-90 23.6 607)">Intensity(Counts)</text>
<text transform="translate(24.3,455.5) scale(0.9,1)" font-family='"Liberation Sans", sans-serif' font-size="34" font-weight="bold">c</text>
<rect x="372.4" y="533.5" width="156.4" height="33.1" fill="#fff" stroke="#333" stroke-width="2"/>
<text x="376.8" y="557.5" font-family='"Liberation Sans", sans-serif' font-size="20.5" font-weight="normal" fill="#000" text-anchor="start" textLength="145" lengthAdjust="spacingAndGlyphs" >Sericin−cocoon</text>
<rect x="714.5" y="440.4" width="545.5" height="260.4" fill="none" stroke="#8a8a8a" stroke-width="1.5"/>
<line x1="781" y1="570.7" x2="781" y2="700.8" stroke="#555" stroke-width="1.3" />
<line x1="798.3" y1="556.5" x2="798.3" y2="700.8" stroke="#555" stroke-width="1.3" />
<line x1="867.3" y1="635.6" x2="867.3" y2="700.8" stroke="#999" stroke-width="1.8" />
<line x1="940.3" y1="663.4" x2="940.3" y2="700.8" stroke="#555" stroke-width="1.3" />
<line x1="995.1" y1="673.7" x2="995.1" y2="700.8" stroke="#555" stroke-width="1.3" />
<polyline fill="none" stroke="#8c8c8c" stroke-width="0.8" stroke-linejoin="round" points="714.8,468.1 715.2,467.6 715.6,464.9 716,467.2 716.4,462.8 716.8,458.8 717.2,470.7 717.6,466.6 718,458 718.4,461.4 718.8,462.9 719.2,466.2 719.6,469.5 720,466 720.4,463.5 720.8,466.6 721.2,464.2 721.6,465.6 722,462.7 722.4,460.9 722.8,469.3 723.2,463.9 723.6,465.4 724,463 724.4,463.2 724.8,463.8 725.2,467.2 725.6,469.1 726,466.8 726.4,463.1 726.8,474.4 727.2,467.8 727.6,468.2 728,463.2 728.4,464.2 728.8,467.1 729.2,459.1 729.6,462.4 730,466.3 730.4,473.2 730.8,466.4 731.2,461.5 731.6,460.9 732,468.3 732.4,462.3 732.8,463.8 733.2,471.6 733.6,465.2 734,463.8 734.4,462.4 734.8,469.5 735.2,469.4 735.6,462.7 736,460.2 736.4,464.6 736.8,469.6 737.2,466.5 737.6,460.9 738,466.1 738.4,467.6 738.8,464.9 739.2,465.6 739.6,465 740,463.3 740.4,462.8 740.8,460.4 741.2,461 741.6,459.2 742,466.5 742.4,466.6 742.8,465.2 743.2,466.4 743.6,465.1 744,462.4 744.4,465.6 744.8,463.8 745.2,464.2 745.6,457.9 746,463.1 746.4,466.3 746.8,463.7 747.2,462 747.6,459.4 748,462.6 748.4,469.6 748.8,462.8 749.2,468.4 749.6,463.3 750,468.4 750.4,463.1 750.8,466.2 751.2,467 751.6,466.9 752,461.8 752.4,463.8 752.8,462 753.2,464.5 753.6,463.9 754,464.1 754.4,467 754.8,461.5 755.2,462.3 755.6,463 756,464.2 756.4,462.3 756.8,466.7 757.2,461.4 757.6,470.9 758,465.2 758.4,468.9 758.8,461.4 759.2,464 759.6,465.5 760,470.9 760.4,465.4 760.8,470 761.2,462.7 761.6,470.1 762,462.9 762.4,459.2 762.8,458.6 763.2,465.8 763.6,464.4 764,465.9 764.4,464.8 764.8,466.7 765.2,470.5 765.6,464.4 766,466 766.4,463.8 766.8,459.4 767.2,464.2 767.6,470.1 768,462.4 768.4,472.8 768.8,467 769.2,466.7 769.6,468.3 770,465.2 770.4,465.3 770.8,469.6 771.2,462.8 771.6,464.7 772,461.3 772.4,465.6 772.8,475.3 773.2,469.2 773.6,462.2 774,459.4 774.4,467.1 774.8,467.6 775.2,463.2 775.6,469.7 776,466.7 776.4,467.6 776.8,467.8 777.2,468.9 777.6,463.8 778,463 778.4,469.8 778.8,464.8 779.2,461.3 779.6,466.5 780,463.8 780.4,466.4 780.8,475.7 781.2,471.2 781.6,463.9 782,461.3 782.4,465.3 782.8,462.2 783.2,466.1 783.6,466.3 784,467.5 784.4,465.4 784.8,460.8 785.2,464.9 785.6,465.6 786,466.1 786.4,469.3 786.8,462 787.2,464.8 787.6,463.4 788,462.6 788.4,467.4 788.8,463.3 789.2,471.6 789.6,457.1 790,470.2 790.4,464.5 790.8,461.2 791.2,465.8 791.6,465.6 792,468.4 792.4,469.3 792.8,462.7 793.2,465.2 793.6,466.3 794,465.9 794.4,464.1 794.8,469.6 795.2,466.2 795.6,460.9 796,466.1 796.4,464.4 796.8,464.3 797.2,467.9 797.6,467.3 798,466.1 798.4,466.6 798.8,468 799.2,463.2 799.6,465.5 800,469.3 800.4,463.2 800.8,463.7 801.2,463.1 801.6,468.6 802,463.6 802.4,468.6 802.8,463.8 803.2,465.8 803.6,466.1 804,463.4 804.4,461.9 804.8,468.2 805.2,463.8 805.6,466.7 806,467.2 806.4,460.4 806.8,469.1 807.2,465.5 807.6,464.1 808,463.9 808.4,463.5 808.8,465.9 809.2,471.8 809.6,464.7 810,461.5 810.4,464.3 810.8,471.9 811.2,465.4 811.6,471.4 812,462.7 812.4,462.6 812.8,461.4 813.2,462 813.6,464.9 814,465.5 814.4,459.4 814.8,461.7 815.2,462.4 815.6,463.7 816,469.3 816.4,469.8 816.8,466.3 817.2,467.3 817.6,462.2 818,465.9 818.4,459.1 818.8,464.5 819.2,465.7 819.6,467.4 820,464.3 820.4,464.3 820.8,461.4 821.2,457.3 821.6,462.5 822,458.4 822.4,463.2 822.8,463.5 823.2,460 823.6,458.6 824,463.9 824.4,462.6 824.8,465.8 825.2,467.3 825.6,469.7 826,467.6 826.4,461.6 826.8,464.3 827.2,471.3 827.6,461.7 828,463.4 828.4,468.8 828.8,466.5 829.2,462.6 829.6,465.7 830,462.7 830.4,467.5 830.8,464.2 831.2,464.8 831.6,465.3 832,458.4 832.4,464.2 832.8,465.9 833.2,464.9 833.6,463.1 834,464.5 834.4,469.3 834.8,466.8 835.2,462.8 835.6,468.1 836,465.7 836.4,463.3 836.8,459.4 837.2,466.6 837.6,461.4 838,465.9 838.4,468.1 838.8,466.9 839.2,461.3 839.6,462.1 840,466.8 840.4,468.1 840.8,464.9 841.2,464.5 841.6,470.2 842,469.8 842.4,465.7 842.8,463.9 843.2,466.9 843.6,461.5 844,465.6 844.4,465.7 844.8,468.5 845.2,466.6 845.6,459.9 846,470.2 846.4,466.7 846.8,459.5 847.2,460.8 847.6,466.9 848,461.4 848.4,467.3 848.8,462.1 849.2,460.7 849.6,469.3 850,469.7 850.4,464.3 850.8,469.4 851.2,466 851.6,466.4 852,464.6 852.4,466.9 852.8,469 853.2,469.1 853.6,470.7 854,470 854.4,467 854.8,464.1 855.2,467.6 855.6,467.1 856,464.4 856.4,462.5 856.8,463.4 857.2,461.5 857.6,463.2 858,465.9 858.4,468.5 858.8,465.7 859.2,464.1 859.6,464.3 860,465 860.4,468.4 860.8,465.7 861.2,461.1 861.6,465.3 862,461.2 862.4,463.6 862.8,465.5 863.2,463.2 863.6,464.9 864,468 864.4,463.3 864.8,467.6 865.2,467.2 865.6,466.7 866,463.2 866.4,467.6 866.8,466 867.2,466.8 867.6,465.3 868,468 868.4,462.2 868.8,466.1 869.2,466.9 869.6,471.2 870,461.8 870.4,462.6 870.8,464.7 871.2,465.7 871.6,463.4 872,466.6 872.4,464.6 872.8,465.3 873.2,462.2 873.6,465.9 874,465.2 874.4,468.1 874.8,466.6 875.2,468 875.6,465.7 876,463.5 876.4,466.4 876.8,461.9 877.2,462.2 877.6,463.7 878,466.5 878.4,467 878.8,461.5 879.2,464.2 879.6,467.1 880,464 880.4,461.7 880.8,464.9 881.2,467.4 881.6,463.7 882,463.8 882.4,468.6 882.8,466.1 883.2,462.8 883.6,466.4 884,467.1 884.4,464.3 884.8,465.3 885.2,466.5 885.6,465.5 886,467.7 886.4,467.3 886.8,466.6 887.2,467.7 887.6,464.5 888,463.7 888.4,462.7 888.8,464.1 889.2,463.1 889.6,464.6 890,466.7 890.4,467.5 890.8,466.2 891.2,466.1 891.6,465.6 892,466 892.4,464.3 892.8,464.1 893.2,463.2 893.6,464.6 894,465.6 894.4,464.9 894.8,465.4 895.2,468 895.6,465.7 896,465.9 896.4,465.1 896.8,465.9 897.2,463.5 897.6,465.8 898,466 898.4,466.3 898.8,462.9 899.2,464.6 899.6,466.8 900,466"/>
<polyline fill="none" stroke="#1a1a1a" stroke-width="1.0" stroke-linejoin="round" points="714.8,466 715.3,469.2 715.8,460 716.3,469.7 716.8,464.9 717.3,462.8 717.8,462.8 718.3,462 718.8,464.4 719.3,467.3 719.8,466.6 720.3,466.8 720.8,460.3 721.3,460.6 721.8,469.3 722.3,467.7 722.8,471.1 723.3,468.4 723.8,462.1 724.3,468.6 724.8,466.7 725.3,465.6 725.8,462.7 726.3,465 726.8,464.6 727.3,467.5 727.8,465.3 728.3,469.4 728.8,462.8 729.3,466.3 729.8,466.4 730.3,462.6 730.8,461.7 731.3,467.8 731.8,466.4 732.3,464.5 732.8,466.1 733.3,463.1 733.8,465.6 734.3,463.3 734.8,465.5 735.3,467.7 735.8,464 736.3,467.3 736.8,462.1 737.3,464.2 737.8,461.2 738.3,464.7 738.8,465.2 739.3,464.4 739.8,464.2 740.3,468.7 740.8,468.9 741.3,461.6 741.8,468.2 742.3,460.2 742.8,462.9 743.3,464.5 743.8,465.3 744.3,462.1 744.8,463 745.3,465.2 745.8,463.1 746.3,463.2 746.8,466.8 747.3,467.5 747.8,464.8 748.3,465 748.8,464.9 749.3,463.7 749.8,463.6 750.3,462.1 750.8,466.7 751.3,464.7 751.8,464.6 752.3,465.5 752.8,466.4 753.3,468.8 753.8,464.2 754.3,463.9 754.8,465.5 755.3,462.6 755.8,468.4 756.3,467.5 756.8,466.8 757.3,464.6 757.8,467 758.3,467.8 758.8,466.3 759.3,464.2 759.8,460.4 760.3,467.5 760.8,464 761.3,462.7 761.8,467.4 762.3,465.9 762.8,461.1 763.3,464.7 763.8,464.2 764.3,467.6 764.8,459.8 765.3,463.9 765.8,464.6 766.3,468.8 766.8,462 767.3,457 767.8,461.2 768.3,465.7 768.8,467.1 769.3,469.6 769.8,466 770.3,462.8 770.8,467.3 771.3,464.9 771.8,464.4 772.3,465 772.8,468.4 773.3,462.5 773.8,462.2 774.3,464.8 774.8,464.8 775.3,462.7 775.8,462.6 776.3,466 776.8,468.5 777.3,466.9 777.8,466.8 778.3,468.3 778.8,459.6 779.3,460.9 779.8,463 780.3,461.7 780.8,462.3 781.3,465.1 781.8,461.5 782.3,463.7 782.8,459.4 783.3,462.3 783.8,468.5 784.3,463.5 784.8,465.8 785.3,466.8 785.8,463.6 786.3,466.5 786.8,465.5 787.3,466.8 787.8,463.2 788.3,461.1 788.8,462.2 789.3,463.4 789.8,466.3 790.3,464.4 790.8,463.9 791.3,464.4 791.8,467.8 792.3,463.4 792.8,468.9 793.3,461.6 793.8,463.3 794.3,467.2 794.8,466.3 795.3,462.6 795.8,464.6 796.3,463 796.8,467.2 797.3,466.3 797.8,463 798.3,466 798.8,463.9 799.3,464.7 799.8,465.1 800.3,463.4 800.8,466 801.3,466.1 801.8,466 802.3,467.8 802.8,464.2 803.3,461 803.8,463.6 804.3,465.4 804.8,465 805.3,466.4 805.8,467 806.3,464.6 806.8,464.6 807.3,462.3 807.8,467.6 808.3,464.2 808.8,462 809.3,462 809.8,463.8 810.3,469 810.8,466.9 811.3,460.4 811.8,464.6 812.3,465.6 812.8,466.5 813.3,465.8 813.8,463.2 814.3,466 814.8,463.4 815.3,459 815.8,463 816.3,463.1 816.8,467.4 817.3,467.7 817.8,462.1 818.3,465.3 818.8,465.1 819.3,461.1 819.8,459.5 820.3,464.6 820.8,465.2 821.3,463.3 821.8,457.8 822.3,464.8 822.8,463.4 823.3,462.6 823.8,464 824.3,461.9 824.8,466.3 825.3,464.9 825.8,463.4 826.3,465.6 826.8,464.8 827.3,460.9 827.8,464.5 828.3,463.7 828.8,460.3 829.3,463.2 829.8,466 830.3,463.3 830.8,468.5 831.3,469.2 831.8,464.1 832.3,466.3 832.8,469.9 833.3,464 833.8,462.6 834.3,463.8 834.8,461.4 835.3,461.5 835.8,465.4 836.3,463.8 836.8,465.5 837.3,466.1 837.8,463 838.3,464.4 838.8,464.2 839.3,463.3 839.8,462.9 840.3,465.6 840.8,464.5 841.3,465.7 841.8,467.2 842.3,467.3 842.8,462.3 843.3,462.9 843.8,464.3 844.3,465.1 844.8,467 845.3,462.7 845.8,463.9 846.3,465.4 846.8,467.6 847.3,468 847.8,462.6 848.3,464.4 848.8,463.1 849.3,466.7 849.8,465.8 850.3,464.1 850.8,463.5 851.3,465.5 851.8,467 852.3,463.2 852.8,464.2 853.3,465.1 853.8,464.9 854.3,465.6 854.8,462.7 855.3,463.6 855.8,460.5 856.3,465 856.8,467.1 857.3,460.6 857.8,463.6 858.3,466.7 858.8,464.6 859.3,461 859.8,467.2 860.3,462 860.8,467.6 861.3,463.7 861.8,463.5 862.3,464.9 862.8,464.8 863.3,466 863.8,465.8 864.3,464.6 864.8,467.4 865.3,466.2 865.8,465.4 866.3,465.1 866.8,464.7 867.3,464.7 867.8,466.1 868.3,465.7 868.8,464.9 869.3,466.7 869.8,464.4 870.3,465.6 870.8,466.4 871.3,462.9 871.8,464.4 872.3,467.8 872.8,463.2 873.3,466.8 873.8,463 874.3,465.5 874.8,463 875.3,463.8 875.8,464.2 876.3,463.9 876.8,466.5 877.3,466.2 877.8,466.3 878.3,465.1 878.8,467.5 879.3,466.5 879.8,465.3 880.3,463.1 880.8,465.9 881.3,465.8 881.8,465 882.3,465.9 882.8,466 883.3,464.4 883.8,465.7 884.3,465.3 884.8,465.3 885.3,464.3 885.8,464.1 886.3,465 886.8,466.9 887.3,468.2 887.8,464.3 888.3,463.3 888.8,464.3 889.3,463.6 889.8,464.2 890.3,465.4 890.8,463.5 891.3,465.6 891.8,465.9 892.3,466.9 892.8,467.3 893.3,466.1 893.8,467.8 894.3,464.1 894.8,465.2 895.3,465 895.8,465.4 896.3,466.1 896.8,464.4 897.3,467 897.8,466.4 898.3,465.2 898.8,465.4 899.3,463.6 899.8,461.8 900.3,464.7 900.8,465.2 901.3,465.1 901.8,463.5 902.3,464.3 902.8,466.9 903.3,465.7 903.8,465.5 904.3,464.4 904.8,465.7 905.3,466.3 905.8,465.7 906.3,464.3 906.8,465.1 907.3,463.8 907.8,464.4 908.3,465.5 908.8,464.2 909.3,464.5 909.8,466.5 910.3,464.6 910.8,465.7 911.3,464.4 911.8,463.5 912.3,464.8 912.8,464.4 913.3,462.4 913.8,463.4 914.3,464.3 914.8,466.5 915.3,464.1 915.8,464.8 916.3,465.5 916.8,465.1 917.3,464.4 917.8,466.8 918.3,466.4 918.8,461.9 919.3,465.9 919.8,465.4 920.3,465.9 920.8,464.9 921.3,465.8 921.8,467.1 922.3,466.8 922.8,466.9 923.3,466 923.8,465.9 924.3,465.9 924.8,463.5 925.3,467.4 925.8,465.1 926.3,465.2 926.8,464.9 927.3,465.3 927.8,462.3 928.3,465.1 928.8,463.3 929.3,463.6 929.8,462.6 930.3,462.8 930.8,465.5 931.3,464.2 931.8,464.7 932.3,464.6 932.8,463.4 933.3,464 933.8,463.3 934.3,464.4 934.8,462.2 935.3,464.3 935.8,465.8 936.3,466.2 936.8,466.1 937.3,465.3 937.8,463.6 938.3,465.8 938.8,465.4 939.3,465.1 939.8,463.4 940.3,465.2 940.8,466.4 941.3,465.6 941.8,464.5 942.3,465.4 942.8,464.8 943.3,465 943.8,465.7 944.3,465.2 944.8,464.8 945.3,465.2 945.8,463.8 946.3,463.6 946.8,465.3 947.3,464.1 947.8,465.4 948.3,462.6 948.8,466.1 949.3,464.6 949.8,466.7 950.3,461.9 950.8,462.8 951.3,466.4 951.8,464.9 952.3,465.1 952.8,464.9 953.3,464.9 953.8,465.4 954.3,463.6 954.8,464.6 955.3,466.2 955.8,465 956.3,464 956.8,464.9 957.3,465.9 957.8,464.5 958.3,464.5 958.8,465.3 959.3,465.7 959.8,466.4 960.3,464.6 960.8,465.1 961.3,465.9 961.8,462.6 962.3,464.9 962.8,465.3 963.3,464.6 963.8,463.8 964.3,465.4 964.8,466.2 965.3,464.6 965.8,464.2 966.3,464.5 966.8,466.5 967.3,466.2 967.8,464.8 968.3,463.5 968.8,463.3 969.3,464.4 969.8,464.4 970.3,465.1 970.8,463.5 971.3,464.6 971.8,465.4 972.3,462.8 972.8,467.4 973.3,465.4 973.8,465.3 974.3,463.3 974.8,463.6 975.3,465.9 975.8,465.8 976.3,462 976.8,466.1 977.3,465.6 977.8,465.5 978.3,463.5 978.8,465 979.3,464.1 979.8,465.4 980.3,466.8 980.8,465.5 981.3,465.9 981.8,464.4 982.3,463.6 982.8,464.8 983.3,465.9 983.8,466.4 984.3,464.7 984.8,465 985.3,464.3 985.8,462.8 986.3,464.9 986.8,465.1 987.3,464.3 987.8,464.6 988.3,462.7 988.8,464.8 989.3,466.3 989.8,464.7 990.3,465.4 990.8,465.3 991.3,463.9 991.8,465 992.3,463.8 992.8,468 993.3,465 993.8,463.5 994.3,463 994.8,466.4 995.3,465.4 995.8,465.2 996.3,463.2 996.8,464.1 997.3,463.4 997.8,466 998.3,464.2 998.8,466.9 999.3,465.3 999.8,464.4 1000.3,466.2 1000.8,462.4 1001.3,463.8 1001.8,464.3 1002.3,465.9 1002.8,465.9 1003.3,465.1 1003.8,462.8 1004.3,464.1 1004.8,463.5 1005.3,466.1 1005.8,464.2 1006.3,465.4 1006.8,466.8 1007.3,464.6 1007.8,465.5 1008.3,464.3 1008.8,464.8 1009.3,464.8 1009.8,464.7 1010.3,464.8 1010.8,464.3 1011.3,466.8 1011.8,464 1012.3,465 1012.8,464.4 1013.3,462.2 1013.8,465.8 1014.3,465 1014.8,463.2 1015.3,463.9 1015.8,462.9 1016.3,465 1016.8,466.4 1017.3,466.1 1017.8,463.3 1018.3,462.8 1018.8,465.3 1019.3,466.6 1019.8,464.8 1020.3,465.9 1020.8,463.2 1021.3,464.6 1021.8,465.2 1022.3,464.2 1022.8,464.4 1023.3,465.4 1023.8,464 1024.3,463.6 1024.8,465.5 1025.3,465 1025.8,463.6 1026.3,465.2 1026.8,464.1 1027.3,465.4 1027.8,464.7 1028.3,464.4 1028.8,463.8 1029.3,464.9 1029.8,464.6 1030.3,466.7 1030.8,464.6 1031.3,463.2 1031.8,466.9 1032.3,462.5 1032.8,466.5 1033.3,463.7 1033.8,466.2 1034.3,464.5 1034.8,465.3 1035.3,464.7 1035.8,464.5 1036.3,465.2 1036.8,464 1037.3,465.2 1037.8,463.5 1038.3,463.9 1038.8,464.1 1039.3,464.6 1039.8,466 1040.3,463.8 1040.8,463.7 1041.3,463.4 1041.8,464.2 1042.3,465.3 1042.8,463.8 1043.3,464.3 1043.8,464 1044.3,464.7 1044.8,462.5 1045.3,465.3 1045.8,465.6 1046.3,463.7 1046.8,464.6 1047.3,463.7 1047.8,465.7 1048.3,465.3 1048.8,467.8 1049.3,464.4 1049.8,463.7 1050.3,464.1 1050.8,463.3 1051.3,464.9 1051.8,465 1052.3,465.6 1052.8,465.1 1053.3,464.2 1053.8,466 1054.3,465.3 1054.8,465.5 1055.3,463.4 1055.8,463.8 1056.3,464 1056.8,464.2 1057.3,462.3 1057.8,465.9 1058.3,464.4 1058.8,465.6 1059.3,465.5 1059.8,466.3 1060.3,465.3 1060.8,465.1 1061.3,463.9 1061.8,464.8 1062.3,466.5 1062.8,462.8 1063.3,463.9 1063.8,465 1064.3,466.4 1064.8,463.5 1065.3,464.2 1065.8,464.8 1066.3,468 1066.8,463.8 1067.3,464.5 1067.8,465.5 1068.3,463.9 1068.8,465.1 1069.3,465.1 1069.8,464.3 1070.3,465.1 1070.8,466.5 1071.3,464.8 1071.8,464.2 1072.3,463.9 1072.8,464.9 1073.3,465.8 1073.8,464.9 1074.3,465 1074.8,467.5 1075.3,463.9 1075.8,463.6 1076.3,465 1076.8,464.5 1077.3,465.3 1077.8,466 1078.3,465.1 1078.8,464.5 1079.3,465.2 1079.8,465.2 1080.3,464.6 1080.8,464.1 1081.3,465.4 1081.8,464.5 1082.3,463.5 1082.8,465.4 1083.3,464.1 1083.8,464.1 1084.3,465.4 1084.8,463.9 1085.3,464.5 1085.8,463.7 1086.3,463.1 1086.8,465 1087.3,466.3 1087.8,463.8 1088.3,465.9 1088.8,465.8 1089.3,466.2 1089.8,463.6 1090.3,464 1090.8,466.4 1091.3,464.6 1091.8,464.7 1092.3,465.4 1092.8,465.3 1093.3,464.1 1093.8,464.5 1094.3,465.3 1094.8,465 1095.3,463.9 1095.8,466 1096.3,465.6 1096.8,464.4 1097.3,464.1 1097.8,465.6 1098.3,462.2 1098.8,464.8 1099.3,464.1 1099.8,464 1100.3,465.6 1100.8,465 1101.3,467.8 1101.8,464.5 1102.3,465.1 1102.8,463.3 1103.3,465.7 1103.8,464.1 1104.3,464.9 1104.8,466 1105.3,465.9 1105.8,465.2 1106.3,466 1106.8,464.2 1107.3,463.7 1107.8,463.1 1108.3,465.3 1108.8,466.7 1109.3,464.4 1109.8,464.7 1110.3,464.4 1110.8,465.2 1111.3,462.8 1111.8,465.6 1112.3,465.8 1112.8,464 1113.3,463.7 1113.8,463.8 1114.3,465.2 1114.8,466.2 1115.3,463.7 1115.8,463.1 1116.3,464.8 1116.8,464.9 1117.3,465.4 1117.8,464 1118.3,465.4 1118.8,465.8 1119.3,463 1119.8,464.4 1120.3,465.3 1120.8,465.4 1121.3,464.1 1121.8,462.7 1122.3,463.9 1122.8,463.2 1123.3,464.1 1123.8,465.7 1124.3,464 1124.8,464.7 1125.3,463.4 1125.8,465.6 1126.3,464 1126.8,463.6 1127.3,466.5 1127.8,465 1128.3,465.3 1128.8,462.6 1129.3,466.1 1129.8,466.4 1130.3,464.5 1130.8,464.3 1131.3,464 1131.8,465.7 1132.3,463 1132.8,464.9 1133.3,466.6 1133.8,464.7 1134.3,466.6 1134.8,464.6 1135.3,464.3 1135.8,465.5 1136.3,464.5 1136.8,464.7 1137.3,464.2 1137.8,463.4 1138.3,464.3 1138.8,465.3 1139.3,465.7 1139.8,464.5 1140.3,464.9 1140.8,463.7 1141.3,464.4 1141.8,464.4 1142.3,464.5 1142.8,464.7 1143.3,465 1143.8,465.8 1144.3,465.4 1144.8,465.1 1145.3,463.4 1145.8,463.8 1146.3,464.6 1146.8,464.7 1147.3,465.3 1147.8,462.9 1148.3,464.8 1148.8,464.7 1149.3,464.3 1149.8,463.8 1150.3,464.8 1150.8,464.4 1151.3,465.1 1151.8,462.6 1152.3,463.7 1152.8,466.1 1153.3,464.8 1153.8,463.8 1154.3,464.3 1154.8,463.3 1155.3,466 1155.8,466 1156.3,465.5 1156.8,465.8 1157.3,465.1 1157.8,465.9 1158.3,465.2 1158.8,466 1159.3,464.6 1159.8,464.5 1160.3,464.1 1160.8,464.1 1161.3,463.1 1161.8,465.9 1162.3,466 1162.8,465.3 1163.3,465.6 1163.8,464.8 1164.3,465.1 1164.8,463.3 1165.3,464.5 1165.8,462.8 1166.3,463.9 1166.8,464.3 1167.3,464.3 1167.8,463.6 1168.3,465.8 1168.8,465.6 1169.3,464.1 1169.8,463.4 1170.3,464.1 1170.8,465.5 1171.3,462.8 1171.8,465.4 1172.3,464.5 1172.8,464.2 1173.3,465.6 1173.8,464.6 1174.3,464.2 1174.8,465.8 1175.3,463.1 1175.8,466.1 1176.3,463.8 1176.8,463.8 1177.3,466.1 1177.8,467.8 1178.3,465.8 1178.8,463.8 1179.3,462.5 1179.8,464.8 1180.3,464.6 1180.8,464 1181.3,464.5 1181.8,463.9 1182.3,465.4 1182.8,464.5 1183.3,464.4 1183.8,462.5 1184.3,464.8 1184.8,463.2 1185.3,465.3 1185.8,464.5 1186.3,462.6 1186.8,464.2 1187.3,463.4 1187.8,465.1 1188.3,465 1188.8,465.6 1189.3,463.8 1189.8,465 1190.3,463.3 1190.8,464.9 1191.3,464.3 1191.8,464.8 1192.3,464.5 1192.8,465.5 1193.3,464.2 1193.8,464.4 1194.3,465.9 1194.8,464.5 1195.3,464 1195.8,463.7 1196.3,464.6 1196.8,464.5 1197.3,465.1 1197.8,464.4 1198.3,465.2 1198.8,464.3 1199.3,466 1199.8,464.5 1200.3,465.2 1200.8,464.9 1201.3,463.3 1201.8,465.5 1202.3,464.1 1202.8,465.4 1203.3,462.7 1203.8,462.8 1204.3,462.7 1204.8,462.8 1205.3,464.2 1205.8,464.5 1206.3,463.6 1206.8,464.2 1207.3,463.9 1207.8,465.2 1208.3,465.2 1208.8,464.8 1209.3,465.1 1209.8,466.1 1210.3,465.1 1210.8,463.1 1211.3,464.3 1211.8,464.2 1212.3,465.3 1212.8,464.9 1213.3,465.3 1213.8,463.1 1214.3,465.8 1214.8,464.4 1215.3,465.4 1215.8,464.9 1216.3,463.7 1216.8,463.7 1217.3,465 1217.8,465.5 1218.3,463.6 1218.8,463.4 1219.3,462.6 1219.8,463.6 1220.3,463.8 1220.8,464.2 1221.3,465 1221.8,464 1222.3,463.4 1222.8,464.1 1223.3,464.4 1223.8,464.6 1224.3,464.6 1224.8,464.3 1225.3,464.9 1225.8,464.2 1226.3,463.5 1226.8,464.3 1227.3,466.1 1227.8,463.7 1228.3,466.7 1228.8,464 1229.3,465.1 1229.8,463 1230.3,464.3 1230.8,465.7 1231.3,463.4 1231.8,463.8 1232.3,464.7 1232.8,464.7 1233.3,463.1 1233.8,463.3 1234.3,464.7 1234.8,464.7 1235.3,465.1 1235.8,464.3 1236.3,465 1236.8,465.5 1237.3,463.3 1237.8,465.3 1238.3,465.1 1238.8,465.6 1239.3,464.1 1239.8,464.4 1240.3,464.5 1240.8,464 1241.3,465.3 1241.8,464.6 1242.3,463.5 1242.8,464.7 1243.3,463.5 1243.8,463 1244.3,463.5 1244.8,464.4 1245.3,464.5 1245.8,464.3 1246.3,464.9 1246.8,466.1 1247.3,463.4 1247.8,464.8 1248.3,464.7 1248.8,463.4 1249.3,464 1249.8,464.6 1250.3,464.4 1250.8,463.7 1251.3,465.1 1251.8,464.6 1252.3,465 1252.8,465.8 1253.3,463.3 1253.8,465.3 1254.3,464.8 1254.8,463.6 1255.3,464.4 1255.8,464 1256.3,463.4 1256.8,465.1 1257.3,463.7 1257.8,462.6 1258.3,465.1 1258.8,464 1259.3,464.7"/>
<path d="M793,470 L796,458 L798,455 L800,458 L803,470" fill="none" stroke="#f44" stroke-width="2"/>
<polyline fill="none" stroke="#ff5050" stroke-width="1.2" stroke-linejoin="round"  points="750.4,591.4 751.4,591.8 752.4,592.3 753.4,592.7 754.4,593.2 755.4,593.6 756.4,594 757.4,594.5 758.4,594.9 759.4,595.4 760.4,595.8 761.4,596.2 762.4,596.7 763.4,597.1 764.4,597.6 765.4,598 766.4,598.5 767.4,598.9 768.4,599.3 769.4,599.8 770.4,600.2 771.4,600.7 772.4,601.1 773.4,601.6 774.4,602 775.4,602.4 776.4,602.9 777.4,603.3 778.4,603.8 779.4,604.2 780.4,604.7 781.4,605.1 782.4,605.6 783.4,606 784.4,606.5 785.4,606.9 786.4,607.4 787.4,607.8 788.4,608.3 789.4,608.7 790.4,609.2 791.4,609.7 792.4,610.1 793.4,610.6 794.4,611 795.4,611.5 796.4,611.9 797.4,612.4 798.4,612.8 799.4,613.3 800.4,613.7 801.4,614.2 802.4,614.6 803.4,615.1 804.4,615.5 805.4,616 806.4,616.4 807.4,616.9 808.4,617.3 809.4,617.7 810.4,618.2 811.4,618.6 812.4,619.1 813.4,619.5 814.4,619.9 815.4,620.4 816.4,620.8 817.4,621.3 818.4,621.7 819.4,622.1 820.4,622.6 821.4,623 822.4,623.5 823.4,623.9 824.4,624.3 825.4,624.8 826.4,625.2 827.4,625.6 828.4,626.1 829.4,626.5 830.4,626.9 831.4,627.3 832.4,627.7 833.4,628.1 834.4,628.5 835.4,628.9 836.4,629.3 837.4,629.7 838.4,630.1 839.4,630.5 840.4,630.8 841.4,631.2 842.4,631.6 843.4,631.9 844.4,632.3 845.4,632.6 846.4,632.9 847.4,633.3 848.4,633.6 849.4,633.9 850.4,634.3 851.4,634.6 852.4,634.9 853.4,635.2 854.4,635.5 855.4,635.8 856.4,636.1 857.4,636.4 858.4,636.7 859.4,637 860.4,637.3 861.4,637.7 862.4,638 863.4,638.3 864.4,638.6 865.4,638.9 866.4,639.2 867.4,639.5 868.4,639.8 869.4,640.1 870.4,640.4 871.4,640.7 872.4,641.1 873.4,641.4 874.4,641.7 875.4,642 876.4,642.4 877.4,642.7 878.4,643 879.4,643.4 880.4,643.7 881.4,644.1 882.4,644.5 883.4,644.8 884.4,645.2 885.4,645.6 886.4,646 887.4,646.4 888.4,646.8 889.4,647.2 890.4,647.6 891.4,648 892.4,648.4 893.4,648.8 894.4,649.2 895.4,649.7 896.4,650.1 897.4,650.5 898.4,650.9 899.4,651.2 900.4,651.6 901.4,652 902.4,652.4 903.4,652.8 904.4,653.1 905.4,653.5 906.4,653.8 907.4,654.1 908.4,654.5 909.4,654.8 910.4,655.1 911.4,655.4 912.4,655.7 913.4,656.1 914.4,656.4 915.4,656.7 916.4,657 917.4,657.3 918.4,657.6 919.4,657.9 920.4,658.2 921.4,658.5 922.4,658.8 923.4,659.1 924.4,659.4 925.4,659.6 926.4,659.9 927.4,660.2 928.4,660.5 929.4,660.8 930.4,661 931.4,661.3 932.4,661.5 933.4,661.8 934.4,662.1 935.4,662.3 936.4,662.5 937.4,662.8 938.4,663 939.4,663.3 940.4,663.5 941.4,663.7 942.4,663.9 943.4,664.2 944.4,664.4 945.4,664.6 946.4,664.8 947.4,665 948.4,665.2 949.4,665.4 950.4,665.6 951.4,665.8 952.4,666 953.4,666.2 954.4,666.4 955.4,666.6 956.4,666.8 957.4,667 958.4,667.2 959.4,667.4 960.4,667.5 961.4,667.7 962.4,667.9 963.4,668.1 964.4,668.3 965.4,668.4 966.4,668.6 967.4,668.8 968.4,669 969.4,669.1 970.4,669.3 971.4,669.5 972.4,669.7 973.4,669.8 974.4,670 975.4,670.2 976.4,670.3 977.4,670.5 978.4,670.7 979.4,670.9 980.4,671 981.4,671.2 982.4,671.4 983.4,671.6 984.4,671.7 985.4,671.9 986.4,672.1 987.4,672.3 988.4,672.5 989.4,672.6 990.4,672.8 991.4,673 992.4,673.2 993.4,673.4 994.4,673.6 995.4,673.8 996.4,674 997.4,674.2 998.4,674.4 999.4,674.6 1000.4,674.8 1001.4,675 1002.4,675.2 1003.4,675.4 1004.4,675.7 1005.4,675.9 1006.4,676.1 1007.4,676.3 1008.4,676.5 1009.4,676.7 1010.4,676.9 1011.4,677.2 1012.4,677.4 1013.4,677.6 1014.4,677.8 1015.4,678 1016.4,678.2 1017.4,678.4 1018.4,678.5 1019.4,678.7 1020.4,678.9 1021.4,679.1 1022.4,679.2 1023.4,679.4 1024.4,679.5 1025.4,679.7 1026.4,679.8 1027.4,680 1028.4,680.1 1029.4,680.2 1030.4,680.4 1031.4,680.5 1032.4,680.6 1033.4,680.7 1034.4,680.9 1035.4,681 1036.4,681.1 1037.4,681.2 1038.4,681.3 1039.4,681.4 1040.4,681.5 1041.4,681.6 1042.4,681.8 1043.4,681.9 1044.4,682 1045.4,682.1 1046.4,682.2 1047.4,682.3 1048.4,682.4 1049.4,682.5 1050.4,682.6 1051.4,682.7 1052.4,682.8 1053.4,682.9 1054.4,683 1055.4,683.1 1056.4,683.2 1057.4,683.2 1058.4,683.3 1059.4,683.4 1060.4,683.5 1061.4,683.6 1062.4,683.7 1063.4,683.8 1064.4,683.9 1065.4,684 1066.4,684.1 1067.4,684.2 1068.4,684.3 1069.4,684.4 1070.4,684.5 1071.4,684.6 1072.4,684.7 1073.4,684.8 1074.4,684.9 1075.4,685 1076.4,685.1 1077.4,685.2 1078.4,685.3 1079.4,685.4 1080.4,685.5 1081.4,685.6 1082.4,685.7 1083.4,685.7 1084.4,685.8 1085.4,685.9 1086.4,686 1087.4,686.1 1088.4,686.1 1089.4,686.2 1090.4,686.3 1091.4,686.4 1092.4,686.4 1093.4,686.5 1094.4,686.6 1095.4,686.6 1096.4,686.7 1097.4,686.7 1098.4,686.8 1099.4,686.8 1100.4,686.9 1101.4,686.9 1102.4,687 1103.4,687 1104.4,687 1105.4,687.1 1106.4,687.1 1107.4,687.2 1108.4,687.2 1109.4,687.3 1110.4,687.3 1111.4,687.3 1112.4,687.4 1113.4,687.4 1114.4,687.4 1115.4,687.5 1116.4,687.5 1117.4,687.5 1118.4,687.6 1119.4,687.6 1120.4,687.6 1121.4,687.7 1122.4,687.7 1123.4,687.7 1124.4,687.8 1125.4,687.8 1126.4,687.8 1127.4,687.9 1128.4,687.9 1129.4,687.9 1130.4,687.9 1131.4,688 1132.4,688 1133.4,688 1134.4,688.1 1135.4,688.1 1136.4,688.1 1137.4,688.1 1138.4,688.2 1139.4,688.2 1140.4,688.2 1141.4,688.2 1142.4,688.3 1143.4,688.3 1144.4,688.3 1145.4,688.3 1146.4,688.4 1147.4,688.4 1148.4,688.4 1149.4,688.4 1150.4,688.5 1151.4,688.5 1152.4,688.5 1153.4,688.5 1154.4,688.5 1155.4,688.6 1156.4,688.6 1157.4,688.6 1158.4,688.6 1159.4,688.7 1160.4,688.7 1161.4,688.7 1162.4,688.7 1163.4,688.7 1164.4,688.8 1165.4,688.8 1166.4,688.8 1167.4,688.8 1168.4,688.8 1169.4,688.8 1170.4,688.9 1171.4,688.9 1172.4,688.9 1173.4,688.9 1174.4,688.9 1175.4,689 1176.4,689 1177.4,689 1178.4,689 1179.4,689 1180.4,689 1181.4,689.1 1182.4,689.1 1183.4,689.1 1184.4,689.1 1185.4,689.1 1186.4,689.1 1187.4,689.1 1188.4,689.2 1189.4,689.2 1190.4,689.2 1191.4,689.2 1192.4,689.2 1193.4,689.2 1194.4,689.2 1195.4,689.3 1196.4,689.3 1197.4,689.3 1198.4,689.3 1199.4,689.3 1200.4,689.3 1201.4,689.3 1202.4,689.4 1203.4,689.4 1204.4,689.4 1205.4,689.4 1206.4,689.4 1207.4,689.4 1208.4,689.4 1209.4,689.4 1210.4,689.5 1211.4,689.5 1212.4,689.5 1213.4,689.5 1214.4,689.5 1215.4,689.5 1216.4,689.5 1217.4,689.5 1218.4,689.5 1219.4,689.5 1220.4,689.5 1221.4,689.5 1222.4,689.5 1223.4,689.5 1224.4,689.5 1225.4,689.4 1226.4,689.4 1227.4,689.4 1228.4,689.3 1229.4,689.3 1230.4,689.3 1231.4,689.2 1232.4,689.2 1233.4,689.1 1234.4,689 1235.4,689 1236.4,688.9 1237.4,688.8 1238.4,688.8 1239.4,688.7 1240.4,688.6 1241.4,688.5 1242.4,688.5 1243.4,688.4 1244.4,688.3 1245.4,688.2 1246.4,688.1 1247.4,688 1248.4,687.9 1249.4,687.8 1250.4,687.7 1251.4,687.6 1252.4,687.5 1253.4,687.4 1254.4,687.3 1255.4,687.2 1256.4,687.1 1257.4,686.9 1258.4,686.8 1259.4,686.7 1259.5,686.7"/>
<polyline fill="none" stroke="#ffe860" stroke-width="1.6" points="830.7,628.3 845,632 856.6,634.6 862,633 866.5,631.5 870,634.5 874.2,638.7 882,644.5 890.8,650.1"/>
<polyline fill="none" stroke="#ff60ff" stroke-width="1.4" points="985,671 992,668.5 995,668.5 999,672"/>
<polyline fill="none" stroke="#ff6a6a" stroke-width="1.1" points="756,593.9 756.5,594.1 757,594.3 757.5,594.5 758,594.7 758.5,595 759,595.2 759.5,595.4 760,595.6 760.5,595.8 761,596 761.5,596.3 762,596.5 762.5,596.7 763,596.9 763.5,597.1 764,597.3 764.5,597.5 765,597.7 765.5,597.9 766,598.1 766.5,598.3 767,598.5 767.5,598.7 768,598.9 768.5,599 769,599.2 769.5,599.3 770,599.4 770.5,599.5 771,599.6 771.5,599.6 772,599.7 772.5,599.7 773,599.7 773.5,599.6 774,599.5 774.5,599.3 775,599.1 775.5,598.9 776,598.5 776.5,598.2 777,597.7 777.5,597.2 778,596.5 778.5,595.8 779,595 779.5,594.1 780,593.1 780.5,592 781,590.8 781.5,589.4 782,587.9 782.5,586.3 783,584.6 783.5,582.8 784,580.8 784.5,578.7 785,576.5 785.5,574.2 786,571.8 786.5,569.3 787,566.7 787.5,564.1 788,561.3 788.5,558.6 789,555.8 789.5,553 790,550.2 790.5,547.4 791,544.7 791.5,542 792,539.5 792.5,537 793,534.7 793.5,532.5 794,530.5 794.5,528.7 795,527.1 795.5,525.8 796,524.6 796.5,523.8 797,523.1 797.5,522.8 798,522.7 798.5,522.9 799,523.5 799.5,524.4 800,525.8 800.5,527.5 801,529.5 801.5,531.9 802,534.5 802.5,537.4 803,540.6 803.5,543.9 804,547.4 804.5,551 805,554.8 805.5,558.6 806,562.4 806.5,566.2 807,569.9 807.5,573.6 808,577.3 808.5,580.8 809,584.2 809.5,587.4 810,590.5 810.5,593.4 811,596.2 811.5,598.7 812,601.1 812.5,603.4 813,605.5 813.5,607.4 814,609.1 814.5,610.7 815,612.2 815.5,613.5 816,614.7 816.5,615.7 817,616.7 817.5,617.6 818,618.4 818.5,619.1 819,619.8 819.5,620.4 820,620.9 820.5,621.4 821,621.8 821.5,622.2"/>
<polyline fill="none" stroke="#40e040" stroke-width="1.4" stroke-linejoin="round"  points="772.4,556.5 773.4,553.1 774.4,550 775.4,547.3 776.4,545.2 777.4,543.1 778.4,541.2 779.4,540 780.4,539.6 781.4,539.7 782.4,539.9 783.4,540.2 784.4,540.6 785.4,541 786.4,541.5 787.4,542.1 788.4,542.7 789.4,543.3 790.4,543.9 791.4,544.5 792.4,545.1 793.4,545.8 794.4,546.4 795.4,547.2 796.4,548 797.4,548.8 798.4,549.7 799.4,550.6 800.4,551.5 801.4,552.5 802.4,553.6 803.4,554.6 804.4,555.7 805.4,556.9 806.4,558 807.4,559.2 808.4,560.4 809.4,561.7 810.4,563 811.4,564.3 812.4,565.6 813.4,566.9 814.4,568.3 815.4,569.7 816.4,571.3 817.4,573.1 818.4,575.1 819.4,577.1 820.4,579 821.4,580.9 822.4,582.5 823.4,583.9 824.4,585.2 825.4,586.3 826.4,587.4 827.4,588.4 828.4,589.4 829.4,590.4 830.4,591.3 831.4,592.2 832.4,593.1 833.4,594 834.4,594.9 835.4,595.9 836.4,596.9 837.4,597.9 838.4,598.8 839.4,599.8 840.4,600.7 841.4,601.6 842.4,602.6 843.4,603.5 844.4,604.5 845.4,605.5 846.4,606.5 847.4,607.6 848.4,608.7 849.4,609.9 850.4,611.2 851.4,612.6 852.4,614.1 853.4,615.6 854.4,617.1 855.4,618.5 856.4,619.8 857.4,620.9 858.4,622.1 859.4,623.3 860.4,624.4 861.4,625.6 862.4,626.7 863.4,627.7 864.4,628.8 865.4,629.8 866.4,630.8 867.4,631.7 868.4,632.6 869.4,633.5 870.4,634.3 871.4,635 872.4,635.7 873.4,636.4 874.4,637.1 875.4,637.7 876.4,638.3 877.4,639 878.4,639.6 879.4,640.1 880.4,640.7 881.4,641.3 882.4,641.8 883.4,642.4 884.4,642.9 885.4,643.4 886.4,644 887.4,644.5 888.4,645 889.4,645.4 890.4,645.9 891.4,646.4 892.4,646.8 893.4,647.3 894.4,647.7 895.4,648.1 896.4,648.6 897.4,649 898.4,649.4 899.4,649.8 900.4,650.2 901.4,650.6 902.4,651 903.4,651.3 904.4,651.7 905.4,652.1 906.4,652.4 907.4,652.8 908.4,653.1 909.4,653.5 910.4,653.8 911.4,654.2 912.4,654.5 913.4,654.8 914.4,655.1 915.4,655.4 916.4,655.7 917.4,656 918.4,656.3 919.4,656.6 920.4,656.9 921.4,657.1 922.4,657.4 923.4,657.6 924.4,657.9 925.4,658.2 926.4,658.4 927.4,658.7 928.4,658.9 929.4,659.2 930.4,659.4 931.4,659.7 932.4,660 933.4,660.2 934.4,660.5 935.4,660.8 936.4,661 937.4,661.3 938.4,661.6 939.4,661.9 940.4,662.2 941.4,662.5 942.4,662.7 943.4,663 944.4,663.3 945.4,663.6 946.4,663.9 947.4,664.2 948.4,664.5 949.4,664.8 950.4,665.1 951.4,665.3 952.4,665.6 953.4,665.9 954.4,666.1 955.4,666.4 956.4,666.7 957.4,666.9 958.4,667.1 959.4,667.4 960.4,667.6 961.4,667.8 962.4,668 963.4,668.2 964.4,668.4 965.4,668.6 966.4,668.8 967.4,669 968.4,669.2 969.4,669.4 970.4,669.5 971.4,669.7 972.4,669.9 973.4,670.1 974.4,670.2 975.4,670.4 976.4,670.6 977.4,670.7 978.4,670.9 979.4,671.1 980.4,671.2 981.4,671.4 982.4,671.6 983.4,671.7 984.4,671.9 985.4,672 986.4,672.2 987.4,672.4 988.4,672.5 989.4,672.7 990.4,672.9 991.4,673.1 992.4,673.2 993.4,673.4 994.4,673.6 995.4,673.8 996.4,674 997.4,674.1 998.4,674.3 999.4,674.5 1000.4,674.7 1001.4,674.9 1002.4,675.1 1003.4,675.3 1004.4,675.5 1005.4,675.6 1006.4,675.8 1007.4,676 1008.4,676.2 1009.4,676.4 1010.4,676.6 1011.4,676.8 1012.4,677 1013.4,677.2 1014.4,677.4 1015.4,677.6 1016.4,677.8 1017.4,677.9 1018.4,678.1 1019.4,678.3 1020.4,678.5 1021.4,678.7 1022.4,678.9 1023.4,679.1 1024.4,679.3 1024.8,679.4"/>
<polyline fill="none" stroke="#ff1a1a" stroke-width="1.0" stroke-linejoin="round" points="714.8,567.2 715.3,567.8 715.8,567.7 716.3,569.6 716.8,575.1 717.3,567.3 717.8,574.1 718.3,575.1 718.8,571.1 719.3,570.3 719.8,573.6 720.3,575.7 720.8,578.3 721.3,575.2 721.8,577.2 722.3,572.1 722.8,571.2 723.3,569.2 723.8,570.9 724.3,573.2 724.8,574.8 725.3,571.2 725.8,576.9 726.3,574.8 726.8,573.6 727.3,573.5 727.8,581 728.3,576.4 728.8,573.9 729.3,574 729.8,581.5 730.3,575.5 730.8,580.3 731.3,581.2 731.8,571.7 732.3,581.6 732.8,577.8 733.3,575.8 733.8,577.4 734.3,580.6 734.8,580.4 735.3,580.8 735.8,578.1 736.3,583.6 736.8,584.4 737.3,585.6 737.8,583.7 738.3,586.3 738.8,587.1 739.3,583.8 739.8,584.6 740.3,584.1 740.8,584.4 741.3,585.6 741.8,579.3 742.3,583.4 742.8,585.9 743.3,579.7 743.8,581.9 744.3,590.3 744.8,583.9 745.3,586 745.8,588.6 746.3,586.9 746.8,586.3 747.3,587.6 747.8,588.2 748.3,588.1 748.8,590.3 749.3,594.2 749.8,591.1 750.3,594.4 750.8,592.1 751.3,592.3 751.8,591.5 752.3,589.1 752.8,590.8 753.3,590.3 753.8,586.3 754.3,590.9 754.8,590.2 755.3,589.3 755.8,586.5 756.3,580.8 756.8,591.1 757.3,586.7 757.8,580.9 758.3,587.8 758.8,583.9 759.3,587 759.8,584.4 760.3,587 760.8,584.1 761.3,583.5 761.8,582.4 762.3,584.5 762.8,577.1 763.3,582.6 763.8,580.5 764.3,576.3 764.8,576.8 765.3,574.7 765.8,575 766.3,576.2 766.8,570.7 767.3,573 767.8,572 768.3,569.6 768.8,570.3 769.3,564.2 769.8,564.4 770.3,567.2 770.8,558.9 771.3,556.6 771.8,555.1 772.3,554.9 772.8,550 773.3,549.3 773.8,543.8 774.3,544.2 774.8,542.9 775.3,541.2 775.8,541.8 776.3,543.4 776.8,539.4 777.3,535.6 777.8,538.4 778.3,536.8 778.8,531.3 779.3,533.9 779.8,529.1 780.3,528.6 780.8,526.5 781.3,528.6 781.8,522.3 782.3,521.5 782.8,520.6 783.3,520.5 783.8,518.5 784.3,510.5 784.8,513.8 785.3,509.2 785.8,509.2 786.3,506.5 786.8,500.2 787.3,499.5 787.8,496.4 788.3,495.9 788.8,497 789.3,490.6 789.8,486.5 790.3,492.7 790.8,481.3 791.3,481.7 791.8,479.5 792.3,474 792.8,477.3 793.3,475.8 793.8,470.8 794.3,469.1 794.8,466.5 795.3,460.3 795.8,463.4 796.3,457.4 796.8,455.4 797.3,456.9 797.8,458.1 798.3,455.2 798.8,463.1 799.3,467 799.8,464.7 800.3,465.7 800.8,468.2 801.3,468.4 801.8,469.3 802.3,475.7 802.8,479.1 803.3,479.7 803.8,484.3 804.3,488.3 804.8,493 805.3,497.2 805.8,500.5 806.3,511.4 806.8,512.9 807.3,519.1 807.8,528.6 808.3,527.8 808.8,535.3 809.3,534.7 809.8,540.5 810.3,547.3 810.8,548 811.3,548 811.8,550.7 812.3,558.3 812.8,557.6 813.3,564.2 813.8,565.4 814.3,565.8 814.8,568.1 815.3,571.6 815.8,570.9 816.3,569.6 816.8,573.9 817.3,573.2 817.8,574.4 818.3,577.3 818.8,577.5 819.3,580.1 819.8,577.7 820.3,577.7 820.8,578.7 821.3,581.2 821.8,578.8 822.3,580.6 822.8,580 823.3,580.8 823.8,582.9 824.3,590.2 824.8,583.6 825.3,585.8 825.8,585.9 826.3,585.8 826.8,586.8 827.3,592.2 827.8,587.1 828.3,592.3 828.8,590.4 829.3,587 829.8,588 830.3,589 830.8,587.8 831.3,594 831.8,592.6 832.3,593.3 832.8,589.8 833.3,594.1 833.8,592 834.3,600 834.8,594.1 835.3,595.5 835.8,596.3 836.3,594.6 836.8,595.3 837.3,595.8 837.8,599.5 838.3,596 838.8,598 839.3,599.7 839.8,598.4 840.3,596.5 840.8,597.5 841.3,599.9 841.8,599.1 842.3,604.5 842.8,602.6 843.3,603 843.8,601 844.3,605.4 844.8,603.7 845.3,602.6 845.8,603.9 846.3,612 846.8,604.9 847.3,604.7 847.8,610.3 848.3,609.6 848.8,607.5 849.3,612.1 849.8,605.3 850.3,608.2 850.8,605.6 851.3,613.6 851.8,610.6 852.3,617.4 852.8,612.4 853.3,612.8 853.8,609.1 854.3,609.3 854.8,611.4 855.3,615.2 855.8,610.6 856.3,607.5 856.8,615.9 857.3,616.3 857.8,612 858.3,615.6 858.8,617.5 859.3,617.8 859.8,611.1 860.3,615.4 860.8,613.5 861.3,618 861.8,616 862.3,612.9 862.8,616.5 863.3,618 863.8,612.8 864.3,613.6 864.8,615.6 865.3,617 865.8,616.8 866.3,614.2 866.8,615.5 867.3,620 867.8,621.9 868.3,619.4 868.8,622.9 869.3,628.1 869.8,623.6 870.3,623.9 870.8,624 871.3,627.8 871.8,628.1 872.3,628.9 872.8,628.1 873.3,630.8 873.8,631.4 874.3,630.6 874.8,634.5 875.3,628 875.8,634.3 876.3,632.6 876.8,635.4 877.3,638.5 877.8,634.2 878.3,634 878.8,634.8 879.3,638.7 879.8,639.5 880.3,636.3 880.8,637.9 881.3,641.2 881.8,638.4 882.3,633.6 882.8,635.7 883.3,636.9 883.8,639.6 884.3,637.5 884.8,642.9 885.3,638.5 885.8,644.2 886.3,638.9 886.8,644.4 887.3,641.9 887.8,645.4 888.3,647.2 888.8,647.1 889.3,645.7 889.8,641.6 890.3,641.8 890.8,636.2 891.3,648.5 891.8,648.4 892.3,648.1 892.8,643 893.3,653.4 893.8,645 894.3,649.3 894.8,643.3 895.3,646.3 895.8,651.4 896.3,651.2 896.8,646.2 897.3,649.1 897.8,652.5 898.3,645.2 898.8,652.3 899.3,646.6 899.8,652.5 900.3,650.7 900.8,652.9 901.3,650.9 901.8,651.4 902.3,651.7 902.8,651 903.3,652.2 903.8,651.3 904.3,652.2 904.8,654.2 905.3,652.9 905.8,655.2 906.3,654.8 906.8,655.1 907.3,652.3 907.8,654.7 908.3,656.4 908.8,655.7 909.3,656.3 909.8,656.8 910.3,652.4 910.8,655.6 911.3,655.7 911.8,654.7 912.3,653.1 912.8,655.4 913.3,655 913.8,658.2 914.3,657.4 914.8,654.9 915.3,654 915.8,654.3 916.3,655.6 916.8,654.7 917.3,658.7 917.8,654.1 918.3,655.8 918.8,656.2 919.3,656.6 919.8,654.6 920.3,655.7 920.8,656.3 921.3,656.6 921.8,655.2 922.3,655.7 922.8,656.5 923.3,659 923.8,654.4 924.3,657.2 924.8,658.6 925.3,654.2 925.8,658.4 926.3,658.4 926.8,656.4 927.3,657.7 927.8,658.5 928.3,656.1 928.8,656.7 929.3,654.8 929.8,655.4 930.3,656.5 930.8,656.3 931.3,658.8 931.8,656.1 932.3,654.7 932.8,657.8 933.3,657.9 933.8,657.1 934.3,656.3 934.8,655.4 935.3,655.6 935.8,658.9 936.3,657.8 936.8,656.8 937.3,657.3 937.8,656.3 938.3,655.5 938.8,656.3 939.3,657 939.8,654.7 940.3,655.1 940.8,654.9 941.3,656.9 941.8,658.6 942.3,655.9 942.8,656.4 943.3,655.8 943.8,657.7 944.3,656.8 944.8,657.3 945.3,657.4 945.8,662.6 946.3,659.3 946.8,658.7 947.3,659.2 947.8,661.4 948.3,661.8 948.8,661 949.3,657.9 949.8,662.5 950.3,662.9 950.8,662.7 951.3,662.5 951.8,662.1 952.3,664 952.8,662 953.3,664.2 953.8,662.2 954.3,662.6 954.8,662.7 955.3,662.7 955.8,663 956.3,665 956.8,666.4 957.3,663.2 957.8,662.9 958.3,666.4 958.8,664.2 959.3,665.2 959.8,665.1 960.3,666.4 960.8,663.8 961.3,666.9 961.8,666.5 962.3,662.1 962.8,665.2 963.3,664.9 963.8,666.2 964.3,665.6 964.8,664.6 965.3,665.3 965.8,666.4 966.3,666 966.8,665.8 967.3,669.4 967.8,666.9 968.3,664.5 968.8,666.4 969.3,666.8 969.8,664.9 970.3,666.6 970.8,665.2 971.3,663.2 971.8,667.1 972.3,667.6 972.8,667.6 973.3,666.5 973.8,665.9 974.3,667.2 974.8,667.5 975.3,668.3 975.8,669 976.3,668.3 976.8,666.3 977.3,667.1 977.8,665.2 978.3,668.4 978.8,668.2 979.3,669.2 979.8,668.2 980.3,669.9 980.8,666.6 981.3,668.2 981.8,667.4 982.3,667.5 982.8,665.2 983.3,666.8 983.8,665 984.3,667.5 984.8,667 985.3,668.3 985.8,665.5 986.3,667.4 986.8,667.9 987.3,664.9 987.8,670.8 988.3,669.1 988.8,667.4 989.3,671.3 989.8,670.6 990.3,665 990.8,668.3 991.3,667.9 991.8,668.9 992.3,667.5 992.8,668.6 993.3,669.2 993.8,665.5 994.3,669.4 994.8,671.4 995.3,669.6 995.8,671.3 996.3,672 996.8,670.2 997.3,670.5 997.8,670.7 998.3,669.6 998.8,673.7 999.3,671.1 999.8,671.5 1000.3,672.2 1000.8,673.2 1001.3,669.1 1001.8,669.8 1002.3,671.7 1002.8,672.4 1003.3,670 1003.8,670 1004.3,673.4 1004.8,673.5 1005.3,672.2 1005.8,672.4 1006.3,672 1006.8,671.4 1007.3,672.1 1007.8,673.8 1008.3,673.5 1008.8,675.4 1009.3,672.2 1009.8,671.8 1010.3,675.4 1010.8,673.3 1011.3,674.5 1011.8,675.2 1012.3,673.5 1012.8,673.2 1013.3,676.1 1013.8,671.9 1014.3,677 1014.8,673.6 1015.3,677.7 1015.8,677.1 1016.3,677.2 1016.8,677.7 1017.3,677.4 1017.8,675.3 1018.3,678.8 1018.8,677.9 1019.3,678.5 1019.8,677.8 1020.3,677.8 1020.8,679.7 1021.3,679.8 1021.8,678.9 1022.3,676.9 1022.8,677.4 1023.3,677.4 1023.8,680.7 1024.3,679.9 1024.8,679.3 1025.3,679.1 1025.8,678.3 1026.3,680.7 1026.8,678 1027.3,678.4 1027.8,681 1028.3,680.8 1028.8,679.8 1029.3,678.1 1029.8,678.2 1030.3,681.4 1030.8,680.7 1031.3,682.5 1031.8,679.6 1032.3,680.3 1032.8,679.1 1033.3,683 1033.8,678.1 1034.3,681.6 1034.8,683.1 1035.3,679.4 1035.8,678.7 1036.3,679.4 1036.8,678.8 1037.3,681.5 1037.8,680.9 1038.3,679.7 1038.8,680.7 1039.3,683.5 1039.8,680.9 1040.3,680.7 1040.8,684.3 1041.3,680.1 1041.8,680.8 1042.3,683.7 1042.8,681.6 1043.3,678.7 1043.8,680.3 1044.3,678.3 1044.8,680.7 1045.3,682.2 1045.8,679.3 1046.3,684.1 1046.8,683.8 1047.3,683.1 1047.8,680.9 1048.3,682 1048.8,682.9 1049.3,683.5 1049.8,684 1050.3,678.9 1050.8,681.2 1051.3,680.5 1051.8,681.8 1052.3,682.7 1052.8,685.8 1053.3,682.3 1053.8,683.8 1054.3,682.7 1054.8,682.5 1055.3,685.2 1055.8,681 1056.3,683.7 1056.8,685.9 1057.3,688 1057.8,682.1 1058.3,681.5 1058.8,681.1 1059.3,682.4 1059.8,683 1060.3,683.1 1060.8,684.8 1061.3,682.7 1061.8,683.7 1062.3,680.8 1062.8,682.3 1063.3,683.2 1063.8,679.9 1064.3,683.7 1064.8,684.9 1065.3,683.7 1065.8,684 1066.3,683.7 1066.8,682 1067.3,683.9 1067.8,683 1068.3,684 1068.8,684.1 1069.3,684.2 1069.8,682.1 1070.3,684 1070.8,686.8 1071.3,685.6 1071.8,683.9 1072.3,683.2 1072.8,685.9 1073.3,684.4 1073.8,681.8 1074.3,683.8 1074.8,687.1 1075.3,682.1 1075.8,684.8 1076.3,683.6 1076.8,684.7 1077.3,684.2 1077.8,683.5 1078.3,681 1078.8,684.6 1079.3,685 1079.8,684.8 1080.3,683.5 1080.8,684.2 1081.3,688.5 1081.8,683.5 1082.3,684.8 1082.8,683.4 1083.3,685 1083.8,685.8 1084.3,687.3 1084.8,685.8 1085.3,685.5 1085.8,686.1 1086.3,686.5 1086.8,685.6 1087.3,685.7 1087.8,687.6 1088.3,684.7 1088.8,685.7 1089.3,684.5 1089.8,685.1 1090.3,688.2 1090.8,684.9 1091.3,686.8 1091.8,689.2 1092.3,686.9 1092.8,685.9 1093.3,685 1093.8,682.4 1094.3,684.8 1094.8,684.9 1095.3,687.7 1095.8,687.3 1096.3,684.4 1096.8,687.3 1097.3,685.4 1097.8,689.2 1098.3,688.7 1098.8,687.5 1099.3,685.9 1099.8,689.2 1100.3,687.9 1100.8,688.4 1101.3,687.5 1101.8,686.3 1102.3,687.9 1102.8,685.5 1103.3,688 1103.8,687.1 1104.3,684.3 1104.8,687.6 1105.3,686.8 1105.8,686.3 1106.3,686.8 1106.8,688.1 1107.3,685.2 1107.8,685.4 1108.3,688.1 1108.8,687.3 1109.3,684.4 1109.8,687.2 1110.3,684.5 1110.8,688.1 1111.3,687.5 1111.8,687.8 1112.3,684.8 1112.8,685.9 1113.3,688.4 1113.8,685 1114.3,687.9 1114.8,686.8 1115.3,687.4 1115.8,685.9 1116.3,688.1 1116.8,687.8 1117.3,688.5 1117.8,691 1118.3,687 1118.8,687.4 1119.3,685.7 1119.8,690 1120.3,686.8 1120.8,688.6 1121.3,685.7 1121.8,687.1 1122.3,688.4 1122.8,688.2 1123.3,687.1 1123.8,688.9 1124.3,687.7 1124.8,689.2 1125.3,687.2 1125.8,688.6 1126.3,686.9 1126.8,689.6 1127.3,687.7 1127.8,687.8 1128.3,686.9 1128.8,689.3 1129.3,688 1129.8,687.4 1130.3,689.8 1130.8,686.6 1131.3,689.3 1131.8,690.1 1132.3,685.2 1132.8,689.2 1133.3,688.7 1133.8,688.2 1134.3,688.4 1134.8,686 1135.3,688.6 1135.8,688.2 1136.3,685.7 1136.8,687.6 1137.3,686.1 1137.8,688.1 1138.3,686.6 1138.8,688.1 1139.3,685.8 1139.8,687.2 1140.3,687.4 1140.8,687.7 1141.3,689.7 1141.8,691.3 1142.3,685.7 1142.8,689.3 1143.3,687.6 1143.8,687.6 1144.3,687.6 1144.8,687.9 1145.3,688 1145.8,689.4 1146.3,690 1146.8,688.7 1147.3,688.2 1147.8,689 1148.3,688.8 1148.8,690.9 1149.3,686.8 1149.8,686.2 1150.3,687.8 1150.8,688.7 1151.3,687.9 1151.8,688.6 1152.3,684.4 1152.8,687.1 1153.3,687.2 1153.8,686.2 1154.3,687.3 1154.8,687.9 1155.3,688.8 1155.8,686.9 1156.3,685.8 1156.8,688.8 1157.3,691.1 1157.8,688.5 1158.3,688.4 1158.8,686.8 1159.3,688.6 1159.8,690.6 1160.3,685.4 1160.8,689.8 1161.3,685.4 1161.8,690.5 1162.3,689.6 1162.8,687.9 1163.3,688.8 1163.8,690.9 1164.3,686.8 1164.8,690.2 1165.3,689.3 1165.8,688.5 1166.3,690.6 1166.8,686.1 1167.3,688.3 1167.8,686.8 1168.3,688.5 1168.8,689.3 1169.3,686.2 1169.8,689 1170.3,689 1170.8,687.7 1171.3,688.5 1171.8,690.2 1172.3,689.1 1172.8,691 1173.3,687.1 1173.8,686.8 1174.3,690.4 1174.8,686.7 1175.3,690.5 1175.8,688.7 1176.3,689.7 1176.8,688.2 1177.3,690.3 1177.8,690.7 1178.3,690.5 1178.8,689.5 1179.3,686.8 1179.8,690.2 1180.3,688.9 1180.8,690.8 1181.3,686.6 1181.8,689.5 1182.3,688.2 1182.8,688.8 1183.3,690.1 1183.8,690.1 1184.3,691 1184.8,689.6 1185.3,689.7 1185.8,689.4 1186.3,687.2 1186.8,690.5 1187.3,687.7 1187.8,688.2 1188.3,689.6 1188.8,688 1189.3,688.3 1189.8,685.3 1190.3,687.7 1190.8,687.3 1191.3,688 1191.8,689.8 1192.3,688.6 1192.8,688.8 1193.3,689.2 1193.8,690.5 1194.3,690.6 1194.8,689.6 1195.3,688.7 1195.8,690.4 1196.3,688.6 1196.8,688.8 1197.3,689.5 1197.8,688.4 1198.3,687.5 1198.8,687.3 1199.3,688.7 1199.8,689.5 1200.3,690.1 1200.8,688 1201.3,689.5 1201.8,689.2 1202.3,688.6 1202.8,692.9 1203.3,688.2 1203.8,688 1204.3,689.5 1204.8,691.5 1205.3,688.8 1205.8,691.2 1206.3,687.8 1206.8,688.7 1207.3,689.1 1207.8,689 1208.3,689.4 1208.8,689.2 1209.3,689.1 1209.8,688 1210.3,690.1 1210.8,689.5 1211.3,689.8 1211.8,691.2 1212.3,690.2 1212.8,689.8 1213.3,691.5 1213.8,688.9 1214.3,687.3 1214.8,688.7 1215.3,687.8 1215.8,689.2 1216.3,689.2 1216.8,689.4 1217.3,689.9 1217.8,690.4 1218.3,690.2 1218.8,689.7 1219.3,689.1 1219.8,688.8 1220.3,689.5 1220.8,689.1 1221.3,687.9 1221.8,688.9 1222.3,690.5 1222.8,689.5 1223.3,688.3 1223.8,689.8 1224.3,690.3 1224.8,687.9 1225.3,691.8 1225.8,691 1226.3,689.2 1226.8,691 1227.3,689.8 1227.8,690.3 1228.3,688.1 1228.8,688.7 1229.3,689 1229.8,689.2 1230.3,688.6 1230.8,687 1231.3,687.7 1231.8,689.8 1232.3,688.6 1232.8,691.5 1233.3,691 1233.8,688.7 1234.3,689.3 1234.8,686.4 1235.3,689.9 1235.8,690.5 1236.3,687.8 1236.8,687.8 1237.3,688 1237.8,689.8 1238.3,690.2 1238.8,687.3 1239.3,688.1 1239.8,689.4 1240.3,688.9 1240.8,688.1 1241.3,689.2 1241.8,687.2 1242.3,686.3 1242.8,689.2 1243.3,689.4 1243.8,690.1 1244.3,687.8 1244.8,687 1245.3,688.3 1245.8,688 1246.3,688.2 1246.8,687.9 1247.3,689.8 1247.8,688.4 1248.3,689.8 1248.8,686.8 1249.3,686.4 1249.8,689 1250.3,686 1250.8,686 1251.3,686 1251.8,684.9 1252.3,688.1 1252.8,689.8 1253.3,688.1 1253.8,688.5 1254.3,686.7 1254.8,685.8 1255.3,687.9 1255.8,685.4 1256.3,684.8 1256.8,685.7 1257.3,688.4 1257.8,687.3 1258.3,686.4 1258.8,685.2 1259.3,685.3"/>
<polyline fill="none" stroke="#301818" stroke-width="1.1" stroke-linejoin="round"  points="714.8,570.8 715.8,571.1 716.8,571.4 717.8,571.7 718.8,572 719.8,572.3 720.8,572.7 721.8,573.1 722.8,573.5 723.8,573.9 724.8,574.3 725.8,574.8 726.8,575.3 727.8,575.7 728.8,576.2 729.8,576.7 730.8,577.2 731.8,577.8 732.8,578.3 733.8,578.9 734.8,579.4 735.8,580 736.8,580.5 737.8,581.1 738.8,581.7 739.8,582.3 740.8,582.9 741.8,583.7 742.8,584.7 743.8,585.7 744.8,586.7 745.8,587.6 746.8,588.5 747.8,589.3 748.8,589.8 749.8,590.1 750.8,590.2 751.8,590 752.8,589.7 753.8,589.2 754.8,588.7 755.8,588 756.8,587.3 757.8,586.5 758.8,585.7 759.8,584.7 760.8,583.5 761.8,582 762.8,580.4 763.8,578.7 764.8,576.8 765.8,574.8 766.8,572.5 767.8,569.5 768.8,566.2 769.8,562.6 770.8,558.8 771.8,555.1 772.8,551.6 773.8,548.4 774.8,545.6 775.8,542.9 776.8,540.4 777.8,537.7 778.8,535 779.8,531.9 780.8,528.4 781.8,524.5 782.8,520.1 783.8,515.5 784.8,510.7 785.8,506.1 786.8,501.6 787.8,497.1 788.8,492.7 789.8,488.3 790.8,483.9 791.8,479.5 792.8,475.2 793.8,471 794.8,466.9 795.8,462.8 796.8,457.9 797.8,455.7 798.8,460.1 799.8,464.2 800.8,467.6 801.8,471.6 802.8,477.2 803.8,485.3 804.8,494.8 805.8,504.5 806.8,513.8 807.8,524 808.8,533.8 809.8,542.1 810.8,548.7 811.8,554.7 812.8,560.1 813.8,564.7 814.8,568.3 815.8,570.9 816.8,573.1 817.8,575 818.8,576.7 819.8,578.2 820.8,579.6 821.8,580.9 822.8,582.1 823.8,583.4 824.8,584.6 825.8,585.7 826.8,586.8 827.8,587.8 828.8,588.7 829.8,589.7 830.8,590.6 831.8,591.5 832.8,592.4 833.8,593.4 834.8,594.3 835.8,595.3 836.8,596.3 837.8,597.3 838.8,598.4 839.8,599.4 840.8,600.5 841.8,601.5 842.8,602.6 843.8,603.6 844.8,604.6 845.8,605.6 846.8,606.5 847.8,607.4 848.8,608.2 849.8,609 850.8,609.8 851.8,610.6 852.8,611.3 853.8,612 854.8,612.7 855.8,613.3 856.8,613.9 857.8,614.4 858.8,614.8 859.8,615.2 860.8,615.6 861.8,616 862.8,616.4 863.8,617 864.8,617.6 865.8,618.5 866.8,619.8 867.8,621.2 868.8,622.8 869.8,624.4 870.8,626.1 871.8,627.7 872.8,629.2 873.8,630.6 874.8,631.7 875.8,632.6 876.8,633.4 877.8,634.2 878.8,634.9 879.8,635.6 880.8,636.3 881.8,637.1 882.8,637.8 883.8,638.6 884.8,639.4 885.8,640.2 886.8,641 887.8,641.8 888.8,642.6 889.8,643.4 890.8,644.2 891.8,645 892.8,645.8 893.8,646.6 894.8,647.3 895.8,648.1 896.8,648.8 897.8,649.5 898.8,650.1 899.8,650.8 900.8,651.3 901.8,651.9 902.8,652.4 903.8,652.8 904.8,653.2 905.8,653.6 906.8,653.8 907.8,654.1 908.8,654.3 909.8,654.5 910.8,654.8 911.8,655 912.8,655.1 913.8,655.3 914.8,655.5 915.8,655.6 916.8,655.7 917.8,655.8 918.8,655.9 919.8,656 920.8,656 921.8,656.1 922.8,656.1 923.8,656.2 924.8,656.2 925.8,656.2 926.8,656.2 927.8,656.2 928.8,656.3 929.8,656.3 930.8,656.3 931.8,656.3 932.8,656.4 933.8,656.4 934.8,656.4 935.8,656.5 936.8,656.5 937.8,656.6 938.8,656.8 939.8,657 940.8,657.3 941.8,657.6 942.8,658 943.8,658.4 944.8,658.8 945.8,659.2 946.8,659.7 947.8,660.1 948.8,660.6 949.8,661.1 950.8,661.5 951.8,662 952.8,662.5 953.8,662.9 954.8,663.3 955.8,663.7 956.8,664.1 957.8,664.4 958.8,664.7 959.8,664.9 960.8,665.1 961.8,665.3 962.8,665.4 963.8,665.6 964.8,665.7 965.8,665.9 966.8,666 967.8,666.1 968.8,666.2 969.8,666.3 970.8,666.5 971.8,666.6 972.8,666.7 973.8,666.8 974.8,666.9 975.8,667 976.8,667.1 977.8,667.2 978.8,667.4 979.8,667.5 980.8,667.6 981.8,667.7 982.8,667.8 983.8,668 984.8,668.1 985.8,668.2 986.8,668.3 987.8,668.4 988.8,668.5 989.8,668.7 990.8,668.8 991.8,668.9 992.8,669.1 993.8,669.2 994.8,669.4 995.8,669.6 996.8,669.8 997.8,670.1 998.8,670.4 999.8,670.7 1000.8,671 1001.8,671.3 1002.8,671.7 1003.8,672 1004.8,672.4 1005.8,672.8 1006.8,673.2 1007.8,673.6 1008.8,674 1009.8,674.4 1010.8,674.8 1011.8,675.2 1012.8,675.6 1013.8,676 1014.8,676.4 1015.8,676.8 1016.8,677.1 1017.8,677.5 1018.8,677.8 1019.8,678.1 1020.8,678.4 1021.8,678.7 1022.8,678.9 1023.8,679.1 1024.8,679.3 1025.8,679.5 1026.8,679.6 1027.8,679.8 1028.8,679.9 1029.8,680.1 1030.8,680.2 1031.8,680.3 1032.8,680.4 1033.8,680.6 1034.8,680.7 1035.8,680.8 1036.8,680.9 1037.8,681 1038.8,681.1 1039.8,681.2 1040.8,681.3 1041.8,681.4 1042.8,681.5 1043.8,681.6 1044.8,681.7 1045.8,681.8 1046.8,681.9 1047.8,682 1048.8,682.1 1049.8,682.2 1050.8,682.3 1051.8,682.3 1052.8,682.4 1053.8,682.5 1054.8,682.6 1055.8,682.7 1056.8,682.8 1057.8,682.9 1058.8,683 1059.8,683.1 1060.8,683.2 1061.8,683.3 1062.8,683.4 1063.8,683.5 1064.8,683.6 1065.8,683.7 1066.8,683.8 1067.8,683.9 1068.8,684 1069.8,684.1 1070.8,684.2 1071.8,684.3 1072.8,684.4 1073.8,684.5 1074.8,684.6 1075.8,684.7 1076.8,684.8 1077.8,684.9 1078.8,685 1079.8,685.1 1080.8,685.2 1081.8,685.3 1082.8,685.4 1083.8,685.5 1084.8,685.6 1085.8,685.7 1086.8,685.8 1087.8,685.9 1088.8,685.9 1089.8,686 1090.8,686.1 1091.8,686.2 1092.8,686.2 1093.8,686.3 1094.8,686.4 1095.8,686.4 1096.8,686.5 1097.8,686.5 1098.8,686.6 1099.8,686.6 1100.8,686.7 1101.8,686.7 1102.8,686.8 1103.8,686.8 1104.8,686.9 1105.8,686.9 1106.8,687 1107.8,687 1108.8,687 1109.8,687.1 1110.8,687.1 1111.8,687.2 1112.8,687.2 1113.8,687.2 1114.8,687.3 1115.8,687.3 1116.8,687.3 1117.8,687.4 1118.8,687.4 1119.8,687.4 1120.8,687.5 1121.8,687.5 1122.8,687.5 1123.8,687.6 1124.8,687.6 1125.8,687.6 1126.8,687.6 1127.8,687.7 1128.8,687.7 1129.8,687.7 1130.8,687.8 1131.8,687.8 1132.8,687.8 1133.8,687.8 1134.8,687.9 1135.8,687.9 1136.8,687.9 1137.8,687.9 1138.8,688 1139.8,688 1140.8,688 1141.8,688 1142.8,688.1 1143.8,688.1 1144.8,688.1 1145.8,688.1 1146.8,688.2 1147.8,688.2 1148.8,688.2 1149.8,688.2 1150.8,688.3 1151.8,688.3 1152.8,688.3 1153.8,688.3 1154.8,688.4 1155.8,688.4 1156.8,688.4 1157.8,688.4 1158.8,688.4 1159.8,688.5 1160.8,688.5 1161.8,688.5 1162.8,688.5 1163.8,688.5 1164.8,688.6 1165.8,688.6 1166.8,688.6 1167.8,688.6 1168.8,688.6 1169.8,688.7 1170.8,688.7 1171.8,688.7 1172.8,688.7 1173.8,688.7 1174.8,688.7 1175.8,688.8 1176.8,688.8 1177.8,688.8 1178.8,688.8 1179.8,688.8 1180.8,688.8 1181.8,688.9 1182.8,688.9 1183.8,688.9 1184.8,688.9 1185.8,688.9 1186.8,688.9 1187.8,688.9 1188.8,689 1189.8,689 1190.8,689 1191.8,689 1192.8,689 1193.8,689 1194.8,689.1 1195.8,689.1 1196.8,689.1 1197.8,689.1 1198.8,689.1 1199.8,689.1 1200.8,689.1 1201.8,689.2 1202.8,689.2 1203.8,689.2 1204.8,689.2 1205.8,689.2 1206.8,689.2 1207.8,689.2 1208.8,689.2 1209.8,689.2 1210.8,689.3 1211.8,689.3 1212.8,689.3 1213.8,689.3 1214.8,689.3 1215.8,689.3 1216.8,689.3 1217.8,689.3 1218.8,689.3 1219.8,689.3 1220.8,689.3 1221.8,689.3 1222.8,689.3 1223.8,689.3 1224.8,689.2 1225.8,689.2 1226.8,689.2 1227.8,689.2 1228.8,689.1 1229.8,689.1 1230.8,689 1231.8,689 1232.8,688.9 1233.8,688.9 1234.8,688.8 1235.8,688.8 1236.8,688.7 1237.8,688.6 1238.8,688.5 1239.8,688.5 1240.8,688.4 1241.8,688.3 1242.8,688.2 1243.8,688.1 1244.8,688 1245.8,687.9 1246.8,687.9 1247.8,687.8 1248.8,687.7 1249.8,687.6 1250.8,687.5 1251.8,687.4 1252.8,687.2 1253.8,687.1 1254.8,687 1255.8,686.9 1256.8,686.8 1257.8,686.7 1258.8,686.6 1259.5,686.5"/>
<circle cx="714.8" cy="570.8" r="1.8" fill="#0c1890"/>
<circle cx="750.4" cy="590.2" r="1.8" fill="#0c1890"/>
<circle cx="907" cy="653.9" r="1.8" fill="#0c1890"/>
<circle cx="1024.8" cy="679.3" r="1.8" fill="#0c1890"/>
<circle cx="1070.5" cy="684.6" r="1.8" fill="#0c1890"/>
<circle cx="1097.1" cy="686.5" r="1.8" fill="#0c1890"/>
<circle cx="1136.1" cy="687.9" r="1.8" fill="#0c1890"/>
<circle cx="1184.7" cy="688.9" r="1.8" fill="#0c1890"/>
<circle cx="1220.2" cy="689.3" r="1.8" fill="#0c1890"/>
<circle cx="1259.5" cy="686.5" r="1.8" fill="#0c1890"/>
<line x1="714.5" y1="700.8" x2="714.5" y2="703.3" stroke="#999" stroke-width="1.2" />
<line x1="730.1" y1="700.8" x2="730.1" y2="703.3" stroke="#999" stroke-width="1.2" />
<line x1="745.7" y1="700.8" x2="745.7" y2="703.3" stroke="#999" stroke-width="1.2" />
<line x1="761.3" y1="700.8" x2="761.3" y2="703.3" stroke="#999" stroke-width="1.2" />
<line x1="776.8" y1="700.8" x2="776.8" y2="703.3" stroke="#999" stroke-width="1.2" />
<line x1="792.4" y1="700.8" x2="792.4" y2="703.3" stroke="#999" stroke-width="1.2" />
<line x1="808" y1="700.8" x2="808" y2="703.3" stroke="#999" stroke-width="1.2" />
<line x1="823.6" y1="700.8" x2="823.6" y2="703.3" stroke="#999" stroke-width="1.2" />
<line x1="839.2" y1="700.8" x2="839.2" y2="703.3" stroke="#999" stroke-width="1.2" />
<line x1="854.8" y1="700.8" x2="854.8" y2="703.3" stroke="#999" stroke-width="1.2" />
<line x1="870.4" y1="700.8" x2="870.4" y2="703.3" stroke="#999" stroke-width="1.2" />
<line x1="885.9" y1="700.8" x2="885.9" y2="703.3" stroke="#999" stroke-width="1.2" />
<line x1="901.5" y1="700.8" x2="901.5" y2="703.3" stroke="#999" stroke-width="1.2" />
<line x1="917.1" y1="700.8" x2="917.1" y2="703.3" stroke="#999" stroke-width="1.2" />
<line x1="932.7" y1="700.8" x2="932.7" y2="703.3" stroke="#999" stroke-width="1.2" />
<line x1="948.3" y1="700.8" x2="948.3" y2="703.3" stroke="#999" stroke-width="1.2" />
<line x1="963.9" y1="700.8" x2="963.9" y2="703.3" stroke="#999" stroke-width="1.2" />
<line x1="979.5" y1="700.8" x2="979.5" y2="703.3" stroke="#999" stroke-width="1.2" />
<line x1="995" y1="700.8" x2="995" y2="703.3" stroke="#999" stroke-width="1.2" />
<line x1="1010.6" y1="700.8" x2="1010.6" y2="703.3" stroke="#999" stroke-width="1.2" />
<line x1="1026.2" y1="700.8" x2="1026.2" y2="703.3" stroke="#999" stroke-width="1.2" />
<line x1="1041.8" y1="700.8" x2="1041.8" y2="703.3" stroke="#999" stroke-width="1.2" />
<line x1="1057.4" y1="700.8" x2="1057.4" y2="703.3" stroke="#999" stroke-width="1.2" />
<line x1="1073" y1="700.8" x2="1073" y2="703.3" stroke="#999" stroke-width="1.2" />
<line x1="1088.6" y1="700.8" x2="1088.6" y2="703.3" stroke="#999" stroke-width="1.2" />
<line x1="1104.2" y1="700.8" x2="1104.2" y2="703.3" stroke="#999" stroke-width="1.2" />
<line x1="1119.7" y1="700.8" x2="1119.7" y2="703.3" stroke="#999" stroke-width="1.2" />
<line x1="1135.3" y1="700.8" x2="1135.3" y2="703.3" stroke="#999" stroke-width="1.2" />
<line x1="1150.9" y1="700.8" x2="1150.9" y2="703.3" stroke="#999" stroke-width="1.2" />
<line x1="1166.5" y1="700.8" x2="1166.5" y2="703.3" stroke="#999" stroke-width="1.2" />
<line x1="1182.1" y1="700.8" x2="1182.1" y2="703.3" stroke="#999" stroke-width="1.2" />
<line x1="1197.7" y1="700.8" x2="1197.7" y2="703.3" stroke="#999" stroke-width="1.2" />
<line x1="1213.3" y1="700.8" x2="1213.3" y2="703.3" stroke="#999" stroke-width="1.2" />
<line x1="1228.8" y1="700.8" x2="1228.8" y2="703.3" stroke="#999" stroke-width="1.2" />
<line x1="1244.4" y1="700.8" x2="1244.4" y2="703.3" stroke="#999" stroke-width="1.2" />
<line x1="1260" y1="700.8" x2="1260" y2="703.3" stroke="#999" stroke-width="1.2" />
<line x1="712" y1="642.9" x2="714.5" y2="642.9" stroke="#999" stroke-width="1.2" />
<line x1="712" y1="587.4" x2="714.5" y2="587.4" stroke="#999" stroke-width="1.2" />
<line x1="712" y1="531.9" x2="714.5" y2="531.9" stroke="#999" stroke-width="1.2" />
<line x1="712" y1="476.4" x2="714.5" y2="476.4" stroke="#999" stroke-width="1.2" />
<text x="710" y="482.8" font-family='"Liberation Sans", sans-serif' font-size="24" font-weight="normal" fill="#000" text-anchor="end" textLength="53.8" lengthAdjust="spacingAndGlyphs" >1000</text>
<text x="710" y="544" font-family='"Liberation Sans", sans-serif' font-size="24" font-weight="normal" fill="#000" text-anchor="end" textLength="40.9" lengthAdjust="spacingAndGlyphs" >750</text>
<text x="710" y="602.9" font-family='"Liberation Sans", sans-serif' font-size="24" font-weight="normal" fill="#000" text-anchor="end" textLength="40.9" lengthAdjust="spacingAndGlyphs" >500</text>
<text x="710" y="662" font-family='"Liberation Sans", sans-serif' font-size="24" font-weight="normal" fill="#000" text-anchor="end" textLength="42.4" lengthAdjust="spacingAndGlyphs" >250</text>
<text x="710" y="700.8" font-family='"Liberation Sans", sans-serif' font-size="24" font-weight="normal" fill="#000" text-anchor="end" >0</text>
<text x="707.9" y="725.9" font-family='"Liberation Sans", sans-serif' font-size="23.5" font-weight="normal" fill="#000" text-anchor="start" textLength="28.4" lengthAdjust="spacingAndGlyphs" >10</text>
<text x="786" y="725.9" font-family='"Liberation Sans", sans-serif' font-size="23.5" font-weight="normal" fill="#000" text-anchor="start" textLength="28.4" lengthAdjust="spacingAndGlyphs" >20</text>
<text x="863.5" y="725.9" font-family='"Liberation Sans", sans-serif' font-size="23.5" font-weight="normal" fill="#000" text-anchor="start" textLength="28.4" lengthAdjust="spacingAndGlyphs" >30</text>
<text x="939.4" y="725.9" font-family='"Liberation Sans", sans-serif' font-size="23.5" font-weight="normal" fill="#000" text-anchor="start" textLength="28.4" lengthAdjust="spacingAndGlyphs" >40</text>
<text x="1019.1" y="725.9" font-family='"Liberation Sans", sans-serif' font-size="23.5" font-weight="normal" fill="#000" text-anchor="start" textLength="28.4" lengthAdjust="spacingAndGlyphs" >50</text>
<text x="1095.9" y="725.9" font-family='"Liberation Sans", sans-serif' font-size="23.5" font-weight="normal" fill="#000" text-anchor="start" textLength="28.4" lengthAdjust="spacingAndGlyphs" >60</text>
<text x="1174.7" y="725.9" font-family='"Liberation Sans", sans-serif' font-size="23.5" font-weight="normal" fill="#000" text-anchor="start" textLength="28.4" lengthAdjust="spacingAndGlyphs" >70</text>
<text x="1249.5" y="725.9" font-family='"Liberation Sans", sans-serif' font-size="23.5" font-weight="normal" fill="#000" text-anchor="start" textLength="28.4" lengthAdjust="spacingAndGlyphs" >80</text>
<text x="987.5" y="762.2" font-family='"Liberation Serif", serif' font-size="29" font-weight="normal" fill="#000" text-anchor="middle" textLength="193" lengthAdjust="spacingAndGlyphs" >Two-Theta(deg)</text>
<text x="647" y="609.8" font-family='"Liberation Serif", serif' font-size="31" font-weight="normal" fill="#000" text-anchor="middle" textLength="207" lengthAdjust="spacingAndGlyphs" transform="rotate(-90 647.0 609.8)">Intensity(Counts)</text>
<text transform="translate(651.8,456.3) scale(0.88,1)" font-family='"Liberation Serif", serif' font-size="36" font-weight="bold">d</text>
<rect x="975.1" y="542.6" width="117" height="35.3" fill="#fff" stroke="#333" stroke-width="1.8"/>
<text x="983.5" y="566.6" font-family='"Liberation Sans", sans-serif' font-size="21.3" font-weight="normal" fill="#000" text-anchor="start" textLength="97.4" lengthAdjust="spacingAndGlyphs" >B.cocoon</text>
</svg></body></html>
